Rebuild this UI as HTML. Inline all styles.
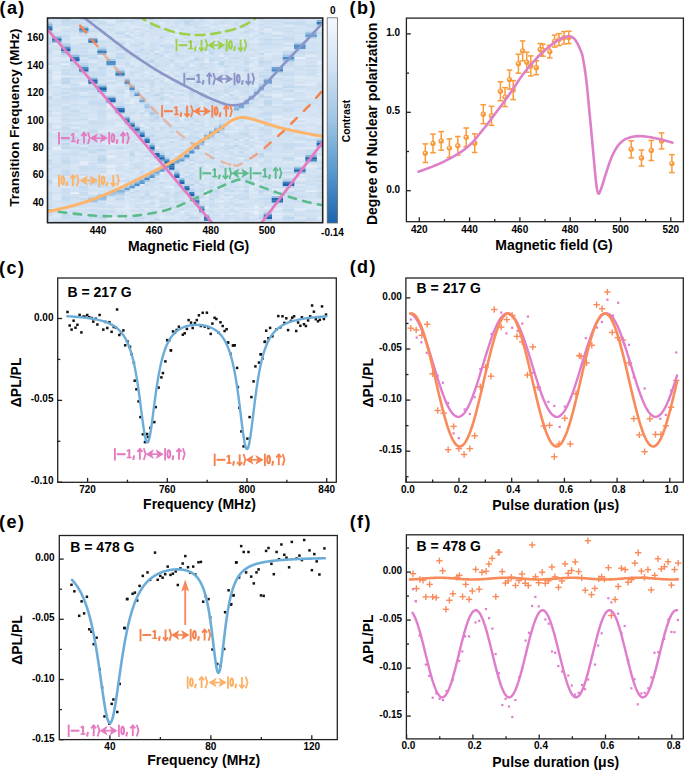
<!DOCTYPE html>
<html><head><meta charset="utf-8"><title>Figure</title>
<style>html,body{margin:0;padding:0;background:#fff;width:685px;height:770px;overflow:hidden}svg{display:block}</style>
</head><body><svg width="685" height="770" viewBox="0 0 685 770" style="font-family:'Liberation Sans',sans-serif;font-weight:bold"><defs><clipPath id="clipA"><rect x="47.5" y="18.0" width="275.2" height="204.7"/></clipPath><linearGradient id="cbar" x1="0" y1="0" x2="0" y2="1"><stop offset="0" stop-color="#f4f8fd"/><stop offset="0.25" stop-color="#d0e1f2"/><stop offset="0.5" stop-color="#9ec5e4"/><stop offset="0.75" stop-color="#5898cf"/><stop offset="1" stop-color="#1b64ad"/></linearGradient><linearGradient id="odl" gradientUnits="userSpaceOnUse" x1="80" y1="25" x2="236" y2="166"><stop offset="0" stop-color="#f4844e" stop-opacity="1"/><stop offset="0.1" stop-color="#f4844e" stop-opacity="0.95"/><stop offset="0.16" stop-color="#f4844e" stop-opacity="0.5"/><stop offset="1" stop-color="#f4844e" stop-opacity="0.42"/></linearGradient><linearGradient id="odr" gradientUnits="userSpaceOnUse" x1="236" y1="166" x2="323" y2="90"><stop offset="0" stop-color="#f4844e" stop-opacity="0.45"/><stop offset="0.45" stop-color="#f4844e" stop-opacity="1"/><stop offset="1" stop-color="#f4844e" stop-opacity="1"/></linearGradient><filter id="soft" x="0" y="0" width="1" height="1"><feGaussianBlur stdDeviation="0.45"/></filter></defs><g clip-path="url(#clipA)"><g filter="url(#soft)"><path fill="#eff5fb" d="M204.0 194.0h5.3v2.3h-5.3z"/><path fill="#ebf2fa" d="M52.1 147.0h9.4v2.3h-9.4zM70.2 192.0h9.3v2.3h-9.3z"/><path fill="#e9f1fa" d="M106.4 155.1h9.3v2.3h-9.3zM253.8 206.3h5.3v2.3h-5.3zM253.8 212.5h5.3v2.3h-5.3z"/><path fill="#e7f0f9" d="M52.1 42.6h9.4v2.3h-9.4zM52.1 179.7h9.4v2.3h-9.4zM106.4 104.0h9.3v2.3h-9.3zM106.4 142.9h9.3v2.3h-9.3zM169.2 185.9h5.3v2.3h-5.3zM194.1 46.7h5.3v2.3h-5.3zM204.0 189.9h5.3v2.3h-5.3z"/><path fill="#e6eff9" d="M47.5 65.1h4.9v2.3h-4.9zM47.5 220.7h4.9v2.3h-4.9zM106.4 165.4h9.3v2.3h-9.3zM106.4 216.6h9.3v2.3h-9.3zM115.4 216.6h9.3v2.3h-9.3zM144.4 89.6h5.3v2.3h-5.3zM154.3 147.0h5.3v2.3h-5.3zM159.3 194.0h5.3v2.3h-5.3zM164.3 101.9h5.3v2.3h-5.3zM184.2 132.6h5.3v2.3h-5.3zM199.1 106.0h5.3v2.3h-5.3zM204.0 206.3h5.3v2.3h-5.3zM219.0 44.6h5.3v2.3h-5.3zM228.9 42.6h5.3v2.3h-5.3zM294.0 56.9h11.6v2.3h-11.6z"/><path fill="#e4eef8" d="M61.2 63.0h9.3v2.3h-9.3zM70.2 212.5h9.3v2.3h-9.3zM79.2 161.3h9.3v2.3h-9.3zM97.3 136.7h9.3v2.3h-9.3zM115.4 183.8h9.3v2.3h-9.3zM129.5 101.9h5.3v2.3h-5.3zM139.4 124.4h5.3v2.3h-5.3zM144.4 71.2h5.3v2.3h-5.3zM144.4 126.5h5.3v2.3h-5.3zM144.4 157.2h5.3v2.3h-5.3zM159.3 216.6h5.3v2.3h-5.3zM164.3 93.7h5.3v2.3h-5.3zM174.2 34.4h5.3v2.3h-5.3zM174.2 44.6h5.3v2.3h-5.3zM174.2 153.1h5.3v2.3h-5.3zM179.2 116.3h5.3v2.3h-5.3zM179.2 210.4h5.3v2.3h-5.3zM204.0 142.9h5.3v2.3h-5.3zM219.0 54.8h5.3v2.3h-5.3zM219.0 101.9h5.3v2.3h-5.3zM219.0 200.2h5.3v2.3h-5.3zM223.9 163.3h5.3v2.3h-5.3zM228.9 212.5h5.3v2.3h-5.3zM238.8 157.2h5.3v2.3h-5.3zM253.8 179.7h5.3v2.3h-5.3zM253.8 210.4h5.3v2.3h-5.3zM282.7 97.8h11.6v2.3h-11.6zM294.0 177.7h11.6v2.3h-11.6zM305.3 189.9h11.6v2.3h-11.6zM316.6 61.0h6.4v2.3h-6.4zM316.6 155.1h6.4v2.3h-6.4zM316.6 206.3h6.4v2.3h-6.4z"/><path fill="#e2ecf8" d="M52.1 75.3h9.4v2.3h-9.4zM52.1 77.4h9.4v2.3h-9.4zM70.2 126.5h9.3v2.3h-9.3zM79.2 163.3h9.3v2.3h-9.3zM88.3 192.0h9.3v2.3h-9.3zM97.3 173.6h9.3v2.3h-9.3zM106.4 20.0h9.3v2.3h-9.3zM106.4 169.5h9.3v2.3h-9.3zM106.4 171.5h9.3v2.3h-9.3zM115.4 124.4h9.3v2.3h-9.3zM124.5 38.5h5.3v2.3h-5.3zM124.5 89.6h5.3v2.3h-5.3zM124.5 130.6h5.3v2.3h-5.3zM134.4 140.8h5.3v2.3h-5.3zM154.3 50.8h5.3v2.3h-5.3zM164.3 54.8h5.3v2.3h-5.3zM164.3 79.4h5.3v2.3h-5.3zM174.2 114.2h5.3v2.3h-5.3zM179.2 220.7h5.3v2.3h-5.3zM189.1 65.1h5.3v2.3h-5.3zM204.0 212.5h5.3v2.3h-5.3zM223.9 24.1h5.3v2.3h-5.3zM228.9 116.3h5.3v2.3h-5.3zM238.8 40.5h5.3v2.3h-5.3zM248.8 26.2h5.3v2.3h-5.3zM248.8 34.4h5.3v2.3h-5.3zM253.8 40.5h5.3v2.3h-5.3zM271.7 93.7h11.3v2.3h-11.3zM271.7 116.3h11.3v2.3h-11.3zM271.7 124.4h11.3v2.3h-11.3zM294.0 118.3h11.6v2.3h-11.6zM294.0 157.2h11.6v2.3h-11.6zM294.0 173.6h11.6v2.3h-11.6zM294.0 208.4h11.6v2.3h-11.6zM305.3 220.7h11.6v2.3h-11.6z"/><path fill="#e0ebf7" d="M52.1 71.2h9.4v2.3h-9.4zM52.1 83.5h9.4v2.3h-9.4zM52.1 112.2h9.4v2.3h-9.4zM52.1 130.6h9.4v2.3h-9.4zM61.2 58.9h9.3v2.3h-9.3zM61.2 185.9h9.3v2.3h-9.3zM106.4 106.0h9.3v2.3h-9.3zM115.4 177.7h9.3v2.3h-9.3zM129.5 99.9h5.3v2.3h-5.3zM129.5 198.1h5.3v2.3h-5.3zM134.4 159.2h5.3v2.3h-5.3zM144.4 114.2h5.3v2.3h-5.3zM144.4 200.2h5.3v2.3h-5.3zM144.4 208.4h5.3v2.3h-5.3zM154.3 204.3h5.3v2.3h-5.3zM164.3 40.5h5.3v2.3h-5.3zM164.3 71.2h5.3v2.3h-5.3zM164.3 185.9h5.3v2.3h-5.3zM169.2 173.6h5.3v2.3h-5.3zM174.2 42.6h5.3v2.3h-5.3zM174.2 132.6h5.3v2.3h-5.3zM179.2 204.3h5.3v2.3h-5.3zM184.2 87.6h5.3v2.3h-5.3zM184.2 101.9h5.3v2.3h-5.3zM184.2 116.3h5.3v2.3h-5.3zM189.1 161.3h5.3v2.3h-5.3zM204.0 58.9h5.3v2.3h-5.3zM204.0 61.0h5.3v2.3h-5.3zM204.0 165.4h5.3v2.3h-5.3zM214.0 61.0h5.3v2.3h-5.3zM223.9 93.7h5.3v2.3h-5.3zM223.9 130.6h5.3v2.3h-5.3zM223.9 177.7h5.3v2.3h-5.3zM228.9 91.7h5.3v2.3h-5.3zM228.9 130.6h5.3v2.3h-5.3zM238.8 138.8h5.3v2.3h-5.3zM238.8 173.6h5.3v2.3h-5.3zM248.8 65.1h5.3v2.3h-5.3zM253.8 85.6h5.3v2.3h-5.3zM253.8 163.3h5.3v2.3h-5.3zM263.7 52.8h8.3v2.3h-8.3zM271.7 85.6h11.3v2.3h-11.3zM271.7 177.7h11.3v2.3h-11.3zM271.7 187.9h11.3v2.3h-11.3zM271.7 212.5h11.3v2.3h-11.3zM282.7 24.1h11.6v2.3h-11.6zM282.7 118.3h11.6v2.3h-11.6zM305.3 54.8h11.6v2.3h-11.6zM305.3 147.0h11.6v2.3h-11.6zM305.3 165.4h11.6v2.3h-11.6zM316.6 63.0h6.4v2.3h-6.4zM316.6 73.3h6.4v2.3h-6.4zM316.6 157.2h6.4v2.3h-6.4z"/><path fill="#deeaf6" d="M47.5 118.3h4.9v2.3h-4.9zM52.1 28.2h9.4v2.3h-9.4zM52.1 126.5h9.4v2.3h-9.4zM61.2 85.6h9.3v2.3h-9.3zM79.2 40.5h9.3v2.3h-9.3zM79.2 83.5h9.3v2.3h-9.3zM88.3 26.2h9.3v2.3h-9.3zM88.3 61.0h9.3v2.3h-9.3zM97.3 54.8h9.3v2.3h-9.3zM97.3 130.6h9.3v2.3h-9.3zM106.4 183.8h9.3v2.3h-9.3zM106.4 218.6h9.3v2.3h-9.3zM115.4 185.9h9.3v2.3h-9.3zM124.5 42.6h5.3v2.3h-5.3zM124.5 206.3h5.3v2.3h-5.3zM124.5 210.4h5.3v2.3h-5.3zM129.5 26.2h5.3v2.3h-5.3zM129.5 97.8h5.3v2.3h-5.3zM129.5 212.5h5.3v2.3h-5.3zM134.4 26.2h5.3v2.3h-5.3zM134.4 30.3h5.3v2.3h-5.3zM134.4 65.1h5.3v2.3h-5.3zM134.4 153.1h5.3v2.3h-5.3zM159.3 22.1h5.3v2.3h-5.3zM159.3 106.0h5.3v2.3h-5.3zM164.3 147.0h5.3v2.3h-5.3zM169.2 138.8h5.3v2.3h-5.3zM174.2 30.3h5.3v2.3h-5.3zM179.2 61.0h5.3v2.3h-5.3zM194.1 112.2h5.3v2.3h-5.3zM194.1 128.5h5.3v2.3h-5.3zM199.1 44.6h5.3v2.3h-5.3zM199.1 175.6h5.3v2.3h-5.3zM199.1 216.6h5.3v2.3h-5.3zM204.0 24.1h5.3v2.3h-5.3zM204.0 42.6h5.3v2.3h-5.3zM204.0 50.8h5.3v2.3h-5.3zM204.0 91.7h5.3v2.3h-5.3zM204.0 181.8h5.3v2.3h-5.3zM204.0 198.1h5.3v2.3h-5.3zM209.0 26.2h5.3v2.3h-5.3zM214.0 38.5h5.3v2.3h-5.3zM214.0 81.5h5.3v2.3h-5.3zM214.0 151.1h5.3v2.3h-5.3zM219.0 28.2h5.3v2.3h-5.3zM219.0 142.9h5.3v2.3h-5.3zM223.9 40.5h5.3v2.3h-5.3zM223.9 196.1h5.3v2.3h-5.3zM228.9 122.4h5.3v2.3h-5.3zM228.9 196.1h5.3v2.3h-5.3zM233.9 126.5h5.3v2.3h-5.3zM243.8 136.7h5.3v2.3h-5.3zM248.8 56.9h5.3v2.3h-5.3zM248.8 69.2h5.3v2.3h-5.3zM248.8 108.1h5.3v2.3h-5.3zM248.8 138.8h5.3v2.3h-5.3zM248.8 149.0h5.3v2.3h-5.3zM248.8 173.6h5.3v2.3h-5.3zM248.8 185.9h5.3v2.3h-5.3zM248.8 216.6h5.3v2.3h-5.3zM253.8 28.2h5.3v2.3h-5.3zM253.8 61.0h5.3v2.3h-5.3zM253.8 120.3h5.3v2.3h-5.3zM253.8 183.8h5.3v2.3h-5.3zM258.7 104.0h5.3v2.3h-5.3zM258.7 124.4h5.3v2.3h-5.3zM263.7 28.2h8.3v2.3h-8.3zM271.7 32.3h11.3v2.3h-11.3zM282.7 42.6h11.6v2.3h-11.6zM282.7 46.7h11.6v2.3h-11.6zM282.7 161.3h11.6v2.3h-11.6zM282.7 187.9h11.6v2.3h-11.6zM294.0 83.5h11.6v2.3h-11.6zM305.3 83.5h11.6v2.3h-11.6zM316.6 216.6h6.4v2.3h-6.4zM316.6 220.7h6.4v2.3h-6.4z"/><path fill="#dde9f6" d="M47.5 153.1h4.9v2.3h-4.9zM52.1 56.9h9.4v2.3h-9.4zM52.1 124.4h9.4v2.3h-9.4zM52.1 149.0h9.4v2.3h-9.4zM52.1 198.1h9.4v2.3h-9.4zM61.2 26.2h9.3v2.3h-9.3zM61.2 75.3h9.3v2.3h-9.3zM70.2 36.4h9.3v2.3h-9.3zM79.2 81.5h9.3v2.3h-9.3zM79.2 91.7h9.3v2.3h-9.3zM79.2 144.9h9.3v2.3h-9.3zM79.2 175.6h9.3v2.3h-9.3zM97.3 36.4h9.3v2.3h-9.3zM97.3 140.8h9.3v2.3h-9.3zM106.4 52.8h9.3v2.3h-9.3zM106.4 79.4h9.3v2.3h-9.3zM106.4 91.7h9.3v2.3h-9.3zM106.4 114.2h9.3v2.3h-9.3zM106.4 116.3h9.3v2.3h-9.3zM106.4 202.2h9.3v2.3h-9.3zM115.4 83.5h9.3v2.3h-9.3zM115.4 171.5h9.3v2.3h-9.3zM115.4 181.8h9.3v2.3h-9.3zM124.5 48.7h5.3v2.3h-5.3zM124.5 93.7h5.3v2.3h-5.3zM124.5 95.8h5.3v2.3h-5.3zM124.5 101.9h5.3v2.3h-5.3zM124.5 153.1h5.3v2.3h-5.3zM124.5 163.3h5.3v2.3h-5.3zM124.5 173.6h5.3v2.3h-5.3zM124.5 192.0h5.3v2.3h-5.3zM124.5 196.1h5.3v2.3h-5.3zM124.5 216.6h5.3v2.3h-5.3zM124.5 220.7h5.3v2.3h-5.3zM129.5 58.9h5.3v2.3h-5.3zM129.5 106.0h5.3v2.3h-5.3zM134.4 36.4h5.3v2.3h-5.3zM139.4 87.6h5.3v2.3h-5.3zM139.4 110.1h5.3v2.3h-5.3zM139.4 183.8h5.3v2.3h-5.3zM144.4 22.1h5.3v2.3h-5.3zM144.4 85.6h5.3v2.3h-5.3zM144.4 144.9h5.3v2.3h-5.3zM144.4 147.0h5.3v2.3h-5.3zM154.3 165.4h5.3v2.3h-5.3zM159.3 140.8h5.3v2.3h-5.3zM159.3 179.7h5.3v2.3h-5.3zM159.3 208.4h5.3v2.3h-5.3zM164.3 36.4h5.3v2.3h-5.3zM164.3 77.4h5.3v2.3h-5.3zM164.3 179.7h5.3v2.3h-5.3zM169.2 65.1h5.3v2.3h-5.3zM169.2 95.8h5.3v2.3h-5.3zM174.2 91.7h5.3v2.3h-5.3zM174.2 108.1h5.3v2.3h-5.3zM179.2 81.5h5.3v2.3h-5.3zM179.2 128.5h5.3v2.3h-5.3zM184.2 34.4h5.3v2.3h-5.3zM184.2 97.8h5.3v2.3h-5.3zM184.2 173.6h5.3v2.3h-5.3zM189.1 56.9h5.3v2.3h-5.3zM189.1 87.6h5.3v2.3h-5.3zM194.1 212.5h5.3v2.3h-5.3zM199.1 108.1h5.3v2.3h-5.3zM199.1 177.7h5.3v2.3h-5.3zM204.0 52.8h5.3v2.3h-5.3zM209.0 20.0h5.3v2.3h-5.3zM209.0 89.6h5.3v2.3h-5.3zM209.0 167.4h5.3v2.3h-5.3zM209.0 169.5h5.3v2.3h-5.3zM214.0 118.3h5.3v2.3h-5.3zM219.0 67.1h5.3v2.3h-5.3zM219.0 69.2h5.3v2.3h-5.3zM219.0 81.5h5.3v2.3h-5.3zM223.9 56.9h5.3v2.3h-5.3zM223.9 192.0h5.3v2.3h-5.3zM228.9 114.2h5.3v2.3h-5.3zM228.9 175.6h5.3v2.3h-5.3zM233.9 40.5h5.3v2.3h-5.3zM233.9 130.6h5.3v2.3h-5.3zM233.9 192.0h5.3v2.3h-5.3zM238.8 79.4h5.3v2.3h-5.3zM238.8 95.8h5.3v2.3h-5.3zM238.8 99.9h5.3v2.3h-5.3zM238.8 181.8h5.3v2.3h-5.3zM238.8 187.9h5.3v2.3h-5.3zM238.8 200.2h5.3v2.3h-5.3zM243.8 144.9h5.3v2.3h-5.3zM248.8 40.5h5.3v2.3h-5.3zM248.8 50.8h5.3v2.3h-5.3zM248.8 63.0h5.3v2.3h-5.3zM248.8 126.5h5.3v2.3h-5.3zM248.8 177.7h5.3v2.3h-5.3zM248.8 187.9h5.3v2.3h-5.3zM248.8 192.0h5.3v2.3h-5.3zM248.8 210.4h5.3v2.3h-5.3zM253.8 56.9h5.3v2.3h-5.3zM253.8 67.1h5.3v2.3h-5.3zM253.8 136.7h5.3v2.3h-5.3zM253.8 144.9h5.3v2.3h-5.3zM253.8 153.1h5.3v2.3h-5.3zM253.8 165.4h5.3v2.3h-5.3zM253.8 175.6h5.3v2.3h-5.3zM258.7 159.2h5.3v2.3h-5.3zM258.7 167.4h5.3v2.3h-5.3zM258.7 181.8h5.3v2.3h-5.3zM263.7 206.3h8.3v2.3h-8.3zM271.7 95.8h11.3v2.3h-11.3zM271.7 120.3h11.3v2.3h-11.3zM271.7 208.4h11.3v2.3h-11.3zM271.7 216.6h11.3v2.3h-11.3zM294.0 140.8h11.6v2.3h-11.6zM294.0 147.0h11.6v2.3h-11.6zM305.3 95.8h11.6v2.3h-11.6zM316.6 28.2h6.4v2.3h-6.4zM316.6 122.4h6.4v2.3h-6.4z"/><path fill="#dbe8f5" d="M47.5 93.7h4.9v2.3h-4.9zM47.5 157.2h4.9v2.3h-4.9zM52.1 50.8h9.4v2.3h-9.4zM52.1 52.8h9.4v2.3h-9.4zM52.1 58.9h9.4v2.3h-9.4zM52.1 120.3h9.4v2.3h-9.4zM52.1 177.7h9.4v2.3h-9.4zM52.1 183.8h9.4v2.3h-9.4zM52.1 196.1h9.4v2.3h-9.4zM52.1 208.4h9.4v2.3h-9.4zM52.1 214.5h9.4v2.3h-9.4zM61.2 175.6h9.3v2.3h-9.3zM70.2 18.0h9.3v2.3h-9.3zM79.2 36.4h9.3v2.3h-9.3zM88.3 118.3h9.3v2.3h-9.3zM97.3 18.0h9.3v2.3h-9.3zM97.3 179.7h9.3v2.3h-9.3zM97.3 187.9h9.3v2.3h-9.3zM106.4 73.3h9.3v2.3h-9.3zM106.4 85.6h9.3v2.3h-9.3zM106.4 130.6h9.3v2.3h-9.3zM106.4 151.1h9.3v2.3h-9.3zM106.4 157.2h9.3v2.3h-9.3zM106.4 173.6h9.3v2.3h-9.3zM115.4 28.2h9.3v2.3h-9.3zM115.4 65.1h9.3v2.3h-9.3zM115.4 142.9h9.3v2.3h-9.3zM115.4 208.4h9.3v2.3h-9.3zM115.4 218.6h9.3v2.3h-9.3zM124.5 22.1h5.3v2.3h-5.3zM124.5 32.3h5.3v2.3h-5.3zM124.5 91.7h5.3v2.3h-5.3zM124.5 149.0h5.3v2.3h-5.3zM124.5 181.8h5.3v2.3h-5.3zM124.5 204.3h5.3v2.3h-5.3zM129.5 63.0h5.3v2.3h-5.3zM129.5 175.6h5.3v2.3h-5.3zM129.5 194.0h5.3v2.3h-5.3zM134.4 171.5h5.3v2.3h-5.3zM134.4 187.9h5.3v2.3h-5.3zM139.4 18.0h5.3v2.3h-5.3zM139.4 61.0h5.3v2.3h-5.3zM144.4 42.6h5.3v2.3h-5.3zM144.4 218.6h5.3v2.3h-5.3zM149.4 63.0h5.3v2.3h-5.3zM149.4 159.2h5.3v2.3h-5.3zM154.3 36.4h5.3v2.3h-5.3zM154.3 161.3h5.3v2.3h-5.3zM154.3 192.0h5.3v2.3h-5.3zM154.3 200.2h5.3v2.3h-5.3zM154.3 220.7h5.3v2.3h-5.3zM159.3 48.7h5.3v2.3h-5.3zM159.3 122.4h5.3v2.3h-5.3zM159.3 171.5h5.3v2.3h-5.3zM169.2 32.3h5.3v2.3h-5.3zM169.2 36.4h5.3v2.3h-5.3zM169.2 40.5h5.3v2.3h-5.3zM169.2 63.0h5.3v2.3h-5.3zM169.2 114.2h5.3v2.3h-5.3zM169.2 208.4h5.3v2.3h-5.3zM169.2 216.6h5.3v2.3h-5.3zM174.2 28.2h5.3v2.3h-5.3zM174.2 71.2h5.3v2.3h-5.3zM174.2 104.0h5.3v2.3h-5.3zM174.2 218.6h5.3v2.3h-5.3zM179.2 24.1h5.3v2.3h-5.3zM179.2 87.6h5.3v2.3h-5.3zM179.2 91.7h5.3v2.3h-5.3zM179.2 101.9h5.3v2.3h-5.3zM179.2 114.2h5.3v2.3h-5.3zM179.2 118.3h5.3v2.3h-5.3zM179.2 147.0h5.3v2.3h-5.3zM184.2 58.9h5.3v2.3h-5.3zM184.2 216.6h5.3v2.3h-5.3zM189.1 63.0h5.3v2.3h-5.3zM189.1 79.4h5.3v2.3h-5.3zM194.1 91.7h5.3v2.3h-5.3zM199.1 89.6h5.3v2.3h-5.3zM199.1 132.6h5.3v2.3h-5.3zM199.1 198.1h5.3v2.3h-5.3zM199.1 218.6h5.3v2.3h-5.3zM204.0 151.1h5.3v2.3h-5.3zM209.0 220.7h5.3v2.3h-5.3zM219.0 71.2h5.3v2.3h-5.3zM219.0 79.4h5.3v2.3h-5.3zM219.0 95.8h5.3v2.3h-5.3zM219.0 179.7h5.3v2.3h-5.3zM219.0 187.9h5.3v2.3h-5.3zM219.0 196.1h5.3v2.3h-5.3zM219.0 206.3h5.3v2.3h-5.3zM223.9 36.4h5.3v2.3h-5.3zM223.9 81.5h5.3v2.3h-5.3zM223.9 138.8h5.3v2.3h-5.3zM223.9 155.1h5.3v2.3h-5.3zM223.9 171.5h5.3v2.3h-5.3zM223.9 198.1h5.3v2.3h-5.3zM228.9 36.4h5.3v2.3h-5.3zM228.9 71.2h5.3v2.3h-5.3zM228.9 110.1h5.3v2.3h-5.3zM228.9 149.0h5.3v2.3h-5.3zM228.9 165.4h5.3v2.3h-5.3zM233.9 89.6h5.3v2.3h-5.3zM233.9 151.1h5.3v2.3h-5.3zM233.9 206.3h5.3v2.3h-5.3zM238.8 28.2h5.3v2.3h-5.3zM238.8 36.4h5.3v2.3h-5.3zM238.8 61.0h5.3v2.3h-5.3zM238.8 142.9h5.3v2.3h-5.3zM243.8 120.3h5.3v2.3h-5.3zM243.8 200.2h5.3v2.3h-5.3zM248.8 155.1h5.3v2.3h-5.3zM248.8 189.9h5.3v2.3h-5.3zM253.8 18.0h5.3v2.3h-5.3zM253.8 20.0h5.3v2.3h-5.3zM253.8 26.2h5.3v2.3h-5.3zM253.8 79.4h5.3v2.3h-5.3zM253.8 95.8h5.3v2.3h-5.3zM253.8 173.6h5.3v2.3h-5.3zM253.8 192.0h5.3v2.3h-5.3zM253.8 204.3h5.3v2.3h-5.3zM258.7 50.8h5.3v2.3h-5.3zM258.7 67.1h5.3v2.3h-5.3zM258.7 144.9h5.3v2.3h-5.3zM258.7 147.0h5.3v2.3h-5.3zM263.7 30.3h8.3v2.3h-8.3zM263.7 93.7h8.3v2.3h-8.3zM263.7 153.1h8.3v2.3h-8.3zM263.7 192.0h8.3v2.3h-8.3zM271.7 52.8h11.3v2.3h-11.3zM271.7 104.0h11.3v2.3h-11.3zM271.7 132.6h11.3v2.3h-11.3zM271.7 169.5h11.3v2.3h-11.3zM271.7 189.9h11.3v2.3h-11.3zM271.7 194.0h11.3v2.3h-11.3zM282.7 153.1h11.6v2.3h-11.6zM282.7 169.5h11.6v2.3h-11.6zM282.7 175.6h11.6v2.3h-11.6zM294.0 89.6h11.6v2.3h-11.6zM294.0 132.6h11.6v2.3h-11.6zM294.0 216.6h11.6v2.3h-11.6zM316.6 118.3h6.4v2.3h-6.4z"/><path fill="#d9e7f5" d="M47.5 20.0h4.9v2.3h-4.9zM47.5 44.6h4.9v2.3h-4.9zM47.5 120.3h4.9v2.3h-4.9zM52.1 79.4h9.4v2.3h-9.4zM52.1 118.3h9.4v2.3h-9.4zM52.1 155.1h9.4v2.3h-9.4zM52.1 185.9h9.4v2.3h-9.4zM52.1 194.0h9.4v2.3h-9.4zM61.2 56.9h9.3v2.3h-9.3zM61.2 104.0h9.3v2.3h-9.3zM70.2 42.6h9.3v2.3h-9.3zM70.2 75.3h9.3v2.3h-9.3zM79.2 93.7h9.3v2.3h-9.3zM79.2 101.9h9.3v2.3h-9.3zM79.2 110.1h9.3v2.3h-9.3zM79.2 151.1h9.3v2.3h-9.3zM88.3 153.1h9.3v2.3h-9.3zM106.4 42.6h9.3v2.3h-9.3zM106.4 67.1h9.3v2.3h-9.3zM106.4 108.1h9.3v2.3h-9.3zM106.4 126.5h9.3v2.3h-9.3zM106.4 128.5h9.3v2.3h-9.3zM115.4 38.5h9.3v2.3h-9.3zM115.4 50.8h9.3v2.3h-9.3zM115.4 128.5h9.3v2.3h-9.3zM115.4 136.7h9.3v2.3h-9.3zM124.5 24.1h5.3v2.3h-5.3zM124.5 44.6h5.3v2.3h-5.3zM124.5 67.1h5.3v2.3h-5.3zM124.5 69.2h5.3v2.3h-5.3zM124.5 142.9h5.3v2.3h-5.3zM129.5 40.5h5.3v2.3h-5.3zM129.5 138.8h5.3v2.3h-5.3zM129.5 147.0h5.3v2.3h-5.3zM129.5 189.9h5.3v2.3h-5.3zM134.4 63.0h5.3v2.3h-5.3zM134.4 73.3h5.3v2.3h-5.3zM134.4 99.9h5.3v2.3h-5.3zM134.4 116.3h5.3v2.3h-5.3zM134.4 134.7h5.3v2.3h-5.3zM134.4 169.5h5.3v2.3h-5.3zM134.4 212.5h5.3v2.3h-5.3zM139.4 91.7h5.3v2.3h-5.3zM144.4 63.0h5.3v2.3h-5.3zM144.4 149.0h5.3v2.3h-5.3zM144.4 153.1h5.3v2.3h-5.3zM144.4 171.5h5.3v2.3h-5.3zM149.4 73.3h5.3v2.3h-5.3zM149.4 192.0h5.3v2.3h-5.3zM154.3 58.9h5.3v2.3h-5.3zM154.3 67.1h5.3v2.3h-5.3zM154.3 73.3h5.3v2.3h-5.3zM154.3 85.6h5.3v2.3h-5.3zM154.3 89.6h5.3v2.3h-5.3zM154.3 185.9h5.3v2.3h-5.3zM159.3 24.1h5.3v2.3h-5.3zM159.3 42.6h5.3v2.3h-5.3zM159.3 85.6h5.3v2.3h-5.3zM159.3 173.6h5.3v2.3h-5.3zM159.3 177.7h5.3v2.3h-5.3zM164.3 67.1h5.3v2.3h-5.3zM164.3 116.3h5.3v2.3h-5.3zM169.2 42.6h5.3v2.3h-5.3zM169.2 81.5h5.3v2.3h-5.3zM169.2 89.6h5.3v2.3h-5.3zM169.2 175.6h5.3v2.3h-5.3zM169.2 189.9h5.3v2.3h-5.3zM169.2 198.1h5.3v2.3h-5.3zM174.2 61.0h5.3v2.3h-5.3zM179.2 42.6h5.3v2.3h-5.3zM179.2 95.8h5.3v2.3h-5.3zM179.2 175.6h5.3v2.3h-5.3zM184.2 38.5h5.3v2.3h-5.3zM184.2 46.7h5.3v2.3h-5.3zM184.2 140.8h5.3v2.3h-5.3zM184.2 149.0h5.3v2.3h-5.3zM189.1 26.2h5.3v2.3h-5.3zM189.1 169.5h5.3v2.3h-5.3zM194.1 61.0h5.3v2.3h-5.3zM194.1 87.6h5.3v2.3h-5.3zM194.1 153.1h5.3v2.3h-5.3zM194.1 163.3h5.3v2.3h-5.3zM194.1 167.4h5.3v2.3h-5.3zM194.1 183.8h5.3v2.3h-5.3zM199.1 104.0h5.3v2.3h-5.3zM199.1 136.7h5.3v2.3h-5.3zM204.0 65.1h5.3v2.3h-5.3zM204.0 75.3h5.3v2.3h-5.3zM204.0 99.9h5.3v2.3h-5.3zM204.0 116.3h5.3v2.3h-5.3zM204.0 124.4h5.3v2.3h-5.3zM204.0 169.5h5.3v2.3h-5.3zM204.0 173.6h5.3v2.3h-5.3zM209.0 106.0h5.3v2.3h-5.3zM214.0 71.2h5.3v2.3h-5.3zM214.0 155.1h5.3v2.3h-5.3zM214.0 173.6h5.3v2.3h-5.3zM214.0 179.7h5.3v2.3h-5.3zM214.0 185.9h5.3v2.3h-5.3zM214.0 198.1h5.3v2.3h-5.3zM214.0 200.2h5.3v2.3h-5.3zM219.0 24.1h5.3v2.3h-5.3zM219.0 106.0h5.3v2.3h-5.3zM219.0 194.0h5.3v2.3h-5.3zM223.9 63.0h5.3v2.3h-5.3zM223.9 79.4h5.3v2.3h-5.3zM228.9 18.0h5.3v2.3h-5.3zM228.9 26.2h5.3v2.3h-5.3zM228.9 67.1h5.3v2.3h-5.3zM228.9 124.4h5.3v2.3h-5.3zM228.9 142.9h5.3v2.3h-5.3zM228.9 192.0h5.3v2.3h-5.3zM228.9 220.7h5.3v2.3h-5.3zM233.9 63.0h5.3v2.3h-5.3zM233.9 140.8h5.3v2.3h-5.3zM233.9 198.1h5.3v2.3h-5.3zM238.8 42.6h5.3v2.3h-5.3zM238.8 83.5h5.3v2.3h-5.3zM238.8 126.5h5.3v2.3h-5.3zM238.8 183.8h5.3v2.3h-5.3zM243.8 151.1h5.3v2.3h-5.3zM248.8 132.6h5.3v2.3h-5.3zM253.8 22.1h5.3v2.3h-5.3zM253.8 32.3h5.3v2.3h-5.3zM253.8 46.7h5.3v2.3h-5.3zM253.8 54.8h5.3v2.3h-5.3zM253.8 83.5h5.3v2.3h-5.3zM253.8 110.1h5.3v2.3h-5.3zM253.8 132.6h5.3v2.3h-5.3zM253.8 171.5h5.3v2.3h-5.3zM253.8 181.8h5.3v2.3h-5.3zM253.8 185.9h5.3v2.3h-5.3zM253.8 196.1h5.3v2.3h-5.3zM258.7 54.8h5.3v2.3h-5.3zM258.7 91.7h5.3v2.3h-5.3zM258.7 118.3h5.3v2.3h-5.3zM258.7 140.8h5.3v2.3h-5.3zM258.7 196.1h5.3v2.3h-5.3zM263.7 18.0h8.3v2.3h-8.3zM263.7 54.8h8.3v2.3h-8.3zM271.7 36.4h11.3v2.3h-11.3zM271.7 63.0h11.3v2.3h-11.3zM271.7 130.6h11.3v2.3h-11.3zM271.7 159.2h11.3v2.3h-11.3zM271.7 206.3h11.3v2.3h-11.3zM271.7 214.5h11.3v2.3h-11.3zM282.7 48.7h11.6v2.3h-11.6zM282.7 126.5h11.6v2.3h-11.6zM294.0 63.0h11.6v2.3h-11.6zM294.0 75.3h11.6v2.3h-11.6zM294.0 122.4h11.6v2.3h-11.6zM294.0 163.3h11.6v2.3h-11.6zM294.0 179.7h11.6v2.3h-11.6zM294.0 183.8h11.6v2.3h-11.6zM294.0 198.1h11.6v2.3h-11.6zM305.3 38.5h11.6v2.3h-11.6zM305.3 81.5h11.6v2.3h-11.6zM305.3 91.7h11.6v2.3h-11.6zM305.3 108.1h11.6v2.3h-11.6zM305.3 118.3h11.6v2.3h-11.6zM305.3 126.5h11.6v2.3h-11.6zM305.3 134.7h11.6v2.3h-11.6zM305.3 204.3h11.6v2.3h-11.6zM316.6 77.4h6.4v2.3h-6.4zM316.6 134.7h6.4v2.3h-6.4zM316.6 169.5h6.4v2.3h-6.4zM316.6 198.1h6.4v2.3h-6.4zM316.6 218.6h6.4v2.3h-6.4z"/><path fill="#d7e6f4" d="M47.5 58.9h4.9v2.3h-4.9zM47.5 91.7h4.9v2.3h-4.9zM47.5 108.1h4.9v2.3h-4.9zM47.5 116.3h4.9v2.3h-4.9zM47.5 210.4h4.9v2.3h-4.9zM47.5 216.6h4.9v2.3h-4.9zM52.1 22.1h9.4v2.3h-9.4zM52.1 65.1h9.4v2.3h-9.4zM52.1 67.1h9.4v2.3h-9.4zM52.1 73.3h9.4v2.3h-9.4zM52.1 89.6h9.4v2.3h-9.4zM52.1 95.8h9.4v2.3h-9.4zM52.1 106.0h9.4v2.3h-9.4zM52.1 116.3h9.4v2.3h-9.4zM52.1 132.6h9.4v2.3h-9.4zM52.1 138.8h9.4v2.3h-9.4zM52.1 140.8h9.4v2.3h-9.4zM52.1 142.9h9.4v2.3h-9.4zM52.1 144.9h9.4v2.3h-9.4zM52.1 181.8h9.4v2.3h-9.4zM52.1 187.9h9.4v2.3h-9.4zM52.1 189.9h9.4v2.3h-9.4zM52.1 216.6h9.4v2.3h-9.4zM61.2 149.0h9.3v2.3h-9.3zM61.2 204.3h9.3v2.3h-9.3zM70.2 38.5h9.3v2.3h-9.3zM70.2 40.5h9.3v2.3h-9.3zM70.2 122.4h9.3v2.3h-9.3zM70.2 142.9h9.3v2.3h-9.3zM70.2 175.6h9.3v2.3h-9.3zM79.2 128.5h9.3v2.3h-9.3zM79.2 157.2h9.3v2.3h-9.3zM79.2 196.1h9.3v2.3h-9.3zM88.3 22.1h9.3v2.3h-9.3zM88.3 48.7h9.3v2.3h-9.3zM88.3 185.9h9.3v2.3h-9.3zM97.3 38.5h9.3v2.3h-9.3zM106.4 22.1h9.3v2.3h-9.3zM106.4 26.2h9.3v2.3h-9.3zM106.4 46.7h9.3v2.3h-9.3zM106.4 87.6h9.3v2.3h-9.3zM106.4 118.3h9.3v2.3h-9.3zM106.4 140.8h9.3v2.3h-9.3zM106.4 181.8h9.3v2.3h-9.3zM106.4 198.1h9.3v2.3h-9.3zM115.4 24.1h9.3v2.3h-9.3zM115.4 93.7h9.3v2.3h-9.3zM115.4 116.3h9.3v2.3h-9.3zM115.4 122.4h9.3v2.3h-9.3zM115.4 138.8h9.3v2.3h-9.3zM115.4 149.0h9.3v2.3h-9.3zM115.4 159.2h9.3v2.3h-9.3zM124.5 18.0h5.3v2.3h-5.3zM124.5 155.1h5.3v2.3h-5.3zM124.5 161.3h5.3v2.3h-5.3zM124.5 167.4h5.3v2.3h-5.3zM124.5 202.2h5.3v2.3h-5.3zM124.5 208.4h5.3v2.3h-5.3zM124.5 212.5h5.3v2.3h-5.3zM124.5 214.5h5.3v2.3h-5.3zM129.5 24.1h5.3v2.3h-5.3zM129.5 34.4h5.3v2.3h-5.3zM129.5 50.8h5.3v2.3h-5.3zM129.5 61.0h5.3v2.3h-5.3zM129.5 116.3h5.3v2.3h-5.3zM129.5 161.3h5.3v2.3h-5.3zM129.5 173.6h5.3v2.3h-5.3zM129.5 206.3h5.3v2.3h-5.3zM134.4 52.8h5.3v2.3h-5.3zM134.4 61.0h5.3v2.3h-5.3zM134.4 97.8h5.3v2.3h-5.3zM134.4 114.2h5.3v2.3h-5.3zM134.4 118.3h5.3v2.3h-5.3zM134.4 151.1h5.3v2.3h-5.3zM134.4 202.2h5.3v2.3h-5.3zM139.4 36.4h5.3v2.3h-5.3zM139.4 38.5h5.3v2.3h-5.3zM139.4 56.9h5.3v2.3h-5.3zM139.4 144.9h5.3v2.3h-5.3zM139.4 153.1h5.3v2.3h-5.3zM139.4 194.0h5.3v2.3h-5.3zM144.4 28.2h5.3v2.3h-5.3zM144.4 40.5h5.3v2.3h-5.3zM144.4 44.6h5.3v2.3h-5.3zM144.4 75.3h5.3v2.3h-5.3zM144.4 112.2h5.3v2.3h-5.3zM144.4 161.3h5.3v2.3h-5.3zM149.4 56.9h5.3v2.3h-5.3zM154.3 75.3h5.3v2.3h-5.3zM154.3 79.4h5.3v2.3h-5.3zM154.3 101.9h5.3v2.3h-5.3zM154.3 128.5h5.3v2.3h-5.3zM154.3 132.6h5.3v2.3h-5.3zM154.3 189.9h5.3v2.3h-5.3zM159.3 46.7h5.3v2.3h-5.3zM159.3 75.3h5.3v2.3h-5.3zM159.3 210.4h5.3v2.3h-5.3zM159.3 214.5h5.3v2.3h-5.3zM164.3 24.1h5.3v2.3h-5.3zM164.3 216.6h5.3v2.3h-5.3zM169.2 24.1h5.3v2.3h-5.3zM169.2 28.2h5.3v2.3h-5.3zM169.2 52.8h5.3v2.3h-5.3zM169.2 73.3h5.3v2.3h-5.3zM169.2 112.2h5.3v2.3h-5.3zM169.2 144.9h5.3v2.3h-5.3zM169.2 177.7h5.3v2.3h-5.3zM169.2 192.0h5.3v2.3h-5.3zM169.2 202.2h5.3v2.3h-5.3zM174.2 58.9h5.3v2.3h-5.3zM174.2 77.4h5.3v2.3h-5.3zM174.2 124.4h5.3v2.3h-5.3zM174.2 138.8h5.3v2.3h-5.3zM174.2 204.3h5.3v2.3h-5.3zM174.2 216.6h5.3v2.3h-5.3zM179.2 52.8h5.3v2.3h-5.3zM179.2 140.8h5.3v2.3h-5.3zM179.2 198.1h5.3v2.3h-5.3zM179.2 212.5h5.3v2.3h-5.3zM184.2 122.4h5.3v2.3h-5.3zM189.1 42.6h5.3v2.3h-5.3zM189.1 46.7h5.3v2.3h-5.3zM189.1 108.1h5.3v2.3h-5.3zM194.1 52.8h5.3v2.3h-5.3zM194.1 122.4h5.3v2.3h-5.3zM199.1 71.2h5.3v2.3h-5.3zM199.1 93.7h5.3v2.3h-5.3zM199.1 101.9h5.3v2.3h-5.3zM199.1 149.0h5.3v2.3h-5.3zM204.0 20.0h5.3v2.3h-5.3zM204.0 85.6h5.3v2.3h-5.3zM204.0 114.2h5.3v2.3h-5.3zM204.0 120.3h5.3v2.3h-5.3zM204.0 128.5h5.3v2.3h-5.3zM204.0 175.6h5.3v2.3h-5.3zM204.0 196.1h5.3v2.3h-5.3zM209.0 18.0h5.3v2.3h-5.3zM209.0 95.8h5.3v2.3h-5.3zM209.0 128.5h5.3v2.3h-5.3zM214.0 26.2h5.3v2.3h-5.3zM214.0 67.1h5.3v2.3h-5.3zM214.0 142.9h5.3v2.3h-5.3zM214.0 171.5h5.3v2.3h-5.3zM214.0 181.8h5.3v2.3h-5.3zM214.0 218.6h5.3v2.3h-5.3zM219.0 52.8h5.3v2.3h-5.3zM219.0 87.6h5.3v2.3h-5.3zM219.0 108.1h5.3v2.3h-5.3zM219.0 144.9h5.3v2.3h-5.3zM219.0 171.5h5.3v2.3h-5.3zM219.0 189.9h5.3v2.3h-5.3zM219.0 214.5h5.3v2.3h-5.3zM223.9 77.4h5.3v2.3h-5.3zM223.9 179.7h5.3v2.3h-5.3zM223.9 183.8h5.3v2.3h-5.3zM223.9 208.4h5.3v2.3h-5.3zM228.9 77.4h5.3v2.3h-5.3zM228.9 99.9h5.3v2.3h-5.3zM228.9 106.0h5.3v2.3h-5.3zM228.9 120.3h5.3v2.3h-5.3zM228.9 132.6h5.3v2.3h-5.3zM228.9 179.7h5.3v2.3h-5.3zM228.9 204.3h5.3v2.3h-5.3zM228.9 218.6h5.3v2.3h-5.3zM233.9 30.3h5.3v2.3h-5.3zM233.9 93.7h5.3v2.3h-5.3zM233.9 116.3h5.3v2.3h-5.3zM233.9 157.2h5.3v2.3h-5.3zM233.9 208.4h5.3v2.3h-5.3zM238.8 30.3h5.3v2.3h-5.3zM238.8 71.2h5.3v2.3h-5.3zM238.8 75.3h5.3v2.3h-5.3zM238.8 77.4h5.3v2.3h-5.3zM238.8 169.5h5.3v2.3h-5.3zM238.8 210.4h5.3v2.3h-5.3zM243.8 108.1h5.3v2.3h-5.3zM243.8 208.4h5.3v2.3h-5.3zM248.8 83.5h5.3v2.3h-5.3zM248.8 91.7h5.3v2.3h-5.3zM248.8 122.4h5.3v2.3h-5.3zM248.8 169.5h5.3v2.3h-5.3zM248.8 196.1h5.3v2.3h-5.3zM248.8 206.3h5.3v2.3h-5.3zM253.8 24.1h5.3v2.3h-5.3zM253.8 36.4h5.3v2.3h-5.3zM253.8 38.5h5.3v2.3h-5.3zM253.8 63.0h5.3v2.3h-5.3zM253.8 75.3h5.3v2.3h-5.3zM253.8 108.1h5.3v2.3h-5.3zM253.8 138.8h5.3v2.3h-5.3zM253.8 147.0h5.3v2.3h-5.3zM253.8 208.4h5.3v2.3h-5.3zM253.8 220.7h5.3v2.3h-5.3zM258.7 22.1h5.3v2.3h-5.3zM258.7 97.8h5.3v2.3h-5.3zM258.7 110.1h5.3v2.3h-5.3zM263.7 48.7h8.3v2.3h-8.3zM263.7 56.9h8.3v2.3h-8.3zM263.7 136.7h8.3v2.3h-8.3zM263.7 179.7h8.3v2.3h-8.3zM271.7 48.7h11.3v2.3h-11.3zM271.7 50.8h11.3v2.3h-11.3zM271.7 75.3h11.3v2.3h-11.3zM271.7 114.2h11.3v2.3h-11.3zM271.7 153.1h11.3v2.3h-11.3zM271.7 179.7h11.3v2.3h-11.3zM271.7 183.8h11.3v2.3h-11.3zM271.7 220.7h11.3v2.3h-11.3zM282.7 212.5h11.6v2.3h-11.6zM294.0 61.0h11.6v2.3h-11.6zM294.0 77.4h11.6v2.3h-11.6zM294.0 79.4h11.6v2.3h-11.6zM294.0 101.9h11.6v2.3h-11.6zM305.3 77.4h11.6v2.3h-11.6zM305.3 120.3h11.6v2.3h-11.6zM305.3 136.7h11.6v2.3h-11.6zM305.3 142.9h11.6v2.3h-11.6zM305.3 163.3h11.6v2.3h-11.6zM305.3 167.4h11.6v2.3h-11.6zM305.3 185.9h11.6v2.3h-11.6zM305.3 198.1h11.6v2.3h-11.6zM305.3 206.3h11.6v2.3h-11.6zM316.6 26.2h6.4v2.3h-6.4zM316.6 46.7h6.4v2.3h-6.4zM316.6 67.1h6.4v2.3h-6.4zM316.6 69.2h6.4v2.3h-6.4zM316.6 79.4h6.4v2.3h-6.4zM316.6 136.7h6.4v2.3h-6.4zM316.6 151.1h6.4v2.3h-6.4zM316.6 159.2h6.4v2.3h-6.4z"/><path fill="#d5e4f4" d="M47.5 32.3h4.9v2.3h-4.9zM47.5 54.8h4.9v2.3h-4.9zM47.5 67.1h4.9v2.3h-4.9zM47.5 99.9h4.9v2.3h-4.9zM47.5 151.1h4.9v2.3h-4.9zM47.5 165.4h4.9v2.3h-4.9zM52.1 30.3h9.4v2.3h-9.4zM52.1 61.0h9.4v2.3h-9.4zM52.1 87.6h9.4v2.3h-9.4zM52.1 108.1h9.4v2.3h-9.4zM52.1 110.1h9.4v2.3h-9.4zM52.1 151.1h9.4v2.3h-9.4zM52.1 161.3h9.4v2.3h-9.4zM52.1 171.5h9.4v2.3h-9.4zM52.1 175.6h9.4v2.3h-9.4zM52.1 202.2h9.4v2.3h-9.4zM52.1 210.4h9.4v2.3h-9.4zM52.1 212.5h9.4v2.3h-9.4zM61.2 40.5h9.3v2.3h-9.3zM61.2 151.1h9.3v2.3h-9.3zM70.2 32.3h9.3v2.3h-9.3zM70.2 34.4h9.3v2.3h-9.3zM70.2 101.9h9.3v2.3h-9.3zM70.2 106.0h9.3v2.3h-9.3zM70.2 132.6h9.3v2.3h-9.3zM70.2 165.4h9.3v2.3h-9.3zM70.2 167.4h9.3v2.3h-9.3zM70.2 171.5h9.3v2.3h-9.3zM70.2 183.8h9.3v2.3h-9.3zM79.2 56.9h9.3v2.3h-9.3zM79.2 99.9h9.3v2.3h-9.3zM79.2 136.7h9.3v2.3h-9.3zM79.2 159.2h9.3v2.3h-9.3zM88.3 50.8h9.3v2.3h-9.3zM88.3 106.0h9.3v2.3h-9.3zM88.3 114.2h9.3v2.3h-9.3zM97.3 34.4h9.3v2.3h-9.3zM97.3 63.0h9.3v2.3h-9.3zM97.3 93.7h9.3v2.3h-9.3zM97.3 151.1h9.3v2.3h-9.3zM97.3 163.3h9.3v2.3h-9.3zM97.3 192.0h9.3v2.3h-9.3zM106.4 36.4h9.3v2.3h-9.3zM106.4 54.8h9.3v2.3h-9.3zM106.4 69.2h9.3v2.3h-9.3zM106.4 71.2h9.3v2.3h-9.3zM106.4 83.5h9.3v2.3h-9.3zM106.4 89.6h9.3v2.3h-9.3zM106.4 112.2h9.3v2.3h-9.3zM106.4 124.4h9.3v2.3h-9.3zM106.4 138.8h9.3v2.3h-9.3zM106.4 149.0h9.3v2.3h-9.3zM106.4 163.3h9.3v2.3h-9.3zM106.4 167.4h9.3v2.3h-9.3zM106.4 175.6h9.3v2.3h-9.3zM106.4 177.7h9.3v2.3h-9.3zM106.4 179.7h9.3v2.3h-9.3zM106.4 196.1h9.3v2.3h-9.3zM115.4 26.2h9.3v2.3h-9.3zM115.4 58.9h9.3v2.3h-9.3zM115.4 114.2h9.3v2.3h-9.3zM115.4 155.1h9.3v2.3h-9.3zM115.4 157.2h9.3v2.3h-9.3zM124.5 46.7h5.3v2.3h-5.3zM124.5 54.8h5.3v2.3h-5.3zM124.5 71.2h5.3v2.3h-5.3zM124.5 73.3h5.3v2.3h-5.3zM124.5 75.3h5.3v2.3h-5.3zM124.5 165.4h5.3v2.3h-5.3zM129.5 18.0h5.3v2.3h-5.3zM129.5 38.5h5.3v2.3h-5.3zM129.5 46.7h5.3v2.3h-5.3zM129.5 48.7h5.3v2.3h-5.3zM129.5 114.2h5.3v2.3h-5.3zM129.5 132.6h5.3v2.3h-5.3zM129.5 136.7h5.3v2.3h-5.3zM129.5 177.7h5.3v2.3h-5.3zM129.5 204.3h5.3v2.3h-5.3zM129.5 218.6h5.3v2.3h-5.3zM134.4 20.0h5.3v2.3h-5.3zM134.4 22.1h5.3v2.3h-5.3zM134.4 48.7h5.3v2.3h-5.3zM134.4 58.9h5.3v2.3h-5.3zM134.4 75.3h5.3v2.3h-5.3zM134.4 106.0h5.3v2.3h-5.3zM134.4 112.2h5.3v2.3h-5.3zM134.4 136.7h5.3v2.3h-5.3zM134.4 157.2h5.3v2.3h-5.3zM139.4 26.2h5.3v2.3h-5.3zM139.4 44.6h5.3v2.3h-5.3zM139.4 63.0h5.3v2.3h-5.3zM139.4 104.0h5.3v2.3h-5.3zM139.4 108.1h5.3v2.3h-5.3zM139.4 114.2h5.3v2.3h-5.3zM139.4 185.9h5.3v2.3h-5.3zM139.4 202.2h5.3v2.3h-5.3zM139.4 206.3h5.3v2.3h-5.3zM144.4 20.0h5.3v2.3h-5.3zM144.4 38.5h5.3v2.3h-5.3zM144.4 46.7h5.3v2.3h-5.3zM144.4 54.8h5.3v2.3h-5.3zM144.4 58.9h5.3v2.3h-5.3zM144.4 173.6h5.3v2.3h-5.3zM144.4 187.9h5.3v2.3h-5.3zM144.4 202.2h5.3v2.3h-5.3zM149.4 20.0h5.3v2.3h-5.3zM149.4 36.4h5.3v2.3h-5.3zM149.4 52.8h5.3v2.3h-5.3zM149.4 122.4h5.3v2.3h-5.3zM149.4 194.0h5.3v2.3h-5.3zM154.3 18.0h5.3v2.3h-5.3zM154.3 22.1h5.3v2.3h-5.3zM154.3 87.6h5.3v2.3h-5.3zM154.3 106.0h5.3v2.3h-5.3zM154.3 126.5h5.3v2.3h-5.3zM154.3 144.9h5.3v2.3h-5.3zM154.3 198.1h5.3v2.3h-5.3zM154.3 202.2h5.3v2.3h-5.3zM159.3 30.3h5.3v2.3h-5.3zM159.3 50.8h5.3v2.3h-5.3zM159.3 108.1h5.3v2.3h-5.3zM159.3 116.3h5.3v2.3h-5.3zM159.3 147.0h5.3v2.3h-5.3zM159.3 175.6h5.3v2.3h-5.3zM159.3 183.8h5.3v2.3h-5.3zM159.3 196.1h5.3v2.3h-5.3zM159.3 202.2h5.3v2.3h-5.3zM159.3 220.7h5.3v2.3h-5.3zM164.3 18.0h5.3v2.3h-5.3zM164.3 89.6h5.3v2.3h-5.3zM164.3 132.6h5.3v2.3h-5.3zM164.3 138.8h5.3v2.3h-5.3zM164.3 140.8h5.3v2.3h-5.3zM164.3 151.1h5.3v2.3h-5.3zM164.3 153.1h5.3v2.3h-5.3zM164.3 169.5h5.3v2.3h-5.3zM164.3 183.8h5.3v2.3h-5.3zM164.3 208.4h5.3v2.3h-5.3zM169.2 38.5h5.3v2.3h-5.3zM169.2 48.7h5.3v2.3h-5.3zM169.2 56.9h5.3v2.3h-5.3zM169.2 120.3h5.3v2.3h-5.3zM169.2 179.7h5.3v2.3h-5.3zM169.2 187.9h5.3v2.3h-5.3zM169.2 196.1h5.3v2.3h-5.3zM169.2 210.4h5.3v2.3h-5.3zM169.2 214.5h5.3v2.3h-5.3zM174.2 18.0h5.3v2.3h-5.3zM174.2 50.8h5.3v2.3h-5.3zM174.2 85.6h5.3v2.3h-5.3zM174.2 97.8h5.3v2.3h-5.3zM174.2 99.9h5.3v2.3h-5.3zM174.2 106.0h5.3v2.3h-5.3zM174.2 130.6h5.3v2.3h-5.3zM174.2 214.5h5.3v2.3h-5.3zM179.2 63.0h5.3v2.3h-5.3zM179.2 97.8h5.3v2.3h-5.3zM179.2 108.1h5.3v2.3h-5.3zM179.2 132.6h5.3v2.3h-5.3zM179.2 171.5h5.3v2.3h-5.3zM184.2 30.3h5.3v2.3h-5.3zM184.2 69.2h5.3v2.3h-5.3zM184.2 73.3h5.3v2.3h-5.3zM184.2 95.8h5.3v2.3h-5.3zM184.2 163.3h5.3v2.3h-5.3zM184.2 196.1h5.3v2.3h-5.3zM184.2 210.4h5.3v2.3h-5.3zM189.1 54.8h5.3v2.3h-5.3zM189.1 69.2h5.3v2.3h-5.3zM189.1 120.3h5.3v2.3h-5.3zM189.1 155.1h5.3v2.3h-5.3zM189.1 185.9h5.3v2.3h-5.3zM189.1 200.2h5.3v2.3h-5.3zM189.1 210.4h5.3v2.3h-5.3zM189.1 212.5h5.3v2.3h-5.3zM194.1 28.2h5.3v2.3h-5.3zM194.1 34.4h5.3v2.3h-5.3zM194.1 38.5h5.3v2.3h-5.3zM194.1 65.1h5.3v2.3h-5.3zM194.1 110.1h5.3v2.3h-5.3zM194.1 114.2h5.3v2.3h-5.3zM194.1 116.3h5.3v2.3h-5.3zM199.1 24.1h5.3v2.3h-5.3zM199.1 40.5h5.3v2.3h-5.3zM199.1 54.8h5.3v2.3h-5.3zM199.1 75.3h5.3v2.3h-5.3zM199.1 118.3h5.3v2.3h-5.3zM199.1 126.5h5.3v2.3h-5.3zM199.1 155.1h5.3v2.3h-5.3zM199.1 200.2h5.3v2.3h-5.3zM204.0 34.4h5.3v2.3h-5.3zM204.0 46.7h5.3v2.3h-5.3zM204.0 56.9h5.3v2.3h-5.3zM204.0 118.3h5.3v2.3h-5.3zM204.0 163.3h5.3v2.3h-5.3zM204.0 179.7h5.3v2.3h-5.3zM209.0 22.1h5.3v2.3h-5.3zM209.0 140.8h5.3v2.3h-5.3zM209.0 142.9h5.3v2.3h-5.3zM209.0 144.9h5.3v2.3h-5.3zM214.0 32.3h5.3v2.3h-5.3zM214.0 63.0h5.3v2.3h-5.3zM214.0 65.1h5.3v2.3h-5.3zM214.0 69.2h5.3v2.3h-5.3zM214.0 87.6h5.3v2.3h-5.3zM214.0 106.0h5.3v2.3h-5.3zM214.0 116.3h5.3v2.3h-5.3zM214.0 147.0h5.3v2.3h-5.3zM214.0 159.2h5.3v2.3h-5.3zM214.0 208.4h5.3v2.3h-5.3zM214.0 220.7h5.3v2.3h-5.3zM219.0 42.6h5.3v2.3h-5.3zM219.0 58.9h5.3v2.3h-5.3zM219.0 85.6h5.3v2.3h-5.3zM219.0 97.8h5.3v2.3h-5.3zM219.0 110.1h5.3v2.3h-5.3zM219.0 114.2h5.3v2.3h-5.3zM219.0 153.1h5.3v2.3h-5.3zM219.0 161.3h5.3v2.3h-5.3zM219.0 177.7h5.3v2.3h-5.3zM219.0 183.8h5.3v2.3h-5.3zM219.0 185.9h5.3v2.3h-5.3zM219.0 212.5h5.3v2.3h-5.3zM219.0 220.7h5.3v2.3h-5.3zM223.9 101.9h5.3v2.3h-5.3zM223.9 114.2h5.3v2.3h-5.3zM223.9 161.3h5.3v2.3h-5.3zM223.9 200.2h5.3v2.3h-5.3zM228.9 22.1h5.3v2.3h-5.3zM228.9 54.8h5.3v2.3h-5.3zM228.9 58.9h5.3v2.3h-5.3zM228.9 65.1h5.3v2.3h-5.3zM228.9 75.3h5.3v2.3h-5.3zM228.9 101.9h5.3v2.3h-5.3zM228.9 173.6h5.3v2.3h-5.3zM233.9 20.0h5.3v2.3h-5.3zM233.9 77.4h5.3v2.3h-5.3zM233.9 91.7h5.3v2.3h-5.3zM233.9 128.5h5.3v2.3h-5.3zM233.9 147.0h5.3v2.3h-5.3zM233.9 181.8h5.3v2.3h-5.3zM233.9 218.6h5.3v2.3h-5.3zM238.8 38.5h5.3v2.3h-5.3zM238.8 63.0h5.3v2.3h-5.3zM238.8 97.8h5.3v2.3h-5.3zM238.8 114.2h5.3v2.3h-5.3zM238.8 124.4h5.3v2.3h-5.3zM238.8 192.0h5.3v2.3h-5.3zM238.8 202.2h5.3v2.3h-5.3zM238.8 212.5h5.3v2.3h-5.3zM238.8 216.6h5.3v2.3h-5.3zM243.8 28.2h5.3v2.3h-5.3zM243.8 48.7h5.3v2.3h-5.3zM243.8 65.1h5.3v2.3h-5.3zM243.8 77.4h5.3v2.3h-5.3zM243.8 122.4h5.3v2.3h-5.3zM243.8 173.6h5.3v2.3h-5.3zM243.8 204.3h5.3v2.3h-5.3zM243.8 210.4h5.3v2.3h-5.3zM248.8 24.1h5.3v2.3h-5.3zM248.8 44.6h5.3v2.3h-5.3zM248.8 46.7h5.3v2.3h-5.3zM248.8 73.3h5.3v2.3h-5.3zM248.8 89.6h5.3v2.3h-5.3zM248.8 106.0h5.3v2.3h-5.3zM248.8 110.1h5.3v2.3h-5.3zM248.8 120.3h5.3v2.3h-5.3zM248.8 159.2h5.3v2.3h-5.3zM248.8 161.3h5.3v2.3h-5.3zM248.8 167.4h5.3v2.3h-5.3zM248.8 194.0h5.3v2.3h-5.3zM253.8 65.1h5.3v2.3h-5.3zM253.8 69.2h5.3v2.3h-5.3zM253.8 71.2h5.3v2.3h-5.3zM253.8 104.0h5.3v2.3h-5.3zM253.8 112.2h5.3v2.3h-5.3zM253.8 114.2h5.3v2.3h-5.3zM253.8 122.4h5.3v2.3h-5.3zM253.8 126.5h5.3v2.3h-5.3zM253.8 134.7h5.3v2.3h-5.3zM253.8 142.9h5.3v2.3h-5.3zM253.8 167.4h5.3v2.3h-5.3zM253.8 177.7h5.3v2.3h-5.3zM253.8 189.9h5.3v2.3h-5.3zM253.8 194.0h5.3v2.3h-5.3zM253.8 214.5h5.3v2.3h-5.3zM253.8 218.6h5.3v2.3h-5.3zM258.7 30.3h5.3v2.3h-5.3zM258.7 122.4h5.3v2.3h-5.3zM258.7 204.3h5.3v2.3h-5.3zM258.7 218.6h5.3v2.3h-5.3zM263.7 177.7h8.3v2.3h-8.3zM271.7 30.3h11.3v2.3h-11.3zM271.7 40.5h11.3v2.3h-11.3zM271.7 46.7h11.3v2.3h-11.3zM271.7 61.0h11.3v2.3h-11.3zM271.7 91.7h11.3v2.3h-11.3zM271.7 108.1h11.3v2.3h-11.3zM271.7 218.6h11.3v2.3h-11.3zM282.7 67.1h11.6v2.3h-11.6zM282.7 87.6h11.6v2.3h-11.6zM282.7 91.7h11.6v2.3h-11.6zM282.7 104.0h11.6v2.3h-11.6zM282.7 116.3h11.6v2.3h-11.6zM294.0 30.3h11.6v2.3h-11.6zM294.0 34.4h11.6v2.3h-11.6zM294.0 36.4h11.6v2.3h-11.6zM294.0 58.9h11.6v2.3h-11.6zM294.0 95.8h11.6v2.3h-11.6zM294.0 114.2h11.6v2.3h-11.6zM294.0 126.5h11.6v2.3h-11.6zM294.0 159.2h11.6v2.3h-11.6zM294.0 161.3h11.6v2.3h-11.6zM305.3 20.0h11.6v2.3h-11.6zM305.3 48.7h11.6v2.3h-11.6zM305.3 67.1h11.6v2.3h-11.6zM305.3 75.3h11.6v2.3h-11.6zM305.3 89.6h11.6v2.3h-11.6zM305.3 93.7h11.6v2.3h-11.6zM305.3 116.3h11.6v2.3h-11.6zM316.6 38.5h6.4v2.3h-6.4zM316.6 40.5h6.4v2.3h-6.4zM316.6 114.2h6.4v2.3h-6.4zM316.6 120.3h6.4v2.3h-6.4zM316.6 149.0h6.4v2.3h-6.4zM316.6 202.2h6.4v2.3h-6.4zM316.6 212.5h6.4v2.3h-6.4zM316.6 214.5h6.4v2.3h-6.4z"/><path fill="#d4e3f3" d="M47.5 85.6h4.9v2.3h-4.9zM47.5 87.6h4.9v2.3h-4.9zM47.5 89.6h4.9v2.3h-4.9zM47.5 128.5h4.9v2.3h-4.9zM47.5 130.6h4.9v2.3h-4.9zM47.5 144.9h4.9v2.3h-4.9zM47.5 187.9h4.9v2.3h-4.9zM47.5 218.6h4.9v2.3h-4.9zM52.1 26.2h9.4v2.3h-9.4zM52.1 48.7h9.4v2.3h-9.4zM52.1 69.2h9.4v2.3h-9.4zM52.1 81.5h9.4v2.3h-9.4zM52.1 97.8h9.4v2.3h-9.4zM52.1 101.9h9.4v2.3h-9.4zM52.1 159.2h9.4v2.3h-9.4zM52.1 167.4h9.4v2.3h-9.4zM52.1 204.3h9.4v2.3h-9.4zM61.2 93.7h9.3v2.3h-9.3zM61.2 208.4h9.3v2.3h-9.3zM70.2 134.7h9.3v2.3h-9.3zM70.2 173.6h9.3v2.3h-9.3zM70.2 185.9h9.3v2.3h-9.3zM70.2 187.9h9.3v2.3h-9.3zM70.2 204.3h9.3v2.3h-9.3zM79.2 20.0h9.3v2.3h-9.3zM79.2 108.1h9.3v2.3h-9.3zM79.2 114.2h9.3v2.3h-9.3zM79.2 122.4h9.3v2.3h-9.3zM79.2 214.5h9.3v2.3h-9.3zM79.2 216.6h9.3v2.3h-9.3zM88.3 32.3h9.3v2.3h-9.3zM88.3 58.9h9.3v2.3h-9.3zM88.3 69.2h9.3v2.3h-9.3zM88.3 110.1h9.3v2.3h-9.3zM88.3 116.3h9.3v2.3h-9.3zM88.3 147.0h9.3v2.3h-9.3zM88.3 155.1h9.3v2.3h-9.3zM88.3 157.2h9.3v2.3h-9.3zM88.3 187.9h9.3v2.3h-9.3zM88.3 202.2h9.3v2.3h-9.3zM88.3 206.3h9.3v2.3h-9.3zM97.3 32.3h9.3v2.3h-9.3zM97.3 58.9h9.3v2.3h-9.3zM97.3 95.8h9.3v2.3h-9.3zM97.3 108.1h9.3v2.3h-9.3zM97.3 128.5h9.3v2.3h-9.3zM97.3 181.8h9.3v2.3h-9.3zM97.3 200.2h9.3v2.3h-9.3zM97.3 218.6h9.3v2.3h-9.3zM106.4 30.3h9.3v2.3h-9.3zM106.4 75.3h9.3v2.3h-9.3zM106.4 136.7h9.3v2.3h-9.3zM106.4 153.1h9.3v2.3h-9.3zM106.4 212.5h9.3v2.3h-9.3zM106.4 214.5h9.3v2.3h-9.3zM115.4 63.0h9.3v2.3h-9.3zM115.4 85.6h9.3v2.3h-9.3zM115.4 87.6h9.3v2.3h-9.3zM115.4 97.8h9.3v2.3h-9.3zM115.4 126.5h9.3v2.3h-9.3zM115.4 151.1h9.3v2.3h-9.3zM115.4 153.1h9.3v2.3h-9.3zM115.4 202.2h9.3v2.3h-9.3zM115.4 210.4h9.3v2.3h-9.3zM124.5 124.4h5.3v2.3h-5.3zM124.5 144.9h5.3v2.3h-5.3zM124.5 159.2h5.3v2.3h-5.3zM124.5 175.6h5.3v2.3h-5.3zM124.5 198.1h5.3v2.3h-5.3zM129.5 22.1h5.3v2.3h-5.3zM129.5 28.2h5.3v2.3h-5.3zM129.5 69.2h5.3v2.3h-5.3zM129.5 169.5h5.3v2.3h-5.3zM129.5 179.7h5.3v2.3h-5.3zM129.5 202.2h5.3v2.3h-5.3zM129.5 214.5h5.3v2.3h-5.3zM134.4 24.1h5.3v2.3h-5.3zM134.4 38.5h5.3v2.3h-5.3zM134.4 40.5h5.3v2.3h-5.3zM134.4 46.7h5.3v2.3h-5.3zM134.4 87.6h5.3v2.3h-5.3zM134.4 104.0h5.3v2.3h-5.3zM134.4 198.1h5.3v2.3h-5.3zM139.4 22.1h5.3v2.3h-5.3zM139.4 30.3h5.3v2.3h-5.3zM139.4 71.2h5.3v2.3h-5.3zM139.4 83.5h5.3v2.3h-5.3zM139.4 93.7h5.3v2.3h-5.3zM139.4 106.0h5.3v2.3h-5.3zM139.4 122.4h5.3v2.3h-5.3zM139.4 140.8h5.3v2.3h-5.3zM139.4 147.0h5.3v2.3h-5.3zM139.4 192.0h5.3v2.3h-5.3zM144.4 26.2h5.3v2.3h-5.3zM144.4 32.3h5.3v2.3h-5.3zM144.4 36.4h5.3v2.3h-5.3zM144.4 48.7h5.3v2.3h-5.3zM144.4 65.1h5.3v2.3h-5.3zM144.4 69.2h5.3v2.3h-5.3zM144.4 73.3h5.3v2.3h-5.3zM144.4 81.5h5.3v2.3h-5.3zM144.4 99.9h5.3v2.3h-5.3zM144.4 116.3h5.3v2.3h-5.3zM144.4 132.6h5.3v2.3h-5.3zM144.4 163.3h5.3v2.3h-5.3zM144.4 167.4h5.3v2.3h-5.3zM144.4 169.5h5.3v2.3h-5.3zM144.4 185.9h5.3v2.3h-5.3zM149.4 42.6h5.3v2.3h-5.3zM149.4 65.1h5.3v2.3h-5.3zM149.4 67.1h5.3v2.3h-5.3zM149.4 91.7h5.3v2.3h-5.3zM149.4 97.8h5.3v2.3h-5.3zM149.4 99.9h5.3v2.3h-5.3zM149.4 101.9h5.3v2.3h-5.3zM149.4 177.7h5.3v2.3h-5.3zM149.4 200.2h5.3v2.3h-5.3zM149.4 216.6h5.3v2.3h-5.3zM154.3 38.5h5.3v2.3h-5.3zM154.3 40.5h5.3v2.3h-5.3zM154.3 44.6h5.3v2.3h-5.3zM154.3 61.0h5.3v2.3h-5.3zM154.3 110.1h5.3v2.3h-5.3zM154.3 122.4h5.3v2.3h-5.3zM154.3 124.4h5.3v2.3h-5.3zM154.3 159.2h5.3v2.3h-5.3zM154.3 208.4h5.3v2.3h-5.3zM154.3 212.5h5.3v2.3h-5.3zM159.3 20.0h5.3v2.3h-5.3zM159.3 26.2h5.3v2.3h-5.3zM159.3 56.9h5.3v2.3h-5.3zM159.3 124.4h5.3v2.3h-5.3zM159.3 189.9h5.3v2.3h-5.3zM159.3 212.5h5.3v2.3h-5.3zM164.3 30.3h5.3v2.3h-5.3zM164.3 38.5h5.3v2.3h-5.3zM164.3 52.8h5.3v2.3h-5.3zM164.3 56.9h5.3v2.3h-5.3zM164.3 81.5h5.3v2.3h-5.3zM164.3 99.9h5.3v2.3h-5.3zM164.3 114.2h5.3v2.3h-5.3zM164.3 118.3h5.3v2.3h-5.3zM164.3 130.6h5.3v2.3h-5.3zM164.3 175.6h5.3v2.3h-5.3zM164.3 202.2h5.3v2.3h-5.3zM164.3 220.7h5.3v2.3h-5.3zM169.2 20.0h5.3v2.3h-5.3zM169.2 22.1h5.3v2.3h-5.3zM169.2 67.1h5.3v2.3h-5.3zM169.2 75.3h5.3v2.3h-5.3zM169.2 83.5h5.3v2.3h-5.3zM169.2 85.6h5.3v2.3h-5.3zM169.2 104.0h5.3v2.3h-5.3zM169.2 106.0h5.3v2.3h-5.3zM169.2 108.1h5.3v2.3h-5.3zM169.2 132.6h5.3v2.3h-5.3zM169.2 204.3h5.3v2.3h-5.3zM174.2 46.7h5.3v2.3h-5.3zM174.2 48.7h5.3v2.3h-5.3zM174.2 101.9h5.3v2.3h-5.3zM174.2 144.9h5.3v2.3h-5.3zM174.2 187.9h5.3v2.3h-5.3zM174.2 212.5h5.3v2.3h-5.3zM179.2 26.2h5.3v2.3h-5.3zM179.2 30.3h5.3v2.3h-5.3zM179.2 36.4h5.3v2.3h-5.3zM179.2 46.7h5.3v2.3h-5.3zM179.2 58.9h5.3v2.3h-5.3zM179.2 77.4h5.3v2.3h-5.3zM179.2 120.3h5.3v2.3h-5.3zM179.2 134.7h5.3v2.3h-5.3zM179.2 161.3h5.3v2.3h-5.3zM179.2 202.2h5.3v2.3h-5.3zM179.2 218.6h5.3v2.3h-5.3zM184.2 52.8h5.3v2.3h-5.3zM184.2 81.5h5.3v2.3h-5.3zM184.2 93.7h5.3v2.3h-5.3zM184.2 99.9h5.3v2.3h-5.3zM184.2 104.0h5.3v2.3h-5.3zM184.2 130.6h5.3v2.3h-5.3zM184.2 142.9h5.3v2.3h-5.3zM184.2 144.9h5.3v2.3h-5.3zM184.2 147.0h5.3v2.3h-5.3zM184.2 159.2h5.3v2.3h-5.3zM184.2 177.7h5.3v2.3h-5.3zM184.2 198.1h5.3v2.3h-5.3zM189.1 28.2h5.3v2.3h-5.3zM189.1 48.7h5.3v2.3h-5.3zM189.1 73.3h5.3v2.3h-5.3zM189.1 165.4h5.3v2.3h-5.3zM189.1 181.8h5.3v2.3h-5.3zM189.1 220.7h5.3v2.3h-5.3zM194.1 20.0h5.3v2.3h-5.3zM194.1 36.4h5.3v2.3h-5.3zM194.1 67.1h5.3v2.3h-5.3zM194.1 77.4h5.3v2.3h-5.3zM194.1 134.7h5.3v2.3h-5.3zM194.1 173.6h5.3v2.3h-5.3zM194.1 177.7h5.3v2.3h-5.3zM194.1 185.9h5.3v2.3h-5.3zM194.1 192.0h5.3v2.3h-5.3zM194.1 210.4h5.3v2.3h-5.3zM194.1 214.5h5.3v2.3h-5.3zM199.1 32.3h5.3v2.3h-5.3zM199.1 36.4h5.3v2.3h-5.3zM199.1 61.0h5.3v2.3h-5.3zM199.1 85.6h5.3v2.3h-5.3zM199.1 157.2h5.3v2.3h-5.3zM199.1 167.4h5.3v2.3h-5.3zM199.1 179.7h5.3v2.3h-5.3zM204.0 18.0h5.3v2.3h-5.3zM204.0 28.2h5.3v2.3h-5.3zM204.0 32.3h5.3v2.3h-5.3zM204.0 77.4h5.3v2.3h-5.3zM204.0 83.5h5.3v2.3h-5.3zM204.0 93.7h5.3v2.3h-5.3zM204.0 110.1h5.3v2.3h-5.3zM204.0 122.4h5.3v2.3h-5.3zM204.0 144.9h5.3v2.3h-5.3zM204.0 149.0h5.3v2.3h-5.3zM204.0 155.1h5.3v2.3h-5.3zM204.0 167.4h5.3v2.3h-5.3zM204.0 210.4h5.3v2.3h-5.3zM209.0 54.8h5.3v2.3h-5.3zM209.0 73.3h5.3v2.3h-5.3zM209.0 126.5h5.3v2.3h-5.3zM209.0 138.8h5.3v2.3h-5.3zM209.0 163.3h5.3v2.3h-5.3zM209.0 175.6h5.3v2.3h-5.3zM209.0 218.6h5.3v2.3h-5.3zM214.0 20.0h5.3v2.3h-5.3zM214.0 79.4h5.3v2.3h-5.3zM214.0 97.8h5.3v2.3h-5.3zM214.0 101.9h5.3v2.3h-5.3zM214.0 163.3h5.3v2.3h-5.3zM214.0 165.4h5.3v2.3h-5.3zM214.0 183.8h5.3v2.3h-5.3zM214.0 210.4h5.3v2.3h-5.3zM219.0 26.2h5.3v2.3h-5.3zM219.0 83.5h5.3v2.3h-5.3zM219.0 116.3h5.3v2.3h-5.3zM219.0 118.3h5.3v2.3h-5.3zM219.0 138.8h5.3v2.3h-5.3zM219.0 149.0h5.3v2.3h-5.3zM219.0 204.3h5.3v2.3h-5.3zM219.0 210.4h5.3v2.3h-5.3zM219.0 216.6h5.3v2.3h-5.3zM223.9 44.6h5.3v2.3h-5.3zM223.9 58.9h5.3v2.3h-5.3zM223.9 67.1h5.3v2.3h-5.3zM223.9 83.5h5.3v2.3h-5.3zM223.9 95.8h5.3v2.3h-5.3zM223.9 99.9h5.3v2.3h-5.3zM223.9 126.5h5.3v2.3h-5.3zM228.9 28.2h5.3v2.3h-5.3zM228.9 48.7h5.3v2.3h-5.3zM228.9 50.8h5.3v2.3h-5.3zM228.9 63.0h5.3v2.3h-5.3zM228.9 83.5h5.3v2.3h-5.3zM228.9 108.1h5.3v2.3h-5.3zM228.9 118.3h5.3v2.3h-5.3zM228.9 155.1h5.3v2.3h-5.3zM228.9 187.9h5.3v2.3h-5.3zM228.9 200.2h5.3v2.3h-5.3zM228.9 206.3h5.3v2.3h-5.3zM233.9 32.3h5.3v2.3h-5.3zM233.9 36.4h5.3v2.3h-5.3zM233.9 50.8h5.3v2.3h-5.3zM233.9 58.9h5.3v2.3h-5.3zM233.9 71.2h5.3v2.3h-5.3zM233.9 99.9h5.3v2.3h-5.3zM233.9 120.3h5.3v2.3h-5.3zM233.9 161.3h5.3v2.3h-5.3zM233.9 167.4h5.3v2.3h-5.3zM233.9 173.6h5.3v2.3h-5.3zM233.9 183.8h5.3v2.3h-5.3zM233.9 187.9h5.3v2.3h-5.3zM233.9 212.5h5.3v2.3h-5.3zM238.8 22.1h5.3v2.3h-5.3zM238.8 44.6h5.3v2.3h-5.3zM238.8 46.7h5.3v2.3h-5.3zM238.8 52.8h5.3v2.3h-5.3zM238.8 65.1h5.3v2.3h-5.3zM238.8 85.6h5.3v2.3h-5.3zM238.8 118.3h5.3v2.3h-5.3zM238.8 128.5h5.3v2.3h-5.3zM238.8 140.8h5.3v2.3h-5.3zM238.8 153.1h5.3v2.3h-5.3zM238.8 175.6h5.3v2.3h-5.3zM238.8 177.7h5.3v2.3h-5.3zM238.8 206.3h5.3v2.3h-5.3zM238.8 214.5h5.3v2.3h-5.3zM238.8 218.6h5.3v2.3h-5.3zM243.8 34.4h5.3v2.3h-5.3zM243.8 36.4h5.3v2.3h-5.3zM243.8 52.8h5.3v2.3h-5.3zM243.8 95.8h5.3v2.3h-5.3zM243.8 163.3h5.3v2.3h-5.3zM243.8 169.5h5.3v2.3h-5.3zM243.8 179.7h5.3v2.3h-5.3zM243.8 187.9h5.3v2.3h-5.3zM248.8 32.3h5.3v2.3h-5.3zM248.8 52.8h5.3v2.3h-5.3zM248.8 58.9h5.3v2.3h-5.3zM248.8 67.1h5.3v2.3h-5.3zM248.8 79.4h5.3v2.3h-5.3zM248.8 114.2h5.3v2.3h-5.3zM248.8 116.3h5.3v2.3h-5.3zM248.8 118.3h5.3v2.3h-5.3zM248.8 130.6h5.3v2.3h-5.3zM248.8 151.1h5.3v2.3h-5.3zM248.8 165.4h5.3v2.3h-5.3zM248.8 175.6h5.3v2.3h-5.3zM248.8 198.1h5.3v2.3h-5.3zM248.8 202.2h5.3v2.3h-5.3zM248.8 204.3h5.3v2.3h-5.3zM248.8 212.5h5.3v2.3h-5.3zM248.8 220.7h5.3v2.3h-5.3zM253.8 44.6h5.3v2.3h-5.3zM253.8 58.9h5.3v2.3h-5.3zM253.8 73.3h5.3v2.3h-5.3zM253.8 101.9h5.3v2.3h-5.3zM253.8 106.0h5.3v2.3h-5.3zM253.8 118.3h5.3v2.3h-5.3zM253.8 124.4h5.3v2.3h-5.3zM253.8 130.6h5.3v2.3h-5.3zM253.8 140.8h5.3v2.3h-5.3zM253.8 151.1h5.3v2.3h-5.3zM253.8 161.3h5.3v2.3h-5.3zM253.8 169.5h5.3v2.3h-5.3zM253.8 202.2h5.3v2.3h-5.3zM253.8 216.6h5.3v2.3h-5.3zM258.7 99.9h5.3v2.3h-5.3zM258.7 101.9h5.3v2.3h-5.3zM258.7 136.7h5.3v2.3h-5.3zM258.7 142.9h5.3v2.3h-5.3zM258.7 187.9h5.3v2.3h-5.3zM263.7 24.1h8.3v2.3h-8.3zM263.7 106.0h8.3v2.3h-8.3zM263.7 108.1h8.3v2.3h-8.3zM263.7 116.3h8.3v2.3h-8.3zM263.7 122.4h8.3v2.3h-8.3zM271.7 18.0h11.3v2.3h-11.3zM271.7 22.1h11.3v2.3h-11.3zM271.7 26.2h11.3v2.3h-11.3zM271.7 54.8h11.3v2.3h-11.3zM271.7 83.5h11.3v2.3h-11.3zM271.7 118.3h11.3v2.3h-11.3zM271.7 122.4h11.3v2.3h-11.3zM271.7 128.5h11.3v2.3h-11.3zM271.7 134.7h11.3v2.3h-11.3zM271.7 147.0h11.3v2.3h-11.3zM271.7 163.3h11.3v2.3h-11.3zM271.7 165.4h11.3v2.3h-11.3zM271.7 171.5h11.3v2.3h-11.3zM282.7 20.0h11.6v2.3h-11.6zM282.7 93.7h11.6v2.3h-11.6zM282.7 112.2h11.6v2.3h-11.6zM282.7 136.7h11.6v2.3h-11.6zM282.7 140.8h11.6v2.3h-11.6zM282.7 173.6h11.6v2.3h-11.6zM282.7 189.9h11.6v2.3h-11.6zM294.0 38.5h11.6v2.3h-11.6zM294.0 97.8h11.6v2.3h-11.6zM294.0 104.0h11.6v2.3h-11.6zM294.0 108.1h11.6v2.3h-11.6zM294.0 110.1h11.6v2.3h-11.6zM294.0 116.3h11.6v2.3h-11.6zM294.0 134.7h11.6v2.3h-11.6zM294.0 187.9h11.6v2.3h-11.6zM294.0 192.0h11.6v2.3h-11.6zM294.0 204.3h11.6v2.3h-11.6zM305.3 18.0h11.6v2.3h-11.6zM305.3 28.2h11.6v2.3h-11.6zM305.3 58.9h11.6v2.3h-11.6zM305.3 63.0h11.6v2.3h-11.6zM305.3 79.4h11.6v2.3h-11.6zM305.3 97.8h11.6v2.3h-11.6zM305.3 104.0h11.6v2.3h-11.6zM305.3 106.0h11.6v2.3h-11.6zM305.3 110.1h11.6v2.3h-11.6zM305.3 124.4h11.6v2.3h-11.6zM305.3 130.6h11.6v2.3h-11.6zM305.3 132.6h11.6v2.3h-11.6zM305.3 140.8h11.6v2.3h-11.6zM305.3 173.6h11.6v2.3h-11.6zM305.3 187.9h11.6v2.3h-11.6zM305.3 194.0h11.6v2.3h-11.6zM305.3 212.5h11.6v2.3h-11.6zM316.6 18.0h6.4v2.3h-6.4zM316.6 52.8h6.4v2.3h-6.4zM316.6 54.8h6.4v2.3h-6.4zM316.6 56.9h6.4v2.3h-6.4zM316.6 58.9h6.4v2.3h-6.4zM316.6 71.2h6.4v2.3h-6.4zM316.6 91.7h6.4v2.3h-6.4zM316.6 116.3h6.4v2.3h-6.4zM316.6 189.9h6.4v2.3h-6.4zM316.6 200.2h6.4v2.3h-6.4z"/><path fill="#d2e2f3" d="M47.5 138.8h4.9v2.3h-4.9zM47.5 149.0h4.9v2.3h-4.9zM47.5 171.5h4.9v2.3h-4.9zM47.5 173.6h4.9v2.3h-4.9zM47.5 196.1h4.9v2.3h-4.9zM52.1 20.0h9.4v2.3h-9.4zM52.1 24.1h9.4v2.3h-9.4zM52.1 44.6h9.4v2.3h-9.4zM52.1 54.8h9.4v2.3h-9.4zM52.1 63.0h9.4v2.3h-9.4zM52.1 91.7h9.4v2.3h-9.4zM52.1 134.7h9.4v2.3h-9.4zM52.1 136.7h9.4v2.3h-9.4zM52.1 153.1h9.4v2.3h-9.4zM52.1 157.2h9.4v2.3h-9.4zM52.1 169.5h9.4v2.3h-9.4zM52.1 192.0h9.4v2.3h-9.4zM52.1 206.3h9.4v2.3h-9.4zM52.1 218.6h9.4v2.3h-9.4zM61.2 32.3h9.3v2.3h-9.3zM61.2 67.1h9.3v2.3h-9.3zM61.2 116.3h9.3v2.3h-9.3zM61.2 130.6h9.3v2.3h-9.3zM61.2 177.7h9.3v2.3h-9.3zM61.2 181.8h9.3v2.3h-9.3zM61.2 210.4h9.3v2.3h-9.3zM70.2 24.1h9.3v2.3h-9.3zM70.2 81.5h9.3v2.3h-9.3zM70.2 91.7h9.3v2.3h-9.3zM70.2 116.3h9.3v2.3h-9.3zM70.2 140.8h9.3v2.3h-9.3zM70.2 149.0h9.3v2.3h-9.3zM70.2 157.2h9.3v2.3h-9.3zM70.2 163.3h9.3v2.3h-9.3zM70.2 189.9h9.3v2.3h-9.3zM70.2 198.1h9.3v2.3h-9.3zM70.2 200.2h9.3v2.3h-9.3zM70.2 208.4h9.3v2.3h-9.3zM79.2 24.1h9.3v2.3h-9.3zM79.2 38.5h9.3v2.3h-9.3zM79.2 44.6h9.3v2.3h-9.3zM79.2 75.3h9.3v2.3h-9.3zM79.2 97.8h9.3v2.3h-9.3zM79.2 106.0h9.3v2.3h-9.3zM79.2 120.3h9.3v2.3h-9.3zM79.2 153.1h9.3v2.3h-9.3zM79.2 179.7h9.3v2.3h-9.3zM88.3 89.6h9.3v2.3h-9.3zM88.3 93.7h9.3v2.3h-9.3zM88.3 97.8h9.3v2.3h-9.3zM88.3 108.1h9.3v2.3h-9.3zM88.3 126.5h9.3v2.3h-9.3zM88.3 134.7h9.3v2.3h-9.3zM88.3 136.7h9.3v2.3h-9.3zM88.3 142.9h9.3v2.3h-9.3zM88.3 161.3h9.3v2.3h-9.3zM88.3 171.5h9.3v2.3h-9.3zM88.3 173.6h9.3v2.3h-9.3zM88.3 189.9h9.3v2.3h-9.3zM88.3 212.5h9.3v2.3h-9.3zM88.3 218.6h9.3v2.3h-9.3zM97.3 26.2h9.3v2.3h-9.3zM97.3 65.1h9.3v2.3h-9.3zM97.3 142.9h9.3v2.3h-9.3zM97.3 147.0h9.3v2.3h-9.3zM97.3 153.1h9.3v2.3h-9.3zM97.3 177.7h9.3v2.3h-9.3zM97.3 189.9h9.3v2.3h-9.3zM97.3 208.4h9.3v2.3h-9.3zM106.4 18.0h9.3v2.3h-9.3zM106.4 32.3h9.3v2.3h-9.3zM106.4 44.6h9.3v2.3h-9.3zM106.4 50.8h9.3v2.3h-9.3zM106.4 93.7h9.3v2.3h-9.3zM106.4 110.1h9.3v2.3h-9.3zM106.4 132.6h9.3v2.3h-9.3zM106.4 134.7h9.3v2.3h-9.3zM106.4 161.3h9.3v2.3h-9.3zM106.4 187.9h9.3v2.3h-9.3zM106.4 189.9h9.3v2.3h-9.3zM115.4 34.4h9.3v2.3h-9.3zM115.4 61.0h9.3v2.3h-9.3zM115.4 81.5h9.3v2.3h-9.3zM115.4 130.6h9.3v2.3h-9.3zM115.4 144.9h9.3v2.3h-9.3zM115.4 161.3h9.3v2.3h-9.3zM115.4 163.3h9.3v2.3h-9.3zM115.4 173.6h9.3v2.3h-9.3zM115.4 200.2h9.3v2.3h-9.3zM115.4 204.3h9.3v2.3h-9.3zM124.5 56.9h5.3v2.3h-5.3zM124.5 97.8h5.3v2.3h-5.3zM124.5 99.9h5.3v2.3h-5.3zM124.5 106.0h5.3v2.3h-5.3zM124.5 108.1h5.3v2.3h-5.3zM124.5 134.7h5.3v2.3h-5.3zM124.5 140.8h5.3v2.3h-5.3zM124.5 157.2h5.3v2.3h-5.3zM124.5 177.7h5.3v2.3h-5.3zM124.5 200.2h5.3v2.3h-5.3zM129.5 56.9h5.3v2.3h-5.3zM129.5 67.1h5.3v2.3h-5.3zM129.5 77.4h5.3v2.3h-5.3zM129.5 81.5h5.3v2.3h-5.3zM129.5 104.0h5.3v2.3h-5.3zM129.5 108.1h5.3v2.3h-5.3zM129.5 130.6h5.3v2.3h-5.3zM129.5 149.0h5.3v2.3h-5.3zM129.5 157.2h5.3v2.3h-5.3zM129.5 165.4h5.3v2.3h-5.3zM134.4 32.3h5.3v2.3h-5.3zM134.4 83.5h5.3v2.3h-5.3zM134.4 85.6h5.3v2.3h-5.3zM134.4 101.9h5.3v2.3h-5.3zM134.4 108.1h5.3v2.3h-5.3zM134.4 144.9h5.3v2.3h-5.3zM134.4 147.0h5.3v2.3h-5.3zM134.4 161.3h5.3v2.3h-5.3zM134.4 173.6h5.3v2.3h-5.3zM134.4 175.6h5.3v2.3h-5.3zM134.4 194.0h5.3v2.3h-5.3zM134.4 208.4h5.3v2.3h-5.3zM139.4 20.0h5.3v2.3h-5.3zM139.4 89.6h5.3v2.3h-5.3zM139.4 118.3h5.3v2.3h-5.3zM139.4 142.9h5.3v2.3h-5.3zM139.4 149.0h5.3v2.3h-5.3zM139.4 155.1h5.3v2.3h-5.3zM139.4 173.6h5.3v2.3h-5.3zM139.4 187.9h5.3v2.3h-5.3zM139.4 189.9h5.3v2.3h-5.3zM144.4 34.4h5.3v2.3h-5.3zM144.4 67.1h5.3v2.3h-5.3zM144.4 83.5h5.3v2.3h-5.3zM144.4 87.6h5.3v2.3h-5.3zM144.4 95.8h5.3v2.3h-5.3zM144.4 122.4h5.3v2.3h-5.3zM144.4 124.4h5.3v2.3h-5.3zM144.4 165.4h5.3v2.3h-5.3zM144.4 181.8h5.3v2.3h-5.3zM144.4 214.5h5.3v2.3h-5.3zM149.4 38.5h5.3v2.3h-5.3zM149.4 87.6h5.3v2.3h-5.3zM149.4 136.7h5.3v2.3h-5.3zM149.4 140.8h5.3v2.3h-5.3zM149.4 151.1h5.3v2.3h-5.3zM149.4 161.3h5.3v2.3h-5.3zM149.4 167.4h5.3v2.3h-5.3zM149.4 183.8h5.3v2.3h-5.3zM149.4 187.9h5.3v2.3h-5.3zM149.4 206.3h5.3v2.3h-5.3zM154.3 28.2h5.3v2.3h-5.3zM154.3 30.3h5.3v2.3h-5.3zM154.3 32.3h5.3v2.3h-5.3zM154.3 34.4h5.3v2.3h-5.3zM154.3 54.8h5.3v2.3h-5.3zM154.3 81.5h5.3v2.3h-5.3zM154.3 91.7h5.3v2.3h-5.3zM154.3 97.8h5.3v2.3h-5.3zM154.3 104.0h5.3v2.3h-5.3zM154.3 140.8h5.3v2.3h-5.3zM154.3 142.9h5.3v2.3h-5.3zM154.3 167.4h5.3v2.3h-5.3zM154.3 179.7h5.3v2.3h-5.3zM154.3 210.4h5.3v2.3h-5.3zM154.3 216.6h5.3v2.3h-5.3zM159.3 65.1h5.3v2.3h-5.3zM159.3 67.1h5.3v2.3h-5.3zM159.3 71.2h5.3v2.3h-5.3zM159.3 83.5h5.3v2.3h-5.3zM159.3 101.9h5.3v2.3h-5.3zM159.3 132.6h5.3v2.3h-5.3zM159.3 134.7h5.3v2.3h-5.3zM159.3 138.8h5.3v2.3h-5.3zM159.3 218.6h5.3v2.3h-5.3zM164.3 26.2h5.3v2.3h-5.3zM164.3 48.7h5.3v2.3h-5.3zM164.3 65.1h5.3v2.3h-5.3zM164.3 69.2h5.3v2.3h-5.3zM164.3 85.6h5.3v2.3h-5.3zM164.3 87.6h5.3v2.3h-5.3zM164.3 104.0h5.3v2.3h-5.3zM164.3 110.1h5.3v2.3h-5.3zM164.3 128.5h5.3v2.3h-5.3zM164.3 173.6h5.3v2.3h-5.3zM164.3 187.9h5.3v2.3h-5.3zM164.3 206.3h5.3v2.3h-5.3zM164.3 214.5h5.3v2.3h-5.3zM164.3 218.6h5.3v2.3h-5.3zM169.2 50.8h5.3v2.3h-5.3zM169.2 69.2h5.3v2.3h-5.3zM169.2 77.4h5.3v2.3h-5.3zM169.2 93.7h5.3v2.3h-5.3zM169.2 97.8h5.3v2.3h-5.3zM169.2 101.9h5.3v2.3h-5.3zM169.2 110.1h5.3v2.3h-5.3zM169.2 122.4h5.3v2.3h-5.3zM169.2 128.5h5.3v2.3h-5.3zM169.2 149.0h5.3v2.3h-5.3zM169.2 155.1h5.3v2.3h-5.3zM169.2 220.7h5.3v2.3h-5.3zM174.2 38.5h5.3v2.3h-5.3zM174.2 56.9h5.3v2.3h-5.3zM174.2 73.3h5.3v2.3h-5.3zM174.2 87.6h5.3v2.3h-5.3zM174.2 89.6h5.3v2.3h-5.3zM174.2 95.8h5.3v2.3h-5.3zM174.2 122.4h5.3v2.3h-5.3zM174.2 140.8h5.3v2.3h-5.3zM174.2 151.1h5.3v2.3h-5.3zM174.2 165.4h5.3v2.3h-5.3zM174.2 208.4h5.3v2.3h-5.3zM179.2 38.5h5.3v2.3h-5.3zM179.2 50.8h5.3v2.3h-5.3zM179.2 56.9h5.3v2.3h-5.3zM179.2 79.4h5.3v2.3h-5.3zM179.2 85.6h5.3v2.3h-5.3zM179.2 106.0h5.3v2.3h-5.3zM179.2 122.4h5.3v2.3h-5.3zM179.2 151.1h5.3v2.3h-5.3zM179.2 185.9h5.3v2.3h-5.3zM179.2 187.9h5.3v2.3h-5.3zM184.2 26.2h5.3v2.3h-5.3zM184.2 42.6h5.3v2.3h-5.3zM184.2 56.9h5.3v2.3h-5.3zM184.2 89.6h5.3v2.3h-5.3zM184.2 91.7h5.3v2.3h-5.3zM184.2 124.4h5.3v2.3h-5.3zM184.2 134.7h5.3v2.3h-5.3zM184.2 194.0h5.3v2.3h-5.3zM184.2 200.2h5.3v2.3h-5.3zM184.2 202.2h5.3v2.3h-5.3zM184.2 208.4h5.3v2.3h-5.3zM189.1 30.3h5.3v2.3h-5.3zM189.1 34.4h5.3v2.3h-5.3zM189.1 38.5h5.3v2.3h-5.3zM189.1 44.6h5.3v2.3h-5.3zM189.1 71.2h5.3v2.3h-5.3zM189.1 85.6h5.3v2.3h-5.3zM189.1 114.2h5.3v2.3h-5.3zM189.1 126.5h5.3v2.3h-5.3zM189.1 144.9h5.3v2.3h-5.3zM194.1 32.3h5.3v2.3h-5.3zM194.1 71.2h5.3v2.3h-5.3zM194.1 93.7h5.3v2.3h-5.3zM194.1 95.8h5.3v2.3h-5.3zM194.1 97.8h5.3v2.3h-5.3zM194.1 140.8h5.3v2.3h-5.3zM194.1 159.2h5.3v2.3h-5.3zM194.1 171.5h5.3v2.3h-5.3zM194.1 175.6h5.3v2.3h-5.3zM194.1 187.9h5.3v2.3h-5.3zM194.1 218.6h5.3v2.3h-5.3zM199.1 22.1h5.3v2.3h-5.3zM199.1 38.5h5.3v2.3h-5.3zM199.1 79.4h5.3v2.3h-5.3zM199.1 83.5h5.3v2.3h-5.3zM199.1 87.6h5.3v2.3h-5.3zM199.1 99.9h5.3v2.3h-5.3zM199.1 134.7h5.3v2.3h-5.3zM199.1 159.2h5.3v2.3h-5.3zM199.1 163.3h5.3v2.3h-5.3zM199.1 181.8h5.3v2.3h-5.3zM199.1 185.9h5.3v2.3h-5.3zM199.1 192.0h5.3v2.3h-5.3zM204.0 22.1h5.3v2.3h-5.3zM204.0 36.4h5.3v2.3h-5.3zM204.0 38.5h5.3v2.3h-5.3zM204.0 54.8h5.3v2.3h-5.3zM204.0 69.2h5.3v2.3h-5.3zM204.0 71.2h5.3v2.3h-5.3zM204.0 89.6h5.3v2.3h-5.3zM204.0 108.1h5.3v2.3h-5.3zM204.0 140.8h5.3v2.3h-5.3zM204.0 153.1h5.3v2.3h-5.3zM204.0 157.2h5.3v2.3h-5.3zM204.0 177.7h5.3v2.3h-5.3zM204.0 183.8h5.3v2.3h-5.3zM204.0 187.9h5.3v2.3h-5.3zM204.0 202.2h5.3v2.3h-5.3zM204.0 204.3h5.3v2.3h-5.3zM209.0 24.1h5.3v2.3h-5.3zM209.0 32.3h5.3v2.3h-5.3zM209.0 42.6h5.3v2.3h-5.3zM209.0 65.1h5.3v2.3h-5.3zM209.0 67.1h5.3v2.3h-5.3zM209.0 69.2h5.3v2.3h-5.3zM209.0 71.2h5.3v2.3h-5.3zM209.0 75.3h5.3v2.3h-5.3zM209.0 77.4h5.3v2.3h-5.3zM209.0 87.6h5.3v2.3h-5.3zM209.0 112.2h5.3v2.3h-5.3zM209.0 153.1h5.3v2.3h-5.3zM209.0 165.4h5.3v2.3h-5.3zM209.0 173.6h5.3v2.3h-5.3zM209.0 179.7h5.3v2.3h-5.3zM209.0 189.9h5.3v2.3h-5.3zM209.0 212.5h5.3v2.3h-5.3zM209.0 214.5h5.3v2.3h-5.3zM214.0 18.0h5.3v2.3h-5.3zM214.0 36.4h5.3v2.3h-5.3zM214.0 42.6h5.3v2.3h-5.3zM214.0 50.8h5.3v2.3h-5.3zM214.0 52.8h5.3v2.3h-5.3zM214.0 77.4h5.3v2.3h-5.3zM214.0 83.5h5.3v2.3h-5.3zM214.0 85.6h5.3v2.3h-5.3zM214.0 89.6h5.3v2.3h-5.3zM214.0 95.8h5.3v2.3h-5.3zM214.0 122.4h5.3v2.3h-5.3zM214.0 140.8h5.3v2.3h-5.3zM214.0 144.9h5.3v2.3h-5.3zM214.0 167.4h5.3v2.3h-5.3zM214.0 169.5h5.3v2.3h-5.3zM214.0 175.6h5.3v2.3h-5.3zM214.0 187.9h5.3v2.3h-5.3zM214.0 202.2h5.3v2.3h-5.3zM214.0 212.5h5.3v2.3h-5.3zM219.0 18.0h5.3v2.3h-5.3zM219.0 40.5h5.3v2.3h-5.3zM219.0 48.7h5.3v2.3h-5.3zM219.0 73.3h5.3v2.3h-5.3zM219.0 77.4h5.3v2.3h-5.3zM219.0 91.7h5.3v2.3h-5.3zM219.0 112.2h5.3v2.3h-5.3zM219.0 134.7h5.3v2.3h-5.3zM219.0 136.7h5.3v2.3h-5.3zM219.0 151.1h5.3v2.3h-5.3zM219.0 155.1h5.3v2.3h-5.3zM219.0 169.5h5.3v2.3h-5.3zM219.0 192.0h5.3v2.3h-5.3zM219.0 198.1h5.3v2.3h-5.3zM223.9 32.3h5.3v2.3h-5.3zM223.9 50.8h5.3v2.3h-5.3zM223.9 69.2h5.3v2.3h-5.3zM223.9 73.3h5.3v2.3h-5.3zM223.9 106.0h5.3v2.3h-5.3zM223.9 110.1h5.3v2.3h-5.3zM223.9 112.2h5.3v2.3h-5.3zM223.9 120.3h5.3v2.3h-5.3zM223.9 165.4h5.3v2.3h-5.3zM223.9 185.9h5.3v2.3h-5.3zM223.9 210.4h5.3v2.3h-5.3zM223.9 212.5h5.3v2.3h-5.3zM228.9 24.1h5.3v2.3h-5.3zM228.9 30.3h5.3v2.3h-5.3zM228.9 32.3h5.3v2.3h-5.3zM228.9 73.3h5.3v2.3h-5.3zM228.9 81.5h5.3v2.3h-5.3zM228.9 87.6h5.3v2.3h-5.3zM228.9 95.8h5.3v2.3h-5.3zM228.9 112.2h5.3v2.3h-5.3zM228.9 138.8h5.3v2.3h-5.3zM228.9 140.8h5.3v2.3h-5.3zM228.9 161.3h5.3v2.3h-5.3zM228.9 169.5h5.3v2.3h-5.3zM228.9 194.0h5.3v2.3h-5.3zM233.9 18.0h5.3v2.3h-5.3zM233.9 122.4h5.3v2.3h-5.3zM233.9 124.4h5.3v2.3h-5.3zM233.9 149.0h5.3v2.3h-5.3zM233.9 165.4h5.3v2.3h-5.3zM233.9 179.7h5.3v2.3h-5.3zM233.9 202.2h5.3v2.3h-5.3zM238.8 24.1h5.3v2.3h-5.3zM238.8 34.4h5.3v2.3h-5.3zM238.8 48.7h5.3v2.3h-5.3zM238.8 58.9h5.3v2.3h-5.3zM238.8 67.1h5.3v2.3h-5.3zM238.8 69.2h5.3v2.3h-5.3zM238.8 81.5h5.3v2.3h-5.3zM238.8 93.7h5.3v2.3h-5.3zM238.8 122.4h5.3v2.3h-5.3zM238.8 130.6h5.3v2.3h-5.3zM238.8 134.7h5.3v2.3h-5.3zM238.8 144.9h5.3v2.3h-5.3zM238.8 149.0h5.3v2.3h-5.3zM238.8 159.2h5.3v2.3h-5.3zM238.8 161.3h5.3v2.3h-5.3zM238.8 165.4h5.3v2.3h-5.3zM238.8 185.9h5.3v2.3h-5.3zM238.8 220.7h5.3v2.3h-5.3zM243.8 50.8h5.3v2.3h-5.3zM243.8 75.3h5.3v2.3h-5.3zM243.8 112.2h5.3v2.3h-5.3zM243.8 161.3h5.3v2.3h-5.3zM248.8 87.6h5.3v2.3h-5.3zM248.8 134.7h5.3v2.3h-5.3zM248.8 142.9h5.3v2.3h-5.3zM248.8 147.0h5.3v2.3h-5.3zM248.8 183.8h5.3v2.3h-5.3zM248.8 208.4h5.3v2.3h-5.3zM253.8 30.3h5.3v2.3h-5.3zM253.8 42.6h5.3v2.3h-5.3zM253.8 50.8h5.3v2.3h-5.3zM253.8 52.8h5.3v2.3h-5.3zM253.8 77.4h5.3v2.3h-5.3zM253.8 81.5h5.3v2.3h-5.3zM253.8 93.7h5.3v2.3h-5.3zM253.8 128.5h5.3v2.3h-5.3zM253.8 149.0h5.3v2.3h-5.3zM253.8 155.1h5.3v2.3h-5.3zM253.8 157.2h5.3v2.3h-5.3zM253.8 159.2h5.3v2.3h-5.3zM253.8 187.9h5.3v2.3h-5.3zM258.7 20.0h5.3v2.3h-5.3zM258.7 26.2h5.3v2.3h-5.3zM258.7 34.4h5.3v2.3h-5.3zM258.7 40.5h5.3v2.3h-5.3zM258.7 48.7h5.3v2.3h-5.3zM258.7 69.2h5.3v2.3h-5.3zM258.7 116.3h5.3v2.3h-5.3zM258.7 130.6h5.3v2.3h-5.3zM258.7 132.6h5.3v2.3h-5.3zM258.7 149.0h5.3v2.3h-5.3zM258.7 177.7h5.3v2.3h-5.3zM258.7 183.8h5.3v2.3h-5.3zM258.7 200.2h5.3v2.3h-5.3zM258.7 208.4h5.3v2.3h-5.3zM258.7 210.4h5.3v2.3h-5.3zM258.7 220.7h5.3v2.3h-5.3zM263.7 50.8h8.3v2.3h-8.3zM263.7 91.7h8.3v2.3h-8.3zM263.7 134.7h8.3v2.3h-8.3zM263.7 171.5h8.3v2.3h-8.3zM263.7 181.8h8.3v2.3h-8.3zM271.7 24.1h11.3v2.3h-11.3zM271.7 44.6h11.3v2.3h-11.3zM271.7 79.4h11.3v2.3h-11.3zM271.7 81.5h11.3v2.3h-11.3zM271.7 89.6h11.3v2.3h-11.3zM271.7 101.9h11.3v2.3h-11.3zM271.7 138.8h11.3v2.3h-11.3zM271.7 140.8h11.3v2.3h-11.3zM271.7 151.1h11.3v2.3h-11.3zM271.7 155.1h11.3v2.3h-11.3zM271.7 157.2h11.3v2.3h-11.3zM271.7 161.3h11.3v2.3h-11.3zM271.7 173.6h11.3v2.3h-11.3zM271.7 181.8h11.3v2.3h-11.3zM282.7 18.0h11.6v2.3h-11.6zM282.7 69.2h11.6v2.3h-11.6zM282.7 99.9h11.6v2.3h-11.6zM282.7 120.3h11.6v2.3h-11.6zM282.7 124.4h11.6v2.3h-11.6zM282.7 128.5h11.6v2.3h-11.6zM282.7 130.6h11.6v2.3h-11.6zM282.7 138.8h11.6v2.3h-11.6zM282.7 196.1h11.6v2.3h-11.6zM282.7 202.2h11.6v2.3h-11.6zM282.7 220.7h11.6v2.3h-11.6zM294.0 18.0h11.6v2.3h-11.6zM294.0 26.2h11.6v2.3h-11.6zM294.0 71.2h11.6v2.3h-11.6zM294.0 87.6h11.6v2.3h-11.6zM294.0 128.5h11.6v2.3h-11.6zM294.0 149.0h11.6v2.3h-11.6zM294.0 155.1h11.6v2.3h-11.6zM294.0 175.6h11.6v2.3h-11.6zM294.0 206.3h11.6v2.3h-11.6zM294.0 218.6h11.6v2.3h-11.6zM305.3 22.1h11.6v2.3h-11.6zM305.3 52.8h11.6v2.3h-11.6zM305.3 85.6h11.6v2.3h-11.6zM305.3 112.2h11.6v2.3h-11.6zM305.3 128.5h11.6v2.3h-11.6zM305.3 171.5h11.6v2.3h-11.6zM305.3 177.7h11.6v2.3h-11.6zM305.3 196.1h11.6v2.3h-11.6zM305.3 200.2h11.6v2.3h-11.6zM316.6 65.1h6.4v2.3h-6.4zM316.6 89.6h6.4v2.3h-6.4zM316.6 97.8h6.4v2.3h-6.4zM316.6 101.9h6.4v2.3h-6.4zM316.6 108.1h6.4v2.3h-6.4zM316.6 110.1h6.4v2.3h-6.4zM316.6 112.2h6.4v2.3h-6.4zM316.6 128.5h6.4v2.3h-6.4zM316.6 132.6h6.4v2.3h-6.4zM316.6 165.4h6.4v2.3h-6.4zM316.6 171.5h6.4v2.3h-6.4zM316.6 173.6h6.4v2.3h-6.4zM316.6 177.7h6.4v2.3h-6.4zM316.6 181.8h6.4v2.3h-6.4zM316.6 187.9h6.4v2.3h-6.4z"/><path fill="#d0e1f2" d="M47.5 18.0h4.9v2.3h-4.9zM47.5 56.9h4.9v2.3h-4.9zM47.5 61.0h4.9v2.3h-4.9zM47.5 106.0h4.9v2.3h-4.9zM47.5 112.2h4.9v2.3h-4.9zM47.5 136.7h4.9v2.3h-4.9zM47.5 140.8h4.9v2.3h-4.9zM47.5 155.1h4.9v2.3h-4.9zM47.5 177.7h4.9v2.3h-4.9zM47.5 185.9h4.9v2.3h-4.9zM47.5 189.9h4.9v2.3h-4.9zM52.1 18.0h9.4v2.3h-9.4zM52.1 46.7h9.4v2.3h-9.4zM52.1 85.6h9.4v2.3h-9.4zM52.1 114.2h9.4v2.3h-9.4zM52.1 122.4h9.4v2.3h-9.4zM52.1 173.6h9.4v2.3h-9.4zM52.1 220.7h9.4v2.3h-9.4zM61.2 65.1h9.3v2.3h-9.3zM61.2 83.5h9.3v2.3h-9.3zM61.2 89.6h9.3v2.3h-9.3zM61.2 101.9h9.3v2.3h-9.3zM61.2 110.1h9.3v2.3h-9.3zM61.2 122.4h9.3v2.3h-9.3zM61.2 140.8h9.3v2.3h-9.3zM61.2 167.4h9.3v2.3h-9.3zM61.2 218.6h9.3v2.3h-9.3zM70.2 48.7h9.3v2.3h-9.3zM70.2 79.4h9.3v2.3h-9.3zM70.2 99.9h9.3v2.3h-9.3zM70.2 108.1h9.3v2.3h-9.3zM70.2 112.2h9.3v2.3h-9.3zM70.2 118.3h9.3v2.3h-9.3zM70.2 120.3h9.3v2.3h-9.3zM70.2 138.8h9.3v2.3h-9.3zM70.2 155.1h9.3v2.3h-9.3zM70.2 169.5h9.3v2.3h-9.3zM70.2 194.0h9.3v2.3h-9.3zM70.2 202.2h9.3v2.3h-9.3zM79.2 52.8h9.3v2.3h-9.3zM79.2 79.4h9.3v2.3h-9.3zM79.2 104.0h9.3v2.3h-9.3zM79.2 116.3h9.3v2.3h-9.3zM79.2 140.8h9.3v2.3h-9.3zM79.2 171.5h9.3v2.3h-9.3zM79.2 183.8h9.3v2.3h-9.3zM79.2 189.9h9.3v2.3h-9.3zM79.2 206.3h9.3v2.3h-9.3zM79.2 210.4h9.3v2.3h-9.3zM79.2 212.5h9.3v2.3h-9.3zM79.2 218.6h9.3v2.3h-9.3zM88.3 34.4h9.3v2.3h-9.3zM88.3 46.7h9.3v2.3h-9.3zM88.3 52.8h9.3v2.3h-9.3zM88.3 67.1h9.3v2.3h-9.3zM88.3 85.6h9.3v2.3h-9.3zM88.3 112.2h9.3v2.3h-9.3zM88.3 124.4h9.3v2.3h-9.3zM88.3 132.6h9.3v2.3h-9.3zM88.3 159.2h9.3v2.3h-9.3zM88.3 194.0h9.3v2.3h-9.3zM88.3 214.5h9.3v2.3h-9.3zM97.3 20.0h9.3v2.3h-9.3zM97.3 28.2h9.3v2.3h-9.3zM97.3 56.9h9.3v2.3h-9.3zM97.3 81.5h9.3v2.3h-9.3zM97.3 97.8h9.3v2.3h-9.3zM97.3 124.4h9.3v2.3h-9.3zM97.3 126.5h9.3v2.3h-9.3zM97.3 132.6h9.3v2.3h-9.3zM97.3 165.4h9.3v2.3h-9.3zM106.4 34.4h9.3v2.3h-9.3zM106.4 38.5h9.3v2.3h-9.3zM106.4 48.7h9.3v2.3h-9.3zM106.4 56.9h9.3v2.3h-9.3zM106.4 144.9h9.3v2.3h-9.3zM106.4 185.9h9.3v2.3h-9.3zM106.4 200.2h9.3v2.3h-9.3zM106.4 208.4h9.3v2.3h-9.3zM115.4 22.1h9.3v2.3h-9.3zM115.4 36.4h9.3v2.3h-9.3zM115.4 44.6h9.3v2.3h-9.3zM115.4 77.4h9.3v2.3h-9.3zM115.4 95.8h9.3v2.3h-9.3zM115.4 118.3h9.3v2.3h-9.3zM115.4 120.3h9.3v2.3h-9.3zM115.4 132.6h9.3v2.3h-9.3zM115.4 167.4h9.3v2.3h-9.3zM115.4 169.5h9.3v2.3h-9.3zM115.4 175.6h9.3v2.3h-9.3zM115.4 212.5h9.3v2.3h-9.3zM115.4 214.5h9.3v2.3h-9.3zM124.5 26.2h5.3v2.3h-5.3zM124.5 28.2h5.3v2.3h-5.3zM124.5 30.3h5.3v2.3h-5.3zM124.5 40.5h5.3v2.3h-5.3zM124.5 58.9h5.3v2.3h-5.3zM124.5 61.0h5.3v2.3h-5.3zM124.5 65.1h5.3v2.3h-5.3zM124.5 87.6h5.3v2.3h-5.3zM124.5 110.1h5.3v2.3h-5.3zM124.5 112.2h5.3v2.3h-5.3zM124.5 114.2h5.3v2.3h-5.3zM124.5 126.5h5.3v2.3h-5.3zM124.5 147.0h5.3v2.3h-5.3zM124.5 151.1h5.3v2.3h-5.3zM124.5 171.5h5.3v2.3h-5.3zM129.5 110.1h5.3v2.3h-5.3zM129.5 118.3h5.3v2.3h-5.3zM129.5 142.9h5.3v2.3h-5.3zM129.5 187.9h5.3v2.3h-5.3zM129.5 200.2h5.3v2.3h-5.3zM129.5 220.7h5.3v2.3h-5.3zM134.4 42.6h5.3v2.3h-5.3zM134.4 56.9h5.3v2.3h-5.3zM134.4 67.1h5.3v2.3h-5.3zM134.4 77.4h5.3v2.3h-5.3zM134.4 81.5h5.3v2.3h-5.3zM134.4 95.8h5.3v2.3h-5.3zM134.4 110.1h5.3v2.3h-5.3zM134.4 120.3h5.3v2.3h-5.3zM134.4 122.4h5.3v2.3h-5.3zM134.4 155.1h5.3v2.3h-5.3zM134.4 192.0h5.3v2.3h-5.3zM134.4 196.1h5.3v2.3h-5.3zM134.4 210.4h5.3v2.3h-5.3zM139.4 24.1h5.3v2.3h-5.3zM139.4 28.2h5.3v2.3h-5.3zM139.4 40.5h5.3v2.3h-5.3zM139.4 46.7h5.3v2.3h-5.3zM139.4 58.9h5.3v2.3h-5.3zM139.4 73.3h5.3v2.3h-5.3zM139.4 77.4h5.3v2.3h-5.3zM139.4 151.1h5.3v2.3h-5.3zM139.4 157.2h5.3v2.3h-5.3zM139.4 159.2h5.3v2.3h-5.3zM139.4 175.6h5.3v2.3h-5.3zM139.4 200.2h5.3v2.3h-5.3zM139.4 210.4h5.3v2.3h-5.3zM139.4 214.5h5.3v2.3h-5.3zM139.4 218.6h5.3v2.3h-5.3zM144.4 50.8h5.3v2.3h-5.3zM144.4 93.7h5.3v2.3h-5.3zM144.4 120.3h5.3v2.3h-5.3zM144.4 196.1h5.3v2.3h-5.3zM144.4 210.4h5.3v2.3h-5.3zM144.4 212.5h5.3v2.3h-5.3zM144.4 216.6h5.3v2.3h-5.3zM149.4 22.1h5.3v2.3h-5.3zM149.4 30.3h5.3v2.3h-5.3zM149.4 40.5h5.3v2.3h-5.3zM149.4 46.7h5.3v2.3h-5.3zM149.4 71.2h5.3v2.3h-5.3zM149.4 77.4h5.3v2.3h-5.3zM149.4 104.0h5.3v2.3h-5.3zM149.4 165.4h5.3v2.3h-5.3zM149.4 189.9h5.3v2.3h-5.3zM149.4 198.1h5.3v2.3h-5.3zM149.4 204.3h5.3v2.3h-5.3zM154.3 20.0h5.3v2.3h-5.3zM154.3 26.2h5.3v2.3h-5.3zM154.3 46.7h5.3v2.3h-5.3zM154.3 48.7h5.3v2.3h-5.3zM154.3 69.2h5.3v2.3h-5.3zM154.3 71.2h5.3v2.3h-5.3zM154.3 83.5h5.3v2.3h-5.3zM154.3 95.8h5.3v2.3h-5.3zM154.3 134.7h5.3v2.3h-5.3zM154.3 175.6h5.3v2.3h-5.3zM154.3 181.8h5.3v2.3h-5.3zM154.3 183.8h5.3v2.3h-5.3zM154.3 187.9h5.3v2.3h-5.3zM154.3 194.0h5.3v2.3h-5.3zM154.3 196.1h5.3v2.3h-5.3zM154.3 214.5h5.3v2.3h-5.3zM159.3 18.0h5.3v2.3h-5.3zM159.3 38.5h5.3v2.3h-5.3zM159.3 52.8h5.3v2.3h-5.3zM159.3 58.9h5.3v2.3h-5.3zM159.3 61.0h5.3v2.3h-5.3zM159.3 93.7h5.3v2.3h-5.3zM159.3 99.9h5.3v2.3h-5.3zM159.3 104.0h5.3v2.3h-5.3zM159.3 110.1h5.3v2.3h-5.3zM159.3 130.6h5.3v2.3h-5.3zM159.3 192.0h5.3v2.3h-5.3zM164.3 20.0h5.3v2.3h-5.3zM164.3 22.1h5.3v2.3h-5.3zM164.3 28.2h5.3v2.3h-5.3zM164.3 42.6h5.3v2.3h-5.3zM164.3 58.9h5.3v2.3h-5.3zM164.3 61.0h5.3v2.3h-5.3zM164.3 75.3h5.3v2.3h-5.3zM164.3 95.8h5.3v2.3h-5.3zM164.3 106.0h5.3v2.3h-5.3zM164.3 112.2h5.3v2.3h-5.3zM164.3 171.5h5.3v2.3h-5.3zM164.3 177.7h5.3v2.3h-5.3zM164.3 189.9h5.3v2.3h-5.3zM164.3 210.4h5.3v2.3h-5.3zM164.3 212.5h5.3v2.3h-5.3zM169.2 18.0h5.3v2.3h-5.3zM169.2 30.3h5.3v2.3h-5.3zM169.2 34.4h5.3v2.3h-5.3zM169.2 54.8h5.3v2.3h-5.3zM169.2 79.4h5.3v2.3h-5.3zM169.2 116.3h5.3v2.3h-5.3zM169.2 134.7h5.3v2.3h-5.3zM169.2 142.9h5.3v2.3h-5.3zM169.2 147.0h5.3v2.3h-5.3zM169.2 157.2h5.3v2.3h-5.3zM169.2 171.5h5.3v2.3h-5.3zM169.2 181.8h5.3v2.3h-5.3zM169.2 183.8h5.3v2.3h-5.3zM169.2 200.2h5.3v2.3h-5.3zM174.2 26.2h5.3v2.3h-5.3zM174.2 36.4h5.3v2.3h-5.3zM174.2 134.7h5.3v2.3h-5.3zM174.2 142.9h5.3v2.3h-5.3zM174.2 157.2h5.3v2.3h-5.3zM174.2 179.7h5.3v2.3h-5.3zM174.2 181.8h5.3v2.3h-5.3zM179.2 22.1h5.3v2.3h-5.3zM179.2 48.7h5.3v2.3h-5.3zM179.2 69.2h5.3v2.3h-5.3zM179.2 71.2h5.3v2.3h-5.3zM179.2 73.3h5.3v2.3h-5.3zM179.2 83.5h5.3v2.3h-5.3zM179.2 112.2h5.3v2.3h-5.3zM179.2 124.4h5.3v2.3h-5.3zM179.2 136.7h5.3v2.3h-5.3zM179.2 142.9h5.3v2.3h-5.3zM179.2 153.1h5.3v2.3h-5.3zM179.2 165.4h5.3v2.3h-5.3zM179.2 169.5h5.3v2.3h-5.3zM179.2 173.6h5.3v2.3h-5.3zM179.2 194.0h5.3v2.3h-5.3zM179.2 206.3h5.3v2.3h-5.3zM179.2 214.5h5.3v2.3h-5.3zM184.2 28.2h5.3v2.3h-5.3zM184.2 44.6h5.3v2.3h-5.3zM184.2 54.8h5.3v2.3h-5.3zM184.2 61.0h5.3v2.3h-5.3zM184.2 83.5h5.3v2.3h-5.3zM184.2 106.0h5.3v2.3h-5.3zM184.2 151.1h5.3v2.3h-5.3zM184.2 179.7h5.3v2.3h-5.3zM184.2 181.8h5.3v2.3h-5.3zM189.1 36.4h5.3v2.3h-5.3zM189.1 52.8h5.3v2.3h-5.3zM189.1 77.4h5.3v2.3h-5.3zM189.1 81.5h5.3v2.3h-5.3zM189.1 99.9h5.3v2.3h-5.3zM189.1 175.6h5.3v2.3h-5.3zM189.1 202.2h5.3v2.3h-5.3zM189.1 208.4h5.3v2.3h-5.3zM189.1 218.6h5.3v2.3h-5.3zM194.1 63.0h5.3v2.3h-5.3zM194.1 101.9h5.3v2.3h-5.3zM194.1 108.1h5.3v2.3h-5.3zM194.1 132.6h5.3v2.3h-5.3zM194.1 155.1h5.3v2.3h-5.3zM194.1 157.2h5.3v2.3h-5.3zM194.1 165.4h5.3v2.3h-5.3zM194.1 196.1h5.3v2.3h-5.3zM194.1 206.3h5.3v2.3h-5.3zM194.1 220.7h5.3v2.3h-5.3zM199.1 46.7h5.3v2.3h-5.3zM199.1 52.8h5.3v2.3h-5.3zM199.1 69.2h5.3v2.3h-5.3zM199.1 114.2h5.3v2.3h-5.3zM199.1 169.5h5.3v2.3h-5.3zM199.1 202.2h5.3v2.3h-5.3zM199.1 214.5h5.3v2.3h-5.3zM204.0 73.3h5.3v2.3h-5.3zM204.0 81.5h5.3v2.3h-5.3zM204.0 87.6h5.3v2.3h-5.3zM204.0 95.8h5.3v2.3h-5.3zM204.0 97.8h5.3v2.3h-5.3zM204.0 147.0h5.3v2.3h-5.3zM204.0 185.9h5.3v2.3h-5.3zM204.0 192.0h5.3v2.3h-5.3zM204.0 200.2h5.3v2.3h-5.3zM204.0 220.7h5.3v2.3h-5.3zM209.0 28.2h5.3v2.3h-5.3zM209.0 38.5h5.3v2.3h-5.3zM209.0 40.5h5.3v2.3h-5.3zM209.0 44.6h5.3v2.3h-5.3zM209.0 61.0h5.3v2.3h-5.3zM209.0 93.7h5.3v2.3h-5.3zM209.0 104.0h5.3v2.3h-5.3zM209.0 108.1h5.3v2.3h-5.3zM209.0 110.1h5.3v2.3h-5.3zM209.0 114.2h5.3v2.3h-5.3zM209.0 118.3h5.3v2.3h-5.3zM209.0 124.4h5.3v2.3h-5.3zM209.0 155.1h5.3v2.3h-5.3zM209.0 171.5h5.3v2.3h-5.3zM209.0 196.1h5.3v2.3h-5.3zM209.0 208.4h5.3v2.3h-5.3zM214.0 24.1h5.3v2.3h-5.3zM214.0 28.2h5.3v2.3h-5.3zM214.0 30.3h5.3v2.3h-5.3zM214.0 46.7h5.3v2.3h-5.3zM214.0 48.7h5.3v2.3h-5.3zM214.0 54.8h5.3v2.3h-5.3zM214.0 56.9h5.3v2.3h-5.3zM214.0 75.3h5.3v2.3h-5.3zM214.0 108.1h5.3v2.3h-5.3zM214.0 114.2h5.3v2.3h-5.3zM214.0 124.4h5.3v2.3h-5.3zM214.0 132.6h5.3v2.3h-5.3zM214.0 134.7h5.3v2.3h-5.3zM214.0 136.7h5.3v2.3h-5.3zM214.0 153.1h5.3v2.3h-5.3zM214.0 161.3h5.3v2.3h-5.3zM214.0 216.6h5.3v2.3h-5.3zM219.0 20.0h5.3v2.3h-5.3zM219.0 30.3h5.3v2.3h-5.3zM219.0 34.4h5.3v2.3h-5.3zM219.0 36.4h5.3v2.3h-5.3zM219.0 38.5h5.3v2.3h-5.3zM219.0 50.8h5.3v2.3h-5.3zM219.0 65.1h5.3v2.3h-5.3zM219.0 93.7h5.3v2.3h-5.3zM219.0 99.9h5.3v2.3h-5.3zM219.0 163.3h5.3v2.3h-5.3zM219.0 173.6h5.3v2.3h-5.3zM219.0 208.4h5.3v2.3h-5.3zM223.9 18.0h5.3v2.3h-5.3zM223.9 20.0h5.3v2.3h-5.3zM223.9 22.1h5.3v2.3h-5.3zM223.9 26.2h5.3v2.3h-5.3zM223.9 34.4h5.3v2.3h-5.3zM223.9 54.8h5.3v2.3h-5.3zM223.9 97.8h5.3v2.3h-5.3zM223.9 116.3h5.3v2.3h-5.3zM223.9 122.4h5.3v2.3h-5.3zM223.9 142.9h5.3v2.3h-5.3zM223.9 151.1h5.3v2.3h-5.3zM223.9 153.1h5.3v2.3h-5.3zM223.9 157.2h5.3v2.3h-5.3zM223.9 159.2h5.3v2.3h-5.3zM223.9 202.2h5.3v2.3h-5.3zM223.9 218.6h5.3v2.3h-5.3zM228.9 20.0h5.3v2.3h-5.3zM228.9 69.2h5.3v2.3h-5.3zM228.9 126.5h5.3v2.3h-5.3zM228.9 136.7h5.3v2.3h-5.3zM228.9 183.8h5.3v2.3h-5.3zM228.9 216.6h5.3v2.3h-5.3zM233.9 26.2h5.3v2.3h-5.3zM233.9 34.4h5.3v2.3h-5.3zM233.9 54.8h5.3v2.3h-5.3zM233.9 67.1h5.3v2.3h-5.3zM233.9 69.2h5.3v2.3h-5.3zM233.9 75.3h5.3v2.3h-5.3zM233.9 95.8h5.3v2.3h-5.3zM233.9 110.1h5.3v2.3h-5.3zM233.9 112.2h5.3v2.3h-5.3zM233.9 132.6h5.3v2.3h-5.3zM233.9 153.1h5.3v2.3h-5.3zM233.9 171.5h5.3v2.3h-5.3zM233.9 177.7h5.3v2.3h-5.3zM233.9 200.2h5.3v2.3h-5.3zM238.8 18.0h5.3v2.3h-5.3zM238.8 54.8h5.3v2.3h-5.3zM238.8 56.9h5.3v2.3h-5.3zM238.8 73.3h5.3v2.3h-5.3zM238.8 91.7h5.3v2.3h-5.3zM238.8 108.1h5.3v2.3h-5.3zM238.8 112.2h5.3v2.3h-5.3zM238.8 163.3h5.3v2.3h-5.3zM238.8 171.5h5.3v2.3h-5.3zM238.8 179.7h5.3v2.3h-5.3zM238.8 189.9h5.3v2.3h-5.3zM238.8 196.1h5.3v2.3h-5.3zM243.8 20.0h5.3v2.3h-5.3zM243.8 38.5h5.3v2.3h-5.3zM243.8 54.8h5.3v2.3h-5.3zM243.8 71.2h5.3v2.3h-5.3zM243.8 87.6h5.3v2.3h-5.3zM243.8 93.7h5.3v2.3h-5.3zM243.8 110.1h5.3v2.3h-5.3zM243.8 114.2h5.3v2.3h-5.3zM243.8 116.3h5.3v2.3h-5.3zM243.8 153.1h5.3v2.3h-5.3zM243.8 157.2h5.3v2.3h-5.3zM243.8 167.4h5.3v2.3h-5.3zM243.8 183.8h5.3v2.3h-5.3zM243.8 194.0h5.3v2.3h-5.3zM243.8 202.2h5.3v2.3h-5.3zM248.8 22.1h5.3v2.3h-5.3zM248.8 36.4h5.3v2.3h-5.3zM248.8 42.6h5.3v2.3h-5.3zM248.8 54.8h5.3v2.3h-5.3zM248.8 61.0h5.3v2.3h-5.3zM248.8 75.3h5.3v2.3h-5.3zM248.8 77.4h5.3v2.3h-5.3zM248.8 85.6h5.3v2.3h-5.3zM248.8 99.9h5.3v2.3h-5.3zM248.8 112.2h5.3v2.3h-5.3zM248.8 140.8h5.3v2.3h-5.3zM248.8 153.1h5.3v2.3h-5.3zM248.8 157.2h5.3v2.3h-5.3zM248.8 163.3h5.3v2.3h-5.3zM248.8 200.2h5.3v2.3h-5.3zM248.8 218.6h5.3v2.3h-5.3zM253.8 48.7h5.3v2.3h-5.3zM253.8 99.9h5.3v2.3h-5.3zM253.8 198.1h5.3v2.3h-5.3zM253.8 200.2h5.3v2.3h-5.3zM258.7 36.4h5.3v2.3h-5.3zM258.7 44.6h5.3v2.3h-5.3zM258.7 46.7h5.3v2.3h-5.3zM258.7 81.5h5.3v2.3h-5.3zM258.7 157.2h5.3v2.3h-5.3zM258.7 165.4h5.3v2.3h-5.3zM258.7 169.5h5.3v2.3h-5.3zM258.7 212.5h5.3v2.3h-5.3zM263.7 22.1h8.3v2.3h-8.3zM263.7 44.6h8.3v2.3h-8.3zM263.7 46.7h8.3v2.3h-8.3zM263.7 58.9h8.3v2.3h-8.3zM263.7 87.6h8.3v2.3h-8.3zM263.7 110.1h8.3v2.3h-8.3zM263.7 126.5h8.3v2.3h-8.3zM263.7 151.1h8.3v2.3h-8.3zM263.7 155.1h8.3v2.3h-8.3zM263.7 157.2h8.3v2.3h-8.3zM263.7 163.3h8.3v2.3h-8.3zM263.7 185.9h8.3v2.3h-8.3zM263.7 208.4h8.3v2.3h-8.3zM271.7 97.8h11.3v2.3h-11.3zM271.7 99.9h11.3v2.3h-11.3zM271.7 110.1h11.3v2.3h-11.3zM271.7 126.5h11.3v2.3h-11.3zM271.7 136.7h11.3v2.3h-11.3zM271.7 144.9h11.3v2.3h-11.3zM271.7 149.0h11.3v2.3h-11.3zM271.7 210.4h11.3v2.3h-11.3zM282.7 26.2h11.6v2.3h-11.6zM282.7 28.2h11.6v2.3h-11.6zM282.7 40.5h11.6v2.3h-11.6zM282.7 75.3h11.6v2.3h-11.6zM282.7 81.5h11.6v2.3h-11.6zM282.7 95.8h11.6v2.3h-11.6zM282.7 114.2h11.6v2.3h-11.6zM282.7 122.4h11.6v2.3h-11.6zM282.7 134.7h11.6v2.3h-11.6zM282.7 149.0h11.6v2.3h-11.6zM282.7 151.1h11.6v2.3h-11.6zM282.7 155.1h11.6v2.3h-11.6zM282.7 163.3h11.6v2.3h-11.6zM282.7 214.5h11.6v2.3h-11.6zM294.0 24.1h11.6v2.3h-11.6zM294.0 28.2h11.6v2.3h-11.6zM294.0 40.5h11.6v2.3h-11.6zM294.0 54.8h11.6v2.3h-11.6zM294.0 65.1h11.6v2.3h-11.6zM294.0 91.7h11.6v2.3h-11.6zM294.0 112.2h11.6v2.3h-11.6zM294.0 138.8h11.6v2.3h-11.6zM294.0 153.1h11.6v2.3h-11.6zM294.0 202.2h11.6v2.3h-11.6zM294.0 210.4h11.6v2.3h-11.6zM294.0 212.5h11.6v2.3h-11.6zM305.3 42.6h11.6v2.3h-11.6zM305.3 46.7h11.6v2.3h-11.6zM305.3 87.6h11.6v2.3h-11.6zM305.3 99.9h11.6v2.3h-11.6zM305.3 114.2h11.6v2.3h-11.6zM305.3 169.5h11.6v2.3h-11.6zM305.3 181.8h11.6v2.3h-11.6zM305.3 192.0h11.6v2.3h-11.6zM305.3 208.4h11.6v2.3h-11.6zM316.6 30.3h6.4v2.3h-6.4zM316.6 34.4h6.4v2.3h-6.4zM316.6 36.4h6.4v2.3h-6.4zM316.6 42.6h6.4v2.3h-6.4zM316.6 44.6h6.4v2.3h-6.4zM316.6 48.7h6.4v2.3h-6.4zM316.6 75.3h6.4v2.3h-6.4zM316.6 81.5h6.4v2.3h-6.4zM316.6 87.6h6.4v2.3h-6.4zM316.6 99.9h6.4v2.3h-6.4zM316.6 104.0h6.4v2.3h-6.4zM316.6 106.0h6.4v2.3h-6.4zM316.6 124.4h6.4v2.3h-6.4zM316.6 126.5h6.4v2.3h-6.4zM316.6 130.6h6.4v2.3h-6.4zM316.6 163.3h6.4v2.3h-6.4zM316.6 204.3h6.4v2.3h-6.4zM316.6 210.4h6.4v2.3h-6.4z"/><path fill="#cee0f1" d="M47.5 34.4h4.9v2.3h-4.9zM47.5 46.7h4.9v2.3h-4.9zM47.5 52.8h4.9v2.3h-4.9zM47.5 73.3h4.9v2.3h-4.9zM47.5 79.4h4.9v2.3h-4.9zM47.5 83.5h4.9v2.3h-4.9zM47.5 101.9h4.9v2.3h-4.9zM47.5 142.9h4.9v2.3h-4.9zM47.5 169.5h4.9v2.3h-4.9zM47.5 175.6h4.9v2.3h-4.9zM47.5 183.8h4.9v2.3h-4.9zM47.5 208.4h4.9v2.3h-4.9zM52.1 93.7h9.4v2.3h-9.4zM52.1 99.9h9.4v2.3h-9.4zM52.1 104.0h9.4v2.3h-9.4zM52.1 163.3h9.4v2.3h-9.4zM52.1 200.2h9.4v2.3h-9.4zM61.2 28.2h9.3v2.3h-9.3zM61.2 99.9h9.3v2.3h-9.3zM61.2 155.1h9.3v2.3h-9.3zM61.2 165.4h9.3v2.3h-9.3zM61.2 179.7h9.3v2.3h-9.3zM61.2 194.0h9.3v2.3h-9.3zM61.2 202.2h9.3v2.3h-9.3zM61.2 212.5h9.3v2.3h-9.3zM61.2 220.7h9.3v2.3h-9.3zM70.2 28.2h9.3v2.3h-9.3zM70.2 30.3h9.3v2.3h-9.3zM70.2 44.6h9.3v2.3h-9.3zM70.2 50.8h9.3v2.3h-9.3zM70.2 71.2h9.3v2.3h-9.3zM70.2 85.6h9.3v2.3h-9.3zM70.2 97.8h9.3v2.3h-9.3zM70.2 144.9h9.3v2.3h-9.3zM70.2 159.2h9.3v2.3h-9.3zM70.2 177.7h9.3v2.3h-9.3zM70.2 179.7h9.3v2.3h-9.3zM70.2 181.8h9.3v2.3h-9.3zM70.2 206.3h9.3v2.3h-9.3zM70.2 218.6h9.3v2.3h-9.3zM79.2 48.7h9.3v2.3h-9.3zM79.2 58.9h9.3v2.3h-9.3zM79.2 61.0h9.3v2.3h-9.3zM79.2 85.6h9.3v2.3h-9.3zM79.2 124.4h9.3v2.3h-9.3zM79.2 126.5h9.3v2.3h-9.3zM79.2 130.6h9.3v2.3h-9.3zM79.2 132.6h9.3v2.3h-9.3zM79.2 155.1h9.3v2.3h-9.3zM79.2 177.7h9.3v2.3h-9.3zM79.2 200.2h9.3v2.3h-9.3zM79.2 208.4h9.3v2.3h-9.3zM88.3 44.6h9.3v2.3h-9.3zM88.3 65.1h9.3v2.3h-9.3zM88.3 91.7h9.3v2.3h-9.3zM88.3 138.8h9.3v2.3h-9.3zM88.3 175.6h9.3v2.3h-9.3zM88.3 210.4h9.3v2.3h-9.3zM97.3 24.1h9.3v2.3h-9.3zM97.3 30.3h9.3v2.3h-9.3zM97.3 42.6h9.3v2.3h-9.3zM97.3 44.6h9.3v2.3h-9.3zM97.3 61.0h9.3v2.3h-9.3zM97.3 77.4h9.3v2.3h-9.3zM97.3 79.4h9.3v2.3h-9.3zM97.3 106.0h9.3v2.3h-9.3zM97.3 118.3h9.3v2.3h-9.3zM97.3 175.6h9.3v2.3h-9.3zM106.4 65.1h9.3v2.3h-9.3zM106.4 120.3h9.3v2.3h-9.3zM106.4 147.0h9.3v2.3h-9.3zM106.4 159.2h9.3v2.3h-9.3zM106.4 204.3h9.3v2.3h-9.3zM115.4 18.0h9.3v2.3h-9.3zM115.4 30.3h9.3v2.3h-9.3zM115.4 40.5h9.3v2.3h-9.3zM115.4 67.1h9.3v2.3h-9.3zM115.4 99.9h9.3v2.3h-9.3zM115.4 140.8h9.3v2.3h-9.3zM115.4 165.4h9.3v2.3h-9.3zM115.4 179.7h9.3v2.3h-9.3zM115.4 206.3h9.3v2.3h-9.3zM115.4 220.7h9.3v2.3h-9.3zM124.5 85.6h5.3v2.3h-5.3zM124.5 132.6h5.3v2.3h-5.3zM124.5 169.5h5.3v2.3h-5.3zM124.5 194.0h5.3v2.3h-5.3zM129.5 30.3h5.3v2.3h-5.3zM129.5 32.3h5.3v2.3h-5.3zM129.5 42.6h5.3v2.3h-5.3zM129.5 44.6h5.3v2.3h-5.3zM129.5 73.3h5.3v2.3h-5.3zM129.5 75.3h5.3v2.3h-5.3zM129.5 79.4h5.3v2.3h-5.3zM129.5 128.5h5.3v2.3h-5.3zM129.5 134.7h5.3v2.3h-5.3zM129.5 144.9h5.3v2.3h-5.3zM129.5 171.5h5.3v2.3h-5.3zM129.5 208.4h5.3v2.3h-5.3zM129.5 210.4h5.3v2.3h-5.3zM134.4 34.4h5.3v2.3h-5.3zM134.4 69.2h5.3v2.3h-5.3zM134.4 142.9h5.3v2.3h-5.3zM134.4 167.4h5.3v2.3h-5.3zM134.4 185.9h5.3v2.3h-5.3zM134.4 200.2h5.3v2.3h-5.3zM134.4 214.5h5.3v2.3h-5.3zM134.4 220.7h5.3v2.3h-5.3zM139.4 52.8h5.3v2.3h-5.3zM139.4 54.8h5.3v2.3h-5.3zM139.4 65.1h5.3v2.3h-5.3zM139.4 67.1h5.3v2.3h-5.3zM139.4 95.8h5.3v2.3h-5.3zM139.4 116.3h5.3v2.3h-5.3zM139.4 128.5h5.3v2.3h-5.3zM139.4 161.3h5.3v2.3h-5.3zM139.4 167.4h5.3v2.3h-5.3zM139.4 212.5h5.3v2.3h-5.3zM144.4 24.1h5.3v2.3h-5.3zM144.4 97.8h5.3v2.3h-5.3zM144.4 118.3h5.3v2.3h-5.3zM144.4 130.6h5.3v2.3h-5.3zM144.4 159.2h5.3v2.3h-5.3zM144.4 198.1h5.3v2.3h-5.3zM144.4 204.3h5.3v2.3h-5.3zM144.4 220.7h5.3v2.3h-5.3zM149.4 32.3h5.3v2.3h-5.3zM149.4 34.4h5.3v2.3h-5.3zM149.4 50.8h5.3v2.3h-5.3zM149.4 54.8h5.3v2.3h-5.3zM149.4 69.2h5.3v2.3h-5.3zM149.4 95.8h5.3v2.3h-5.3zM149.4 124.4h5.3v2.3h-5.3zM149.4 130.6h5.3v2.3h-5.3zM149.4 132.6h5.3v2.3h-5.3zM149.4 157.2h5.3v2.3h-5.3zM149.4 185.9h5.3v2.3h-5.3zM149.4 208.4h5.3v2.3h-5.3zM149.4 210.4h5.3v2.3h-5.3zM149.4 212.5h5.3v2.3h-5.3zM149.4 218.6h5.3v2.3h-5.3zM154.3 24.1h5.3v2.3h-5.3zM154.3 42.6h5.3v2.3h-5.3zM154.3 99.9h5.3v2.3h-5.3zM154.3 108.1h5.3v2.3h-5.3zM154.3 112.2h5.3v2.3h-5.3zM154.3 136.7h5.3v2.3h-5.3zM154.3 206.3h5.3v2.3h-5.3zM159.3 32.3h5.3v2.3h-5.3zM159.3 40.5h5.3v2.3h-5.3zM159.3 63.0h5.3v2.3h-5.3zM159.3 77.4h5.3v2.3h-5.3zM159.3 89.6h5.3v2.3h-5.3zM159.3 118.3h5.3v2.3h-5.3zM159.3 142.9h5.3v2.3h-5.3zM159.3 149.0h5.3v2.3h-5.3zM159.3 161.3h5.3v2.3h-5.3zM159.3 163.3h5.3v2.3h-5.3zM159.3 187.9h5.3v2.3h-5.3zM164.3 34.4h5.3v2.3h-5.3zM164.3 73.3h5.3v2.3h-5.3zM164.3 91.7h5.3v2.3h-5.3zM164.3 97.8h5.3v2.3h-5.3zM164.3 120.3h5.3v2.3h-5.3zM164.3 124.4h5.3v2.3h-5.3zM164.3 142.9h5.3v2.3h-5.3zM164.3 144.9h5.3v2.3h-5.3zM164.3 149.0h5.3v2.3h-5.3zM164.3 181.8h5.3v2.3h-5.3zM164.3 194.0h5.3v2.3h-5.3zM164.3 196.1h5.3v2.3h-5.3zM169.2 71.2h5.3v2.3h-5.3zM169.2 151.1h5.3v2.3h-5.3zM169.2 159.2h5.3v2.3h-5.3zM169.2 194.0h5.3v2.3h-5.3zM169.2 218.6h5.3v2.3h-5.3zM174.2 20.0h5.3v2.3h-5.3zM174.2 24.1h5.3v2.3h-5.3zM174.2 40.5h5.3v2.3h-5.3zM174.2 67.1h5.3v2.3h-5.3zM174.2 81.5h5.3v2.3h-5.3zM174.2 93.7h5.3v2.3h-5.3zM174.2 112.2h5.3v2.3h-5.3zM174.2 147.0h5.3v2.3h-5.3zM174.2 149.0h5.3v2.3h-5.3zM174.2 167.4h5.3v2.3h-5.3zM174.2 177.7h5.3v2.3h-5.3zM174.2 189.9h5.3v2.3h-5.3zM174.2 198.1h5.3v2.3h-5.3zM174.2 202.2h5.3v2.3h-5.3zM179.2 20.0h5.3v2.3h-5.3zM179.2 34.4h5.3v2.3h-5.3zM179.2 44.6h5.3v2.3h-5.3zM179.2 65.1h5.3v2.3h-5.3zM179.2 99.9h5.3v2.3h-5.3zM179.2 104.0h5.3v2.3h-5.3zM179.2 110.1h5.3v2.3h-5.3zM179.2 167.4h5.3v2.3h-5.3zM179.2 196.1h5.3v2.3h-5.3zM179.2 216.6h5.3v2.3h-5.3zM184.2 18.0h5.3v2.3h-5.3zM184.2 24.1h5.3v2.3h-5.3zM184.2 48.7h5.3v2.3h-5.3zM184.2 50.8h5.3v2.3h-5.3zM184.2 67.1h5.3v2.3h-5.3zM184.2 75.3h5.3v2.3h-5.3zM184.2 114.2h5.3v2.3h-5.3zM184.2 120.3h5.3v2.3h-5.3zM184.2 161.3h5.3v2.3h-5.3zM184.2 167.4h5.3v2.3h-5.3zM184.2 169.5h5.3v2.3h-5.3zM189.1 22.1h5.3v2.3h-5.3zM189.1 58.9h5.3v2.3h-5.3zM189.1 97.8h5.3v2.3h-5.3zM189.1 104.0h5.3v2.3h-5.3zM189.1 106.0h5.3v2.3h-5.3zM189.1 130.6h5.3v2.3h-5.3zM189.1 132.6h5.3v2.3h-5.3zM189.1 138.8h5.3v2.3h-5.3zM189.1 153.1h5.3v2.3h-5.3zM189.1 171.5h5.3v2.3h-5.3zM189.1 179.7h5.3v2.3h-5.3zM194.1 18.0h5.3v2.3h-5.3zM194.1 44.6h5.3v2.3h-5.3zM194.1 48.7h5.3v2.3h-5.3zM194.1 54.8h5.3v2.3h-5.3zM194.1 81.5h5.3v2.3h-5.3zM194.1 89.6h5.3v2.3h-5.3zM194.1 99.9h5.3v2.3h-5.3zM194.1 126.5h5.3v2.3h-5.3zM194.1 138.8h5.3v2.3h-5.3zM194.1 149.0h5.3v2.3h-5.3zM194.1 151.1h5.3v2.3h-5.3zM194.1 169.5h5.3v2.3h-5.3zM194.1 208.4h5.3v2.3h-5.3zM199.1 26.2h5.3v2.3h-5.3zM199.1 28.2h5.3v2.3h-5.3zM199.1 30.3h5.3v2.3h-5.3zM199.1 48.7h5.3v2.3h-5.3zM199.1 56.9h5.3v2.3h-5.3zM199.1 73.3h5.3v2.3h-5.3zM199.1 77.4h5.3v2.3h-5.3zM199.1 81.5h5.3v2.3h-5.3zM199.1 112.2h5.3v2.3h-5.3zM199.1 116.3h5.3v2.3h-5.3zM199.1 120.3h5.3v2.3h-5.3zM199.1 122.4h5.3v2.3h-5.3zM199.1 128.5h5.3v2.3h-5.3zM199.1 130.6h5.3v2.3h-5.3zM199.1 147.0h5.3v2.3h-5.3zM199.1 151.1h5.3v2.3h-5.3zM199.1 173.6h5.3v2.3h-5.3zM204.0 63.0h5.3v2.3h-5.3zM204.0 104.0h5.3v2.3h-5.3zM204.0 106.0h5.3v2.3h-5.3zM204.0 112.2h5.3v2.3h-5.3zM204.0 126.5h5.3v2.3h-5.3zM204.0 130.6h5.3v2.3h-5.3zM204.0 159.2h5.3v2.3h-5.3zM204.0 161.3h5.3v2.3h-5.3zM204.0 208.4h5.3v2.3h-5.3zM209.0 34.4h5.3v2.3h-5.3zM209.0 63.0h5.3v2.3h-5.3zM209.0 79.4h5.3v2.3h-5.3zM209.0 81.5h5.3v2.3h-5.3zM209.0 85.6h5.3v2.3h-5.3zM209.0 99.9h5.3v2.3h-5.3zM209.0 122.4h5.3v2.3h-5.3zM209.0 159.2h5.3v2.3h-5.3zM209.0 177.7h5.3v2.3h-5.3zM209.0 183.8h5.3v2.3h-5.3zM209.0 200.2h5.3v2.3h-5.3zM214.0 22.1h5.3v2.3h-5.3zM214.0 34.4h5.3v2.3h-5.3zM214.0 104.0h5.3v2.3h-5.3zM214.0 110.1h5.3v2.3h-5.3zM214.0 120.3h5.3v2.3h-5.3zM214.0 157.2h5.3v2.3h-5.3zM214.0 177.7h5.3v2.3h-5.3zM214.0 196.1h5.3v2.3h-5.3zM214.0 204.3h5.3v2.3h-5.3zM214.0 206.3h5.3v2.3h-5.3zM219.0 32.3h5.3v2.3h-5.3zM219.0 89.6h5.3v2.3h-5.3zM219.0 140.8h5.3v2.3h-5.3zM219.0 157.2h5.3v2.3h-5.3zM219.0 167.4h5.3v2.3h-5.3zM219.0 175.6h5.3v2.3h-5.3zM219.0 202.2h5.3v2.3h-5.3zM219.0 218.6h5.3v2.3h-5.3zM223.9 28.2h5.3v2.3h-5.3zM223.9 42.6h5.3v2.3h-5.3zM223.9 61.0h5.3v2.3h-5.3zM223.9 85.6h5.3v2.3h-5.3zM223.9 128.5h5.3v2.3h-5.3zM223.9 132.6h5.3v2.3h-5.3zM223.9 169.5h5.3v2.3h-5.3zM223.9 173.6h5.3v2.3h-5.3zM223.9 175.6h5.3v2.3h-5.3zM223.9 181.8h5.3v2.3h-5.3zM223.9 204.3h5.3v2.3h-5.3zM223.9 220.7h5.3v2.3h-5.3zM228.9 52.8h5.3v2.3h-5.3zM228.9 61.0h5.3v2.3h-5.3zM228.9 79.4h5.3v2.3h-5.3zM228.9 128.5h5.3v2.3h-5.3zM228.9 134.7h5.3v2.3h-5.3zM228.9 153.1h5.3v2.3h-5.3zM228.9 159.2h5.3v2.3h-5.3zM228.9 163.3h5.3v2.3h-5.3zM228.9 171.5h5.3v2.3h-5.3zM228.9 177.7h5.3v2.3h-5.3zM228.9 181.8h5.3v2.3h-5.3zM228.9 185.9h5.3v2.3h-5.3zM228.9 198.1h5.3v2.3h-5.3zM233.9 24.1h5.3v2.3h-5.3zM233.9 28.2h5.3v2.3h-5.3zM233.9 46.7h5.3v2.3h-5.3zM233.9 52.8h5.3v2.3h-5.3zM233.9 61.0h5.3v2.3h-5.3zM233.9 65.1h5.3v2.3h-5.3zM233.9 73.3h5.3v2.3h-5.3zM233.9 87.6h5.3v2.3h-5.3zM233.9 114.2h5.3v2.3h-5.3zM233.9 134.7h5.3v2.3h-5.3zM233.9 136.7h5.3v2.3h-5.3zM233.9 159.2h5.3v2.3h-5.3zM233.9 163.3h5.3v2.3h-5.3zM233.9 189.9h5.3v2.3h-5.3zM233.9 194.0h5.3v2.3h-5.3zM233.9 214.5h5.3v2.3h-5.3zM238.8 20.0h5.3v2.3h-5.3zM238.8 87.6h5.3v2.3h-5.3zM238.8 89.6h5.3v2.3h-5.3zM238.8 110.1h5.3v2.3h-5.3zM238.8 167.4h5.3v2.3h-5.3zM238.8 208.4h5.3v2.3h-5.3zM243.8 22.1h5.3v2.3h-5.3zM243.8 58.9h5.3v2.3h-5.3zM243.8 73.3h5.3v2.3h-5.3zM243.8 124.4h5.3v2.3h-5.3zM243.8 130.6h5.3v2.3h-5.3zM243.8 140.8h5.3v2.3h-5.3zM243.8 147.0h5.3v2.3h-5.3zM243.8 149.0h5.3v2.3h-5.3zM243.8 165.4h5.3v2.3h-5.3zM243.8 175.6h5.3v2.3h-5.3zM243.8 206.3h5.3v2.3h-5.3zM243.8 220.7h5.3v2.3h-5.3zM248.8 20.0h5.3v2.3h-5.3zM248.8 30.3h5.3v2.3h-5.3zM248.8 38.5h5.3v2.3h-5.3zM248.8 81.5h5.3v2.3h-5.3zM248.8 93.7h5.3v2.3h-5.3zM248.8 104.0h5.3v2.3h-5.3zM248.8 128.5h5.3v2.3h-5.3zM248.8 171.5h5.3v2.3h-5.3zM248.8 179.7h5.3v2.3h-5.3zM248.8 181.8h5.3v2.3h-5.3zM248.8 214.5h5.3v2.3h-5.3zM253.8 116.3h5.3v2.3h-5.3zM258.7 58.9h5.3v2.3h-5.3zM258.7 73.3h5.3v2.3h-5.3zM258.7 77.4h5.3v2.3h-5.3zM258.7 108.1h5.3v2.3h-5.3zM258.7 151.1h5.3v2.3h-5.3zM258.7 161.3h5.3v2.3h-5.3zM258.7 171.5h5.3v2.3h-5.3zM258.7 194.0h5.3v2.3h-5.3zM258.7 202.2h5.3v2.3h-5.3zM263.7 20.0h8.3v2.3h-8.3zM263.7 32.3h8.3v2.3h-8.3zM263.7 34.4h8.3v2.3h-8.3zM263.7 36.4h8.3v2.3h-8.3zM263.7 63.0h8.3v2.3h-8.3zM263.7 65.1h8.3v2.3h-8.3zM263.7 67.1h8.3v2.3h-8.3zM263.7 97.8h8.3v2.3h-8.3zM263.7 142.9h8.3v2.3h-8.3zM263.7 173.6h8.3v2.3h-8.3zM263.7 194.0h8.3v2.3h-8.3zM263.7 196.1h8.3v2.3h-8.3zM271.7 20.0h11.3v2.3h-11.3zM271.7 56.9h11.3v2.3h-11.3zM271.7 58.9h11.3v2.3h-11.3zM271.7 65.1h11.3v2.3h-11.3zM271.7 142.9h11.3v2.3h-11.3zM271.7 167.4h11.3v2.3h-11.3zM271.7 204.3h11.3v2.3h-11.3zM282.7 32.3h11.6v2.3h-11.6zM282.7 44.6h11.6v2.3h-11.6zM282.7 77.4h11.6v2.3h-11.6zM282.7 106.0h11.6v2.3h-11.6zM282.7 165.4h11.6v2.3h-11.6zM282.7 198.1h11.6v2.3h-11.6zM282.7 200.2h11.6v2.3h-11.6zM282.7 204.3h11.6v2.3h-11.6zM282.7 206.3h11.6v2.3h-11.6zM294.0 20.0h11.6v2.3h-11.6zM294.0 67.1h11.6v2.3h-11.6zM294.0 69.2h11.6v2.3h-11.6zM294.0 73.3h11.6v2.3h-11.6zM294.0 81.5h11.6v2.3h-11.6zM294.0 93.7h11.6v2.3h-11.6zM294.0 106.0h11.6v2.3h-11.6zM294.0 151.1h11.6v2.3h-11.6zM294.0 185.9h11.6v2.3h-11.6zM294.0 194.0h11.6v2.3h-11.6zM305.3 40.5h11.6v2.3h-11.6zM305.3 44.6h11.6v2.3h-11.6zM305.3 56.9h11.6v2.3h-11.6zM305.3 61.0h11.6v2.3h-11.6zM305.3 71.2h11.6v2.3h-11.6zM305.3 122.4h11.6v2.3h-11.6zM305.3 144.9h11.6v2.3h-11.6zM305.3 175.6h11.6v2.3h-11.6zM305.3 179.7h11.6v2.3h-11.6zM305.3 183.8h11.6v2.3h-11.6zM305.3 202.2h11.6v2.3h-11.6zM305.3 214.5h11.6v2.3h-11.6zM305.3 216.6h11.6v2.3h-11.6zM316.6 50.8h6.4v2.3h-6.4zM316.6 93.7h6.4v2.3h-6.4zM316.6 95.8h6.4v2.3h-6.4zM316.6 208.4h6.4v2.3h-6.4z"/><path fill="#cbdef1" d="M47.5 38.5h4.9v2.3h-4.9zM47.5 69.2h4.9v2.3h-4.9zM47.5 75.3h4.9v2.3h-4.9zM47.5 132.6h4.9v2.3h-4.9zM47.5 134.7h4.9v2.3h-4.9zM47.5 161.3h4.9v2.3h-4.9zM47.5 194.0h4.9v2.3h-4.9zM47.5 200.2h4.9v2.3h-4.9zM52.1 32.3h9.4v2.3h-9.4zM52.1 128.5h9.4v2.3h-9.4zM61.2 30.3h9.3v2.3h-9.3zM61.2 36.4h9.3v2.3h-9.3zM61.2 61.0h9.3v2.3h-9.3zM61.2 97.8h9.3v2.3h-9.3zM61.2 108.1h9.3v2.3h-9.3zM61.2 112.2h9.3v2.3h-9.3zM61.2 120.3h9.3v2.3h-9.3zM61.2 124.4h9.3v2.3h-9.3zM61.2 134.7h9.3v2.3h-9.3zM61.2 144.9h9.3v2.3h-9.3zM61.2 183.8h9.3v2.3h-9.3zM61.2 192.0h9.3v2.3h-9.3zM70.2 26.2h9.3v2.3h-9.3zM70.2 46.7h9.3v2.3h-9.3zM70.2 52.8h9.3v2.3h-9.3zM70.2 65.1h9.3v2.3h-9.3zM70.2 69.2h9.3v2.3h-9.3zM70.2 89.6h9.3v2.3h-9.3zM70.2 95.8h9.3v2.3h-9.3zM70.2 104.0h9.3v2.3h-9.3zM70.2 128.5h9.3v2.3h-9.3zM70.2 130.6h9.3v2.3h-9.3zM70.2 151.1h9.3v2.3h-9.3zM70.2 153.1h9.3v2.3h-9.3zM70.2 161.3h9.3v2.3h-9.3zM70.2 196.1h9.3v2.3h-9.3zM70.2 216.6h9.3v2.3h-9.3zM79.2 50.8h9.3v2.3h-9.3zM79.2 173.6h9.3v2.3h-9.3zM79.2 194.0h9.3v2.3h-9.3zM79.2 204.3h9.3v2.3h-9.3zM88.3 24.1h9.3v2.3h-9.3zM88.3 28.2h9.3v2.3h-9.3zM88.3 36.4h9.3v2.3h-9.3zM88.3 42.6h9.3v2.3h-9.3zM88.3 63.0h9.3v2.3h-9.3zM88.3 104.0h9.3v2.3h-9.3zM88.3 140.8h9.3v2.3h-9.3zM88.3 163.3h9.3v2.3h-9.3zM88.3 169.5h9.3v2.3h-9.3zM88.3 183.8h9.3v2.3h-9.3zM88.3 204.3h9.3v2.3h-9.3zM88.3 216.6h9.3v2.3h-9.3zM88.3 220.7h9.3v2.3h-9.3zM97.3 69.2h9.3v2.3h-9.3zM97.3 71.2h9.3v2.3h-9.3zM97.3 75.3h9.3v2.3h-9.3zM97.3 99.9h9.3v2.3h-9.3zM97.3 116.3h9.3v2.3h-9.3zM97.3 120.3h9.3v2.3h-9.3zM97.3 122.4h9.3v2.3h-9.3zM97.3 144.9h9.3v2.3h-9.3zM97.3 169.5h9.3v2.3h-9.3zM97.3 171.5h9.3v2.3h-9.3zM97.3 185.9h9.3v2.3h-9.3zM97.3 204.3h9.3v2.3h-9.3zM97.3 206.3h9.3v2.3h-9.3zM97.3 220.7h9.3v2.3h-9.3zM106.4 24.1h9.3v2.3h-9.3zM106.4 77.4h9.3v2.3h-9.3zM106.4 122.4h9.3v2.3h-9.3zM106.4 220.7h9.3v2.3h-9.3zM115.4 48.7h9.3v2.3h-9.3zM115.4 79.4h9.3v2.3h-9.3zM115.4 89.6h9.3v2.3h-9.3zM115.4 101.9h9.3v2.3h-9.3zM115.4 196.1h9.3v2.3h-9.3zM124.5 20.0h5.3v2.3h-5.3zM124.5 36.4h5.3v2.3h-5.3zM124.5 52.8h5.3v2.3h-5.3zM124.5 104.0h5.3v2.3h-5.3zM124.5 138.8h5.3v2.3h-5.3zM129.5 36.4h5.3v2.3h-5.3zM129.5 65.1h5.3v2.3h-5.3zM129.5 140.8h5.3v2.3h-5.3zM129.5 159.2h5.3v2.3h-5.3zM129.5 167.4h5.3v2.3h-5.3zM129.5 192.0h5.3v2.3h-5.3zM129.5 216.6h5.3v2.3h-5.3zM134.4 71.2h5.3v2.3h-5.3zM134.4 138.8h5.3v2.3h-5.3zM134.4 149.0h5.3v2.3h-5.3zM134.4 163.3h5.3v2.3h-5.3zM134.4 177.7h5.3v2.3h-5.3zM134.4 204.3h5.3v2.3h-5.3zM134.4 216.6h5.3v2.3h-5.3zM139.4 32.3h5.3v2.3h-5.3zM139.4 34.4h5.3v2.3h-5.3zM139.4 50.8h5.3v2.3h-5.3zM139.4 69.2h5.3v2.3h-5.3zM139.4 79.4h5.3v2.3h-5.3zM139.4 85.6h5.3v2.3h-5.3zM139.4 165.4h5.3v2.3h-5.3zM139.4 169.5h5.3v2.3h-5.3zM139.4 198.1h5.3v2.3h-5.3zM139.4 204.3h5.3v2.3h-5.3zM139.4 220.7h5.3v2.3h-5.3zM144.4 18.0h5.3v2.3h-5.3zM144.4 30.3h5.3v2.3h-5.3zM144.4 52.8h5.3v2.3h-5.3zM144.4 56.9h5.3v2.3h-5.3zM144.4 77.4h5.3v2.3h-5.3zM144.4 128.5h5.3v2.3h-5.3zM144.4 151.1h5.3v2.3h-5.3zM144.4 189.9h5.3v2.3h-5.3zM144.4 192.0h5.3v2.3h-5.3zM144.4 206.3h5.3v2.3h-5.3zM149.4 75.3h5.3v2.3h-5.3zM149.4 85.6h5.3v2.3h-5.3zM149.4 89.6h5.3v2.3h-5.3zM149.4 93.7h5.3v2.3h-5.3zM149.4 116.3h5.3v2.3h-5.3zM149.4 155.1h5.3v2.3h-5.3zM149.4 163.3h5.3v2.3h-5.3zM149.4 181.8h5.3v2.3h-5.3zM149.4 214.5h5.3v2.3h-5.3zM154.3 56.9h5.3v2.3h-5.3zM154.3 65.1h5.3v2.3h-5.3zM154.3 120.3h5.3v2.3h-5.3zM154.3 130.6h5.3v2.3h-5.3zM154.3 138.8h5.3v2.3h-5.3zM154.3 157.2h5.3v2.3h-5.3zM154.3 163.3h5.3v2.3h-5.3zM159.3 34.4h5.3v2.3h-5.3zM159.3 69.2h5.3v2.3h-5.3zM159.3 79.4h5.3v2.3h-5.3zM159.3 81.5h5.3v2.3h-5.3zM159.3 95.8h5.3v2.3h-5.3zM159.3 112.2h5.3v2.3h-5.3zM159.3 114.2h5.3v2.3h-5.3zM159.3 120.3h5.3v2.3h-5.3zM159.3 136.7h5.3v2.3h-5.3zM159.3 144.9h5.3v2.3h-5.3zM159.3 185.9h5.3v2.3h-5.3zM159.3 204.3h5.3v2.3h-5.3zM164.3 32.3h5.3v2.3h-5.3zM164.3 44.6h5.3v2.3h-5.3zM164.3 46.7h5.3v2.3h-5.3zM164.3 63.0h5.3v2.3h-5.3zM164.3 83.5h5.3v2.3h-5.3zM164.3 108.1h5.3v2.3h-5.3zM164.3 126.5h5.3v2.3h-5.3zM164.3 134.7h5.3v2.3h-5.3zM164.3 155.1h5.3v2.3h-5.3zM164.3 198.1h5.3v2.3h-5.3zM164.3 200.2h5.3v2.3h-5.3zM169.2 46.7h5.3v2.3h-5.3zM169.2 99.9h5.3v2.3h-5.3zM169.2 118.3h5.3v2.3h-5.3zM169.2 124.4h5.3v2.3h-5.3zM169.2 153.1h5.3v2.3h-5.3zM174.2 32.3h5.3v2.3h-5.3zM174.2 63.0h5.3v2.3h-5.3zM174.2 65.1h5.3v2.3h-5.3zM174.2 116.3h5.3v2.3h-5.3zM174.2 128.5h5.3v2.3h-5.3zM174.2 155.1h5.3v2.3h-5.3zM174.2 210.4h5.3v2.3h-5.3zM179.2 28.2h5.3v2.3h-5.3zM179.2 32.3h5.3v2.3h-5.3zM179.2 75.3h5.3v2.3h-5.3zM179.2 89.6h5.3v2.3h-5.3zM179.2 130.6h5.3v2.3h-5.3zM179.2 144.9h5.3v2.3h-5.3zM179.2 192.0h5.3v2.3h-5.3zM184.2 63.0h5.3v2.3h-5.3zM184.2 65.1h5.3v2.3h-5.3zM184.2 85.6h5.3v2.3h-5.3zM184.2 108.1h5.3v2.3h-5.3zM184.2 110.1h5.3v2.3h-5.3zM184.2 126.5h5.3v2.3h-5.3zM184.2 128.5h5.3v2.3h-5.3zM184.2 138.8h5.3v2.3h-5.3zM184.2 206.3h5.3v2.3h-5.3zM184.2 214.5h5.3v2.3h-5.3zM184.2 218.6h5.3v2.3h-5.3zM184.2 220.7h5.3v2.3h-5.3zM189.1 50.8h5.3v2.3h-5.3zM189.1 61.0h5.3v2.3h-5.3zM189.1 83.5h5.3v2.3h-5.3zM189.1 101.9h5.3v2.3h-5.3zM189.1 116.3h5.3v2.3h-5.3zM189.1 124.4h5.3v2.3h-5.3zM189.1 128.5h5.3v2.3h-5.3zM189.1 147.0h5.3v2.3h-5.3zM189.1 157.2h5.3v2.3h-5.3zM189.1 204.3h5.3v2.3h-5.3zM189.1 206.3h5.3v2.3h-5.3zM189.1 214.5h5.3v2.3h-5.3zM194.1 24.1h5.3v2.3h-5.3zM194.1 42.6h5.3v2.3h-5.3zM194.1 50.8h5.3v2.3h-5.3zM194.1 73.3h5.3v2.3h-5.3zM194.1 118.3h5.3v2.3h-5.3zM194.1 124.4h5.3v2.3h-5.3zM194.1 189.9h5.3v2.3h-5.3zM194.1 194.0h5.3v2.3h-5.3zM199.1 20.0h5.3v2.3h-5.3zM199.1 34.4h5.3v2.3h-5.3zM199.1 42.6h5.3v2.3h-5.3zM199.1 67.1h5.3v2.3h-5.3zM199.1 97.8h5.3v2.3h-5.3zM199.1 110.1h5.3v2.3h-5.3zM199.1 144.9h5.3v2.3h-5.3zM199.1 153.1h5.3v2.3h-5.3zM199.1 171.5h5.3v2.3h-5.3zM199.1 194.0h5.3v2.3h-5.3zM199.1 220.7h5.3v2.3h-5.3zM204.0 30.3h5.3v2.3h-5.3zM204.0 40.5h5.3v2.3h-5.3zM204.0 79.4h5.3v2.3h-5.3zM204.0 101.9h5.3v2.3h-5.3zM204.0 132.6h5.3v2.3h-5.3zM204.0 171.5h5.3v2.3h-5.3zM209.0 36.4h5.3v2.3h-5.3zM209.0 46.7h5.3v2.3h-5.3zM209.0 56.9h5.3v2.3h-5.3zM209.0 116.3h5.3v2.3h-5.3zM209.0 120.3h5.3v2.3h-5.3zM209.0 149.0h5.3v2.3h-5.3zM209.0 187.9h5.3v2.3h-5.3zM209.0 192.0h5.3v2.3h-5.3zM209.0 202.2h5.3v2.3h-5.3zM209.0 206.3h5.3v2.3h-5.3zM214.0 73.3h5.3v2.3h-5.3zM214.0 91.7h5.3v2.3h-5.3zM214.0 99.9h5.3v2.3h-5.3zM214.0 112.2h5.3v2.3h-5.3zM214.0 138.8h5.3v2.3h-5.3zM214.0 149.0h5.3v2.3h-5.3zM214.0 192.0h5.3v2.3h-5.3zM214.0 194.0h5.3v2.3h-5.3zM219.0 22.1h5.3v2.3h-5.3zM219.0 56.9h5.3v2.3h-5.3zM219.0 130.6h5.3v2.3h-5.3zM219.0 147.0h5.3v2.3h-5.3zM219.0 159.2h5.3v2.3h-5.3zM219.0 181.8h5.3v2.3h-5.3zM223.9 38.5h5.3v2.3h-5.3zM223.9 87.6h5.3v2.3h-5.3zM223.9 140.8h5.3v2.3h-5.3zM223.9 144.9h5.3v2.3h-5.3zM223.9 149.0h5.3v2.3h-5.3zM223.9 189.9h5.3v2.3h-5.3zM223.9 206.3h5.3v2.3h-5.3zM223.9 216.6h5.3v2.3h-5.3zM228.9 34.4h5.3v2.3h-5.3zM228.9 46.7h5.3v2.3h-5.3zM228.9 89.6h5.3v2.3h-5.3zM228.9 97.8h5.3v2.3h-5.3zM228.9 144.9h5.3v2.3h-5.3zM228.9 151.1h5.3v2.3h-5.3zM228.9 210.4h5.3v2.3h-5.3zM233.9 85.6h5.3v2.3h-5.3zM233.9 142.9h5.3v2.3h-5.3zM233.9 155.1h5.3v2.3h-5.3zM233.9 175.6h5.3v2.3h-5.3zM233.9 196.1h5.3v2.3h-5.3zM233.9 216.6h5.3v2.3h-5.3zM233.9 220.7h5.3v2.3h-5.3zM238.8 116.3h5.3v2.3h-5.3zM238.8 136.7h5.3v2.3h-5.3zM238.8 194.0h5.3v2.3h-5.3zM243.8 24.1h5.3v2.3h-5.3zM243.8 40.5h5.3v2.3h-5.3zM243.8 44.6h5.3v2.3h-5.3zM243.8 46.7h5.3v2.3h-5.3zM243.8 56.9h5.3v2.3h-5.3zM243.8 63.0h5.3v2.3h-5.3zM243.8 85.6h5.3v2.3h-5.3zM243.8 97.8h5.3v2.3h-5.3zM243.8 118.3h5.3v2.3h-5.3zM243.8 128.5h5.3v2.3h-5.3zM243.8 138.8h5.3v2.3h-5.3zM243.8 192.0h5.3v2.3h-5.3zM243.8 198.1h5.3v2.3h-5.3zM243.8 214.5h5.3v2.3h-5.3zM243.8 218.6h5.3v2.3h-5.3zM248.8 18.0h5.3v2.3h-5.3zM248.8 28.2h5.3v2.3h-5.3zM248.8 48.7h5.3v2.3h-5.3zM248.8 71.2h5.3v2.3h-5.3zM248.8 144.9h5.3v2.3h-5.3zM253.8 97.8h5.3v2.3h-5.3zM258.7 24.1h5.3v2.3h-5.3zM258.7 28.2h5.3v2.3h-5.3zM258.7 65.1h5.3v2.3h-5.3zM258.7 79.4h5.3v2.3h-5.3zM258.7 112.2h5.3v2.3h-5.3zM258.7 126.5h5.3v2.3h-5.3zM258.7 134.7h5.3v2.3h-5.3zM258.7 138.8h5.3v2.3h-5.3zM258.7 173.6h5.3v2.3h-5.3zM258.7 185.9h5.3v2.3h-5.3zM258.7 206.3h5.3v2.3h-5.3zM258.7 214.5h5.3v2.3h-5.3zM263.7 73.3h8.3v2.3h-8.3zM263.7 114.2h8.3v2.3h-8.3zM263.7 130.6h8.3v2.3h-8.3zM263.7 132.6h8.3v2.3h-8.3zM263.7 138.8h8.3v2.3h-8.3zM263.7 161.3h8.3v2.3h-8.3zM263.7 165.4h8.3v2.3h-8.3zM263.7 169.5h8.3v2.3h-8.3zM263.7 183.8h8.3v2.3h-8.3zM263.7 187.9h8.3v2.3h-8.3zM263.7 204.3h8.3v2.3h-8.3zM263.7 220.7h8.3v2.3h-8.3zM271.7 28.2h11.3v2.3h-11.3zM271.7 42.6h11.3v2.3h-11.3zM271.7 106.0h11.3v2.3h-11.3zM271.7 175.6h11.3v2.3h-11.3zM271.7 185.9h11.3v2.3h-11.3zM282.7 30.3h11.6v2.3h-11.6zM282.7 34.4h11.6v2.3h-11.6zM282.7 63.0h11.6v2.3h-11.6zM282.7 65.1h11.6v2.3h-11.6zM282.7 71.2h11.6v2.3h-11.6zM282.7 83.5h11.6v2.3h-11.6zM282.7 132.6h11.6v2.3h-11.6zM282.7 159.2h11.6v2.3h-11.6zM282.7 194.0h11.6v2.3h-11.6zM282.7 218.6h11.6v2.3h-11.6zM294.0 32.3h11.6v2.3h-11.6zM294.0 52.8h11.6v2.3h-11.6zM294.0 120.3h11.6v2.3h-11.6zM294.0 124.4h11.6v2.3h-11.6zM294.0 142.9h11.6v2.3h-11.6zM294.0 144.9h11.6v2.3h-11.6zM294.0 181.8h11.6v2.3h-11.6zM294.0 189.9h11.6v2.3h-11.6zM294.0 214.5h11.6v2.3h-11.6zM305.3 24.1h11.6v2.3h-11.6zM305.3 26.2h11.6v2.3h-11.6zM305.3 50.8h11.6v2.3h-11.6zM305.3 149.0h11.6v2.3h-11.6zM316.6 85.6h6.4v2.3h-6.4zM316.6 147.0h6.4v2.3h-6.4zM316.6 153.1h6.4v2.3h-6.4zM316.6 185.9h6.4v2.3h-6.4zM316.6 194.0h6.4v2.3h-6.4z"/><path fill="#c8ddf0" d="M47.5 48.7h4.9v2.3h-4.9zM47.5 50.8h4.9v2.3h-4.9zM47.5 104.0h4.9v2.3h-4.9zM47.5 124.4h4.9v2.3h-4.9zM47.5 147.0h4.9v2.3h-4.9zM47.5 198.1h4.9v2.3h-4.9zM47.5 202.2h4.9v2.3h-4.9zM52.1 165.4h9.4v2.3h-9.4zM61.2 22.1h9.3v2.3h-9.3zM61.2 24.1h9.3v2.3h-9.3zM61.2 38.5h9.3v2.3h-9.3zM61.2 54.8h9.3v2.3h-9.3zM61.2 71.2h9.3v2.3h-9.3zM61.2 73.3h9.3v2.3h-9.3zM61.2 87.6h9.3v2.3h-9.3zM61.2 106.0h9.3v2.3h-9.3zM61.2 114.2h9.3v2.3h-9.3zM61.2 153.1h9.3v2.3h-9.3zM61.2 157.2h9.3v2.3h-9.3zM61.2 163.3h9.3v2.3h-9.3zM61.2 187.9h9.3v2.3h-9.3zM61.2 189.9h9.3v2.3h-9.3zM61.2 200.2h9.3v2.3h-9.3zM61.2 206.3h9.3v2.3h-9.3zM70.2 61.0h9.3v2.3h-9.3zM70.2 67.1h9.3v2.3h-9.3zM70.2 93.7h9.3v2.3h-9.3zM70.2 114.2h9.3v2.3h-9.3zM70.2 124.4h9.3v2.3h-9.3zM70.2 147.0h9.3v2.3h-9.3zM70.2 214.5h9.3v2.3h-9.3zM79.2 22.1h9.3v2.3h-9.3zM79.2 34.4h9.3v2.3h-9.3zM79.2 42.6h9.3v2.3h-9.3zM79.2 46.7h9.3v2.3h-9.3zM79.2 77.4h9.3v2.3h-9.3zM79.2 89.6h9.3v2.3h-9.3zM79.2 112.2h9.3v2.3h-9.3zM79.2 118.3h9.3v2.3h-9.3zM79.2 134.7h9.3v2.3h-9.3zM79.2 138.8h9.3v2.3h-9.3zM79.2 142.9h9.3v2.3h-9.3zM79.2 149.0h9.3v2.3h-9.3zM79.2 169.5h9.3v2.3h-9.3zM79.2 181.8h9.3v2.3h-9.3zM79.2 187.9h9.3v2.3h-9.3zM79.2 202.2h9.3v2.3h-9.3zM88.3 18.0h9.3v2.3h-9.3zM88.3 54.8h9.3v2.3h-9.3zM88.3 75.3h9.3v2.3h-9.3zM88.3 95.8h9.3v2.3h-9.3zM88.3 99.9h9.3v2.3h-9.3zM88.3 120.3h9.3v2.3h-9.3zM88.3 122.4h9.3v2.3h-9.3zM88.3 144.9h9.3v2.3h-9.3zM88.3 149.0h9.3v2.3h-9.3zM88.3 167.4h9.3v2.3h-9.3zM88.3 208.4h9.3v2.3h-9.3zM97.3 110.1h9.3v2.3h-9.3zM97.3 114.2h9.3v2.3h-9.3zM97.3 138.8h9.3v2.3h-9.3zM97.3 167.4h9.3v2.3h-9.3zM97.3 202.2h9.3v2.3h-9.3zM97.3 212.5h9.3v2.3h-9.3zM97.3 214.5h9.3v2.3h-9.3zM106.4 28.2h9.3v2.3h-9.3zM106.4 40.5h9.3v2.3h-9.3zM106.4 81.5h9.3v2.3h-9.3zM106.4 206.3h9.3v2.3h-9.3zM115.4 46.7h9.3v2.3h-9.3zM115.4 54.8h9.3v2.3h-9.3zM115.4 91.7h9.3v2.3h-9.3zM115.4 134.7h9.3v2.3h-9.3zM124.5 128.5h5.3v2.3h-5.3zM124.5 136.7h5.3v2.3h-5.3zM124.5 179.7h5.3v2.3h-5.3zM124.5 218.6h5.3v2.3h-5.3zM129.5 20.0h5.3v2.3h-5.3zM129.5 52.8h5.3v2.3h-5.3zM129.5 54.8h5.3v2.3h-5.3zM129.5 95.8h5.3v2.3h-5.3zM129.5 151.1h5.3v2.3h-5.3zM129.5 155.1h5.3v2.3h-5.3zM129.5 163.3h5.3v2.3h-5.3zM129.5 196.1h5.3v2.3h-5.3zM134.4 28.2h5.3v2.3h-5.3zM134.4 44.6h5.3v2.3h-5.3zM134.4 132.6h5.3v2.3h-5.3zM134.4 206.3h5.3v2.3h-5.3zM134.4 218.6h5.3v2.3h-5.3zM139.4 42.6h5.3v2.3h-5.3zM139.4 75.3h5.3v2.3h-5.3zM139.4 81.5h5.3v2.3h-5.3zM139.4 101.9h5.3v2.3h-5.3zM139.4 120.3h5.3v2.3h-5.3zM139.4 126.5h5.3v2.3h-5.3zM139.4 163.3h5.3v2.3h-5.3zM139.4 208.4h5.3v2.3h-5.3zM144.4 108.1h5.3v2.3h-5.3zM144.4 134.7h5.3v2.3h-5.3zM149.4 28.2h5.3v2.3h-5.3zM149.4 44.6h5.3v2.3h-5.3zM149.4 48.7h5.3v2.3h-5.3zM149.4 106.0h5.3v2.3h-5.3zM149.4 126.5h5.3v2.3h-5.3zM149.4 153.1h5.3v2.3h-5.3zM149.4 169.5h5.3v2.3h-5.3zM154.3 63.0h5.3v2.3h-5.3zM154.3 114.2h5.3v2.3h-5.3zM154.3 177.7h5.3v2.3h-5.3zM159.3 28.2h5.3v2.3h-5.3zM159.3 87.6h5.3v2.3h-5.3zM159.3 126.5h5.3v2.3h-5.3zM159.3 128.5h5.3v2.3h-5.3zM159.3 198.1h5.3v2.3h-5.3zM164.3 122.4h5.3v2.3h-5.3zM164.3 136.7h5.3v2.3h-5.3zM169.2 26.2h5.3v2.3h-5.3zM169.2 61.0h5.3v2.3h-5.3zM169.2 91.7h5.3v2.3h-5.3zM174.2 22.1h5.3v2.3h-5.3zM174.2 54.8h5.3v2.3h-5.3zM174.2 69.2h5.3v2.3h-5.3zM174.2 83.5h5.3v2.3h-5.3zM174.2 110.1h5.3v2.3h-5.3zM174.2 118.3h5.3v2.3h-5.3zM174.2 136.7h5.3v2.3h-5.3zM174.2 163.3h5.3v2.3h-5.3zM174.2 185.9h5.3v2.3h-5.3zM174.2 196.1h5.3v2.3h-5.3zM174.2 206.3h5.3v2.3h-5.3zM174.2 220.7h5.3v2.3h-5.3zM179.2 54.8h5.3v2.3h-5.3zM179.2 93.7h5.3v2.3h-5.3zM179.2 163.3h5.3v2.3h-5.3zM184.2 32.3h5.3v2.3h-5.3zM184.2 40.5h5.3v2.3h-5.3zM184.2 77.4h5.3v2.3h-5.3zM184.2 79.4h5.3v2.3h-5.3zM184.2 136.7h5.3v2.3h-5.3zM184.2 165.4h5.3v2.3h-5.3zM184.2 204.3h5.3v2.3h-5.3zM184.2 212.5h5.3v2.3h-5.3zM189.1 24.1h5.3v2.3h-5.3zM189.1 32.3h5.3v2.3h-5.3zM189.1 40.5h5.3v2.3h-5.3zM189.1 67.1h5.3v2.3h-5.3zM189.1 95.8h5.3v2.3h-5.3zM189.1 112.2h5.3v2.3h-5.3zM189.1 122.4h5.3v2.3h-5.3zM189.1 134.7h5.3v2.3h-5.3zM189.1 136.7h5.3v2.3h-5.3zM189.1 140.8h5.3v2.3h-5.3zM189.1 167.4h5.3v2.3h-5.3zM194.1 22.1h5.3v2.3h-5.3zM194.1 30.3h5.3v2.3h-5.3zM194.1 40.5h5.3v2.3h-5.3zM194.1 69.2h5.3v2.3h-5.3zM194.1 75.3h5.3v2.3h-5.3zM194.1 85.6h5.3v2.3h-5.3zM194.1 106.0h5.3v2.3h-5.3zM194.1 161.3h5.3v2.3h-5.3zM194.1 181.8h5.3v2.3h-5.3zM199.1 18.0h5.3v2.3h-5.3zM199.1 58.9h5.3v2.3h-5.3zM199.1 65.1h5.3v2.3h-5.3zM199.1 91.7h5.3v2.3h-5.3zM199.1 95.8h5.3v2.3h-5.3zM199.1 165.4h5.3v2.3h-5.3zM204.0 26.2h5.3v2.3h-5.3zM204.0 44.6h5.3v2.3h-5.3zM204.0 67.1h5.3v2.3h-5.3zM209.0 30.3h5.3v2.3h-5.3zM209.0 48.7h5.3v2.3h-5.3zM209.0 83.5h5.3v2.3h-5.3zM209.0 97.8h5.3v2.3h-5.3zM209.0 147.0h5.3v2.3h-5.3zM209.0 161.3h5.3v2.3h-5.3zM209.0 181.8h5.3v2.3h-5.3zM209.0 216.6h5.3v2.3h-5.3zM214.0 40.5h5.3v2.3h-5.3zM214.0 44.6h5.3v2.3h-5.3zM214.0 58.9h5.3v2.3h-5.3zM214.0 93.7h5.3v2.3h-5.3zM219.0 104.0h5.3v2.3h-5.3zM223.9 65.1h5.3v2.3h-5.3zM223.9 71.2h5.3v2.3h-5.3zM223.9 75.3h5.3v2.3h-5.3zM223.9 91.7h5.3v2.3h-5.3zM223.9 124.4h5.3v2.3h-5.3zM223.9 136.7h5.3v2.3h-5.3zM223.9 147.0h5.3v2.3h-5.3zM223.9 167.4h5.3v2.3h-5.3zM223.9 214.5h5.3v2.3h-5.3zM228.9 40.5h5.3v2.3h-5.3zM228.9 44.6h5.3v2.3h-5.3zM228.9 56.9h5.3v2.3h-5.3zM228.9 104.0h5.3v2.3h-5.3zM228.9 157.2h5.3v2.3h-5.3zM228.9 214.5h5.3v2.3h-5.3zM233.9 22.1h5.3v2.3h-5.3zM233.9 38.5h5.3v2.3h-5.3zM233.9 48.7h5.3v2.3h-5.3zM233.9 81.5h5.3v2.3h-5.3zM233.9 101.9h5.3v2.3h-5.3zM233.9 185.9h5.3v2.3h-5.3zM233.9 210.4h5.3v2.3h-5.3zM238.8 32.3h5.3v2.3h-5.3zM238.8 50.8h5.3v2.3h-5.3zM238.8 120.3h5.3v2.3h-5.3zM238.8 155.1h5.3v2.3h-5.3zM238.8 198.1h5.3v2.3h-5.3zM243.8 42.6h5.3v2.3h-5.3zM243.8 67.1h5.3v2.3h-5.3zM243.8 79.4h5.3v2.3h-5.3zM243.8 83.5h5.3v2.3h-5.3zM243.8 89.6h5.3v2.3h-5.3zM243.8 91.7h5.3v2.3h-5.3zM243.8 126.5h5.3v2.3h-5.3zM243.8 142.9h5.3v2.3h-5.3zM243.8 155.1h5.3v2.3h-5.3zM243.8 181.8h5.3v2.3h-5.3zM243.8 212.5h5.3v2.3h-5.3zM243.8 216.6h5.3v2.3h-5.3zM248.8 101.9h5.3v2.3h-5.3zM248.8 136.7h5.3v2.3h-5.3zM253.8 34.4h5.3v2.3h-5.3zM253.8 87.6h5.3v2.3h-5.3zM258.7 42.6h5.3v2.3h-5.3zM258.7 56.9h5.3v2.3h-5.3zM258.7 63.0h5.3v2.3h-5.3zM258.7 106.0h5.3v2.3h-5.3zM258.7 114.2h5.3v2.3h-5.3zM258.7 163.3h5.3v2.3h-5.3zM258.7 175.6h5.3v2.3h-5.3zM258.7 179.7h5.3v2.3h-5.3zM263.7 26.2h8.3v2.3h-8.3zM263.7 40.5h8.3v2.3h-8.3zM263.7 71.2h8.3v2.3h-8.3zM263.7 85.6h8.3v2.3h-8.3zM263.7 89.6h8.3v2.3h-8.3zM263.7 120.3h8.3v2.3h-8.3zM263.7 140.8h8.3v2.3h-8.3zM263.7 147.0h8.3v2.3h-8.3zM263.7 159.2h8.3v2.3h-8.3zM263.7 175.6h8.3v2.3h-8.3zM263.7 189.9h8.3v2.3h-8.3zM263.7 200.2h8.3v2.3h-8.3zM263.7 202.2h8.3v2.3h-8.3zM271.7 38.5h11.3v2.3h-11.3zM271.7 73.3h11.3v2.3h-11.3zM271.7 112.2h11.3v2.3h-11.3zM271.7 192.0h11.3v2.3h-11.3zM271.7 202.2h11.3v2.3h-11.3zM282.7 79.4h11.6v2.3h-11.6zM282.7 101.9h11.6v2.3h-11.6zM282.7 108.1h11.6v2.3h-11.6zM282.7 110.1h11.6v2.3h-11.6zM282.7 147.0h11.6v2.3h-11.6zM282.7 167.4h11.6v2.3h-11.6zM282.7 210.4h11.6v2.3h-11.6zM294.0 48.7h11.6v2.3h-11.6zM294.0 85.6h11.6v2.3h-11.6zM294.0 130.6h11.6v2.3h-11.6zM294.0 136.7h11.6v2.3h-11.6zM294.0 196.1h11.6v2.3h-11.6zM294.0 200.2h11.6v2.3h-11.6zM305.3 65.1h11.6v2.3h-11.6zM305.3 69.2h11.6v2.3h-11.6zM305.3 73.3h11.6v2.3h-11.6zM305.3 101.9h11.6v2.3h-11.6zM305.3 151.1h11.6v2.3h-11.6zM305.3 210.4h11.6v2.3h-11.6zM316.6 83.5h6.4v2.3h-6.4zM316.6 161.3h6.4v2.3h-6.4zM316.6 179.7h6.4v2.3h-6.4zM316.6 183.8h6.4v2.3h-6.4z"/><path fill="#c6dbef" d="M47.5 36.4h4.9v2.3h-4.9zM47.5 40.5h4.9v2.3h-4.9zM47.5 114.2h4.9v2.3h-4.9zM47.5 126.5h4.9v2.3h-4.9zM47.5 163.3h4.9v2.3h-4.9zM47.5 192.0h4.9v2.3h-4.9zM47.5 204.3h4.9v2.3h-4.9zM47.5 214.5h4.9v2.3h-4.9zM61.2 20.0h9.3v2.3h-9.3zM61.2 95.8h9.3v2.3h-9.3zM61.2 118.3h9.3v2.3h-9.3zM61.2 126.5h9.3v2.3h-9.3zM61.2 128.5h9.3v2.3h-9.3zM61.2 169.5h9.3v2.3h-9.3zM61.2 171.5h9.3v2.3h-9.3zM61.2 173.6h9.3v2.3h-9.3zM61.2 196.1h9.3v2.3h-9.3zM61.2 216.6h9.3v2.3h-9.3zM70.2 20.0h9.3v2.3h-9.3zM70.2 22.1h9.3v2.3h-9.3zM70.2 73.3h9.3v2.3h-9.3zM70.2 77.4h9.3v2.3h-9.3zM70.2 83.5h9.3v2.3h-9.3zM70.2 136.7h9.3v2.3h-9.3zM70.2 210.4h9.3v2.3h-9.3zM70.2 220.7h9.3v2.3h-9.3zM79.2 73.3h9.3v2.3h-9.3zM79.2 167.4h9.3v2.3h-9.3zM79.2 192.0h9.3v2.3h-9.3zM79.2 198.1h9.3v2.3h-9.3zM88.3 30.3h9.3v2.3h-9.3zM88.3 73.3h9.3v2.3h-9.3zM88.3 101.9h9.3v2.3h-9.3zM88.3 128.5h9.3v2.3h-9.3zM88.3 165.4h9.3v2.3h-9.3zM97.3 22.1h9.3v2.3h-9.3zM97.3 40.5h9.3v2.3h-9.3zM97.3 101.9h9.3v2.3h-9.3zM97.3 104.0h9.3v2.3h-9.3zM97.3 155.1h9.3v2.3h-9.3zM97.3 183.8h9.3v2.3h-9.3zM97.3 210.4h9.3v2.3h-9.3zM115.4 20.0h9.3v2.3h-9.3zM115.4 104.0h9.3v2.3h-9.3zM124.5 183.8h5.3v2.3h-5.3zM129.5 71.2h5.3v2.3h-5.3zM129.5 91.7h5.3v2.3h-5.3zM129.5 93.7h5.3v2.3h-5.3zM134.4 50.8h5.3v2.3h-5.3zM134.4 124.4h5.3v2.3h-5.3zM144.4 79.4h5.3v2.3h-5.3zM144.4 91.7h5.3v2.3h-5.3zM144.4 101.9h5.3v2.3h-5.3zM144.4 110.1h5.3v2.3h-5.3zM144.4 155.1h5.3v2.3h-5.3zM144.4 183.8h5.3v2.3h-5.3zM149.4 79.4h5.3v2.3h-5.3zM149.4 83.5h5.3v2.3h-5.3zM149.4 128.5h5.3v2.3h-5.3zM149.4 138.8h5.3v2.3h-5.3zM149.4 196.1h5.3v2.3h-5.3zM154.3 77.4h5.3v2.3h-5.3zM159.3 91.7h5.3v2.3h-5.3zM159.3 151.1h5.3v2.3h-5.3zM159.3 181.8h5.3v2.3h-5.3zM164.3 50.8h5.3v2.3h-5.3zM164.3 192.0h5.3v2.3h-5.3zM164.3 204.3h5.3v2.3h-5.3zM169.2 58.9h5.3v2.3h-5.3zM169.2 87.6h5.3v2.3h-5.3zM169.2 126.5h5.3v2.3h-5.3zM169.2 130.6h5.3v2.3h-5.3zM169.2 136.7h5.3v2.3h-5.3zM169.2 140.8h5.3v2.3h-5.3zM169.2 212.5h5.3v2.3h-5.3zM174.2 52.8h5.3v2.3h-5.3zM174.2 75.3h5.3v2.3h-5.3zM174.2 79.4h5.3v2.3h-5.3zM174.2 126.5h5.3v2.3h-5.3zM174.2 183.8h5.3v2.3h-5.3zM174.2 192.0h5.3v2.3h-5.3zM174.2 194.0h5.3v2.3h-5.3zM174.2 200.2h5.3v2.3h-5.3zM179.2 40.5h5.3v2.3h-5.3zM179.2 200.2h5.3v2.3h-5.3zM184.2 36.4h5.3v2.3h-5.3zM184.2 112.2h5.3v2.3h-5.3zM184.2 171.5h5.3v2.3h-5.3zM189.1 18.0h5.3v2.3h-5.3zM189.1 93.7h5.3v2.3h-5.3zM189.1 118.3h5.3v2.3h-5.3zM189.1 142.9h5.3v2.3h-5.3zM189.1 173.6h5.3v2.3h-5.3zM189.1 177.7h5.3v2.3h-5.3zM189.1 198.1h5.3v2.3h-5.3zM194.1 26.2h5.3v2.3h-5.3zM194.1 104.0h5.3v2.3h-5.3zM194.1 179.7h5.3v2.3h-5.3zM194.1 204.3h5.3v2.3h-5.3zM199.1 50.8h5.3v2.3h-5.3zM199.1 124.4h5.3v2.3h-5.3zM199.1 187.9h5.3v2.3h-5.3zM199.1 189.9h5.3v2.3h-5.3zM199.1 212.5h5.3v2.3h-5.3zM209.0 58.9h5.3v2.3h-5.3zM209.0 101.9h5.3v2.3h-5.3zM209.0 151.1h5.3v2.3h-5.3zM209.0 185.9h5.3v2.3h-5.3zM209.0 194.0h5.3v2.3h-5.3zM209.0 204.3h5.3v2.3h-5.3zM209.0 210.4h5.3v2.3h-5.3zM214.0 214.5h5.3v2.3h-5.3zM219.0 46.7h5.3v2.3h-5.3zM219.0 75.3h5.3v2.3h-5.3zM219.0 120.3h5.3v2.3h-5.3zM223.9 89.6h5.3v2.3h-5.3zM223.9 108.1h5.3v2.3h-5.3zM223.9 194.0h5.3v2.3h-5.3zM228.9 38.5h5.3v2.3h-5.3zM228.9 85.6h5.3v2.3h-5.3zM228.9 147.0h5.3v2.3h-5.3zM228.9 202.2h5.3v2.3h-5.3zM228.9 208.4h5.3v2.3h-5.3zM233.9 42.6h5.3v2.3h-5.3zM233.9 44.6h5.3v2.3h-5.3zM233.9 56.9h5.3v2.3h-5.3zM233.9 79.4h5.3v2.3h-5.3zM233.9 83.5h5.3v2.3h-5.3zM233.9 97.8h5.3v2.3h-5.3zM233.9 118.3h5.3v2.3h-5.3zM238.8 147.0h5.3v2.3h-5.3zM238.8 204.3h5.3v2.3h-5.3zM243.8 26.2h5.3v2.3h-5.3zM243.8 32.3h5.3v2.3h-5.3zM243.8 106.0h5.3v2.3h-5.3zM243.8 134.7h5.3v2.3h-5.3zM243.8 185.9h5.3v2.3h-5.3zM243.8 196.1h5.3v2.3h-5.3zM258.7 18.0h5.3v2.3h-5.3zM258.7 38.5h5.3v2.3h-5.3zM258.7 71.2h5.3v2.3h-5.3zM258.7 120.3h5.3v2.3h-5.3zM258.7 192.0h5.3v2.3h-5.3zM258.7 198.1h5.3v2.3h-5.3zM263.7 42.6h8.3v2.3h-8.3zM263.7 61.0h8.3v2.3h-8.3zM263.7 83.5h8.3v2.3h-8.3zM263.7 95.8h8.3v2.3h-8.3zM263.7 104.0h8.3v2.3h-8.3zM263.7 128.5h8.3v2.3h-8.3zM263.7 144.9h8.3v2.3h-8.3zM263.7 149.0h8.3v2.3h-8.3zM263.7 198.1h8.3v2.3h-8.3zM271.7 34.4h11.3v2.3h-11.3zM271.7 77.4h11.3v2.3h-11.3zM271.7 87.6h11.3v2.3h-11.3zM282.7 36.4h11.6v2.3h-11.6zM282.7 61.0h11.6v2.3h-11.6zM282.7 89.6h11.6v2.3h-11.6zM282.7 142.9h11.6v2.3h-11.6zM282.7 144.9h11.6v2.3h-11.6zM282.7 177.7h11.6v2.3h-11.6zM294.0 50.8h11.6v2.3h-11.6zM294.0 99.9h11.6v2.3h-11.6zM294.0 220.7h11.6v2.3h-11.6zM305.3 161.3h11.6v2.3h-11.6zM305.3 218.6h11.6v2.3h-11.6zM316.6 196.1h6.4v2.3h-6.4z"/><path fill="#c4daee" d="M47.5 42.6h4.9v2.3h-4.9zM47.5 77.4h4.9v2.3h-4.9zM47.5 97.8h4.9v2.3h-4.9zM47.5 110.1h4.9v2.3h-4.9zM47.5 122.4h4.9v2.3h-4.9zM47.5 206.3h4.9v2.3h-4.9zM47.5 212.5h4.9v2.3h-4.9zM52.1 34.4h9.4v2.3h-9.4zM61.2 69.2h9.3v2.3h-9.3zM61.2 79.4h9.3v2.3h-9.3zM61.2 91.7h9.3v2.3h-9.3zM61.2 132.6h9.3v2.3h-9.3zM61.2 159.2h9.3v2.3h-9.3zM61.2 198.1h9.3v2.3h-9.3zM70.2 87.6h9.3v2.3h-9.3zM70.2 110.1h9.3v2.3h-9.3zM79.2 32.3h9.3v2.3h-9.3zM79.2 95.8h9.3v2.3h-9.3zM79.2 147.0h9.3v2.3h-9.3zM79.2 165.4h9.3v2.3h-9.3zM79.2 185.9h9.3v2.3h-9.3zM79.2 220.7h9.3v2.3h-9.3zM88.3 20.0h9.3v2.3h-9.3zM88.3 71.2h9.3v2.3h-9.3zM88.3 83.5h9.3v2.3h-9.3zM88.3 130.6h9.3v2.3h-9.3zM88.3 151.1h9.3v2.3h-9.3zM88.3 177.7h9.3v2.3h-9.3zM88.3 179.7h9.3v2.3h-9.3zM97.3 73.3h9.3v2.3h-9.3zM97.3 112.2h9.3v2.3h-9.3zM106.4 101.9h9.3v2.3h-9.3zM106.4 210.4h9.3v2.3h-9.3zM115.4 52.8h9.3v2.3h-9.3zM115.4 147.0h9.3v2.3h-9.3zM115.4 194.0h9.3v2.3h-9.3zM124.5 63.0h5.3v2.3h-5.3zM129.5 83.5h5.3v2.3h-5.3zM129.5 112.2h5.3v2.3h-5.3zM134.4 79.4h5.3v2.3h-5.3zM134.4 89.6h5.3v2.3h-5.3zM139.4 48.7h5.3v2.3h-5.3zM139.4 112.2h5.3v2.3h-5.3zM139.4 171.5h5.3v2.3h-5.3zM139.4 196.1h5.3v2.3h-5.3zM144.4 61.0h5.3v2.3h-5.3zM149.4 26.2h5.3v2.3h-5.3zM149.4 81.5h5.3v2.3h-5.3zM149.4 108.1h5.3v2.3h-5.3zM149.4 118.3h5.3v2.3h-5.3zM149.4 179.7h5.3v2.3h-5.3zM149.4 202.2h5.3v2.3h-5.3zM149.4 220.7h5.3v2.3h-5.3zM154.3 149.0h5.3v2.3h-5.3zM159.3 44.6h5.3v2.3h-5.3zM159.3 54.8h5.3v2.3h-5.3zM159.3 200.2h5.3v2.3h-5.3zM169.2 44.6h5.3v2.3h-5.3zM174.2 120.3h5.3v2.3h-5.3zM179.2 18.0h5.3v2.3h-5.3zM179.2 138.8h5.3v2.3h-5.3zM179.2 149.0h5.3v2.3h-5.3zM179.2 189.9h5.3v2.3h-5.3zM179.2 208.4h5.3v2.3h-5.3zM184.2 71.2h5.3v2.3h-5.3zM184.2 118.3h5.3v2.3h-5.3zM184.2 175.6h5.3v2.3h-5.3zM184.2 192.0h5.3v2.3h-5.3zM189.1 20.0h5.3v2.3h-5.3zM189.1 75.3h5.3v2.3h-5.3zM189.1 89.6h5.3v2.3h-5.3zM189.1 110.1h5.3v2.3h-5.3zM194.1 56.9h5.3v2.3h-5.3zM194.1 79.4h5.3v2.3h-5.3zM194.1 83.5h5.3v2.3h-5.3zM194.1 130.6h5.3v2.3h-5.3zM194.1 136.7h5.3v2.3h-5.3zM199.1 63.0h5.3v2.3h-5.3zM199.1 161.3h5.3v2.3h-5.3zM199.1 183.8h5.3v2.3h-5.3zM199.1 196.1h5.3v2.3h-5.3zM204.0 138.8h5.3v2.3h-5.3zM209.0 52.8h5.3v2.3h-5.3zM209.0 157.2h5.3v2.3h-5.3zM219.0 122.4h5.3v2.3h-5.3zM219.0 132.6h5.3v2.3h-5.3zM223.9 30.3h5.3v2.3h-5.3zM223.9 52.8h5.3v2.3h-5.3zM223.9 118.3h5.3v2.3h-5.3zM223.9 134.7h5.3v2.3h-5.3zM223.9 187.9h5.3v2.3h-5.3zM228.9 93.7h5.3v2.3h-5.3zM228.9 189.9h5.3v2.3h-5.3zM233.9 138.8h5.3v2.3h-5.3zM238.8 101.9h5.3v2.3h-5.3zM238.8 132.6h5.3v2.3h-5.3zM238.8 151.1h5.3v2.3h-5.3zM243.8 30.3h5.3v2.3h-5.3zM243.8 61.0h5.3v2.3h-5.3zM243.8 104.0h5.3v2.3h-5.3zM243.8 132.6h5.3v2.3h-5.3zM243.8 171.5h5.3v2.3h-5.3zM243.8 177.7h5.3v2.3h-5.3zM248.8 124.4h5.3v2.3h-5.3zM258.7 52.8h5.3v2.3h-5.3zM258.7 93.7h5.3v2.3h-5.3zM263.7 69.2h8.3v2.3h-8.3zM263.7 118.3h8.3v2.3h-8.3zM263.7 210.4h8.3v2.3h-8.3zM282.7 22.1h11.6v2.3h-11.6zM282.7 38.5h11.6v2.3h-11.6zM282.7 50.8h11.6v2.3h-11.6zM282.7 192.0h11.6v2.3h-11.6zM294.0 22.1h11.6v2.3h-11.6zM305.3 30.3h11.6v2.3h-11.6zM305.3 138.8h11.6v2.3h-11.6zM305.3 153.1h11.6v2.3h-11.6zM316.6 175.6h6.4v2.3h-6.4zM316.6 192.0h6.4v2.3h-6.4z"/><path fill="#c1d9ee" d="M47.5 63.0h4.9v2.3h-4.9zM47.5 81.5h4.9v2.3h-4.9zM47.5 95.8h4.9v2.3h-4.9zM47.5 167.4h4.9v2.3h-4.9zM47.5 181.8h4.9v2.3h-4.9zM61.2 34.4h9.3v2.3h-9.3zM61.2 136.7h9.3v2.3h-9.3zM61.2 138.8h9.3v2.3h-9.3zM61.2 147.0h9.3v2.3h-9.3zM61.2 214.5h9.3v2.3h-9.3zM79.2 54.8h9.3v2.3h-9.3zM79.2 87.6h9.3v2.3h-9.3zM88.3 56.9h9.3v2.3h-9.3zM88.3 87.6h9.3v2.3h-9.3zM88.3 196.1h9.3v2.3h-9.3zM97.3 46.7h9.3v2.3h-9.3zM97.3 67.1h9.3v2.3h-9.3zM97.3 91.7h9.3v2.3h-9.3zM97.3 134.7h9.3v2.3h-9.3zM97.3 161.3h9.3v2.3h-9.3zM97.3 216.6h9.3v2.3h-9.3zM115.4 42.6h9.3v2.3h-9.3zM115.4 56.9h9.3v2.3h-9.3zM115.4 198.1h9.3v2.3h-9.3zM124.5 50.8h5.3v2.3h-5.3zM129.5 120.3h5.3v2.3h-5.3zM129.5 181.8h5.3v2.3h-5.3zM134.4 18.0h5.3v2.3h-5.3zM134.4 54.8h5.3v2.3h-5.3zM134.4 165.4h5.3v2.3h-5.3zM134.4 189.9h5.3v2.3h-5.3zM139.4 216.6h5.3v2.3h-5.3zM144.4 142.9h5.3v2.3h-5.3zM144.4 194.0h5.3v2.3h-5.3zM149.4 24.1h5.3v2.3h-5.3zM149.4 110.1h5.3v2.3h-5.3zM149.4 114.2h5.3v2.3h-5.3zM149.4 120.3h5.3v2.3h-5.3zM154.3 52.8h5.3v2.3h-5.3zM154.3 118.3h5.3v2.3h-5.3zM154.3 218.6h5.3v2.3h-5.3zM159.3 36.4h5.3v2.3h-5.3zM159.3 206.3h5.3v2.3h-5.3zM169.2 206.3h5.3v2.3h-5.3zM179.2 67.1h5.3v2.3h-5.3zM179.2 126.5h5.3v2.3h-5.3zM184.2 20.0h5.3v2.3h-5.3zM189.1 91.7h5.3v2.3h-5.3zM189.1 163.3h5.3v2.3h-5.3zM189.1 187.9h5.3v2.3h-5.3zM189.1 216.6h5.3v2.3h-5.3zM194.1 120.3h5.3v2.3h-5.3zM194.1 216.6h5.3v2.3h-5.3zM209.0 50.8h5.3v2.3h-5.3zM209.0 91.7h5.3v2.3h-5.3zM209.0 198.1h5.3v2.3h-5.3zM219.0 61.0h5.3v2.3h-5.3zM223.9 46.7h5.3v2.3h-5.3zM223.9 48.7h5.3v2.3h-5.3zM228.9 167.4h5.3v2.3h-5.3zM233.9 144.9h5.3v2.3h-5.3zM233.9 204.3h5.3v2.3h-5.3zM238.8 26.2h5.3v2.3h-5.3zM243.8 18.0h5.3v2.3h-5.3zM243.8 159.2h5.3v2.3h-5.3zM243.8 189.9h5.3v2.3h-5.3zM258.7 89.6h5.3v2.3h-5.3zM258.7 128.5h5.3v2.3h-5.3zM263.7 38.5h8.3v2.3h-8.3zM263.7 75.3h8.3v2.3h-8.3zM263.7 99.9h8.3v2.3h-8.3zM263.7 167.4h8.3v2.3h-8.3zM282.7 52.8h11.6v2.3h-11.6zM282.7 73.3h11.6v2.3h-11.6zM282.7 85.6h11.6v2.3h-11.6zM282.7 208.4h11.6v2.3h-11.6zM294.0 165.4h11.6v2.3h-11.6zM316.6 24.1h6.4v2.3h-6.4zM316.6 32.3h6.4v2.3h-6.4zM316.6 167.4h6.4v2.3h-6.4z"/><path fill="#bed7ed" d="M47.5 71.2h4.9v2.3h-4.9zM47.5 159.2h4.9v2.3h-4.9zM61.2 42.6h9.3v2.3h-9.3zM61.2 142.9h9.3v2.3h-9.3zM61.2 161.3h9.3v2.3h-9.3zM70.2 63.0h9.3v2.3h-9.3zM79.2 18.0h9.3v2.3h-9.3zM79.2 63.0h9.3v2.3h-9.3zM88.3 181.8h9.3v2.3h-9.3zM115.4 32.3h9.3v2.3h-9.3zM115.4 112.2h9.3v2.3h-9.3zM124.5 34.4h5.3v2.3h-5.3zM124.5 77.4h5.3v2.3h-5.3zM124.5 189.9h5.3v2.3h-5.3zM129.5 153.1h5.3v2.3h-5.3zM139.4 136.7h5.3v2.3h-5.3zM139.4 138.8h5.3v2.3h-5.3zM139.4 177.7h5.3v2.3h-5.3zM149.4 18.0h5.3v2.3h-5.3zM149.4 58.9h5.3v2.3h-5.3zM149.4 61.0h5.3v2.3h-5.3zM149.4 134.7h5.3v2.3h-5.3zM159.3 73.3h5.3v2.3h-5.3zM189.1 159.2h5.3v2.3h-5.3zM189.1 196.1h5.3v2.3h-5.3zM194.1 58.9h5.3v2.3h-5.3zM199.1 204.3h5.3v2.3h-5.3zM204.0 48.7h5.3v2.3h-5.3zM209.0 136.7h5.3v2.3h-5.3zM214.0 189.9h5.3v2.3h-5.3zM233.9 169.5h5.3v2.3h-5.3zM243.8 81.5h5.3v2.3h-5.3zM258.7 32.3h5.3v2.3h-5.3zM258.7 61.0h5.3v2.3h-5.3zM258.7 95.8h5.3v2.3h-5.3zM258.7 155.1h5.3v2.3h-5.3zM258.7 189.9h5.3v2.3h-5.3zM258.7 216.6h5.3v2.3h-5.3zM263.7 101.9h8.3v2.3h-8.3zM263.7 112.2h8.3v2.3h-8.3zM282.7 157.2h11.6v2.3h-11.6zM282.7 171.5h11.6v2.3h-11.6zM282.7 216.6h11.6v2.3h-11.6z"/><path fill="#bcd6ec" d="M61.2 18.0h9.3v2.3h-9.3zM97.3 83.5h9.3v2.3h-9.3zM97.3 149.0h9.3v2.3h-9.3zM97.3 157.2h9.3v2.3h-9.3zM97.3 159.2h9.3v2.3h-9.3zM154.3 93.7h5.3v2.3h-5.3zM159.3 97.8h5.3v2.3h-5.3zM169.2 169.5h5.3v2.3h-5.3zM174.2 169.5h5.3v2.3h-5.3zM179.2 183.8h5.3v2.3h-5.3zM184.2 22.1h5.3v2.3h-5.3zM184.2 183.8h5.3v2.3h-5.3zM214.0 126.5h5.3v2.3h-5.3zM219.0 63.0h5.3v2.3h-5.3zM219.0 165.4h5.3v2.3h-5.3zM243.8 69.2h5.3v2.3h-5.3zM258.7 153.1h5.3v2.3h-5.3zM263.7 124.4h8.3v2.3h-8.3z"/><path fill="#bad4ec" d="M47.5 30.3h4.9v2.3h-4.9zM47.5 179.7h4.9v2.3h-4.9zM61.2 77.4h9.3v2.3h-9.3zM115.4 69.2h9.3v2.3h-9.3zM115.4 187.9h9.3v2.3h-9.3zM124.5 122.4h5.3v2.3h-5.3zM134.4 179.7h5.3v2.3h-5.3zM149.4 171.5h5.3v2.3h-5.3zM159.3 165.4h5.3v2.3h-5.3zM179.2 155.1h5.3v2.3h-5.3zM223.9 104.0h5.3v2.3h-5.3zM233.9 104.0h5.3v2.3h-5.3zM253.8 89.6h5.3v2.3h-5.3zM258.7 75.3h5.3v2.3h-5.3zM271.7 71.2h11.3v2.3h-11.3z"/><path fill="#b7d3eb" d="M61.2 52.8h9.3v2.3h-9.3zM61.2 81.5h9.3v2.3h-9.3zM154.3 116.3h5.3v2.3h-5.3zM189.1 183.8h5.3v2.3h-5.3zM263.7 77.4h8.3v2.3h-8.3zM282.7 185.9h11.6v2.3h-11.6z"/><path fill="#b4d2ea" d="M159.3 153.1h5.3v2.3h-5.3zM164.3 167.4h5.3v2.3h-5.3zM189.1 189.9h5.3v2.3h-5.3zM263.7 218.6h8.3v2.3h-8.3z"/><path fill="#b2d0ea" d="M79.2 71.2h9.3v2.3h-9.3zM97.3 194.0h9.3v2.3h-9.3zM115.4 75.3h9.3v2.3h-9.3zM184.2 157.2h5.3v2.3h-5.3zM305.3 36.4h11.6v2.3h-11.6z"/><path fill="#b0cfe9" d="M47.5 22.1h4.9v2.3h-4.9zM124.5 83.5h5.3v2.3h-5.3zM124.5 185.9h5.3v2.3h-5.3zM129.5 89.6h5.3v2.3h-5.3zM154.3 151.1h5.3v2.3h-5.3zM194.1 142.9h5.3v2.3h-5.3zM258.7 83.5h5.3v2.3h-5.3zM294.0 42.6h11.6v2.3h-11.6zM316.6 138.8h6.4v2.3h-6.4z"/><path fill="#adcde8" d="M106.4 95.8h9.3v2.3h-9.3zM106.4 194.0h9.3v2.3h-9.3zM154.3 173.6h5.3v2.3h-5.3zM282.7 179.7h11.6v2.3h-11.6z"/><path fill="#aacce8" d="M115.4 106.0h9.3v2.3h-9.3zM184.2 189.9h5.3v2.3h-5.3zM199.1 138.8h5.3v2.3h-5.3zM219.0 128.5h5.3v2.3h-5.3z"/><path fill="#a8cbe7" d="M61.2 44.6h9.3v2.3h-9.3zM79.2 65.1h9.3v2.3h-9.3zM106.4 58.9h9.3v2.3h-9.3zM139.4 97.8h5.3v2.3h-5.3zM144.4 104.0h5.3v2.3h-5.3zM144.4 179.7h5.3v2.3h-5.3zM149.4 142.9h5.3v2.3h-5.3zM164.3 157.2h5.3v2.3h-5.3zM219.0 124.4h5.3v2.3h-5.3z"/><path fill="#a6c9e6" d="M179.2 177.7h5.3v2.3h-5.3zM263.7 212.5h8.3v2.3h-8.3z"/><path fill="#a3c8e5" d="M115.4 192.0h9.3v2.3h-9.3zM144.4 175.6h5.3v2.3h-5.3z"/><path fill="#a0c6e5" d="M79.2 26.2h9.3v2.3h-9.3zM129.5 85.6h5.3v2.3h-5.3zM139.4 130.6h5.3v2.3h-5.3zM149.4 112.2h5.3v2.3h-5.3zM209.0 130.6h5.3v2.3h-5.3zM209.0 134.7h5.3v2.3h-5.3zM282.7 54.8h11.6v2.3h-11.6z"/><path fill="#9ec5e4" d="M134.4 91.7h5.3v2.3h-5.3zM144.4 106.0h5.3v2.3h-5.3zM154.3 169.5h5.3v2.3h-5.3zM174.2 171.5h5.3v2.3h-5.3zM233.9 106.0h5.3v2.3h-5.3zM248.8 97.8h5.3v2.3h-5.3z"/><path fill="#9ac3e3" d="M88.3 198.1h9.3v2.3h-9.3zM88.3 200.2h9.3v2.3h-9.3zM97.3 198.1h9.3v2.3h-9.3zM124.5 116.3h5.3v2.3h-5.3zM129.5 183.8h5.3v2.3h-5.3zM144.4 136.7h5.3v2.3h-5.3zM169.2 161.3h5.3v2.3h-5.3zM294.0 171.5h11.6v2.3h-11.6z"/><path fill="#97c0e2" d="M97.3 52.8h9.3v2.3h-9.3zM106.4 192.0h9.3v2.3h-9.3zM184.2 153.1h5.3v2.3h-5.3zM282.7 58.9h11.6v2.3h-11.6z"/><path fill="#94bee1" d="M70.2 54.8h9.3v2.3h-9.3zM97.3 48.7h9.3v2.3h-9.3zM179.2 157.2h5.3v2.3h-5.3zM199.1 142.9h5.3v2.3h-5.3zM204.0 214.5h5.3v2.3h-5.3zM243.8 99.9h5.3v2.3h-5.3zM258.7 85.6h5.3v2.3h-5.3zM271.7 196.1h11.3v2.3h-11.3z"/><path fill="#90bce0" d="M305.3 32.3h11.6v2.3h-11.6z"/><path fill="#8cbade" d="M47.5 24.1h4.9v2.3h-4.9zM88.3 77.4h9.3v2.3h-9.3zM97.3 196.1h9.3v2.3h-9.3zM189.1 149.0h5.3v2.3h-5.3z"/><path fill="#89b8dd" d="M134.4 181.8h5.3v2.3h-5.3zM194.1 198.1h5.3v2.3h-5.3zM248.8 95.8h5.3v2.3h-5.3zM316.6 144.9h6.4v2.3h-6.4z"/><path fill="#86b5dc" d="M52.1 36.4h9.4v2.3h-9.4zM61.2 50.8h9.3v2.3h-9.3zM115.4 189.9h9.3v2.3h-9.3zM129.5 126.5h5.3v2.3h-5.3zM233.9 108.1h5.3v2.3h-5.3zM305.3 155.1h11.6v2.3h-11.6zM316.6 20.0h6.4v2.3h-6.4z"/><path fill="#82b3db" d="M134.4 126.5h5.3v2.3h-5.3zM199.1 210.4h5.3v2.3h-5.3zM204.0 134.7h5.3v2.3h-5.3z"/><path fill="#7eb1da" d="M124.5 79.4h5.3v2.3h-5.3zM134.4 130.6h5.3v2.3h-5.3zM149.4 173.6h5.3v2.3h-5.3zM238.8 104.0h5.3v2.3h-5.3z"/><path fill="#7baed9" d="M79.2 30.3h9.3v2.3h-9.3zM243.8 101.9h5.3v2.3h-5.3z"/><path fill="#78acd8" d="M97.3 85.6h9.3v2.3h-9.3zM214.0 128.5h5.3v2.3h-5.3z"/><path fill="#74aad7" d="M159.3 159.2h5.3v2.3h-5.3zM174.2 159.2h5.3v2.3h-5.3zM174.2 161.3h5.3v2.3h-5.3zM204.0 136.7h5.3v2.3h-5.3zM253.8 91.7h5.3v2.3h-5.3zM258.7 87.6h5.3v2.3h-5.3z"/><path fill="#70a8d6" d="M52.1 40.5h9.4v2.3h-9.4zM115.4 71.2h9.3v2.3h-9.3zM139.4 99.9h5.3v2.3h-5.3zM154.3 171.5h5.3v2.3h-5.3zM164.3 163.3h5.3v2.3h-5.3zM238.8 106.0h5.3v2.3h-5.3zM294.0 167.4h11.6v2.3h-11.6z"/><path fill="#6da6d5" d="M139.4 179.7h5.3v2.3h-5.3zM149.4 149.0h5.3v2.3h-5.3zM159.3 167.4h5.3v2.3h-5.3zM199.1 140.8h5.3v2.3h-5.3z"/><path fill="#6aa3d4" d="M194.1 144.9h5.3v2.3h-5.3zM194.1 147.0h5.3v2.3h-5.3zM214.0 130.6h5.3v2.3h-5.3zM263.7 79.4h8.3v2.3h-8.3zM263.7 81.5h8.3v2.3h-8.3zM271.7 67.1h11.3v2.3h-11.3zM316.6 140.8h6.4v2.3h-6.4z"/><path fill="#66a1d2" d="M124.5 187.9h5.3v2.3h-5.3z"/><path fill="#629fd1" d="M149.4 144.9h5.3v2.3h-5.3zM159.3 155.1h5.3v2.3h-5.3z"/><path fill="#5f9cd0" d="M129.5 122.4h5.3v2.3h-5.3zM179.2 159.2h5.3v2.3h-5.3zM199.1 206.3h5.3v2.3h-5.3z"/><path fill="#5b9acf" d="M139.4 181.8h5.3v2.3h-5.3zM159.3 169.5h5.3v2.3h-5.3z"/><path fill="#5898ce" d="M97.3 89.6h9.3v2.3h-9.3zM129.5 185.9h5.3v2.3h-5.3zM164.3 165.4h5.3v2.3h-5.3z"/><path fill="#5596cc" d="M61.2 46.7h9.3v2.3h-9.3zM88.3 38.5h9.3v2.3h-9.3zM134.4 93.7h5.3v2.3h-5.3zM149.4 175.6h5.3v2.3h-5.3zM164.3 159.2h5.3v2.3h-5.3zM194.1 202.2h5.3v2.3h-5.3zM294.0 46.7h11.6v2.3h-11.6zM305.3 34.4h11.6v2.3h-11.6z"/><path fill="#5293cb" d="M106.4 63.0h9.3v2.3h-9.3zM189.1 151.1h5.3v2.3h-5.3zM294.0 44.6h11.6v2.3h-11.6z"/><path fill="#4f90c9" d="M139.4 132.6h5.3v2.3h-5.3zM209.0 132.6h5.3v2.3h-5.3zM219.0 126.5h5.3v2.3h-5.3z"/><path fill="#4c8ec8" d="M106.4 61.0h9.3v2.3h-9.3zM129.5 87.6h5.3v2.3h-5.3zM184.2 155.1h5.3v2.3h-5.3zM282.7 56.9h11.6v2.3h-11.6z"/><path fill="#498cc6" d="M79.2 67.1h9.3v2.3h-9.3zM134.4 183.8h5.3v2.3h-5.3zM144.4 177.7h5.3v2.3h-5.3zM174.2 173.6h5.3v2.3h-5.3zM179.2 179.7h5.3v2.3h-5.3z"/><path fill="#4386c3" d="M124.5 118.3h5.3v2.3h-5.3zM271.7 69.2h11.3v2.3h-11.3zM305.3 159.2h11.6v2.3h-11.6z"/><path fill="#3d82c0" d="M184.2 185.9h5.3v2.3h-5.3zM189.1 192.0h5.3v2.3h-5.3zM204.0 218.6h5.3v2.3h-5.3z"/><path fill="#3a7fbe" d="M97.3 50.8h9.3v2.3h-9.3zM124.5 81.5h5.3v2.3h-5.3zM144.4 138.8h5.3v2.3h-5.3z"/><path fill="#377cbd" d="M70.2 56.9h9.3v2.3h-9.3zM79.2 28.2h9.3v2.3h-9.3zM106.4 97.8h9.3v2.3h-9.3zM115.4 108.1h9.3v2.3h-9.3zM282.7 181.8h11.6v2.3h-11.6z"/><path fill="#347abb" d="M263.7 214.5h8.3v2.3h-8.3z"/><path fill="#3178ba" d="M47.5 26.2h4.9v2.3h-4.9zM316.6 22.1h6.4v2.3h-6.4z"/><path fill="#2e75b8" d="M169.2 165.4h5.3v2.3h-5.3z"/><path fill="#2b72b7" d="M88.3 81.5h9.3v2.3h-9.3z"/><path fill="#2870b5" d="M52.1 38.5h9.4v2.3h-9.4zM115.4 73.3h9.3v2.3h-9.3zM194.1 200.2h5.3v2.3h-5.3z"/><path fill="#256eb4" d="M88.3 40.5h9.3v2.3h-9.3zM204.0 216.6h5.3v2.3h-5.3zM271.7 200.2h11.3v2.3h-11.3z"/><path fill="#226bb2" d="M154.3 153.1h5.3v2.3h-5.3zM271.7 198.1h11.3v2.3h-11.3z"/><path fill="#1c66af" d="M47.5 28.2h4.9v2.3h-4.9zM61.2 48.7h9.3v2.3h-9.3zM70.2 58.9h9.3v2.3h-9.3zM79.2 69.2h9.3v2.3h-9.3zM88.3 79.4h9.3v2.3h-9.3zM97.3 87.6h9.3v2.3h-9.3zM106.4 99.9h9.3v2.3h-9.3zM115.4 110.1h9.3v2.3h-9.3zM124.5 120.3h5.3v2.3h-5.3zM129.5 124.4h5.3v2.3h-5.3zM134.4 128.5h5.3v2.3h-5.3zM139.4 134.7h5.3v2.3h-5.3zM144.4 140.8h5.3v2.3h-5.3zM149.4 147.0h5.3v2.3h-5.3zM154.3 155.1h5.3v2.3h-5.3zM159.3 157.2h5.3v2.3h-5.3zM164.3 161.3h5.3v2.3h-5.3zM169.2 163.3h5.3v2.3h-5.3zM169.2 167.4h5.3v2.3h-5.3zM174.2 175.6h5.3v2.3h-5.3zM179.2 181.8h5.3v2.3h-5.3zM184.2 187.9h5.3v2.3h-5.3zM189.1 194.0h5.3v2.3h-5.3zM199.1 208.4h5.3v2.3h-5.3zM263.7 216.6h8.3v2.3h-8.3zM282.7 183.8h11.6v2.3h-11.6zM294.0 169.5h11.6v2.3h-11.6zM305.3 157.2h11.6v2.3h-11.6zM316.6 142.9h6.4v2.3h-6.4z"/></g><polyline points="138,15 138.24,15.19 138.52,15.42 138.86,15.69 139.23,16 139.63,16.33 140.07,16.68 140.53,17.05 141.02,17.43 141.52,17.81 142.04,18.18 142.57,18.55 143.1,18.9 143.65,19.25 144.23,19.6 144.84,19.96 145.46,20.33 146.11,20.7 146.77,21.07 147.44,21.44 148.11,21.8 148.79,22.16 149.47,22.52 150.14,22.86 150.8,23.2 151.43,23.52 152.03,23.82 152.6,24.11 153.16,24.39 153.72,24.66 154.29,24.94 154.9,25.21 155.54,25.5 156.24,25.8 157.01,26.11 157.86,26.44 158.8,26.8 159.84,27.19 160.98,27.62 162.2,28.07 163.49,28.54 164.83,29.02 166.21,29.51 167.62,30 169.04,30.47 170.47,30.93 171.88,31.35 173.26,31.75 174.6,32.1 175.92,32.42 177.23,32.72 178.55,33 179.87,33.26 181.19,33.51 182.51,33.73 183.82,33.94 185.14,34.13 186.46,34.3 187.77,34.45 189.09,34.58 190.4,34.7 191.71,34.8 193.02,34.88 194.33,34.94 195.64,34.99 196.94,35.02 198.25,35.03 199.56,35.02 200.86,34.99 202.17,34.94 203.48,34.88 204.79,34.8 206.1,34.7 207.41,34.58 208.73,34.43 210.05,34.27 211.36,34.08 212.68,33.87 214,33.65 215.32,33.41 216.64,33.17 217.95,32.91 219.27,32.64 220.59,32.37 221.9,32.1 223.22,31.82 224.55,31.54 225.89,31.26 227.23,30.96 228.58,30.66 229.91,30.34 231.24,30.01 232.56,29.67 233.85,29.31 235.13,28.93 236.38,28.53 237.6,28.1 238.81,27.64 240.01,27.15 241.22,26.63 242.41,26.09 243.58,25.52 244.73,24.95 245.85,24.37 246.94,23.79 247.98,23.22 248.98,22.66 249.92,22.12 250.8,21.6 251.63,21.08 252.43,20.55 253.19,20.01 253.91,19.46 254.59,18.92 255.23,18.39 255.81,17.89 256.36,17.42 256.85,16.99 257.29,16.6 257.67,16.27 258,16" fill="none" stroke="#9dcf4b" stroke-width="2.6" stroke-linejoin="round" stroke-linecap="round" stroke-dasharray="9,6.5" stroke-linecap="butt"/><polyline points="44,209.5 44.13,209.53 44.21,209.56 44.26,209.59 44.31,209.62 44.39,209.66 44.52,209.71 44.74,209.76 45.07,209.83 45.53,209.92 46.15,210.02 46.97,210.15 48,210.3 49.26,210.48 50.74,210.69 52.4,210.93 54.23,211.18 56.19,211.45 58.26,211.74 60.42,212.03 62.64,212.32 64.89,212.61 67.15,212.89 69.4,213.15 71.6,213.4 73.8,213.64 76.03,213.89 78.3,214.15 80.61,214.41 82.95,214.66 85.33,214.91 87.74,215.14 90.18,215.36 92.64,215.56 95.14,215.73 97.66,215.88 100.2,216 102.8,216.09 105.48,216.17 108.23,216.24 111.03,216.29 113.85,216.31 116.68,216.32 119.51,216.3 122.31,216.26 125.06,216.19 127.76,216.09 130.38,215.96 132.9,215.8 135.35,215.6 137.77,215.36 140.15,215.08 142.49,214.77 144.79,214.44 147.04,214.08 149.25,213.71 151.4,213.31 153.49,212.91 155.52,212.51 157.49,212.1 159.4,211.7 161.2,211.31 162.88,210.92 164.45,210.55 165.95,210.16 167.39,209.77 168.79,209.36 170.19,208.93 171.6,208.47 173.04,207.97 174.54,207.43 176.12,206.84 177.8,206.2 179.58,205.49 181.44,204.7 183.35,203.86 185.31,202.97 187.31,202.05 189.33,201.1 191.36,200.14 193.39,199.17 195.39,198.21 197.38,197.27 199.31,196.37 201.2,195.5 203.07,194.65 204.97,193.79 206.88,192.92 208.79,192.06 210.68,191.2 212.54,190.36 214.36,189.54 216.12,188.75 217.81,188 219.41,187.28 220.91,186.61 222.3,186 223.57,185.44 224.74,184.93 225.81,184.46 226.8,184.03 227.72,183.64 228.57,183.28 229.38,182.94 230.14,182.62 230.88,182.33 231.59,182.04 232.3,181.77 233,181.5 233.68,181.24 234.3,180.99 234.88,180.76 235.41,180.54 235.92,180.35 236.4,180.17 236.87,180.01 237.33,179.88 237.8,179.77 238.28,179.68 238.77,179.63 239.3,179.6 239.81,179.59 240.25,179.6 240.67,179.63 241.06,179.68 241.46,179.75 241.88,179.85 242.34,179.98 242.86,180.14 243.47,180.35 244.18,180.59 245.02,180.87 246,181.2 247.1,181.58 248.27,182 249.53,182.46 250.86,182.96 252.28,183.49 253.79,184.06 255.38,184.67 257.06,185.3 258.83,185.96 260.69,186.65 262.65,187.36 264.7,188.1 266.9,188.89 269.27,189.75 271.78,190.66 274.42,191.62 277.14,192.61 279.93,193.61 282.75,194.61 285.58,195.6 288.39,196.56 291.15,197.47 293.83,198.32 296.4,199.1 298.98,199.83 301.68,200.54 304.44,201.23 307.22,201.9 309.98,202.54 312.68,203.14 315.27,203.7 317.7,204.22 319.93,204.7 321.92,205.12 323.63,205.49 325,205.8" fill="none" stroke="#5cbb8a" stroke-width="2.6" stroke-linejoin="round" stroke-linecap="round" stroke-dasharray="7.5,7.5" stroke-linecap="butt"/><polyline points="77,22 77.27,22.32 77.59,22.68 77.94,23.09 78.34,23.56 78.78,24.07 79.26,24.62 79.79,25.23 80.35,25.89 80.95,26.59 81.59,27.35 82.28,28.15 83,29 83.78,29.92 84.64,30.93 85.56,32.01 86.53,33.15 87.54,34.34 88.57,35.56 89.63,36.81 90.7,38.07 91.76,39.34 92.8,40.59 93.82,41.81 94.8,43 95.75,44.17 96.69,45.34 97.63,46.5 98.56,47.67 99.48,48.84 100.4,50.01 101.32,51.18 102.24,52.35 103.17,53.51 104.11,54.68 105.05,55.84 106,57 106.96,58.16 107.93,59.32 108.91,60.48 109.89,61.64 110.88,62.79 111.87,63.95 112.86,65.1 113.85,66.25 114.84,67.4 115.83,68.54 116.82,69.67 117.8,70.8 118.78,71.92 119.75,73.04 120.71,74.15 121.68,75.25 122.64,76.35 123.61,77.45 124.57,78.54 125.54,79.64 126.52,80.73 127.5,81.82 128.5,82.91 129.5,84 130.51,85.09 131.54,86.17 132.57,87.26 133.61,88.34 134.66,89.42 135.71,90.49 136.77,91.57 137.82,92.65 138.87,93.73 139.92,94.82 140.96,95.91 142,97 143.03,98.1 144.07,99.22 145.1,100.35 146.14,101.49 147.17,102.63 148.2,103.76 149.23,104.89 150.25,106.01 151.27,107.12 152.29,108.2 153.3,109.26 154.3,110.3 155.3,111.31 156.28,112.29 157.27,113.25 158.24,114.19 159.22,115.12 160.19,116.04 161.16,116.95 162.12,117.85 163.09,118.76 164.06,119.66 165.03,120.58 166,121.5 166.96,122.42 167.89,123.34 168.81,124.25 169.72,125.16 170.63,126.07 171.54,126.98 172.48,127.89 173.44,128.81 174.43,129.74 175.47,130.68 176.55,131.63 177.7,132.6 178.91,133.59 180.19,134.59 181.53,135.61 182.9,136.64 184.31,137.69 185.75,138.73 187.2,139.78 188.65,140.82 190.1,141.86 191.53,142.89 192.93,143.9 194.3,144.9 195.64,145.9 196.97,146.9 198.29,147.92 199.6,148.93 200.9,149.94 202.2,150.93 203.5,151.91 204.79,152.86 206.09,153.78 207.39,154.67 208.69,155.51 210,156.3 211.34,157.05 212.72,157.78 214.12,158.47 215.54,159.14 216.96,159.77 218.37,160.38 219.75,160.95 221.09,161.49 222.38,161.99 223.61,162.46 224.75,162.9 225.8,163.3 226.78,163.66 227.7,163.97 228.58,164.24 229.4,164.47 230.17,164.67 230.89,164.84 231.55,164.98 232.16,165.11 232.7,165.22 233.2,165.32 233.63,165.41 234,165.5" fill="none" stroke="url(#odl)" stroke-width="2.5" stroke-linejoin="round" stroke-linecap="round" stroke-dasharray="9,9" stroke-dashoffset="-4.8" stroke-linecap="butt"/><polyline points="234,165.5 234.24,165.49 234.48,165.52 234.74,165.58 235.02,165.64 235.35,165.71 235.72,165.74 236.16,165.74 236.68,165.69 237.28,165.56 237.97,165.35 238.78,165.03 239.7,164.6 240.78,164.03 242.04,163.35 243.43,162.56 244.94,161.68 246.54,160.73 248.19,159.73 249.87,158.69 251.55,157.63 253.2,156.56 254.79,155.51 256.3,154.48 257.7,153.5 259,152.54 260.25,151.58 261.46,150.62 262.64,149.64 263.78,148.67 264.91,147.69 266.02,146.7 267.12,145.71 268.22,144.72 269.33,143.72 270.45,142.71 271.6,141.7 272.76,140.68 273.93,139.66 275.11,138.62 276.29,137.58 277.46,136.54 278.64,135.49 279.81,134.44 280.97,133.39 282.12,132.33 283.26,131.29 284.39,130.24 285.5,129.2 286.59,128.16 287.67,127.13 288.73,126.1 289.77,125.06 290.81,124.03 291.84,123 292.87,121.97 293.89,120.94 294.91,119.9 295.94,118.87 296.97,117.84 298,116.8 299.04,115.76 300.1,114.71 301.15,113.67 302.21,112.61 303.28,111.56 304.33,110.51 305.38,109.46 306.42,108.42 307.44,107.38 308.45,106.34 309.44,105.32 310.4,104.3 311.35,103.27 312.31,102.22 313.26,101.15 314.21,100.08 315.14,99.01 316.05,97.96 316.94,96.93 317.79,95.94 318.61,94.99 319.39,94.09 320.12,93.26 320.8,92.5 321.43,91.8 322.03,91.16 322.59,90.55 323.11,90 323.6,89.48 324.05,89.01 324.47,88.58 324.84,88.19 325.19,87.84 325.49,87.53 325.77,87.25 326,87" fill="none" stroke="url(#odr)" stroke-width="2.5" stroke-linejoin="round" stroke-linecap="round" stroke-dasharray="8,10" stroke-linecap="butt"/><polyline points="44,213 44.08,212.97 44.06,212.95 43.98,212.95 43.89,212.94 43.82,212.93 43.82,212.9 43.91,212.85 44.15,212.76 44.57,212.63 45.21,212.45 46.1,212.21 47.3,211.9 48.84,211.52 50.72,211.07 52.88,210.57 55.28,210.01 57.85,209.42 60.56,208.79 63.34,208.13 66.14,207.45 68.93,206.76 71.63,206.07 74.21,205.38 76.6,204.7 78.86,204.03 81.08,203.35 83.26,202.66 85.41,201.96 87.53,201.24 89.64,200.52 91.73,199.78 93.81,199.02 95.89,198.25 97.98,197.45 100.08,196.64 102.2,195.8 104.33,194.94 106.45,194.05 108.58,193.14 110.7,192.21 112.83,191.26 114.95,190.29 117.07,189.32 119.2,188.33 121.32,187.33 123.45,186.32 125.57,185.31 127.7,184.3 129.84,183.27 132.01,182.23 134.18,181.16 136.37,180.08 138.56,178.99 140.74,177.9 142.9,176.81 145.05,175.72 147.17,174.64 149.26,173.57 151.3,172.53 153.3,171.5 155.25,170.51 157.16,169.55 159.03,168.62 160.87,167.71 162.68,166.81 164.47,165.91 166.24,165 168,164.07 169.75,163.11 171.5,162.12 173.25,161.09 175,160 176.73,158.86 178.43,157.68 180.09,156.47 181.73,155.23 183.37,153.96 185.01,152.67 186.66,151.36 188.33,150.04 190.04,148.71 191.8,147.37 193.62,146.03 195.5,144.7 197.51,143.33 199.66,141.89 201.93,140.41 204.27,138.89 206.65,137.37 209.02,135.86 211.36,134.37 213.61,132.94 215.75,131.58 217.74,130.3 219.54,129.14 221.1,128.1 222.43,127.19 223.57,126.38 224.54,125.66 225.37,125.03 226.09,124.46 226.71,123.96 227.27,123.5 227.79,123.07 228.3,122.67 228.82,122.28 229.38,121.9 230,121.5 230.65,121.11 231.29,120.76 231.91,120.43 232.51,120.13 233.1,119.85 233.68,119.59 234.25,119.36 234.81,119.14 235.36,118.94 235.91,118.75 236.46,118.57 237,118.4 237.53,118.24 238.03,118.1 238.52,117.97 239,117.86 239.47,117.76 239.94,117.68 240.41,117.61 240.89,117.56 241.38,117.52 241.9,117.5 242.43,117.49 243,117.5 243.58,117.52 244.15,117.56 244.73,117.6 245.31,117.66 245.9,117.74 246.52,117.83 247.16,117.94 247.84,118.07 248.55,118.22 249.31,118.39 250.13,118.58 251,118.8 251.94,119.05 252.95,119.33 254.02,119.65 255.14,119.99 256.3,120.34 257.49,120.72 258.7,121.1 259.91,121.49 261.13,121.88 262.34,122.27 263.54,122.64 264.7,123 265.85,123.35 266.99,123.71 268.14,124.07 269.29,124.43 270.44,124.79 271.59,125.15 272.74,125.51 273.89,125.86 275.04,126.21 276.19,126.55 277.35,126.88 278.5,127.2 279.65,127.51 280.81,127.82 281.97,128.12 283.13,128.41 284.28,128.7 285.44,128.99 286.6,129.27 287.76,129.54 288.92,129.81 290.08,130.08 291.24,130.34 292.4,130.6 293.55,130.85 294.7,131.1 295.84,131.34 296.99,131.58 298.13,131.81 299.27,132.04 300.42,132.26 301.57,132.49 302.73,132.71 303.91,132.94 305.1,133.17 306.3,133.4 307.56,133.64 308.88,133.89 310.26,134.15 311.67,134.41 313.08,134.67 314.49,134.93 315.86,135.18 317.18,135.41 318.42,135.64 319.57,135.85 320.6,136.04 321.5,136.2 322.26,136.34 322.92,136.46 323.48,136.56 323.96,136.64 324.36,136.72 324.7,136.77 324.99,136.82 325.23,136.87 325.44,136.9 325.63,136.94 325.82,136.97 326,137" fill="none" stroke="#fdb46c" stroke-width="3.0" stroke-linejoin="round" stroke-linecap="round"/><polyline points="80,15 80.13,15.08 80.21,15.12 80.27,15.13 80.33,15.14 80.41,15.16 80.55,15.23 80.77,15.36 81.09,15.56 81.53,15.87 82.13,16.3 82.91,16.87 83.9,17.6 85.11,18.51 86.52,19.58 88.11,20.79 89.86,22.13 91.73,23.57 93.71,25.08 95.76,26.66 97.87,28.27 100,29.9 102.13,31.53 104.24,33.14 106.3,34.7 108.35,36.26 110.45,37.86 112.58,39.5 114.75,41.17 116.94,42.86 119.16,44.55 121.38,46.24 123.62,47.93 125.85,49.6 128.08,51.24 130.3,52.84 132.5,54.4 134.69,55.92 136.88,57.43 139.07,58.92 141.26,60.39 143.45,61.85 145.64,63.28 147.84,64.7 150.03,66.1 152.22,67.48 154.42,68.84 156.61,70.18 158.8,71.5 161.01,72.81 163.24,74.1 165.5,75.38 167.76,76.64 170.03,77.88 172.28,79.11 174.52,80.31 176.73,81.48 178.9,82.63 181.02,83.75 183.09,84.84 185.1,85.9 187.05,86.93 188.97,87.93 190.84,88.91 192.69,89.87 194.49,90.79 196.26,91.69 197.99,92.57 199.68,93.41 201.34,94.23 202.96,95.01 204.55,95.77 206.1,96.5 207.62,97.2 209.1,97.87 210.54,98.51 211.95,99.13 213.32,99.71 214.66,100.27 215.96,100.8 217.22,101.3 218.44,101.77 219.63,102.21 220.79,102.62 221.9,103 222.96,103.35 223.96,103.67 224.9,103.96 225.79,104.22 226.65,104.45 227.48,104.65 228.29,104.82 229.1,104.97 229.9,105.09 230.71,105.19 231.54,105.25 232.4,105.3 233.29,105.32 234.19,105.31 235.1,105.28 236.03,105.22 236.95,105.13 237.86,105.02 238.77,104.88 239.65,104.71 240.51,104.52 241.35,104.31 242.14,104.07 242.9,103.8 243.62,103.49 244.3,103.13 244.96,102.72 245.6,102.28 246.21,101.81 246.79,101.33 247.36,100.84 247.91,100.35 248.45,99.87 248.98,99.42 249.49,98.99 250,98.6 250.46,98.28 250.85,98.03 251.19,97.84 251.5,97.69 251.79,97.54 252.08,97.38 252.4,97.19 252.76,96.95 253.18,96.63 253.68,96.21 254.28,95.68 255,95 255.83,94.18 256.76,93.25 257.78,92.22 258.86,91.09 260,89.89 261.2,88.63 262.43,87.32 263.7,85.97 264.98,84.61 266.26,83.23 267.54,81.86 268.8,80.5 270.08,79.12 271.4,77.68 272.76,76.2 274.15,74.67 275.56,73.13 276.97,71.57 278.38,70.03 279.77,68.49 281.14,66.99 282.47,65.53 283.76,64.13 285,62.8 286.18,61.54 287.32,60.33 288.42,59.17 289.49,58.04 290.53,56.95 291.56,55.88 292.58,54.82 293.59,53.77 294.6,52.72 295.62,51.67 296.65,50.59 297.7,49.5 298.77,48.39 299.84,47.28 300.91,46.17 301.99,45.06 303.07,43.95 304.14,42.84 305.22,41.73 306.29,40.63 307.35,39.52 308.41,38.41 309.46,37.3 310.5,36.2 311.55,35.07 312.63,33.9 313.73,32.7 314.84,31.49 315.94,30.28 317.02,29.08 318.07,27.91 319.09,26.79 320.05,25.72 320.94,24.72 321.77,23.81 322.5,23 323.15,22.28 323.74,21.63 324.26,21.06 324.72,20.54 325.13,20.08 325.5,19.68 325.82,19.31 326.11,18.99 326.37,18.71 326.6,18.45 326.81,18.22 327,18" fill="none" stroke="#8c95c8" stroke-width="2.6" stroke-linejoin="round" stroke-linecap="round"/><line x1="44" y1="25.3" x2="214" y2="225" stroke="#e47bc0" stroke-width="2.7"/><line x1="259.5" y1="225.5" x2="325" y2="139" stroke="#e47bc0" stroke-width="2.7"/></g><rect x="47.5" y="18" width="275.2" height="204.7" fill="none" stroke="#222" stroke-width="1.6"/><rect x="327.2" y="17.8" width="10.3" height="205.2" fill="url(#cbar)" stroke="#666" stroke-width="0.8"/><text x="332.7" y="14" font-size="10" text-anchor="middle" fill="#000">0</text><text x="332.5" y="235.8" font-size="10" text-anchor="middle" fill="#000">-0.14</text><text x="349.6" y="121.1" font-size="10.3" text-anchor="middle" fill="#000" transform="rotate(-90 349.6 121.1)">Contrast</text><text x="43.8" y="41.4" font-size="10" text-anchor="end" fill="#000">160</text><text x="43.8" y="68.8" font-size="10" text-anchor="end" fill="#000">140</text><text x="43.8" y="96.2" font-size="10" text-anchor="end" fill="#000">120</text><text x="43.8" y="123.6" font-size="10" text-anchor="end" fill="#000">100</text><text x="43.8" y="151" font-size="10" text-anchor="end" fill="#000">80</text><text x="43.8" y="178.4" font-size="10" text-anchor="end" fill="#000">60</text><text x="43.8" y="205.8" font-size="10" text-anchor="end" fill="#000">40</text><text x="98.1" y="234.4" font-size="10" text-anchor="middle" fill="#000">440</text><text x="154.2" y="234.4" font-size="10" text-anchor="middle" fill="#000">460</text><text x="210.8" y="234.4" font-size="10" text-anchor="middle" fill="#000">480</text><text x="267" y="234.4" font-size="10" text-anchor="middle" fill="#000">500</text><text x="188.6" y="250.6" font-size="14" text-anchor="middle" fill="#000">Magnetic Field (G)</text><text x="19.5" y="117.6" font-size="13.6" text-anchor="middle" fill="#000" transform="rotate(-90 19.5 117.6)">Transition Frequency (MHz)</text><text x="-0.5" y="13.5" font-size="18" text-anchor="start" fill="#000" letter-spacing="1.4">(a)</text><g transform="translate(175.5,45.2)"><line x1="1" y1="-6.1" x2="1" y2="6.3" stroke="#9dcf4b" stroke-width="1.9" stroke-linecap="butt"/><line x1="2.9" y1="0" x2="11.7" y2="0" stroke="#9dcf4b" stroke-width="2.1" stroke-linecap="butt"/><line x1="15.4" y1="-4.8" x2="15.4" y2="4" stroke="#9dcf4b" stroke-width="2.0" stroke-linecap="butt"/><line x1="15.6" y1="-4.6" x2="13" y2="-2.9" stroke="#9dcf4b" stroke-width="1.7" stroke-linecap="butt"/><line x1="12.8" y1="3.3" x2="17.8" y2="3.3" stroke="#9dcf4b" stroke-width="1.5" stroke-linecap="butt"/><line x1="20.25" y1="1.2" x2="19.35" y2="5.8" stroke="#9dcf4b" stroke-width="2.0" stroke-linecap="butt"/><line x1="26" y1="-5.5" x2="26" y2="5.5" stroke="#9dcf4b" stroke-width="1.9" stroke-linecap="butt"/><polyline points="23.4,2.3 26,5.4 28.6,2.3" fill="none" stroke="#9dcf4b" stroke-width="1.8" stroke-linejoin="miter" stroke-miterlimit="6"/><polyline points="29.9,-5.9 31.7,-0.1 29.9,5.8" fill="none" stroke="#9dcf4b" stroke-width="1.8" stroke-linejoin="miter" stroke-miterlimit="6"/><polygon points="31.7,0 39.9,-4.9 37.9,0 39.9,4.9" fill="#9dcf4b"/><line x1="37.7" y1="0" x2="43.9" y2="0" stroke="#9dcf4b" stroke-width="1.6" stroke-linecap="butt"/><polygon points="49.9,0 41.7,-4.9 43.7,0 41.7,4.9" fill="#9dcf4b"/><line x1="51.2" y1="-6.1" x2="51.2" y2="6.3" stroke="#9dcf4b" stroke-width="1.9" stroke-linecap="butt"/><ellipse cx="54.95" cy="-0.2" rx="1.4" ry="3.75" fill="none" stroke="#9dcf4b" stroke-width="1.95"/><line x1="59.45" y1="1.2" x2="58.55" y2="5.8" stroke="#9dcf4b" stroke-width="2.0" stroke-linecap="butt"/><line x1="65.1" y1="-5.5" x2="65.1" y2="5.5" stroke="#9dcf4b" stroke-width="1.9" stroke-linecap="butt"/><polyline points="62.5,2.3 65.1,5.4 67.7,2.3" fill="none" stroke="#9dcf4b" stroke-width="1.8" stroke-linejoin="miter" stroke-miterlimit="6"/><polyline points="69,-5.9 70.8,-0.1 69,5.8" fill="none" stroke="#9dcf4b" stroke-width="1.8" stroke-linejoin="miter" stroke-miterlimit="6"/></g><g transform="translate(183.3,78.9)"><line x1="1" y1="-6.1" x2="1" y2="6.3" stroke="#8b93c6" stroke-width="1.9" stroke-linecap="butt"/><line x1="2.9" y1="0" x2="11.7" y2="0" stroke="#8b93c6" stroke-width="2.1" stroke-linecap="butt"/><line x1="15.4" y1="-4.8" x2="15.4" y2="4" stroke="#8b93c6" stroke-width="2.0" stroke-linecap="butt"/><line x1="15.6" y1="-4.6" x2="13" y2="-2.9" stroke="#8b93c6" stroke-width="1.7" stroke-linecap="butt"/><line x1="12.8" y1="3.3" x2="17.8" y2="3.3" stroke="#8b93c6" stroke-width="1.5" stroke-linecap="butt"/><line x1="20.25" y1="1.2" x2="19.35" y2="5.8" stroke="#8b93c6" stroke-width="2.0" stroke-linecap="butt"/><line x1="26" y1="-5.5" x2="26" y2="5.5" stroke="#8b93c6" stroke-width="1.9" stroke-linecap="butt"/><polyline points="23.4,-2.3 26,-5.4 28.6,-2.3" fill="none" stroke="#8b93c6" stroke-width="1.8" stroke-linejoin="miter" stroke-miterlimit="6"/><polyline points="29.9,-5.9 31.7,-0.1 29.9,5.8" fill="none" stroke="#8b93c6" stroke-width="1.8" stroke-linejoin="miter" stroke-miterlimit="6"/><polygon points="31.7,0 39.9,-4.9 37.9,0 39.9,4.9" fill="#8b93c6"/><line x1="37.7" y1="0" x2="43.9" y2="0" stroke="#8b93c6" stroke-width="1.6" stroke-linecap="butt"/><polygon points="49.9,0 41.7,-4.9 43.7,0 41.7,4.9" fill="#8b93c6"/><line x1="51.2" y1="-6.1" x2="51.2" y2="6.3" stroke="#8b93c6" stroke-width="1.9" stroke-linecap="butt"/><ellipse cx="54.95" cy="-0.2" rx="1.4" ry="3.75" fill="none" stroke="#8b93c6" stroke-width="1.95"/><line x1="59.45" y1="1.2" x2="58.55" y2="5.8" stroke="#8b93c6" stroke-width="2.0" stroke-linecap="butt"/><line x1="65.1" y1="-5.5" x2="65.1" y2="5.5" stroke="#8b93c6" stroke-width="1.9" stroke-linecap="butt"/><polyline points="62.5,2.3 65.1,5.4 67.7,2.3" fill="none" stroke="#8b93c6" stroke-width="1.8" stroke-linejoin="miter" stroke-miterlimit="6"/><polyline points="69,-5.9 70.8,-0.1 69,5.8" fill="none" stroke="#8b93c6" stroke-width="1.8" stroke-linejoin="miter" stroke-miterlimit="6"/></g><g transform="translate(161.1,111.2)"><line x1="1" y1="-6.1" x2="1" y2="6.3" stroke="#f4834f" stroke-width="1.9" stroke-linecap="butt"/><line x1="2.9" y1="0" x2="11.7" y2="0" stroke="#f4834f" stroke-width="2.1" stroke-linecap="butt"/><line x1="15.4" y1="-4.8" x2="15.4" y2="4" stroke="#f4834f" stroke-width="2.0" stroke-linecap="butt"/><line x1="15.6" y1="-4.6" x2="13" y2="-2.9" stroke="#f4834f" stroke-width="1.7" stroke-linecap="butt"/><line x1="12.8" y1="3.3" x2="17.8" y2="3.3" stroke="#f4834f" stroke-width="1.5" stroke-linecap="butt"/><line x1="20.25" y1="1.2" x2="19.35" y2="5.8" stroke="#f4834f" stroke-width="2.0" stroke-linecap="butt"/><line x1="26" y1="-5.5" x2="26" y2="5.5" stroke="#f4834f" stroke-width="1.9" stroke-linecap="butt"/><polyline points="23.4,2.3 26,5.4 28.6,2.3" fill="none" stroke="#f4834f" stroke-width="1.8" stroke-linejoin="miter" stroke-miterlimit="6"/><polyline points="29.9,-5.9 31.7,-0.1 29.9,5.8" fill="none" stroke="#f4834f" stroke-width="1.8" stroke-linejoin="miter" stroke-miterlimit="6"/><polygon points="31.7,0 39.9,-4.9 37.9,0 39.9,4.9" fill="#f4834f"/><line x1="37.7" y1="0" x2="43.9" y2="0" stroke="#f4834f" stroke-width="1.6" stroke-linecap="butt"/><polygon points="49.9,0 41.7,-4.9 43.7,0 41.7,4.9" fill="#f4834f"/><line x1="51.2" y1="-6.1" x2="51.2" y2="6.3" stroke="#f4834f" stroke-width="1.9" stroke-linecap="butt"/><ellipse cx="54.95" cy="-0.2" rx="1.4" ry="3.75" fill="none" stroke="#f4834f" stroke-width="1.95"/><line x1="59.45" y1="1.2" x2="58.55" y2="5.8" stroke="#f4834f" stroke-width="2.0" stroke-linecap="butt"/><line x1="65.1" y1="-5.5" x2="65.1" y2="5.5" stroke="#f4834f" stroke-width="1.9" stroke-linecap="butt"/><polyline points="62.5,-2.3 65.1,-5.4 67.7,-2.3" fill="none" stroke="#f4834f" stroke-width="1.8" stroke-linejoin="miter" stroke-miterlimit="6"/><polyline points="69,-5.9 70.8,-0.1 69,5.8" fill="none" stroke="#f4834f" stroke-width="1.8" stroke-linejoin="miter" stroke-miterlimit="6"/></g><g transform="translate(58,138.1)"><line x1="1" y1="-6.1" x2="1" y2="6.3" stroke="#e47bc0" stroke-width="1.9" stroke-linecap="butt"/><line x1="2.9" y1="0" x2="11.7" y2="0" stroke="#e47bc0" stroke-width="2.1" stroke-linecap="butt"/><line x1="15.4" y1="-4.8" x2="15.4" y2="4" stroke="#e47bc0" stroke-width="2.0" stroke-linecap="butt"/><line x1="15.6" y1="-4.6" x2="13" y2="-2.9" stroke="#e47bc0" stroke-width="1.7" stroke-linecap="butt"/><line x1="12.8" y1="3.3" x2="17.8" y2="3.3" stroke="#e47bc0" stroke-width="1.5" stroke-linecap="butt"/><line x1="20.25" y1="1.2" x2="19.35" y2="5.8" stroke="#e47bc0" stroke-width="2.0" stroke-linecap="butt"/><line x1="26" y1="-5.5" x2="26" y2="5.5" stroke="#e47bc0" stroke-width="1.9" stroke-linecap="butt"/><polyline points="23.4,-2.3 26,-5.4 28.6,-2.3" fill="none" stroke="#e47bc0" stroke-width="1.8" stroke-linejoin="miter" stroke-miterlimit="6"/><polyline points="29.9,-5.9 31.7,-0.1 29.9,5.8" fill="none" stroke="#e47bc0" stroke-width="1.8" stroke-linejoin="miter" stroke-miterlimit="6"/><polygon points="31.7,0 39.9,-4.9 37.9,0 39.9,4.9" fill="#e47bc0"/><line x1="37.7" y1="0" x2="43.9" y2="0" stroke="#e47bc0" stroke-width="1.6" stroke-linecap="butt"/><polygon points="49.9,0 41.7,-4.9 43.7,0 41.7,4.9" fill="#e47bc0"/><line x1="51.2" y1="-6.1" x2="51.2" y2="6.3" stroke="#e47bc0" stroke-width="1.9" stroke-linecap="butt"/><ellipse cx="54.95" cy="-0.2" rx="1.4" ry="3.75" fill="none" stroke="#e47bc0" stroke-width="1.95"/><line x1="59.45" y1="1.2" x2="58.55" y2="5.8" stroke="#e47bc0" stroke-width="2.0" stroke-linecap="butt"/><line x1="65.1" y1="-5.5" x2="65.1" y2="5.5" stroke="#e47bc0" stroke-width="1.9" stroke-linecap="butt"/><polyline points="62.5,-2.3 65.1,-5.4 67.7,-2.3" fill="none" stroke="#e47bc0" stroke-width="1.8" stroke-linejoin="miter" stroke-miterlimit="6"/><polyline points="69,-5.9 70.8,-0.1 69,5.8" fill="none" stroke="#e47bc0" stroke-width="1.8" stroke-linejoin="miter" stroke-miterlimit="6"/></g><g transform="translate(58,180.5)"><line x1="1" y1="-6.1" x2="1" y2="6.3" stroke="#fbb36a" stroke-width="1.9" stroke-linecap="butt"/><ellipse cx="4.75" cy="-0.2" rx="1.4" ry="3.75" fill="none" stroke="#fbb36a" stroke-width="1.95"/><line x1="9.25" y1="1.2" x2="8.35" y2="5.8" stroke="#fbb36a" stroke-width="2.0" stroke-linecap="butt"/><line x1="14.9" y1="-5.5" x2="14.9" y2="5.5" stroke="#fbb36a" stroke-width="1.9" stroke-linecap="butt"/><polyline points="12.3,-2.3 14.9,-5.4 17.5,-2.3" fill="none" stroke="#fbb36a" stroke-width="1.8" stroke-linejoin="miter" stroke-miterlimit="6"/><polyline points="18.8,-5.9 20.6,-0.1 18.8,5.8" fill="none" stroke="#fbb36a" stroke-width="1.8" stroke-linejoin="miter" stroke-miterlimit="6"/><polygon points="21.8,0 30,-4.9 28,0 30,4.9" fill="#fbb36a"/><line x1="27.8" y1="0" x2="34" y2="0" stroke="#fbb36a" stroke-width="1.6" stroke-linecap="butt"/><polygon points="40,0 31.8,-4.9 33.8,0 31.8,4.9" fill="#fbb36a"/><line x1="41.3" y1="-6.1" x2="41.3" y2="6.3" stroke="#fbb36a" stroke-width="1.9" stroke-linecap="butt"/><ellipse cx="45.05" cy="-0.2" rx="1.4" ry="3.75" fill="none" stroke="#fbb36a" stroke-width="1.95"/><line x1="49.55" y1="1.2" x2="48.65" y2="5.8" stroke="#fbb36a" stroke-width="2.0" stroke-linecap="butt"/><line x1="55.2" y1="-5.5" x2="55.2" y2="5.5" stroke="#fbb36a" stroke-width="1.9" stroke-linecap="butt"/><polyline points="52.6,2.3 55.2,5.4 57.8,2.3" fill="none" stroke="#fbb36a" stroke-width="1.8" stroke-linejoin="miter" stroke-miterlimit="6"/><polyline points="59.1,-5.9 60.9,-0.1 59.1,5.8" fill="none" stroke="#fbb36a" stroke-width="1.8" stroke-linejoin="miter" stroke-miterlimit="6"/></g><g transform="translate(199.5,173.3)"><line x1="1" y1="-6.1" x2="1" y2="6.3" stroke="#5dbb8b" stroke-width="1.9" stroke-linecap="butt"/><line x1="2.9" y1="0" x2="11.7" y2="0" stroke="#5dbb8b" stroke-width="2.1" stroke-linecap="butt"/><line x1="15.4" y1="-4.8" x2="15.4" y2="4" stroke="#5dbb8b" stroke-width="2.0" stroke-linecap="butt"/><line x1="15.6" y1="-4.6" x2="13" y2="-2.9" stroke="#5dbb8b" stroke-width="1.7" stroke-linecap="butt"/><line x1="12.8" y1="3.3" x2="17.8" y2="3.3" stroke="#5dbb8b" stroke-width="1.5" stroke-linecap="butt"/><line x1="20.25" y1="1.2" x2="19.35" y2="5.8" stroke="#5dbb8b" stroke-width="2.0" stroke-linecap="butt"/><line x1="26" y1="-5.5" x2="26" y2="5.5" stroke="#5dbb8b" stroke-width="1.9" stroke-linecap="butt"/><polyline points="23.4,2.3 26,5.4 28.6,2.3" fill="none" stroke="#5dbb8b" stroke-width="1.8" stroke-linejoin="miter" stroke-miterlimit="6"/><polyline points="29.9,-5.9 31.7,-0.1 29.9,5.8" fill="none" stroke="#5dbb8b" stroke-width="1.8" stroke-linejoin="miter" stroke-miterlimit="6"/><polygon points="31.7,0 39.9,-4.9 37.9,0 39.9,4.9" fill="#5dbb8b"/><line x1="37.7" y1="0" x2="43.9" y2="0" stroke="#5dbb8b" stroke-width="1.6" stroke-linecap="butt"/><polygon points="49.9,0 41.7,-4.9 43.7,0 41.7,4.9" fill="#5dbb8b"/><line x1="51.2" y1="-6.1" x2="51.2" y2="6.3" stroke="#5dbb8b" stroke-width="1.9" stroke-linecap="butt"/><line x1="53.1" y1="0" x2="61.9" y2="0" stroke="#5dbb8b" stroke-width="2.1" stroke-linecap="butt"/><line x1="65.6" y1="-4.8" x2="65.6" y2="4" stroke="#5dbb8b" stroke-width="2.0" stroke-linecap="butt"/><line x1="65.8" y1="-4.6" x2="63.2" y2="-2.9" stroke="#5dbb8b" stroke-width="1.7" stroke-linecap="butt"/><line x1="63" y1="3.3" x2="68" y2="3.3" stroke="#5dbb8b" stroke-width="1.5" stroke-linecap="butt"/><line x1="70.45" y1="1.2" x2="69.55" y2="5.8" stroke="#5dbb8b" stroke-width="2.0" stroke-linecap="butt"/><line x1="76.2" y1="-5.5" x2="76.2" y2="5.5" stroke="#5dbb8b" stroke-width="1.9" stroke-linecap="butt"/><polyline points="73.6,-2.3 76.2,-5.4 78.8,-2.3" fill="none" stroke="#5dbb8b" stroke-width="1.8" stroke-linejoin="miter" stroke-miterlimit="6"/><polyline points="80.1,-5.9 81.9,-0.1 80.1,5.8" fill="none" stroke="#5dbb8b" stroke-width="1.8" stroke-linejoin="miter" stroke-miterlimit="6"/></g><rect x="406.4" y="18.1" width="277" height="203.6" fill="none" stroke="#222" stroke-width="1.3"/><line x1="406.4" y1="190.7" x2="410.8" y2="190.7" stroke="#222" stroke-width="1.3"/><text x="400.1" y="192.8" font-size="10" text-anchor="end" fill="#000">0.0</text><line x1="406.4" y1="112.3" x2="410.8" y2="112.3" stroke="#222" stroke-width="1.3"/><text x="400.1" y="114.4" font-size="10" text-anchor="end" fill="#000">0.5</text><line x1="406.4" y1="33.9" x2="410.8" y2="33.9" stroke="#222" stroke-width="1.3"/><text x="400.1" y="36" font-size="10" text-anchor="end" fill="#000">1.0</text><line x1="406.4" y1="151.5" x2="409" y2="151.5" stroke="#222" stroke-width="1.3"/><line x1="406.4" y1="73.1" x2="409" y2="73.1" stroke="#222" stroke-width="1.3"/><line x1="419.3" y1="221.7" x2="419.3" y2="217.3" stroke="#222" stroke-width="1.3"/><text x="419.3" y="232.9" font-size="10" text-anchor="middle" fill="#000">420</text><line x1="469.6" y1="221.7" x2="469.6" y2="217.3" stroke="#222" stroke-width="1.3"/><text x="469.6" y="232.9" font-size="10" text-anchor="middle" fill="#000">440</text><line x1="519.9" y1="221.7" x2="519.9" y2="217.3" stroke="#222" stroke-width="1.3"/><text x="519.9" y="232.9" font-size="10" text-anchor="middle" fill="#000">460</text><line x1="570.2" y1="221.7" x2="570.2" y2="217.3" stroke="#222" stroke-width="1.3"/><text x="570.2" y="232.9" font-size="10" text-anchor="middle" fill="#000">480</text><line x1="620.5" y1="221.7" x2="620.5" y2="217.3" stroke="#222" stroke-width="1.3"/><text x="620.5" y="232.9" font-size="10" text-anchor="middle" fill="#000">500</text><line x1="670.8" y1="221.7" x2="670.8" y2="217.3" stroke="#222" stroke-width="1.3"/><text x="670.8" y="232.9" font-size="10" text-anchor="middle" fill="#000">520</text><line x1="444.45" y1="221.7" x2="444.45" y2="219.1" stroke="#222" stroke-width="1.3"/><line x1="494.75" y1="221.7" x2="494.75" y2="219.1" stroke="#222" stroke-width="1.3"/><line x1="545.05" y1="221.7" x2="545.05" y2="219.1" stroke="#222" stroke-width="1.3"/><line x1="595.35" y1="221.7" x2="595.35" y2="219.1" stroke="#222" stroke-width="1.3"/><line x1="645.65" y1="221.7" x2="645.65" y2="219.1" stroke="#222" stroke-width="1.3"/><line x1="425.3" y1="143.9" x2="425.3" y2="162.5" stroke="#f99a3b" stroke-width="1.5"/><line x1="422.5" y1="143.9" x2="428.1" y2="143.9" stroke="#f99a3b" stroke-width="1.5"/><line x1="422.5" y1="162.5" x2="428.1" y2="162.5" stroke="#f99a3b" stroke-width="1.5"/><circle cx="425.3" cy="153.2" r="2.7" fill="#f99a3b"/><circle cx="424.8" cy="152.6" r="0.9" fill="#fff" fill-opacity="0.8"/><line x1="433" y1="134.1" x2="433" y2="152.7" stroke="#f99a3b" stroke-width="1.5"/><line x1="430.2" y1="134.1" x2="435.8" y2="134.1" stroke="#f99a3b" stroke-width="1.5"/><line x1="430.2" y1="152.7" x2="435.8" y2="152.7" stroke="#f99a3b" stroke-width="1.5"/><circle cx="433" cy="143.4" r="2.7" fill="#f99a3b"/><circle cx="432.5" cy="142.8" r="0.9" fill="#fff" fill-opacity="0.8"/><line x1="441.2" y1="131.6" x2="441.2" y2="150.2" stroke="#f99a3b" stroke-width="1.5"/><line x1="438.4" y1="131.6" x2="444" y2="131.6" stroke="#f99a3b" stroke-width="1.5"/><line x1="438.4" y1="150.2" x2="444" y2="150.2" stroke="#f99a3b" stroke-width="1.5"/><circle cx="441.2" cy="140.9" r="2.7" fill="#f99a3b"/><circle cx="440.7" cy="140.3" r="0.9" fill="#fff" fill-opacity="0.8"/><line x1="449.4" y1="138.8" x2="449.4" y2="157.4" stroke="#f99a3b" stroke-width="1.5"/><line x1="446.6" y1="138.8" x2="452.2" y2="138.8" stroke="#f99a3b" stroke-width="1.5"/><line x1="446.6" y1="157.4" x2="452.2" y2="157.4" stroke="#f99a3b" stroke-width="1.5"/><circle cx="449.4" cy="148.1" r="2.7" fill="#f99a3b"/><circle cx="448.9" cy="147.5" r="0.9" fill="#fff" fill-opacity="0.8"/><line x1="457.8" y1="136.5" x2="457.8" y2="155.1" stroke="#f99a3b" stroke-width="1.5"/><line x1="455" y1="136.5" x2="460.6" y2="136.5" stroke="#f99a3b" stroke-width="1.5"/><line x1="455" y1="155.1" x2="460.6" y2="155.1" stroke="#f99a3b" stroke-width="1.5"/><circle cx="457.8" cy="145.8" r="2.7" fill="#f99a3b"/><circle cx="457.3" cy="145.2" r="0.9" fill="#fff" fill-opacity="0.8"/><line x1="466.2" y1="128" x2="466.2" y2="146.6" stroke="#f99a3b" stroke-width="1.5"/><line x1="463.4" y1="128" x2="469" y2="128" stroke="#f99a3b" stroke-width="1.5"/><line x1="463.4" y1="146.6" x2="469" y2="146.6" stroke="#f99a3b" stroke-width="1.5"/><circle cx="466.2" cy="137.3" r="2.7" fill="#f99a3b"/><circle cx="465.7" cy="136.7" r="0.9" fill="#fff" fill-opacity="0.8"/><line x1="474.7" y1="133.9" x2="474.7" y2="152.5" stroke="#f99a3b" stroke-width="1.5"/><line x1="471.9" y1="133.9" x2="477.5" y2="133.9" stroke="#f99a3b" stroke-width="1.5"/><line x1="471.9" y1="152.5" x2="477.5" y2="152.5" stroke="#f99a3b" stroke-width="1.5"/><circle cx="474.7" cy="143.2" r="2.7" fill="#f99a3b"/><circle cx="474.2" cy="142.6" r="0.9" fill="#fff" fill-opacity="0.8"/><line x1="483.3" y1="104.7" x2="483.3" y2="123.7" stroke="#f99a3b" stroke-width="1.5"/><line x1="480.5" y1="104.7" x2="486.1" y2="104.7" stroke="#f99a3b" stroke-width="1.5"/><line x1="480.5" y1="123.7" x2="486.1" y2="123.7" stroke="#f99a3b" stroke-width="1.5"/><circle cx="483.3" cy="114.2" r="2.7" fill="#f99a3b"/><circle cx="482.8" cy="113.6" r="0.9" fill="#fff" fill-opacity="0.8"/><line x1="491.5" y1="106.3" x2="491.5" y2="125.3" stroke="#f99a3b" stroke-width="1.5"/><line x1="488.7" y1="106.3" x2="494.3" y2="106.3" stroke="#f99a3b" stroke-width="1.5"/><line x1="488.7" y1="125.3" x2="494.3" y2="125.3" stroke="#f99a3b" stroke-width="1.5"/><circle cx="491.5" cy="115.8" r="2.7" fill="#f99a3b"/><circle cx="491" cy="115.2" r="0.9" fill="#fff" fill-opacity="0.8"/><line x1="500.4" y1="81.8" x2="500.4" y2="100.8" stroke="#f99a3b" stroke-width="1.5"/><line x1="497.6" y1="81.8" x2="503.2" y2="81.8" stroke="#f99a3b" stroke-width="1.5"/><line x1="497.6" y1="100.8" x2="503.2" y2="100.8" stroke="#f99a3b" stroke-width="1.5"/><circle cx="500.4" cy="91.3" r="2.7" fill="#f99a3b"/><circle cx="499.9" cy="90.7" r="0.9" fill="#fff" fill-opacity="0.8"/><line x1="505" y1="87.6" x2="505" y2="106.6" stroke="#f99a3b" stroke-width="1.5"/><line x1="502.2" y1="87.6" x2="507.8" y2="87.6" stroke="#f99a3b" stroke-width="1.5"/><line x1="502.2" y1="106.6" x2="507.8" y2="106.6" stroke="#f99a3b" stroke-width="1.5"/><circle cx="505" cy="97.1" r="2.7" fill="#f99a3b"/><circle cx="504.5" cy="96.5" r="0.9" fill="#fff" fill-opacity="0.8"/><line x1="509.5" y1="70.1" x2="509.5" y2="89.1" stroke="#f99a3b" stroke-width="1.5"/><line x1="506.7" y1="70.1" x2="512.3" y2="70.1" stroke="#f99a3b" stroke-width="1.5"/><line x1="506.7" y1="89.1" x2="512.3" y2="89.1" stroke="#f99a3b" stroke-width="1.5"/><circle cx="509.5" cy="79.6" r="2.7" fill="#f99a3b"/><circle cx="509" cy="79" r="0.9" fill="#fff" fill-opacity="0.8"/><line x1="513.2" y1="80.6" x2="513.2" y2="99.6" stroke="#f99a3b" stroke-width="1.5"/><line x1="510.4" y1="80.6" x2="516" y2="80.6" stroke="#f99a3b" stroke-width="1.5"/><line x1="510.4" y1="99.6" x2="516" y2="99.6" stroke="#f99a3b" stroke-width="1.5"/><circle cx="513.2" cy="90.1" r="2.7" fill="#f99a3b"/><circle cx="512.7" cy="89.5" r="0.9" fill="#fff" fill-opacity="0.8"/><line x1="518.4" y1="54.2" x2="518.4" y2="73.2" stroke="#f99a3b" stroke-width="1.5"/><line x1="515.6" y1="54.2" x2="521.2" y2="54.2" stroke="#f99a3b" stroke-width="1.5"/><line x1="515.6" y1="73.2" x2="521.2" y2="73.2" stroke="#f99a3b" stroke-width="1.5"/><circle cx="518.4" cy="63.7" r="2.7" fill="#f99a3b"/><circle cx="517.9" cy="63.1" r="0.9" fill="#fff" fill-opacity="0.8"/><line x1="522.6" y1="40.9" x2="522.6" y2="60.9" stroke="#f99a3b" stroke-width="1.5"/><line x1="519.8" y1="40.9" x2="525.4" y2="40.9" stroke="#f99a3b" stroke-width="1.5"/><line x1="519.8" y1="60.9" x2="525.4" y2="60.9" stroke="#f99a3b" stroke-width="1.5"/><circle cx="522.6" cy="50.9" r="2.7" fill="#f99a3b"/><circle cx="522.1" cy="50.3" r="0.9" fill="#fff" fill-opacity="0.8"/><line x1="526.8" y1="52.2" x2="526.8" y2="72.2" stroke="#f99a3b" stroke-width="1.5"/><line x1="524" y1="52.2" x2="529.6" y2="52.2" stroke="#f99a3b" stroke-width="1.5"/><line x1="524" y1="72.2" x2="529.6" y2="72.2" stroke="#f99a3b" stroke-width="1.5"/><circle cx="526.8" cy="62.2" r="2.7" fill="#f99a3b"/><circle cx="526.3" cy="61.6" r="0.9" fill="#fff" fill-opacity="0.8"/><line x1="530.8" y1="55.9" x2="530.8" y2="75.9" stroke="#f99a3b" stroke-width="1.5"/><line x1="528" y1="55.9" x2="533.6" y2="55.9" stroke="#f99a3b" stroke-width="1.5"/><line x1="528" y1="75.9" x2="533.6" y2="75.9" stroke="#f99a3b" stroke-width="1.5"/><circle cx="530.8" cy="65.9" r="2.7" fill="#f99a3b"/><circle cx="530.3" cy="65.3" r="0.9" fill="#fff" fill-opacity="0.8"/><line x1="536.3" y1="60.7" x2="536.3" y2="74.7" stroke="#f99a3b" stroke-width="1.5"/><line x1="533.5" y1="60.7" x2="539.1" y2="60.7" stroke="#f99a3b" stroke-width="1.5"/><line x1="533.5" y1="74.7" x2="539.1" y2="74.7" stroke="#f99a3b" stroke-width="1.5"/><circle cx="536.3" cy="67.7" r="2.7" fill="#f99a3b"/><circle cx="535.8" cy="67.1" r="0.9" fill="#fff" fill-opacity="0.8"/><line x1="540.3" y1="43.5" x2="540.3" y2="55.5" stroke="#f99a3b" stroke-width="1.5"/><line x1="537.5" y1="43.5" x2="543.1" y2="43.5" stroke="#f99a3b" stroke-width="1.5"/><line x1="537.5" y1="55.5" x2="543.1" y2="55.5" stroke="#f99a3b" stroke-width="1.5"/><circle cx="540.3" cy="49.5" r="2.7" fill="#f99a3b"/><circle cx="539.8" cy="48.9" r="0.9" fill="#fff" fill-opacity="0.8"/><line x1="542.9" y1="44.2" x2="542.9" y2="56.2" stroke="#f99a3b" stroke-width="1.5"/><line x1="540.1" y1="44.2" x2="545.7" y2="44.2" stroke="#f99a3b" stroke-width="1.5"/><line x1="540.1" y1="56.2" x2="545.7" y2="56.2" stroke="#f99a3b" stroke-width="1.5"/><circle cx="542.9" cy="50.2" r="2.7" fill="#f99a3b"/><circle cx="542.4" cy="49.6" r="0.9" fill="#fff" fill-opacity="0.8"/><line x1="549.8" y1="45.3" x2="549.8" y2="57.9" stroke="#f99a3b" stroke-width="1.5"/><line x1="547" y1="45.3" x2="552.6" y2="45.3" stroke="#f99a3b" stroke-width="1.5"/><line x1="547" y1="57.9" x2="552.6" y2="57.9" stroke="#f99a3b" stroke-width="1.5"/><circle cx="549.8" cy="51.6" r="2.7" fill="#f99a3b"/><circle cx="549.3" cy="51" r="0.9" fill="#fff" fill-opacity="0.8"/><line x1="554.6" y1="35.1" x2="554.6" y2="47.1" stroke="#f99a3b" stroke-width="1.5"/><line x1="551.8" y1="35.1" x2="557.4" y2="35.1" stroke="#f99a3b" stroke-width="1.5"/><line x1="551.8" y1="47.1" x2="557.4" y2="47.1" stroke="#f99a3b" stroke-width="1.5"/><circle cx="554.6" cy="41.1" r="2.7" fill="#f99a3b"/><circle cx="554.1" cy="40.5" r="0.9" fill="#fff" fill-opacity="0.8"/><line x1="559" y1="33.6" x2="559" y2="45.6" stroke="#f99a3b" stroke-width="1.5"/><line x1="556.2" y1="33.6" x2="561.8" y2="33.6" stroke="#f99a3b" stroke-width="1.5"/><line x1="556.2" y1="45.6" x2="561.8" y2="45.6" stroke="#f99a3b" stroke-width="1.5"/><circle cx="559" cy="39.6" r="2.7" fill="#f99a3b"/><circle cx="558.5" cy="39" r="0.9" fill="#fff" fill-opacity="0.8"/><line x1="564" y1="31.6" x2="564" y2="44" stroke="#f99a3b" stroke-width="1.5"/><line x1="561.2" y1="31.6" x2="566.8" y2="31.6" stroke="#f99a3b" stroke-width="1.5"/><line x1="561.2" y1="44" x2="566.8" y2="44" stroke="#f99a3b" stroke-width="1.5"/><circle cx="564" cy="37.8" r="2.7" fill="#f99a3b"/><circle cx="563.5" cy="37.2" r="0.9" fill="#fff" fill-opacity="0.8"/><line x1="568.8" y1="31.2" x2="568.8" y2="43.6" stroke="#f99a3b" stroke-width="1.5"/><line x1="566" y1="31.2" x2="571.6" y2="31.2" stroke="#f99a3b" stroke-width="1.5"/><line x1="566" y1="43.6" x2="571.6" y2="43.6" stroke="#f99a3b" stroke-width="1.5"/><circle cx="568.8" cy="37.4" r="2.7" fill="#f99a3b"/><circle cx="568.3" cy="36.8" r="0.9" fill="#fff" fill-opacity="0.8"/><line x1="631.2" y1="140.8" x2="631.2" y2="157.8" stroke="#f99a3b" stroke-width="1.5"/><line x1="628.4" y1="140.8" x2="634" y2="140.8" stroke="#f99a3b" stroke-width="1.5"/><line x1="628.4" y1="157.8" x2="634" y2="157.8" stroke="#f99a3b" stroke-width="1.5"/><circle cx="631.2" cy="149.3" r="2.7" fill="#f99a3b"/><circle cx="630.7" cy="148.7" r="0.9" fill="#fff" fill-opacity="0.8"/><line x1="641.5" y1="150" x2="641.5" y2="166" stroke="#f99a3b" stroke-width="1.5"/><line x1="638.7" y1="150" x2="644.3" y2="150" stroke="#f99a3b" stroke-width="1.5"/><line x1="638.7" y1="166" x2="644.3" y2="166" stroke="#f99a3b" stroke-width="1.5"/><circle cx="641.5" cy="158" r="2.7" fill="#f99a3b"/><circle cx="641" cy="157.4" r="0.9" fill="#fff" fill-opacity="0.8"/><line x1="651.3" y1="140.5" x2="651.3" y2="160.5" stroke="#f99a3b" stroke-width="1.5"/><line x1="648.5" y1="140.5" x2="654.1" y2="140.5" stroke="#f99a3b" stroke-width="1.5"/><line x1="648.5" y1="160.5" x2="654.1" y2="160.5" stroke="#f99a3b" stroke-width="1.5"/><circle cx="651.3" cy="150.5" r="2.7" fill="#f99a3b"/><circle cx="650.8" cy="149.9" r="0.9" fill="#fff" fill-opacity="0.8"/><line x1="661.6" y1="132.9" x2="661.6" y2="148.9" stroke="#f99a3b" stroke-width="1.5"/><line x1="658.8" y1="132.9" x2="664.4" y2="132.9" stroke="#f99a3b" stroke-width="1.5"/><line x1="658.8" y1="148.9" x2="664.4" y2="148.9" stroke="#f99a3b" stroke-width="1.5"/><circle cx="661.6" cy="140.9" r="2.7" fill="#f99a3b"/><circle cx="661.1" cy="140.3" r="0.9" fill="#fff" fill-opacity="0.8"/><line x1="671.9" y1="154.6" x2="671.9" y2="172.6" stroke="#f99a3b" stroke-width="1.5"/><line x1="669.1" y1="154.6" x2="674.7" y2="154.6" stroke="#f99a3b" stroke-width="1.5"/><line x1="669.1" y1="172.6" x2="674.7" y2="172.6" stroke="#f99a3b" stroke-width="1.5"/><circle cx="671.9" cy="163.6" r="2.7" fill="#f99a3b"/><circle cx="671.4" cy="163" r="0.9" fill="#fff" fill-opacity="0.8"/><polyline points="418.6,171.7 418.92,171.58 419.31,171.44 419.77,171.28 420.29,171.09 420.85,170.89 421.45,170.67 422.07,170.44 422.71,170.21 423.35,169.98 423.99,169.75 424.61,169.52 425.2,169.3 425.78,169.09 426.35,168.88 426.94,168.66 427.52,168.45 428.11,168.23 428.71,168.01 429.31,167.79 429.91,167.56 430.52,167.33 431.14,167.09 431.77,166.85 432.4,166.6 433.04,166.34 433.7,166.08 434.36,165.82 435.03,165.54 435.71,165.27 436.39,164.99 437.07,164.7 437.76,164.41 438.45,164.12 439.13,163.82 439.82,163.51 440.5,163.2 441.18,162.88 441.86,162.56 442.54,162.24 443.23,161.9 443.91,161.57 444.59,161.22 445.28,160.88 445.96,160.53 446.65,160.18 447.33,159.82 448.02,159.46 448.7,159.1 449.38,158.74 450.07,158.37 450.75,158.01 451.43,157.64 452.12,157.27 452.8,156.89 453.48,156.51 454.17,156.13 454.85,155.73 455.53,155.33 456.22,154.92 456.9,154.5 457.58,154.07 458.27,153.64 458.95,153.21 459.64,152.77 460.32,152.32 461.01,151.87 461.69,151.4 462.37,150.93 463.06,150.44 463.74,149.94 464.42,149.43 465.1,148.9 465.78,148.35 466.47,147.79 467.17,147.21 467.86,146.62 468.56,146.02 469.25,145.41 469.94,144.78 470.61,144.16 471.28,143.52 471.94,142.88 472.58,142.24 473.2,141.6 473.8,140.95 474.38,140.3 474.95,139.64 475.5,138.98 476.04,138.31 476.57,137.63 477.1,136.95 477.63,136.27 478.16,135.58 478.69,134.89 479.24,134.2 479.8,133.5 480.36,132.81 480.92,132.13 481.48,131.46 482.04,130.79 482.6,130.11 483.17,129.42 483.74,128.73 484.33,128.01 484.92,127.28 485.53,126.52 486.16,125.73 486.8,124.9 487.47,124.03 488.15,123.13 488.85,122.19 489.57,121.23 490.3,120.24 491.04,119.24 491.78,118.23 492.53,117.21 493.28,116.2 494.02,115.19 494.77,114.18 495.5,113.2 496.23,112.23 496.96,111.26 497.7,110.29 498.43,109.33 499.16,108.36 499.9,107.39 500.64,106.42 501.37,105.45 502.1,104.47 502.84,103.49 503.57,102.5 504.3,101.5 505.03,100.49 505.75,99.48 506.48,98.47 507.2,97.44 507.93,96.42 508.65,95.39 509.37,94.35 510.1,93.31 510.82,92.27 511.55,91.22 512.27,90.16 513,89.1 513.73,88.03 514.46,86.93 515.19,85.82 515.93,84.71 516.66,83.58 517.39,82.46 518.13,81.34 518.86,80.24 519.6,79.14 520.33,78.07 521.07,77.02 521.8,76 522.53,75.01 523.27,74.03 524,73.07 524.74,72.12 525.47,71.19 526.21,70.28 526.94,69.37 527.67,68.48 528.41,67.6 529.14,66.72 529.87,65.86 530.6,65 531.33,64.15 532.05,63.31 532.78,62.48 533.5,61.67 534.23,60.86 534.95,60.06 535.67,59.28 536.4,58.5 537.12,57.73 537.85,56.98 538.57,56.23 539.3,55.5 540.03,54.78 540.76,54.06 541.5,53.36 542.23,52.67 542.96,51.98 543.7,51.31 544.44,50.65 545.17,50 545.9,49.36 546.64,48.73 547.37,48.11 548.1,47.5 548.83,46.9 549.55,46.3 550.28,45.71 551,45.13 551.73,44.56 552.45,44 553.17,43.46 553.9,42.93 554.62,42.41 555.35,41.92 556.07,41.45 556.8,41 557.54,40.57 558.31,40.15 559.08,39.74 559.87,39.35 560.66,38.97 561.44,38.62 562.2,38.28 562.95,37.97 563.67,37.69 564.36,37.43 565,37.2 565.6,37 566.15,36.83 566.65,36.69 567.12,36.58 567.56,36.5 567.96,36.44 568.35,36.4 568.72,36.39 569.08,36.39 569.43,36.42 569.78,36.46 570.14,36.52 570.5,36.6 570.87,36.69 571.22,36.8 571.57,36.93 571.92,37.07 572.26,37.24 572.59,37.42 572.91,37.63 573.24,37.86 573.56,38.11 573.87,38.38 574.19,38.68 574.5,39 574.81,39.36 575.13,39.76 575.44,40.19 575.75,40.66 576.06,41.14 576.36,41.64 576.66,42.15 576.95,42.67 577.23,43.17 577.5,43.67 577.76,44.15 578,44.6 578.23,45.03 578.44,45.43 578.64,45.83 578.82,46.21 579,46.58 579.17,46.96 579.33,47.34 579.5,47.74 579.67,48.14 579.84,48.57 580.01,49.02 580.2,49.5 580.39,49.96 580.58,50.37 580.76,50.75 580.94,51.12 581.13,51.51 581.32,51.93 581.51,52.41 581.71,52.98 581.92,53.65 582.13,54.44 582.36,55.38 582.6,56.5 582.85,57.77 583.12,59.15 583.4,60.64 583.69,62.24 583.98,63.95 584.28,65.75 584.59,67.65 584.89,69.65 585.2,71.73 585.5,73.91 585.8,76.16 586.1,78.5 586.39,80.95 586.68,83.55 586.98,86.28 587.27,89.11 587.56,92.04 587.85,95.04 588.14,98.09 588.43,101.17 588.73,104.28 589.02,107.38 589.31,110.46 589.6,113.5 589.89,116.55 590.19,119.65 590.48,122.79 590.78,125.96 591.08,129.15 591.38,132.34 591.67,135.52 591.96,138.69 592.25,141.82 592.54,144.91 592.82,147.94 593.1,150.9 593.38,153.87 593.65,156.9 593.92,159.96 594.2,163.03 594.47,166.06 594.73,169.02 594.99,171.9 595.25,174.64 595.5,177.23 595.74,179.62 595.97,181.79 596.2,183.7 596.41,185.36 596.62,186.82 596.81,188.08 597,189.16 597.18,190.09 597.36,190.87 597.53,191.52 597.7,192.07 597.87,192.52 598.04,192.9 598.22,193.22 598.4,193.5 598.58,193.69 598.76,193.73 598.95,193.64 599.13,193.45 599.31,193.16 599.49,192.8 599.67,192.38 599.85,191.92 600.04,191.43 600.22,190.94 600.41,190.46 600.6,190 600.79,189.54 600.99,189.05 601.18,188.52 601.38,187.97 601.58,187.39 601.78,186.79 601.98,186.17 602.19,185.54 602.39,184.91 602.59,184.27 602.8,183.63 603,183 603.2,182.39 603.38,181.8 603.55,181.23 603.72,180.66 603.89,180.09 604.07,179.49 604.25,178.87 604.46,178.2 604.68,177.49 604.92,176.7 605.19,175.84 605.5,174.9 605.84,173.84 606.22,172.66 606.63,171.39 607.06,170.04 607.51,168.63 607.98,167.2 608.46,165.76 608.94,164.33 609.42,162.94 609.89,161.6 610.35,160.35 610.8,159.2 611.24,158.13 611.67,157.1 612.1,156.12 612.54,155.17 612.97,154.26 613.4,153.38 613.83,152.54 614.26,151.72 614.7,150.93 615.13,150.16 615.56,149.42 616,148.7 616.43,148.01 616.86,147.34 617.29,146.71 617.71,146.11 618.14,145.54 618.56,144.99 618.99,144.47 619.43,143.96 619.88,143.48 620.34,143 620.81,142.55 621.3,142.1 621.8,141.67 622.3,141.26 622.8,140.87 623.31,140.5 623.83,140.14 624.36,139.81 624.91,139.49 625.47,139.18 626.04,138.89 626.64,138.62 627.26,138.35 627.9,138.1 628.57,137.86 629.25,137.63 629.96,137.42 630.69,137.22 631.44,137.03 632.2,136.86 632.98,136.71 633.76,136.57 634.56,136.45 635.37,136.35 636.18,136.26 637,136.2 637.83,136.16 638.68,136.14 639.55,136.14 640.43,136.16 641.32,136.2 642.21,136.26 643.11,136.32 644.02,136.4 644.92,136.49 645.82,136.59 646.72,136.69 647.6,136.8 648.49,136.92 649.39,137.05 650.29,137.2 651.2,137.36 652.11,137.53 653.02,137.71 653.91,137.9 654.8,138.08 655.66,138.27 656.5,138.45 657.32,138.63 658.1,138.8 658.85,138.97 659.58,139.13 660.29,139.3 660.98,139.47 661.65,139.64 662.3,139.81 662.94,139.97 663.57,140.14 664.18,140.31 664.79,140.47 665.4,140.64 666,140.8 666.61,140.97 667.24,141.14 667.88,141.33 668.51,141.51 669.14,141.69 669.74,141.88 670.32,142.05 670.87,142.21 671.36,142.36 671.81,142.49 672.19,142.61 672.5,142.7" fill="none" stroke="#de80c8" stroke-width="2.6" stroke-linejoin="round" stroke-linecap="round"/><text x="554" y="250.2" font-size="14" text-anchor="middle" fill="#000">Magnetic field (G)</text><text x="377.4" y="123.9" font-size="14" text-anchor="middle" fill="#000" transform="rotate(-90 377.4 123.9)">Degree of Nuclear polarization</text><text x="349.6" y="13.5" font-size="18" text-anchor="start" fill="#000" letter-spacing="1.4">(b)</text><rect x="57.7" y="278" width="278.6" height="204.3" fill="none" stroke="#222" stroke-width="1.3"/><line x1="57.7" y1="318.5" x2="62.1" y2="318.5" stroke="#222" stroke-width="1.3"/><text x="53.5" y="320.6" font-size="10" text-anchor="end" fill="#000">0.00</text><line x1="57.7" y1="400.35" x2="62.1" y2="400.35" stroke="#222" stroke-width="1.3"/><text x="53.5" y="402.45" font-size="10" text-anchor="end" fill="#000">-0.05</text><line x1="57.7" y1="482.2" x2="62.1" y2="482.2" stroke="#222" stroke-width="1.3"/><text x="53.5" y="484.3" font-size="10" text-anchor="end" fill="#000">-0.10</text><line x1="57.7" y1="359.43" x2="60.3" y2="359.43" stroke="#222" stroke-width="1.3"/><line x1="57.7" y1="441.27" x2="60.3" y2="441.27" stroke="#222" stroke-width="1.3"/><line x1="87.6" y1="482.3" x2="87.6" y2="477.9" stroke="#222" stroke-width="1.3"/><text x="87.6" y="493" font-size="10" text-anchor="middle" fill="#000">720</text><line x1="167.3" y1="482.3" x2="167.3" y2="477.9" stroke="#222" stroke-width="1.3"/><text x="167.3" y="493" font-size="10" text-anchor="middle" fill="#000">760</text><line x1="247" y1="482.3" x2="247" y2="477.9" stroke="#222" stroke-width="1.3"/><text x="247" y="493" font-size="10" text-anchor="middle" fill="#000">800</text><line x1="326.7" y1="482.3" x2="326.7" y2="477.9" stroke="#222" stroke-width="1.3"/><text x="326.7" y="493" font-size="10" text-anchor="middle" fill="#000">840</text><line x1="127.45" y1="482.3" x2="127.45" y2="479.7" stroke="#222" stroke-width="1.3"/><line x1="207.15" y1="482.3" x2="207.15" y2="479.7" stroke="#222" stroke-width="1.3"/><line x1="286.85" y1="482.3" x2="286.85" y2="479.7" stroke="#222" stroke-width="1.3"/><rect x="66.25" y="310.75" width="2.5" height="2.5" fill="#111"/><rect x="72.35" y="319.45" width="2.5" height="2.5" fill="#111"/><rect x="68.45" y="324.25" width="2.5" height="2.5" fill="#111"/><rect x="70.35" y="328.35" width="2.5" height="2.5" fill="#111"/><rect x="74.25" y="326.45" width="2.5" height="2.5" fill="#111"/><rect x="76.15" y="323.55" width="2.5" height="2.5" fill="#111"/><rect x="78.35" y="313.65" width="2.5" height="2.5" fill="#111"/><rect x="80.15" y="331.15" width="2.5" height="2.5" fill="#111"/><rect x="82.25" y="315.25" width="2.5" height="2.5" fill="#111"/><rect x="83.75" y="315.55" width="2.5" height="2.5" fill="#111"/><rect x="85.95" y="313.75" width="2.5" height="2.5" fill="#111"/><rect x="87.85" y="315.95" width="2.5" height="2.5" fill="#111"/><rect x="90.35" y="316.75" width="2.5" height="2.5" fill="#111"/><rect x="92.05" y="320.35" width="2.5" height="2.5" fill="#111"/><rect x="94.45" y="317.45" width="2.5" height="2.5" fill="#111"/><rect x="96.15" y="323.25" width="2.5" height="2.5" fill="#111"/><rect x="98.35" y="313.75" width="2.5" height="2.5" fill="#111"/><rect x="102.05" y="328.35" width="2.5" height="2.5" fill="#111"/><rect x="104.15" y="320.65" width="2.5" height="2.5" fill="#111"/><rect x="106.05" y="326.75" width="2.5" height="2.5" fill="#111"/><rect x="108.15" y="320.95" width="2.5" height="2.5" fill="#111"/><rect x="110.35" y="330.55" width="2.5" height="2.5" fill="#111"/><rect x="112.55" y="325.75" width="2.5" height="2.5" fill="#111"/><rect x="114.75" y="326.45" width="2.5" height="2.5" fill="#111"/><rect x="115.85" y="308.25" width="2.5" height="2.5" fill="#111"/><rect x="118.05" y="333.75" width="2.5" height="2.5" fill="#111"/><rect x="119.85" y="331.55" width="2.5" height="2.5" fill="#111"/><rect x="122.15" y="329.15" width="2.5" height="2.5" fill="#111"/><rect x="123.95" y="344.05" width="2.5" height="2.5" fill="#111"/><rect x="126.05" y="340.35" width="2.5" height="2.5" fill="#111"/><rect x="128.25" y="345.75" width="2.5" height="2.5" fill="#111"/><rect x="130.45" y="353.05" width="2.5" height="2.5" fill="#111"/><rect x="125.85" y="340.15" width="2.5" height="2.5" fill="#111"/><rect x="128.75" y="345.65" width="2.5" height="2.5" fill="#111"/><rect x="132.65" y="361.65" width="2.5" height="2.5" fill="#111"/><rect x="133.45" y="379.45" width="2.5" height="2.5" fill="#111"/><rect x="135.15" y="388.05" width="2.5" height="2.5" fill="#111"/><rect x="137.35" y="400.15" width="2.5" height="2.5" fill="#111"/><rect x="139.15" y="415.85" width="2.5" height="2.5" fill="#111"/><rect x="141.65" y="433.05" width="2.5" height="2.5" fill="#111"/><rect x="143.75" y="440.85" width="2.5" height="2.5" fill="#111"/><rect x="145.85" y="432.75" width="2.5" height="2.5" fill="#111"/><rect x="146.65" y="435.65" width="2.5" height="2.5" fill="#111"/><rect x="149.15" y="426.65" width="2.5" height="2.5" fill="#111"/><rect x="153.05" y="420.85" width="2.5" height="2.5" fill="#111"/><rect x="154.45" y="405.85" width="2.5" height="2.5" fill="#111"/><rect x="157.35" y="386.35" width="2.5" height="2.5" fill="#111"/><rect x="160.15" y="376.15" width="2.5" height="2.5" fill="#111"/><rect x="161.65" y="371.85" width="2.5" height="2.5" fill="#111"/><rect x="164.15" y="360.15" width="2.5" height="2.5" fill="#111"/><rect x="166.65" y="339.45" width="2.5" height="2.5" fill="#111"/><rect x="169.75" y="349.05" width="2.5" height="2.5" fill="#111"/><rect x="165.95" y="338.85" width="2.5" height="2.5" fill="#111"/><rect x="167.85" y="339.35" width="2.5" height="2.5" fill="#111"/><rect x="169.55" y="349.15" width="2.5" height="2.5" fill="#111"/><rect x="171.75" y="330.15" width="2.5" height="2.5" fill="#111"/><rect x="173.65" y="331.55" width="2.5" height="2.5" fill="#111"/><rect x="175.45" y="328.65" width="2.5" height="2.5" fill="#111"/><rect x="177.65" y="325.45" width="2.5" height="2.5" fill="#111"/><rect x="181.55" y="333.45" width="2.5" height="2.5" fill="#111"/><rect x="183.45" y="332.05" width="2.5" height="2.5" fill="#111"/><rect x="185.65" y="327.65" width="2.5" height="2.5" fill="#111"/><rect x="187.35" y="318.85" width="2.5" height="2.5" fill="#111"/><rect x="189.75" y="321.35" width="2.5" height="2.5" fill="#111"/><rect x="191.45" y="326.75" width="2.5" height="2.5" fill="#111"/><rect x="193.65" y="321.85" width="2.5" height="2.5" fill="#111"/><rect x="195.55" y="318.85" width="2.5" height="2.5" fill="#111"/><rect x="197.65" y="314.05" width="2.5" height="2.5" fill="#111"/><rect x="199.55" y="324.75" width="2.5" height="2.5" fill="#111"/><rect x="201.45" y="311.55" width="2.5" height="2.5" fill="#111"/><rect x="203.45" y="325.35" width="2.5" height="2.5" fill="#111"/><rect x="205.65" y="311.45" width="2.5" height="2.5" fill="#111"/><rect x="207.25" y="326.75" width="2.5" height="2.5" fill="#111"/><rect x="209.45" y="332.65" width="2.5" height="2.5" fill="#111"/><rect x="211.15" y="322.35" width="2.5" height="2.5" fill="#111"/><rect x="213.35" y="316.55" width="2.5" height="2.5" fill="#111"/><rect x="215.15" y="317.75" width="2.5" height="2.5" fill="#111"/><rect x="217.45" y="331.55" width="2.5" height="2.5" fill="#111"/><rect x="219.25" y="321.05" width="2.5" height="2.5" fill="#111"/><rect x="221.45" y="324.75" width="2.5" height="2.5" fill="#111"/><rect x="223.35" y="329.75" width="2.5" height="2.5" fill="#111"/><rect x="225.35" y="327.95" width="2.5" height="2.5" fill="#111"/><rect x="226.85" y="341.35" width="2.5" height="2.5" fill="#111"/><rect x="229.15" y="352.45" width="2.5" height="2.5" fill="#111"/><rect x="231.65" y="344.25" width="2.5" height="2.5" fill="#111"/><rect x="233.55" y="344.05" width="2.5" height="2.5" fill="#111"/><rect x="226.65" y="341.35" width="2.5" height="2.5" fill="#111"/><rect x="232.35" y="344.15" width="2.5" height="2.5" fill="#111"/><rect x="235.85" y="366.65" width="2.5" height="2.5" fill="#111"/><rect x="236.65" y="385.85" width="2.5" height="2.5" fill="#111"/><rect x="238.05" y="406.65" width="2.5" height="2.5" fill="#111"/><rect x="240.15" y="430.15" width="2.5" height="2.5" fill="#111"/><rect x="242.35" y="445.15" width="2.5" height="2.5" fill="#111"/><rect x="246.15" y="437.35" width="2.5" height="2.5" fill="#111"/><rect x="248.35" y="415.85" width="2.5" height="2.5" fill="#111"/><rect x="250.15" y="395.85" width="2.5" height="2.5" fill="#111"/><rect x="252.35" y="380.15" width="2.5" height="2.5" fill="#111"/><rect x="254.15" y="365.15" width="2.5" height="2.5" fill="#111"/><rect x="257.75" y="361.35" width="2.5" height="2.5" fill="#111"/><rect x="259.75" y="353.05" width="2.5" height="2.5" fill="#111"/><rect x="261.15" y="357.35" width="2.5" height="2.5" fill="#111"/><rect x="263.75" y="340.45" width="2.5" height="2.5" fill="#111"/><rect x="259.35" y="353.05" width="2.5" height="2.5" fill="#111"/><rect x="263.45" y="340.65" width="2.5" height="2.5" fill="#111"/><rect x="264.95" y="329.45" width="2.5" height="2.5" fill="#111"/><rect x="267.15" y="336.95" width="2.5" height="2.5" fill="#111"/><rect x="268.85" y="326.65" width="2.5" height="2.5" fill="#111"/><rect x="271.15" y="335.05" width="2.5" height="2.5" fill="#111"/><rect x="275.05" y="328.25" width="2.5" height="2.5" fill="#111"/><rect x="277.05" y="314.85" width="2.5" height="2.5" fill="#111"/><rect x="279.15" y="326.05" width="2.5" height="2.5" fill="#111"/><rect x="281.25" y="315.05" width="2.5" height="2.5" fill="#111"/><rect x="283.15" y="321.65" width="2.5" height="2.5" fill="#111"/><rect x="285.05" y="317.05" width="2.5" height="2.5" fill="#111"/><rect x="286.85" y="328.85" width="2.5" height="2.5" fill="#111"/><rect x="289.75" y="319.55" width="2.5" height="2.5" fill="#111"/><rect x="290.95" y="316.45" width="2.5" height="2.5" fill="#111"/><rect x="292.85" y="315.05" width="2.5" height="2.5" fill="#111"/><rect x="294.95" y="329.75" width="2.5" height="2.5" fill="#111"/><rect x="296.85" y="321.25" width="2.5" height="2.5" fill="#111"/><rect x="299.05" y="324.55" width="2.5" height="2.5" fill="#111"/><rect x="300.65" y="316.05" width="2.5" height="2.5" fill="#111"/><rect x="302.75" y="322.95" width="2.5" height="2.5" fill="#111"/><rect x="304.65" y="324.75" width="2.5" height="2.5" fill="#111"/><rect x="306.85" y="319.15" width="2.5" height="2.5" fill="#111"/><rect x="308.95" y="315.05" width="2.5" height="2.5" fill="#111"/><rect x="310.85" y="304.25" width="2.5" height="2.5" fill="#111"/><rect x="312.65" y="310.45" width="2.5" height="2.5" fill="#111"/><rect x="314.55" y="317.95" width="2.5" height="2.5" fill="#111"/><rect x="316.75" y="320.05" width="2.5" height="2.5" fill="#111"/><rect x="318.55" y="318.55" width="2.5" height="2.5" fill="#111"/><rect x="320.75" y="305.15" width="2.5" height="2.5" fill="#111"/><rect x="322.65" y="317.75" width="2.5" height="2.5" fill="#111"/><rect x="324.75" y="313.35" width="2.5" height="2.5" fill="#111"/><polyline points="67.28,316.23 68.27,316.29 69.27,316.35 70.27,316.41 71.26,316.48 72.26,316.55 73.25,316.62 74.25,316.69 75.25,316.77 76.24,316.85 77.24,316.93 78.24,317.02 79.23,317.11 80.23,317.2 81.22,317.3 82.22,317.4 83.22,317.51 84.21,317.62 85.21,317.74 86.21,317.86 87.2,317.98 88.2,318.12 89.19,318.25 90.19,318.4 91.19,318.55 92.18,318.71 93.18,318.88 94.18,319.06 95.17,319.25 96.17,319.45 97.16,319.65 98.16,319.87 99.16,320.11 100.15,320.35 101.15,320.61 102.15,320.89 103.14,321.18 104.14,321.5 105.13,321.83 106.13,322.18 107.13,322.56 108.12,322.97 109.12,323.4 110.12,323.87 111.11,324.36 112.11,324.9 113.1,325.48 114.1,326.1 115.1,326.77 116.09,327.5 117.09,328.29 118.09,329.15 119.08,330.09 120.08,331.11 121.07,332.23 122.07,333.46 123.07,334.8 124.06,336.28 125.06,337.92 126.06,339.73 127.05,341.73 128.05,343.96 129.04,346.43 130.04,349.19 131.04,352.27 132.03,355.71 133.03,359.55 134.03,363.84 135.02,368.61 136.02,373.92 137.01,379.79 138.01,386.22 139.01,393.19 140,400.62 141,408.36 142,416.18 142.99,423.74 143.99,430.61 144.98,436.32 145.98,440.38 146.98,442.41 147.97,442.21 148.97,439.81 149.97,435.45 150.96,429.53 151.96,422.54 152.95,414.96 153.95,407.19 154.95,399.56 155.94,392.27 156.94,385.47 157.94,379.21 158.93,373.52 159.93,368.38 160.92,363.77 161.92,359.64 162.92,355.95 163.91,352.66 164.91,349.72 165.91,347.09 166.9,344.74 167.9,342.64 168.89,340.75 169.89,339.05 170.89,337.53 171.88,336.16 172.88,334.92 173.88,333.81 174.87,332.8 175.87,331.89 176.86,331.06 177.86,330.31 178.86,329.63 179.85,329.02 180.85,328.47 181.85,327.97 182.84,327.51 183.84,327.11 184.83,326.74 185.83,326.42 186.83,326.13 187.82,325.87 188.82,325.65 189.82,325.45 190.81,325.29 191.81,325.15 192.8,325.04 193.8,324.95 194.8,324.89 195.79,324.86 196.79,324.84 197.79,324.86 198.78,324.9 199.78,324.96 200.77,325.05 201.77,325.16 202.77,325.3 203.76,325.47 204.76,325.66 205.76,325.89 206.75,326.14 207.75,326.43 208.74,326.76 209.74,327.12 210.74,327.53 211.73,327.98 212.73,328.47 213.73,329.02 214.72,329.63 215.72,330.3 216.71,331.03 217.71,331.84 218.71,332.74 219.7,333.73 220.7,334.82 221.7,336.02 222.69,337.36 223.69,338.84 224.68,340.48 225.68,342.31 226.68,344.35 227.67,346.62 228.67,349.15 229.67,351.99 230.66,355.16 231.66,358.71 232.65,362.69 233.65,367.14 234.65,372.1 235.64,377.63 236.64,383.74 237.64,390.45 238.63,397.73 239.63,405.49 240.62,413.58 241.62,421.75 242.62,429.64 243.61,436.82 244.61,442.76 245.61,446.98 246.6,449.06 247.6,448.79 248.59,446.21 249.59,441.55 250.59,435.26 251.58,427.85 252.58,419.8 253.58,411.57 254.57,403.47 255.57,395.74 256.56,388.52 257.56,381.87 258.56,375.81 259.55,370.34 260.55,365.42 261.55,361 262.54,357.05 263.54,353.51 264.53,350.35 265.53,347.51 266.53,344.96 267.52,342.67 268.52,340.6 269.52,338.74 270.51,337.05 271.51,335.53 272.5,334.14 273.5,332.87 274.5,331.72 275.49,330.66 276.49,329.69 277.49,328.81 278.48,327.99 279.48,327.23 280.47,326.54 281.47,325.89 282.47,325.3 283.46,324.74 284.46,324.22 285.46,323.74 286.45,323.29 287.45,322.88 288.44,322.48 289.44,322.12 290.44,321.77 291.43,321.45 292.43,321.14 293.43,320.86 294.42,320.59 295.42,320.33 296.41,320.09 297.41,319.86 298.41,319.64 299.4,319.44 300.4,319.25 301.4,319.06 302.39,318.89 303.39,318.72 304.38,318.56 305.38,318.41 306.38,318.26 307.37,318.13 308.37,318 309.37,317.87 310.36,317.75 311.36,317.64 312.35,317.53 313.35,317.42 314.35,317.32 315.34,317.22 316.34,317.13 317.34,317.04 318.33,316.95 319.33,316.87 320.32,316.79 321.32,316.71 322.32,316.64 323.31,316.57 324.31,316.5 325.31,316.43 326.3,316.37" fill="none" stroke="#6badd8" stroke-width="2.4" stroke-linejoin="round" stroke-linecap="round"/><text x="67.5" y="296.8" font-size="14" text-anchor="start" fill="#000">B = 217 G</text><text x="199.5" y="509.2" font-size="14" text-anchor="middle" fill="#000">Frequency (MHz)</text><text x="20.8" y="382.4" font-size="14" text-anchor="middle" fill="#000" transform="rotate(-90 20.8 382.4)">ΔPL/PL</text><text x="-0.9" y="273.5" font-size="18" text-anchor="start" fill="#000" letter-spacing="1.4">(c)</text><g transform="translate(113.9,454.2)"><line x1="1" y1="-6.1" x2="1" y2="6.3" stroke="#e47bc0" stroke-width="1.9" stroke-linecap="butt"/><line x1="2.9" y1="0" x2="11.7" y2="0" stroke="#e47bc0" stroke-width="2.1" stroke-linecap="butt"/><line x1="15.4" y1="-4.8" x2="15.4" y2="4" stroke="#e47bc0" stroke-width="2.0" stroke-linecap="butt"/><line x1="15.6" y1="-4.6" x2="13" y2="-2.9" stroke="#e47bc0" stroke-width="1.7" stroke-linecap="butt"/><line x1="12.8" y1="3.3" x2="17.8" y2="3.3" stroke="#e47bc0" stroke-width="1.5" stroke-linecap="butt"/><line x1="20.25" y1="1.2" x2="19.35" y2="5.8" stroke="#e47bc0" stroke-width="2.0" stroke-linecap="butt"/><line x1="26" y1="-5.5" x2="26" y2="5.5" stroke="#e47bc0" stroke-width="1.9" stroke-linecap="butt"/><polyline points="23.4,-2.3 26,-5.4 28.6,-2.3" fill="none" stroke="#e47bc0" stroke-width="1.8" stroke-linejoin="miter" stroke-miterlimit="6"/><polyline points="29.9,-5.9 31.7,-0.1 29.9,5.8" fill="none" stroke="#e47bc0" stroke-width="1.8" stroke-linejoin="miter" stroke-miterlimit="6"/><polygon points="31.7,0 39.9,-4.9 37.9,0 39.9,4.9" fill="#e47bc0"/><line x1="37.7" y1="0" x2="43.9" y2="0" stroke="#e47bc0" stroke-width="1.6" stroke-linecap="butt"/><polygon points="49.9,0 41.7,-4.9 43.7,0 41.7,4.9" fill="#e47bc0"/><line x1="51.2" y1="-6.1" x2="51.2" y2="6.3" stroke="#e47bc0" stroke-width="1.9" stroke-linecap="butt"/><ellipse cx="54.95" cy="-0.2" rx="1.4" ry="3.75" fill="none" stroke="#e47bc0" stroke-width="1.95"/><line x1="59.45" y1="1.2" x2="58.55" y2="5.8" stroke="#e47bc0" stroke-width="2.0" stroke-linecap="butt"/><line x1="65.1" y1="-5.5" x2="65.1" y2="5.5" stroke="#e47bc0" stroke-width="1.9" stroke-linecap="butt"/><polyline points="62.5,-2.3 65.1,-5.4 67.7,-2.3" fill="none" stroke="#e47bc0" stroke-width="1.8" stroke-linejoin="miter" stroke-miterlimit="6"/><polyline points="69,-5.9 70.8,-0.1 69,5.8" fill="none" stroke="#e47bc0" stroke-width="1.8" stroke-linejoin="miter" stroke-miterlimit="6"/></g><g transform="translate(213.7,459.8)"><line x1="1" y1="-6.1" x2="1" y2="6.3" stroke="#f4834f" stroke-width="1.9" stroke-linecap="butt"/><line x1="2.9" y1="0" x2="11.7" y2="0" stroke="#f4834f" stroke-width="2.1" stroke-linecap="butt"/><line x1="15.4" y1="-4.8" x2="15.4" y2="4" stroke="#f4834f" stroke-width="2.0" stroke-linecap="butt"/><line x1="15.6" y1="-4.6" x2="13" y2="-2.9" stroke="#f4834f" stroke-width="1.7" stroke-linecap="butt"/><line x1="12.8" y1="3.3" x2="17.8" y2="3.3" stroke="#f4834f" stroke-width="1.5" stroke-linecap="butt"/><line x1="20.25" y1="1.2" x2="19.35" y2="5.8" stroke="#f4834f" stroke-width="2.0" stroke-linecap="butt"/><line x1="26" y1="-5.5" x2="26" y2="5.5" stroke="#f4834f" stroke-width="1.9" stroke-linecap="butt"/><polyline points="23.4,2.3 26,5.4 28.6,2.3" fill="none" stroke="#f4834f" stroke-width="1.8" stroke-linejoin="miter" stroke-miterlimit="6"/><polyline points="29.9,-5.9 31.7,-0.1 29.9,5.8" fill="none" stroke="#f4834f" stroke-width="1.8" stroke-linejoin="miter" stroke-miterlimit="6"/><polygon points="31.7,0 39.9,-4.9 37.9,0 39.9,4.9" fill="#f4834f"/><line x1="37.7" y1="0" x2="43.9" y2="0" stroke="#f4834f" stroke-width="1.6" stroke-linecap="butt"/><polygon points="49.9,0 41.7,-4.9 43.7,0 41.7,4.9" fill="#f4834f"/><line x1="51.2" y1="-6.1" x2="51.2" y2="6.3" stroke="#f4834f" stroke-width="1.9" stroke-linecap="butt"/><ellipse cx="54.95" cy="-0.2" rx="1.4" ry="3.75" fill="none" stroke="#f4834f" stroke-width="1.95"/><line x1="59.45" y1="1.2" x2="58.55" y2="5.8" stroke="#f4834f" stroke-width="2.0" stroke-linecap="butt"/><line x1="65.1" y1="-5.5" x2="65.1" y2="5.5" stroke="#f4834f" stroke-width="1.9" stroke-linecap="butt"/><polyline points="62.5,-2.3 65.1,-5.4 67.7,-2.3" fill="none" stroke="#f4834f" stroke-width="1.8" stroke-linejoin="miter" stroke-miterlimit="6"/><polyline points="69,-5.9 70.8,-0.1 69,5.8" fill="none" stroke="#f4834f" stroke-width="1.8" stroke-linejoin="miter" stroke-miterlimit="6"/></g><rect x="405.9" y="278" width="277.4" height="204.2" fill="none" stroke="#222" stroke-width="1.3"/><line x1="405.9" y1="297.9" x2="410.3" y2="297.9" stroke="#222" stroke-width="1.3"/><text x="401.8" y="300" font-size="10" text-anchor="end" fill="#000">0.00</text><line x1="405.9" y1="349" x2="410.3" y2="349" stroke="#222" stroke-width="1.3"/><text x="401.8" y="351.1" font-size="10" text-anchor="end" fill="#000">-0.05</text><line x1="405.9" y1="400.1" x2="410.3" y2="400.1" stroke="#222" stroke-width="1.3"/><text x="401.8" y="402.2" font-size="10" text-anchor="end" fill="#000">-0.10</text><line x1="405.9" y1="451.2" x2="410.3" y2="451.2" stroke="#222" stroke-width="1.3"/><text x="401.8" y="453.3" font-size="10" text-anchor="end" fill="#000">-0.15</text><line x1="405.9" y1="323.45" x2="408.5" y2="323.45" stroke="#222" stroke-width="1.3"/><line x1="405.9" y1="374.55" x2="408.5" y2="374.55" stroke="#222" stroke-width="1.3"/><line x1="405.9" y1="425.65" x2="408.5" y2="425.65" stroke="#222" stroke-width="1.3"/><line x1="405.9" y1="476.75" x2="408.5" y2="476.75" stroke="#222" stroke-width="1.3"/><line x1="406.3" y1="482.2" x2="406.3" y2="477.8" stroke="#222" stroke-width="1.3"/><text x="407.9" y="492.9" font-size="10" text-anchor="middle" fill="#000">0.0</text><line x1="459" y1="482.2" x2="459" y2="477.8" stroke="#222" stroke-width="1.3"/><text x="460.6" y="492.9" font-size="10" text-anchor="middle" fill="#000">0.2</text><line x1="511.7" y1="482.2" x2="511.7" y2="477.8" stroke="#222" stroke-width="1.3"/><text x="513.3" y="492.9" font-size="10" text-anchor="middle" fill="#000">0.4</text><line x1="564.4" y1="482.2" x2="564.4" y2="477.8" stroke="#222" stroke-width="1.3"/><text x="566" y="492.9" font-size="10" text-anchor="middle" fill="#000">0.6</text><line x1="617.1" y1="482.2" x2="617.1" y2="477.8" stroke="#222" stroke-width="1.3"/><text x="618.7" y="492.9" font-size="10" text-anchor="middle" fill="#000">0.8</text><line x1="669.8" y1="482.2" x2="669.8" y2="477.8" stroke="#222" stroke-width="1.3"/><text x="671.4" y="492.9" font-size="10" text-anchor="middle" fill="#000">1.0</text><line x1="432.65" y1="482.2" x2="432.65" y2="479.6" stroke="#222" stroke-width="1.3"/><line x1="485.35" y1="482.2" x2="485.35" y2="479.6" stroke="#222" stroke-width="1.3"/><line x1="538.05" y1="482.2" x2="538.05" y2="479.6" stroke="#222" stroke-width="1.3"/><line x1="590.75" y1="482.2" x2="590.75" y2="479.6" stroke="#222" stroke-width="1.3"/><line x1="643.45" y1="482.2" x2="643.45" y2="479.6" stroke="#222" stroke-width="1.3"/><rect x="409.7" y="318.5" width="2.2" height="2.2" fill="#df7ccb"/><rect x="415.6" y="336.5" width="2.2" height="2.2" fill="#df7ccb"/><rect x="420.3" y="341.2" width="2.2" height="2.2" fill="#df7ccb"/><rect x="425.6" y="351.7" width="2.2" height="2.2" fill="#df7ccb"/><rect x="436.6" y="374.6" width="2.2" height="2.2" fill="#df7ccb"/><rect x="441.8" y="381.6" width="2.2" height="2.2" fill="#df7ccb"/><rect x="447.1" y="401.9" width="2.2" height="2.2" fill="#df7ccb"/><rect x="452.5" y="432.3" width="2.2" height="2.2" fill="#df7ccb"/><rect x="457.7" y="437" width="2.2" height="2.2" fill="#df7ccb"/><rect x="463.5" y="408.3" width="2.2" height="2.2" fill="#df7ccb"/><rect x="468.7" y="412.9" width="2.2" height="2.2" fill="#df7ccb"/><rect x="473.6" y="396.1" width="2.2" height="2.2" fill="#df7ccb"/><rect x="479.2" y="368.1" width="2.2" height="2.2" fill="#df7ccb"/><rect x="490.4" y="333" width="2.2" height="2.2" fill="#df7ccb"/><rect x="500.1" y="311.5" width="2.2" height="2.2" fill="#df7ccb"/><rect x="505.3" y="332.3" width="2.2" height="2.2" fill="#df7ccb"/><rect x="511.1" y="326.7" width="2.2" height="2.2" fill="#df7ccb"/><rect x="516.5" y="329.9" width="2.2" height="2.2" fill="#df7ccb"/><rect x="521.2" y="322.5" width="2.2" height="2.2" fill="#df7ccb"/><rect x="526.8" y="315.5" width="2.2" height="2.2" fill="#df7ccb"/><rect x="532.1" y="371.6" width="2.2" height="2.2" fill="#df7ccb"/><rect x="547.3" y="400.8" width="2.2" height="2.2" fill="#df7ccb"/><rect x="553.2" y="404.8" width="2.2" height="2.2" fill="#df7ccb"/><rect x="558.6" y="425.8" width="2.2" height="2.2" fill="#df7ccb"/><rect x="563.7" y="405.5" width="2.2" height="2.2" fill="#df7ccb"/><rect x="584.7" y="337" width="2.2" height="2.2" fill="#df7ccb"/><rect x="596" y="326.5" width="2.2" height="2.2" fill="#df7ccb"/><rect x="600.8" y="320.9" width="2.2" height="2.2" fill="#df7ccb"/><rect x="606.3" y="298.6" width="2.2" height="2.2" fill="#df7ccb"/><rect x="617.1" y="301.7" width="2.2" height="2.2" fill="#df7ccb"/><rect x="611.9" y="314.4" width="2.2" height="2.2" fill="#df7ccb"/><rect x="623.1" y="343.3" width="2.2" height="2.2" fill="#df7ccb"/><rect x="627.9" y="343.7" width="2.2" height="2.2" fill="#df7ccb"/><rect x="632.7" y="376.2" width="2.2" height="2.2" fill="#df7ccb"/><rect x="643.5" y="387.4" width="2.2" height="2.2" fill="#df7ccb"/><rect x="659.2" y="417.7" width="2.2" height="2.2" fill="#df7ccb"/><rect x="664.7" y="413.9" width="2.2" height="2.2" fill="#df7ccb"/><rect x="670" y="389.4" width="2.2" height="2.2" fill="#df7ccb"/><rect x="675.2" y="351.4" width="2.2" height="2.2" fill="#df7ccb"/><line x1="407.6" y1="328.2" x2="414" y2="328.2" stroke="#f98a59" stroke-width="1.4"/><line x1="410.8" y1="325" x2="410.8" y2="331.4" stroke="#f98a59" stroke-width="1.4"/><line x1="413" y1="329.9" x2="419.4" y2="329.9" stroke="#f98a59" stroke-width="1.4"/><line x1="416.2" y1="326.7" x2="416.2" y2="333.1" stroke="#f98a59" stroke-width="1.4"/><line x1="418.6" y1="335.3" x2="425" y2="335.3" stroke="#f98a59" stroke-width="1.4"/><line x1="421.8" y1="332.1" x2="421.8" y2="338.5" stroke="#f98a59" stroke-width="1.4"/><line x1="424" y1="324.3" x2="430.4" y2="324.3" stroke="#f98a59" stroke-width="1.4"/><line x1="427.2" y1="321.1" x2="427.2" y2="327.5" stroke="#f98a59" stroke-width="1.4"/><line x1="429.4" y1="373.8" x2="435.8" y2="373.8" stroke="#f98a59" stroke-width="1.4"/><line x1="432.6" y1="370.6" x2="432.6" y2="377" stroke="#f98a59" stroke-width="1.4"/><line x1="434.5" y1="410.5" x2="440.9" y2="410.5" stroke="#f98a59" stroke-width="1.4"/><line x1="437.7" y1="407.3" x2="437.7" y2="413.7" stroke="#f98a59" stroke-width="1.4"/><line x1="440.4" y1="413.1" x2="446.8" y2="413.1" stroke="#f98a59" stroke-width="1.4"/><line x1="443.6" y1="409.9" x2="443.6" y2="416.3" stroke="#f98a59" stroke-width="1.4"/><line x1="450.4" y1="426.4" x2="456.8" y2="426.4" stroke="#f98a59" stroke-width="1.4"/><line x1="453.6" y1="423.2" x2="453.6" y2="429.6" stroke="#f98a59" stroke-width="1.4"/><line x1="445" y1="449.8" x2="451.4" y2="449.8" stroke="#f98a59" stroke-width="1.4"/><line x1="448.2" y1="446.6" x2="448.2" y2="453" stroke="#f98a59" stroke-width="1.4"/><line x1="455.6" y1="448.6" x2="462" y2="448.6" stroke="#f98a59" stroke-width="1.4"/><line x1="458.8" y1="445.4" x2="458.8" y2="451.8" stroke="#f98a59" stroke-width="1.4"/><line x1="460.9" y1="454.5" x2="467.3" y2="454.5" stroke="#f98a59" stroke-width="1.4"/><line x1="464.1" y1="451.3" x2="464.1" y2="457.7" stroke="#f98a59" stroke-width="1.4"/><line x1="466.6" y1="448.6" x2="473" y2="448.6" stroke="#f98a59" stroke-width="1.4"/><line x1="469.8" y1="445.4" x2="469.8" y2="451.8" stroke="#f98a59" stroke-width="1.4"/><line x1="471.5" y1="435.8" x2="477.9" y2="435.8" stroke="#f98a59" stroke-width="1.4"/><line x1="474.7" y1="432.6" x2="474.7" y2="439" stroke="#f98a59" stroke-width="1.4"/><line x1="477.1" y1="386.7" x2="483.5" y2="386.7" stroke="#f98a59" stroke-width="1.4"/><line x1="480.3" y1="383.5" x2="480.3" y2="389.9" stroke="#f98a59" stroke-width="1.4"/><line x1="482.4" y1="367.3" x2="488.8" y2="367.3" stroke="#f98a59" stroke-width="1.4"/><line x1="485.6" y1="364.1" x2="485.6" y2="370.5" stroke="#f98a59" stroke-width="1.4"/><line x1="487.8" y1="376.2" x2="494.2" y2="376.2" stroke="#f98a59" stroke-width="1.4"/><line x1="491" y1="373" x2="491" y2="379.4" stroke="#f98a59" stroke-width="1.4"/><line x1="491.1" y1="309.5" x2="497.5" y2="309.5" stroke="#f98a59" stroke-width="1.4"/><line x1="494.3" y1="306.3" x2="494.3" y2="312.7" stroke="#f98a59" stroke-width="1.4"/><line x1="498" y1="327.1" x2="504.4" y2="327.1" stroke="#f98a59" stroke-width="1.4"/><line x1="501.2" y1="323.9" x2="501.2" y2="330.3" stroke="#f98a59" stroke-width="1.4"/><line x1="503.6" y1="319.6" x2="510" y2="319.6" stroke="#f98a59" stroke-width="1.4"/><line x1="506.8" y1="316.4" x2="506.8" y2="322.8" stroke="#f98a59" stroke-width="1.4"/><line x1="509" y1="315.4" x2="515.4" y2="315.4" stroke="#f98a59" stroke-width="1.4"/><line x1="512.2" y1="312.2" x2="512.2" y2="318.6" stroke="#f98a59" stroke-width="1.4"/><line x1="513.7" y1="336.4" x2="520.1" y2="336.4" stroke="#f98a59" stroke-width="1.4"/><line x1="516.9" y1="333.2" x2="516.9" y2="339.6" stroke="#f98a59" stroke-width="1.4"/><line x1="519.1" y1="341.8" x2="525.5" y2="341.8" stroke="#f98a59" stroke-width="1.4"/><line x1="522.3" y1="338.6" x2="522.3" y2="345" stroke="#f98a59" stroke-width="1.4"/><line x1="529.6" y1="346.9" x2="536" y2="346.9" stroke="#f98a59" stroke-width="1.4"/><line x1="532.8" y1="343.7" x2="532.8" y2="350.1" stroke="#f98a59" stroke-width="1.4"/><line x1="524.2" y1="375" x2="530.6" y2="375" stroke="#f98a59" stroke-width="1.4"/><line x1="527.4" y1="371.8" x2="527.4" y2="378.2" stroke="#f98a59" stroke-width="1.4"/><line x1="534.7" y1="387.4" x2="541.1" y2="387.4" stroke="#f98a59" stroke-width="1.4"/><line x1="537.9" y1="384.2" x2="537.9" y2="390.6" stroke="#f98a59" stroke-width="1.4"/><line x1="540.6" y1="426" x2="547" y2="426" stroke="#f98a59" stroke-width="1.4"/><line x1="543.8" y1="422.8" x2="543.8" y2="429.2" stroke="#f98a59" stroke-width="1.4"/><line x1="546.4" y1="425.3" x2="552.8" y2="425.3" stroke="#f98a59" stroke-width="1.4"/><line x1="549.6" y1="422.1" x2="549.6" y2="428.5" stroke="#f98a59" stroke-width="1.4"/><line x1="551.1" y1="456.8" x2="557.5" y2="456.8" stroke="#f98a59" stroke-width="1.4"/><line x1="554.3" y1="453.6" x2="554.3" y2="460" stroke="#f98a59" stroke-width="1.4"/><line x1="555.8" y1="444" x2="562.2" y2="444" stroke="#f98a59" stroke-width="1.4"/><line x1="559" y1="440.8" x2="559" y2="447.2" stroke="#f98a59" stroke-width="1.4"/><line x1="561.6" y1="418.2" x2="568" y2="418.2" stroke="#f98a59" stroke-width="1.4"/><line x1="564.8" y1="415" x2="564.8" y2="421.4" stroke="#f98a59" stroke-width="1.4"/><line x1="567" y1="444" x2="573.4" y2="444" stroke="#f98a59" stroke-width="1.4"/><line x1="570.2" y1="440.8" x2="570.2" y2="447.2" stroke="#f98a59" stroke-width="1.4"/><line x1="572.8" y1="393.7" x2="579.2" y2="393.7" stroke="#f98a59" stroke-width="1.4"/><line x1="576" y1="390.5" x2="576" y2="396.9" stroke="#f98a59" stroke-width="1.4"/><line x1="576.1" y1="355.6" x2="582.5" y2="355.6" stroke="#f98a59" stroke-width="1.4"/><line x1="579.3" y1="352.4" x2="579.3" y2="358.8" stroke="#f98a59" stroke-width="1.4"/><line x1="577.8" y1="356.4" x2="584.2" y2="356.4" stroke="#f98a59" stroke-width="1.4"/><line x1="581" y1="353.2" x2="581" y2="359.6" stroke="#f98a59" stroke-width="1.4"/><line x1="583.3" y1="362.9" x2="589.7" y2="362.9" stroke="#f98a59" stroke-width="1.4"/><line x1="586.5" y1="359.7" x2="586.5" y2="366.1" stroke="#f98a59" stroke-width="1.4"/><line x1="588.6" y1="345.3" x2="595" y2="345.3" stroke="#f98a59" stroke-width="1.4"/><line x1="591.8" y1="342.1" x2="591.8" y2="348.5" stroke="#f98a59" stroke-width="1.4"/><line x1="593.4" y1="304.7" x2="599.8" y2="304.7" stroke="#f98a59" stroke-width="1.4"/><line x1="596.6" y1="301.5" x2="596.6" y2="307.9" stroke="#f98a59" stroke-width="1.4"/><line x1="598.9" y1="308.8" x2="605.3" y2="308.8" stroke="#f98a59" stroke-width="1.4"/><line x1="602.1" y1="305.6" x2="602.1" y2="312" stroke="#f98a59" stroke-width="1.4"/><line x1="604.2" y1="292" x2="610.6" y2="292" stroke="#f98a59" stroke-width="1.4"/><line x1="607.4" y1="288.8" x2="607.4" y2="295.2" stroke="#f98a59" stroke-width="1.4"/><line x1="609" y1="332.4" x2="615.4" y2="332.4" stroke="#f98a59" stroke-width="1.4"/><line x1="612.2" y1="329.2" x2="612.2" y2="335.6" stroke="#f98a59" stroke-width="1.4"/><line x1="614.5" y1="337.6" x2="620.9" y2="337.6" stroke="#f98a59" stroke-width="1.4"/><line x1="617.7" y1="334.4" x2="617.7" y2="340.8" stroke="#f98a59" stroke-width="1.4"/><line x1="619.8" y1="340" x2="626.2" y2="340" stroke="#f98a59" stroke-width="1.4"/><line x1="623" y1="336.8" x2="623" y2="343.2" stroke="#f98a59" stroke-width="1.4"/><line x1="625.8" y1="362.9" x2="632.2" y2="362.9" stroke="#f98a59" stroke-width="1.4"/><line x1="629" y1="359.7" x2="629" y2="366.1" stroke="#f98a59" stroke-width="1.4"/><line x1="630.6" y1="418.6" x2="637" y2="418.6" stroke="#f98a59" stroke-width="1.4"/><line x1="633.8" y1="415.4" x2="633.8" y2="421.8" stroke="#f98a59" stroke-width="1.4"/><line x1="636.2" y1="434.9" x2="642.6" y2="434.9" stroke="#f98a59" stroke-width="1.4"/><line x1="639.4" y1="431.7" x2="639.4" y2="438.1" stroke="#f98a59" stroke-width="1.4"/><line x1="641.4" y1="451.7" x2="647.8" y2="451.7" stroke="#f98a59" stroke-width="1.4"/><line x1="644.6" y1="448.5" x2="644.6" y2="454.9" stroke="#f98a59" stroke-width="1.4"/><line x1="646.7" y1="418.8" x2="653.1" y2="418.8" stroke="#f98a59" stroke-width="1.4"/><line x1="649.9" y1="415.6" x2="649.9" y2="422" stroke="#f98a59" stroke-width="1.4"/><line x1="652.3" y1="434.4" x2="658.7" y2="434.4" stroke="#f98a59" stroke-width="1.4"/><line x1="655.5" y1="431.2" x2="655.5" y2="437.6" stroke="#f98a59" stroke-width="1.4"/><line x1="657.8" y1="434.4" x2="664.2" y2="434.4" stroke="#f98a59" stroke-width="1.4"/><line x1="661" y1="431.2" x2="661" y2="437.6" stroke="#f98a59" stroke-width="1.4"/><line x1="662.6" y1="425.8" x2="669" y2="425.8" stroke="#f98a59" stroke-width="1.4"/><line x1="665.8" y1="422.6" x2="665.8" y2="429" stroke="#f98a59" stroke-width="1.4"/><line x1="667.9" y1="407.3" x2="674.3" y2="407.3" stroke="#f98a59" stroke-width="1.4"/><line x1="671.1" y1="404.1" x2="671.1" y2="410.5" stroke="#f98a59" stroke-width="1.4"/><line x1="673.1" y1="380.4" x2="679.5" y2="380.4" stroke="#f98a59" stroke-width="1.4"/><line x1="676.3" y1="377.2" x2="676.3" y2="383.6" stroke="#f98a59" stroke-width="1.4"/><polyline points="410.41,313.58 411.46,314.04 412.52,314.72 413.57,315.64 414.63,316.77 415.68,318.12 416.73,319.69 417.79,321.46 418.84,323.42 419.9,325.58 420.95,327.91 422,330.41 423.06,333.06 424.11,335.86 425.17,338.79 426.22,341.84 427.27,344.99 428.33,348.24 429.38,351.56 430.44,354.94 431.49,358.36 432.54,361.82 433.6,365.29 434.65,368.76 435.71,372.22 436.76,375.64 437.81,379.01 438.87,382.33 439.92,385.56 440.98,388.7 442.03,391.74 443.08,394.66 444.14,397.44 445.19,400.08 446.25,402.56 447.3,404.87 448.35,407 449.41,408.94 450.46,410.69 451.52,412.23 452.57,413.56 453.62,414.67 454.68,415.56 455.73,416.22 456.79,416.65 457.84,416.85 458.89,416.81 459.95,416.54 461,416.04 462.06,415.32 463.11,414.36 464.16,413.18 465.22,411.79 466.27,410.19 467.33,408.38 468.38,406.38 469.43,404.19 470.49,401.83 471.54,399.3 472.6,396.62 473.65,393.79 474.7,390.84 475.76,387.77 476.81,384.6 477.87,381.34 478.92,378.01 479.97,374.62 481.03,371.18 482.08,367.72 483.14,364.25 484.19,360.78 485.24,357.33 486.3,353.92 487.35,350.55 488.41,347.25 489.46,344.04 490.51,340.91 491.57,337.9 492.62,335 493.68,332.25 494.73,329.64 495.78,327.19 496.84,324.91 497.89,322.81 498.95,320.91 500,319.2 501.05,317.7 502.11,316.41 503.16,315.34 504.22,314.49 505.27,313.88 506.32,313.49 507.38,313.34 508.43,313.41 509.49,313.73 510.54,314.27 511.59,315.04 512.65,316.04 513.7,317.25 514.76,318.69 515.81,320.33 516.86,322.17 517.92,324.21 518.97,326.43 520.03,328.83 521.08,331.38 522.13,334.09 523.19,336.94 524.24,339.92 525.3,343.01 526.35,346.2 527.4,349.47 528.46,352.82 529.51,356.22 530.57,359.66 531.62,363.12 532.67,366.59 533.73,370.06 534.78,373.51 535.84,376.91 536.89,380.26 537.94,383.55 539,386.75 540.05,389.86 541.11,392.85 542.16,395.72 543.21,398.45 544.27,401.03 545.32,403.44 546.38,405.69 547.43,407.75 548.48,409.62 549.54,411.29 550.59,412.75 551.65,414 552.7,415.03 553.75,415.83 554.81,416.41 555.86,416.75 556.92,416.86 557.97,416.74 559.02,416.38 560.08,415.8 561.13,414.98 562.19,413.95 563.24,412.69 564.29,411.21 565.35,409.53 566.4,407.65 567.46,405.58 568.51,403.33 569.56,400.9 570.62,398.31 571.67,395.58 572.73,392.7 573.78,389.7 574.83,386.59 575.89,383.39 576.94,380.1 578,376.74 579.05,373.33 580.1,369.89 581.16,366.42 582.21,362.95 583.27,359.48 584.32,356.05 585.37,352.65 586.43,349.31 587.48,346.04 588.54,342.85 589.59,339.77 590.64,336.8 591.7,333.95 592.75,331.25 593.81,328.7 594.86,326.31 595.91,324.1 596.97,322.08 598.02,320.24 599.08,318.61 600.13,317.19 601.18,315.98 602.24,315 603.29,314.24 604.35,313.7 605.4,313.4 606.45,313.34 607.51,313.5 608.56,313.9 609.62,314.53 610.67,315.39 611.72,316.47 612.78,317.77 613.83,319.28 614.89,321 615.94,322.91 616.99,325.02 618.05,327.31 619.1,329.77 620.16,332.38 621.21,335.15 622.26,338.05 623.32,341.07 624.37,344.19 625.43,347.42 626.48,350.72 627.53,354.09 628.59,357.5 629.64,360.95 630.7,364.42 631.75,367.9 632.8,371.36 633.86,374.79 634.91,378.18 635.97,381.5 637.02,384.76 638.07,387.93 639.13,390.99 640.18,393.94 641.24,396.76 642.29,399.43 643.34,401.95 644.4,404.31 645.45,406.48 646.51,408.48 647.56,410.27 648.61,411.87 649.67,413.25 650.72,414.41 651.78,415.36 652.83,416.07 653.88,416.56 654.94,416.82 655.99,416.84 657.05,416.63 658.1,416.19 659.15,415.52 660.21,414.62 661.26,413.5 662.32,412.16 663.37,410.61 664.42,408.85 665.48,406.9 666.53,404.76 667.59,402.44 668.64,399.95 669.69,397.3 670.75,394.51 671.8,391.59 672.86,388.55 673.91,385.4 674.96,382.16 676.02,378.85 677.07,375.47" fill="none" stroke="#df7ccb" stroke-width="2.4" stroke-linejoin="round" stroke-linecap="round"/><polyline points="410.41,313.58 411.46,313.43 412.52,313.6 413.57,314.07 414.63,314.86 415.68,315.95 416.73,317.34 417.79,319.02 418.84,320.99 419.9,323.23 420.95,325.74 422,328.51 423.06,331.51 424.11,334.75 425.17,338.19 426.22,341.83 427.27,345.65 428.33,349.63 429.38,353.76 430.44,358 431.49,362.35 432.54,366.78 433.6,371.28 434.65,375.81 435.71,380.37 436.76,384.92 437.81,389.45 438.87,393.93 439.92,398.35 440.98,402.68 442.03,406.91 443.08,411.01 444.14,414.96 445.19,418.75 446.25,422.36 447.3,425.77 448.35,428.96 449.41,431.93 450.46,434.65 451.52,437.11 452.57,439.31 453.62,441.23 454.68,442.86 455.73,444.2 456.79,445.24 457.84,445.97 458.89,446.39 459.95,446.5 461,446.29 462.06,445.78 463.11,444.96 464.16,443.83 465.22,442.4 466.27,440.68 467.33,438.68 468.38,436.4 469.43,433.86 470.49,431.06 471.54,428.03 472.6,424.77 473.65,421.3 474.7,417.63 475.76,413.79 476.81,409.79 477.87,405.65 478.92,401.39 479.97,397.03 481.03,392.59 482.08,388.09 483.14,383.55 484.19,379 485.24,374.45 486.3,369.92 487.35,365.45 488.41,361.04 489.46,356.72 490.51,352.51 491.57,348.42 492.62,344.49 493.68,340.72 494.73,337.14 495.78,333.75 496.84,330.59 497.89,327.65 498.95,324.96 500,322.53 501.05,320.37 502.11,318.48 503.16,316.89 504.22,315.59 505.27,314.59 506.32,313.9 507.38,313.52 508.43,313.45 509.49,313.69 510.54,314.24 511.59,315.1 512.65,316.27 513.7,317.73 514.76,319.48 515.81,321.52 516.86,323.83 517.92,326.41 518.97,329.24 520.03,332.3 521.08,335.59 522.13,339.09 523.19,342.77 524.24,346.63 525.3,350.65 526.35,354.81 527.4,359.08 528.46,363.45 529.51,367.9 530.57,372.41 531.62,376.95 532.67,381.5 533.73,386.05 534.78,390.57 535.84,395.04 536.89,399.44 537.94,403.75 539,407.94 540.05,412.01 541.11,415.92 542.16,419.67 543.21,423.23 544.27,426.59 545.32,429.73 546.38,432.63 547.43,435.29 548.48,437.69 549.54,439.82 550.59,441.67 551.65,443.22 552.7,444.49 553.75,445.45 554.81,446.1 555.86,446.44 556.92,446.47 557.97,446.19 559.02,445.6 560.08,444.7 561.13,443.5 562.19,442 563.24,440.21 564.29,438.14 565.35,435.79 566.4,433.18 567.46,430.33 568.51,427.23 569.56,423.92 570.62,420.4 571.67,416.69 572.73,412.8 573.78,408.77 574.83,404.6 575.89,400.31 576.94,395.93 578,391.47 579.05,386.96 580.1,382.42 581.16,377.86 582.21,373.31 583.27,368.8 584.32,364.34 585.37,359.95 586.43,355.65 587.48,351.47 588.54,347.43 589.59,343.53 590.64,339.81 591.7,336.27 592.75,332.94 593.81,329.83 594.86,326.96 595.91,324.33 596.97,321.96 598.02,319.87 599.08,318.06 600.13,316.53 601.18,315.31 602.24,314.39 603.29,313.77 604.35,313.47 605.4,313.48 606.45,313.8 607.51,314.43 608.56,315.36 609.62,316.6 610.67,318.14 611.72,319.97 612.78,322.07 613.83,324.45 614.89,327.09 615.94,329.98 616.99,333.1 618.05,336.44 619.1,339.99 620.16,343.72 621.21,347.63 622.26,351.68 623.32,355.87 624.37,360.17 625.43,364.56 626.48,369.02 627.53,373.54 628.59,378.09 629.64,382.64 630.7,387.19 631.75,391.69 632.8,396.15 633.86,400.53 634.91,404.81 635.97,408.97 637.02,413 638.07,416.88 639.13,420.58 640.18,424.09 641.24,427.39 642.29,430.47 643.34,433.32 644.4,435.91 645.45,438.25 646.51,440.31 647.56,442.08 648.61,443.57 649.67,444.76 650.72,445.64 651.78,446.21 652.83,446.48 653.88,446.43 654.94,446.07 655.99,445.41 657.05,444.43 658.1,443.15 659.15,441.58 660.21,439.72 661.26,437.58 662.32,435.16 663.37,432.49 664.42,429.57 665.48,426.42 666.53,423.06 667.59,419.49 668.64,415.73 669.69,411.81 670.75,407.74 671.8,403.53 672.86,399.22 673.91,394.82 674.96,390.35 676.02,385.83 677.07,381.28" fill="none" stroke="#f98a59" stroke-width="2.6" stroke-linejoin="round" stroke-linecap="round"/><text x="416.6" y="293.3" font-size="14" text-anchor="start" fill="#000">B = 217 G</text><text x="555.7" y="510" font-size="14" text-anchor="middle" fill="#000">Pulse duration (μs)</text><text x="373.3" y="382.7" font-size="14" text-anchor="middle" fill="#000" transform="rotate(-90 373.3 382.7)">ΔPL/PL</text><text x="349.7" y="273.1" font-size="18" text-anchor="start" fill="#000" letter-spacing="1.4">(d)</text><rect x="59.3" y="535.5" width="278" height="204.1" fill="none" stroke="#222" stroke-width="1.3"/><line x1="59.3" y1="559.1" x2="63.7" y2="559.1" stroke="#222" stroke-width="1.3"/><text x="54.7" y="561.2" font-size="10" text-anchor="end" fill="#000">0.00</text><line x1="59.3" y1="619.3" x2="63.7" y2="619.3" stroke="#222" stroke-width="1.3"/><text x="54.7" y="621.4" font-size="10" text-anchor="end" fill="#000">-0.05</text><line x1="59.3" y1="679.5" x2="63.7" y2="679.5" stroke="#222" stroke-width="1.3"/><text x="54.7" y="681.6" font-size="10" text-anchor="end" fill="#000">-0.10</text><line x1="59.3" y1="739.7" x2="63.7" y2="739.7" stroke="#222" stroke-width="1.3"/><text x="54.7" y="741.8" font-size="10" text-anchor="end" fill="#000">-0.15</text><line x1="59.3" y1="589.2" x2="61.9" y2="589.2" stroke="#222" stroke-width="1.3"/><line x1="59.3" y1="649.4" x2="61.9" y2="649.4" stroke="#222" stroke-width="1.3"/><line x1="59.3" y1="709.6" x2="61.9" y2="709.6" stroke="#222" stroke-width="1.3"/><line x1="109.9" y1="739.6" x2="109.9" y2="735.2" stroke="#222" stroke-width="1.3"/><text x="109.9" y="750.4" font-size="10" text-anchor="middle" fill="#000">40</text><line x1="210.85" y1="739.6" x2="210.85" y2="735.2" stroke="#222" stroke-width="1.3"/><text x="210.85" y="750.4" font-size="10" text-anchor="middle" fill="#000">80</text><line x1="311.8" y1="739.6" x2="311.8" y2="735.2" stroke="#222" stroke-width="1.3"/><text x="311.8" y="750.4" font-size="10" text-anchor="middle" fill="#000">120</text><line x1="160.38" y1="739.6" x2="160.38" y2="737" stroke="#222" stroke-width="1.3"/><line x1="261.33" y1="739.6" x2="261.33" y2="737" stroke="#222" stroke-width="1.3"/><rect x="70.25" y="583.55" width="2.5" height="2.5" fill="#111"/><rect x="73.15" y="590.05" width="2.5" height="2.5" fill="#111"/><rect x="80.35" y="600.15" width="2.5" height="2.5" fill="#111"/><rect x="85.65" y="595.55" width="2.5" height="2.5" fill="#111"/><rect x="77.95" y="614.55" width="2.5" height="2.5" fill="#111"/><rect x="82.85" y="612.15" width="2.5" height="2.5" fill="#111"/><rect x="88.05" y="628.05" width="2.5" height="2.5" fill="#111"/><rect x="90.05" y="630.45" width="2.5" height="2.5" fill="#111"/><rect x="95.35" y="636.45" width="2.5" height="2.5" fill="#111"/><rect x="92.45" y="642.95" width="2.5" height="2.5" fill="#111"/><rect x="98.45" y="668.25" width="2.5" height="2.5" fill="#111"/><rect x="100.85" y="686.25" width="2.5" height="2.5" fill="#111"/><rect x="103.25" y="715.15" width="2.5" height="2.5" fill="#111"/><rect x="108.05" y="722.35" width="2.5" height="2.5" fill="#111"/><rect x="110.45" y="702.65" width="2.5" height="2.5" fill="#111"/><rect x="112.15" y="698.25" width="2.5" height="2.5" fill="#111"/><rect x="116.05" y="710.75" width="2.5" height="2.5" fill="#111"/><rect x="118.45" y="682.65" width="2.5" height="2.5" fill="#111"/><rect x="123.25" y="626.85" width="2.5" height="2.5" fill="#111"/><rect x="126.15" y="597.75" width="2.5" height="2.5" fill="#111"/><rect x="123.15" y="626.75" width="2.5" height="2.5" fill="#111"/><rect x="125.75" y="597.85" width="2.5" height="2.5" fill="#111"/><rect x="131.35" y="592.55" width="2.5" height="2.5" fill="#111"/><rect x="133.65" y="591.35" width="2.5" height="2.5" fill="#111"/><rect x="135.95" y="599.25" width="2.5" height="2.5" fill="#111"/><rect x="138.35" y="584.65" width="2.5" height="2.5" fill="#111"/><rect x="141.55" y="574.65" width="2.5" height="2.5" fill="#111"/><rect x="146.25" y="571.15" width="2.5" height="2.5" fill="#111"/><rect x="148.85" y="578.55" width="2.5" height="2.5" fill="#111"/><rect x="153.75" y="551.35" width="2.5" height="2.5" fill="#111"/><rect x="156.45" y="578.55" width="2.5" height="2.5" fill="#111"/><rect x="159.05" y="574.65" width="2.5" height="2.5" fill="#111"/><rect x="161.35" y="576.45" width="2.5" height="2.5" fill="#111"/><rect x="163.95" y="572.95" width="2.5" height="2.5" fill="#111"/><rect x="166.45" y="565.35" width="2.5" height="2.5" fill="#111"/><rect x="169.25" y="573.65" width="2.5" height="2.5" fill="#111"/><rect x="171.65" y="572.45" width="2.5" height="2.5" fill="#111"/><rect x="174.45" y="570.15" width="2.5" height="2.5" fill="#111"/><rect x="176.55" y="583.75" width="2.5" height="2.5" fill="#111"/><rect x="179.15" y="567.15" width="2.5" height="2.5" fill="#111"/><rect x="181.45" y="562.25" width="2.5" height="2.5" fill="#111"/><rect x="184.05" y="554.85" width="2.5" height="2.5" fill="#111"/><rect x="186.75" y="565.95" width="2.5" height="2.5" fill="#111"/><rect x="189.15" y="571.55" width="2.5" height="2.5" fill="#111"/><rect x="191.95" y="565.35" width="2.5" height="2.5" fill="#111"/><rect x="194.05" y="573.25" width="2.5" height="2.5" fill="#111"/><rect x="197.25" y="561.05" width="2.5" height="2.5" fill="#111"/><rect x="199.65" y="560.65" width="2.5" height="2.5" fill="#111"/><rect x="201.95" y="600.45" width="2.5" height="2.5" fill="#111"/><rect x="204.55" y="595.15" width="2.5" height="2.5" fill="#111"/><rect x="207.25" y="597.85" width="2.5" height="2.5" fill="#111"/><rect x="208.95" y="616.15" width="2.5" height="2.5" fill="#111"/><rect x="211.25" y="648.25" width="2.5" height="2.5" fill="#111"/><rect x="215.95" y="662.65" width="2.5" height="2.5" fill="#111"/><rect x="219.45" y="664.35" width="2.5" height="2.5" fill="#111"/><rect x="222.95" y="647.75" width="2.5" height="2.5" fill="#111"/><rect x="223.85" y="610.95" width="2.5" height="2.5" fill="#111"/><rect x="227.35" y="589.05" width="2.5" height="2.5" fill="#111"/><rect x="229.45" y="603.45" width="2.5" height="2.5" fill="#111"/><rect x="232.25" y="593.95" width="2.5" height="2.5" fill="#111"/><rect x="235.25" y="561.05" width="2.5" height="2.5" fill="#111"/><rect x="237.85" y="575.95" width="2.5" height="2.5" fill="#111"/><rect x="230.05" y="602.95" width="2.5" height="2.5" fill="#111"/><rect x="232.25" y="594.15" width="2.5" height="2.5" fill="#111"/><rect x="234.85" y="561.25" width="2.5" height="2.5" fill="#111"/><rect x="237.55" y="576.05" width="2.5" height="2.5" fill="#111"/><rect x="239.95" y="544.85" width="2.5" height="2.5" fill="#111"/><rect x="242.45" y="550.75" width="2.5" height="2.5" fill="#111"/><rect x="244.85" y="571.15" width="2.5" height="2.5" fill="#111"/><rect x="247.25" y="550.75" width="2.5" height="2.5" fill="#111"/><rect x="249.95" y="575.35" width="2.5" height="2.5" fill="#111"/><rect x="252.55" y="582.15" width="2.5" height="2.5" fill="#111"/><rect x="255.25" y="571.15" width="2.5" height="2.5" fill="#111"/><rect x="257.35" y="568.15" width="2.5" height="2.5" fill="#111"/><rect x="259.75" y="594.15" width="2.5" height="2.5" fill="#111"/><rect x="262.45" y="594.65" width="2.5" height="2.5" fill="#111"/><rect x="264.85" y="549.65" width="2.5" height="2.5" fill="#111"/><rect x="267.25" y="546.75" width="2.5" height="2.5" fill="#111"/><rect x="270.15" y="562.55" width="2.5" height="2.5" fill="#111"/><rect x="272.55" y="572.95" width="2.5" height="2.5" fill="#111"/><rect x="275.35" y="550.75" width="2.5" height="2.5" fill="#111"/><rect x="277.75" y="558.05" width="2.5" height="2.5" fill="#111"/><rect x="280.15" y="543.25" width="2.5" height="2.5" fill="#111"/><rect x="283.05" y="553.55" width="2.5" height="2.5" fill="#111"/><rect x="285.25" y="556.45" width="2.5" height="2.5" fill="#111"/><rect x="287.85" y="566.05" width="2.5" height="2.5" fill="#111"/><rect x="290.55" y="540.65" width="2.5" height="2.5" fill="#111"/><rect x="295.35" y="557.25" width="2.5" height="2.5" fill="#111"/><rect x="298.15" y="554.35" width="2.5" height="2.5" fill="#111"/><rect x="300.65" y="558.85" width="2.5" height="2.5" fill="#111"/><rect x="302.95" y="538.75" width="2.5" height="2.5" fill="#111"/><rect x="308.25" y="549.15" width="2.5" height="2.5" fill="#111"/><rect x="310.65" y="568.95" width="2.5" height="2.5" fill="#111"/><rect x="313.05" y="552.85" width="2.5" height="2.5" fill="#111"/><rect x="315.45" y="560.15" width="2.5" height="2.5" fill="#111"/><rect x="318.15" y="573.25" width="2.5" height="2.5" fill="#111"/><rect x="323.15" y="547.15" width="2.5" height="2.5" fill="#111"/><polyline points="72.04,579.95 72.8,580.76 73.56,581.61 74.31,582.51 75.07,583.45 75.83,584.45 76.59,585.49 77.34,586.6 78.1,587.76 78.86,588.99 79.61,590.28 80.37,591.65 81.13,593.1 81.89,594.62 82.64,596.24 83.4,597.96 84.16,599.77 84.91,601.69 85.67,603.73 86.43,605.89 87.19,608.19 87.94,610.62 88.7,613.19 89.46,615.93 90.21,618.83 90.97,621.9 91.73,625.16 92.49,628.6 93.24,632.24 94,636.08 94.76,640.13 95.51,644.38 96.27,648.84 97.03,653.5 97.79,658.35 98.54,663.37 99.3,668.54 100.06,673.83 100.81,679.2 101.57,684.58 102.33,689.94 103.09,695.19 103.84,700.25 104.6,705.03 105.36,709.44 106.11,713.39 106.87,716.77 107.63,719.51 108.39,721.52 109.14,722.76 109.9,723.19 110.66,722.78 111.41,721.56 112.17,719.57 112.93,716.85 113.69,713.48 114.44,709.56 115.2,705.17 115.96,700.4 116.71,695.36 117.47,690.14 118.23,684.8 118.99,679.43 119.74,674.09 120.5,668.82 121.26,663.67 122.01,658.67 122.77,653.84 123.53,649.21 124.29,644.77 125.04,640.53 125.8,636.51 126.56,632.69 127.31,629.07 128.07,625.65 128.83,622.42 129.59,619.37 130.34,616.49 131.1,613.78 131.86,611.23 132.61,608.82 133.37,606.56 134.13,604.42 134.89,602.41 135.64,600.51 136.4,598.73 137.16,597.04 137.91,595.45 138.67,593.95 139.43,592.53 140.19,591.19 140.94,589.93 141.7,588.73 142.46,587.6 143.21,586.53 143.97,585.52 144.73,584.56 145.49,583.65 146.24,582.79 147,581.98 147.76,581.2 148.51,580.47 149.27,579.77 150.03,579.11 150.79,578.48 151.54,577.89 152.3,577.32 153.06,576.78 153.81,576.27 154.57,575.78 155.33,575.32 156.09,574.89 156.84,574.47 157.6,574.08 158.36,573.7 159.11,573.35 159.87,573.01 160.63,572.69 161.39,572.39 162.14,572.11 162.9,571.84 163.66,571.59 164.41,571.35 165.17,571.13 165.93,570.92 166.69,570.73 167.44,570.54 168.2,570.38 168.96,570.22 169.71,570.08 170.47,569.95 171.23,569.84 171.99,569.73 172.74,569.64 173.5,569.57 174.26,569.5 175.01,569.45 175.77,569.41 176.53,569.39 177.29,569.38 178.04,569.38 178.8,569.4 179.56,569.43 180.31,569.48 181.07,569.54 181.83,569.62 182.59,569.72 183.34,569.84 184.1,569.97 184.86,570.13 185.61,570.31 186.37,570.51 187.13,570.74 187.89,570.99 188.64,571.27 189.4,571.58 190.16,571.93 190.91,572.31 191.67,572.74 192.43,573.2 193.19,573.71 193.94,574.28 194.7,574.9 195.46,575.58 196.21,576.33 196.97,577.15 197.73,578.06 198.49,579.07 199.24,580.18 200,581.4 200.76,582.75 201.51,584.25 202.27,585.92 203.03,587.76 203.79,589.81 204.54,592.09 205.3,594.62 206.06,597.45 206.81,600.59 207.57,604.08 208.33,607.95 209.09,612.23 209.84,616.94 210.6,622.09 211.36,627.67 212.11,633.63 212.87,639.89 213.63,646.3 214.39,652.66 215.14,658.69 215.9,664.06 216.66,668.42 217.41,671.43 218.17,672.83 218.93,672.5 219.69,670.45 220.44,666.87 221.2,662.05 221.96,656.33 222.71,650.07 223.47,643.58 224.23,637.11 224.99,630.85 225.74,624.92 226.5,619.39 227.26,614.3 228.01,609.64 228.77,605.41 229.53,601.57 230.29,598.11 231.04,594.99 231.8,592.17 232.56,589.63 233.31,587.34 234.07,585.26 234.83,583.38 235.59,581.68 236.34,580.13 237.1,578.72 237.86,577.43 238.61,576.25 239.37,575.17 240.13,574.19 240.89,573.28 241.64,572.44 242.4,571.67 243.16,570.95 243.91,570.29 244.67,569.68 245.43,569.1 246.19,568.57 246.94,568.08 247.7,567.61 248.46,567.18 249.21,566.78 249.97,566.4 250.73,566.04 251.49,565.7 252.24,565.39 253,565.09 253.76,564.81 254.51,564.54 255.27,564.29 256.03,564.05 256.79,563.82 257.54,563.61 258.3,563.4 259.06,563.21 259.81,563.03 260.57,562.85 261.33,562.68 262.09,562.52 262.84,562.37 263.6,562.22 264.36,562.08 265.11,561.95 265.87,561.82 266.63,561.7 267.39,561.58 268.14,561.47 268.9,561.36 269.66,561.25 270.41,561.15 271.17,561.06 271.93,560.96 272.69,560.87 273.44,560.79 274.2,560.7 274.96,560.62 275.71,560.54 276.47,560.47 277.23,560.4 277.99,560.33 278.74,560.26 279.5,560.19 280.26,560.13 281.01,560.07 281.77,560.01 282.53,559.95 283.29,559.89 284.04,559.84 284.8,559.78 285.56,559.73 286.31,559.68 287.07,559.63 287.83,559.59 288.59,559.54 289.34,559.5 290.1,559.45 290.86,559.41 291.61,559.37 292.37,559.33 293.13,559.29 293.89,559.25 294.64,559.21 295.4,559.18 296.16,559.14 296.91,559.11 297.67,559.07 298.43,559.04 299.19,559.01 299.94,558.98 300.7,558.95 301.46,558.92 302.21,558.89 302.97,558.86 303.73,558.83 304.48,558.8 305.24,558.78 306,558.75 306.76,558.72 307.51,558.7 308.27,558.67 309.03,558.65 309.78,558.63 310.54,558.6 311.3,558.58 312.06,558.56 312.81,558.54 313.57,558.52 314.33,558.49 315.08,558.47 315.84,558.45 316.6,558.43 317.36,558.41 318.11,558.4 318.87,558.38 319.63,558.36 320.38,558.34 321.14,558.32 321.9,558.31 322.66,558.29 323.41,558.27 324.17,558.26 324.93,558.24" fill="none" stroke="#6badd8" stroke-width="2.6" stroke-linejoin="round" stroke-linecap="round"/><text x="70.3" y="552.4" font-size="14" text-anchor="start" fill="#000">B = 478 G</text><text x="203.7" y="765" font-size="14" text-anchor="middle" fill="#000">Frequency (MHz)</text><text x="22" y="640" font-size="14" text-anchor="middle" fill="#000" transform="rotate(-90 22 640)">ΔPL/PL</text><text x="-0.9" y="527.7" font-size="18" text-anchor="start" fill="#000" letter-spacing="1.4">(e)</text><line x1="185.2" y1="625" x2="185.2" y2="588" stroke="#f8875a" stroke-width="1.8"/><polygon points="185.2,579.4 189.2,591.6 185.2,589.3 181.2,591.6" fill="#f8875a"/><g transform="translate(139.5,635)"><line x1="1" y1="-6.1" x2="1" y2="6.3" stroke="#f4834f" stroke-width="1.9" stroke-linecap="butt"/><line x1="2.9" y1="0" x2="11.7" y2="0" stroke="#f4834f" stroke-width="2.1" stroke-linecap="butt"/><line x1="15.4" y1="-4.8" x2="15.4" y2="4" stroke="#f4834f" stroke-width="2.0" stroke-linecap="butt"/><line x1="15.6" y1="-4.6" x2="13" y2="-2.9" stroke="#f4834f" stroke-width="1.7" stroke-linecap="butt"/><line x1="12.8" y1="3.3" x2="17.8" y2="3.3" stroke="#f4834f" stroke-width="1.5" stroke-linecap="butt"/><line x1="20.25" y1="1.2" x2="19.35" y2="5.8" stroke="#f4834f" stroke-width="2.0" stroke-linecap="butt"/><line x1="26" y1="-5.5" x2="26" y2="5.5" stroke="#f4834f" stroke-width="1.9" stroke-linecap="butt"/><polyline points="23.4,2.3 26,5.4 28.6,2.3" fill="none" stroke="#f4834f" stroke-width="1.8" stroke-linejoin="miter" stroke-miterlimit="6"/><polyline points="29.9,-5.9 31.7,-0.1 29.9,5.8" fill="none" stroke="#f4834f" stroke-width="1.8" stroke-linejoin="miter" stroke-miterlimit="6"/><polygon points="31.7,0 39.9,-4.9 37.9,0 39.9,4.9" fill="#f4834f"/><line x1="37.7" y1="0" x2="43.9" y2="0" stroke="#f4834f" stroke-width="1.6" stroke-linecap="butt"/><polygon points="49.9,0 41.7,-4.9 43.7,0 41.7,4.9" fill="#f4834f"/><line x1="51.2" y1="-6.1" x2="51.2" y2="6.3" stroke="#f4834f" stroke-width="1.9" stroke-linecap="butt"/><ellipse cx="54.95" cy="-0.2" rx="1.4" ry="3.75" fill="none" stroke="#f4834f" stroke-width="1.95"/><line x1="59.45" y1="1.2" x2="58.55" y2="5.8" stroke="#f4834f" stroke-width="2.0" stroke-linecap="butt"/><line x1="65.1" y1="-5.5" x2="65.1" y2="5.5" stroke="#f4834f" stroke-width="1.9" stroke-linecap="butt"/><polyline points="62.5,-2.3 65.1,-5.4 67.7,-2.3" fill="none" stroke="#f4834f" stroke-width="1.8" stroke-linejoin="miter" stroke-miterlimit="6"/><polyline points="69,-5.9 70.8,-0.1 69,5.8" fill="none" stroke="#f4834f" stroke-width="1.8" stroke-linejoin="miter" stroke-miterlimit="6"/></g><g transform="translate(186.7,682.5)"><line x1="1" y1="-6.1" x2="1" y2="6.3" stroke="#fbb36a" stroke-width="1.9" stroke-linecap="butt"/><ellipse cx="4.75" cy="-0.2" rx="1.4" ry="3.75" fill="none" stroke="#fbb36a" stroke-width="1.95"/><line x1="9.25" y1="1.2" x2="8.35" y2="5.8" stroke="#fbb36a" stroke-width="2.0" stroke-linecap="butt"/><line x1="14.9" y1="-5.5" x2="14.9" y2="5.5" stroke="#fbb36a" stroke-width="1.9" stroke-linecap="butt"/><polyline points="12.3,-2.3 14.9,-5.4 17.5,-2.3" fill="none" stroke="#fbb36a" stroke-width="1.8" stroke-linejoin="miter" stroke-miterlimit="6"/><polyline points="18.8,-5.9 20.6,-0.1 18.8,5.8" fill="none" stroke="#fbb36a" stroke-width="1.8" stroke-linejoin="miter" stroke-miterlimit="6"/><polygon points="21.8,0 30,-4.9 28,0 30,4.9" fill="#fbb36a"/><line x1="27.8" y1="0" x2="34" y2="0" stroke="#fbb36a" stroke-width="1.6" stroke-linecap="butt"/><polygon points="40,0 31.8,-4.9 33.8,0 31.8,4.9" fill="#fbb36a"/><line x1="41.3" y1="-6.1" x2="41.3" y2="6.3" stroke="#fbb36a" stroke-width="1.9" stroke-linecap="butt"/><ellipse cx="45.05" cy="-0.2" rx="1.4" ry="3.75" fill="none" stroke="#fbb36a" stroke-width="1.95"/><line x1="49.55" y1="1.2" x2="48.65" y2="5.8" stroke="#fbb36a" stroke-width="2.0" stroke-linecap="butt"/><line x1="55.2" y1="-5.5" x2="55.2" y2="5.5" stroke="#fbb36a" stroke-width="1.9" stroke-linecap="butt"/><polyline points="52.6,2.3 55.2,5.4 57.8,2.3" fill="none" stroke="#fbb36a" stroke-width="1.8" stroke-linejoin="miter" stroke-miterlimit="6"/><polyline points="59.1,-5.9 60.9,-0.1 59.1,5.8" fill="none" stroke="#fbb36a" stroke-width="1.8" stroke-linejoin="miter" stroke-miterlimit="6"/></g><g transform="translate(67.7,730.7)"><line x1="1" y1="-6.1" x2="1" y2="6.3" stroke="#e47bc0" stroke-width="1.9" stroke-linecap="butt"/><line x1="2.9" y1="0" x2="11.7" y2="0" stroke="#e47bc0" stroke-width="2.1" stroke-linecap="butt"/><line x1="15.4" y1="-4.8" x2="15.4" y2="4" stroke="#e47bc0" stroke-width="2.0" stroke-linecap="butt"/><line x1="15.6" y1="-4.6" x2="13" y2="-2.9" stroke="#e47bc0" stroke-width="1.7" stroke-linecap="butt"/><line x1="12.8" y1="3.3" x2="17.8" y2="3.3" stroke="#e47bc0" stroke-width="1.5" stroke-linecap="butt"/><line x1="20.25" y1="1.2" x2="19.35" y2="5.8" stroke="#e47bc0" stroke-width="2.0" stroke-linecap="butt"/><line x1="26" y1="-5.5" x2="26" y2="5.5" stroke="#e47bc0" stroke-width="1.9" stroke-linecap="butt"/><polyline points="23.4,-2.3 26,-5.4 28.6,-2.3" fill="none" stroke="#e47bc0" stroke-width="1.8" stroke-linejoin="miter" stroke-miterlimit="6"/><polyline points="29.9,-5.9 31.7,-0.1 29.9,5.8" fill="none" stroke="#e47bc0" stroke-width="1.8" stroke-linejoin="miter" stroke-miterlimit="6"/><polygon points="31.7,0 39.9,-4.9 37.9,0 39.9,4.9" fill="#e47bc0"/><line x1="37.7" y1="0" x2="43.9" y2="0" stroke="#e47bc0" stroke-width="1.6" stroke-linecap="butt"/><polygon points="49.9,0 41.7,-4.9 43.7,0 41.7,4.9" fill="#e47bc0"/><line x1="51.2" y1="-6.1" x2="51.2" y2="6.3" stroke="#e47bc0" stroke-width="1.9" stroke-linecap="butt"/><ellipse cx="54.95" cy="-0.2" rx="1.4" ry="3.75" fill="none" stroke="#e47bc0" stroke-width="1.95"/><line x1="59.45" y1="1.2" x2="58.55" y2="5.8" stroke="#e47bc0" stroke-width="2.0" stroke-linecap="butt"/><line x1="65.1" y1="-5.5" x2="65.1" y2="5.5" stroke="#e47bc0" stroke-width="1.9" stroke-linecap="butt"/><polyline points="62.5,-2.3 65.1,-5.4 67.7,-2.3" fill="none" stroke="#e47bc0" stroke-width="1.8" stroke-linejoin="miter" stroke-miterlimit="6"/><polyline points="69,-5.9 70.8,-0.1 69,5.8" fill="none" stroke="#e47bc0" stroke-width="1.8" stroke-linejoin="miter" stroke-miterlimit="6"/></g><rect x="406.4" y="534.8" width="276.9" height="204.1" fill="none" stroke="#222" stroke-width="1.3"/><line x1="406.4" y1="572.1" x2="410.8" y2="572.1" stroke="#222" stroke-width="1.3"/><text x="402.1" y="574.2" font-size="10" text-anchor="end" fill="#000">0.00</text><line x1="406.4" y1="620.1" x2="410.8" y2="620.1" stroke="#222" stroke-width="1.3"/><text x="402.1" y="622.2" font-size="10" text-anchor="end" fill="#000">-0.05</text><line x1="406.4" y1="668.1" x2="410.8" y2="668.1" stroke="#222" stroke-width="1.3"/><text x="402.1" y="670.2" font-size="10" text-anchor="end" fill="#000">-0.10</text><line x1="406.4" y1="716.1" x2="410.8" y2="716.1" stroke="#222" stroke-width="1.3"/><text x="402.1" y="718.2" font-size="10" text-anchor="end" fill="#000">-0.15</text><line x1="406.4" y1="548.1" x2="409" y2="548.1" stroke="#222" stroke-width="1.3"/><line x1="406.4" y1="596.1" x2="409" y2="596.1" stroke="#222" stroke-width="1.3"/><line x1="406.4" y1="644.1" x2="409" y2="644.1" stroke="#222" stroke-width="1.3"/><line x1="406.4" y1="692.1" x2="409" y2="692.1" stroke="#222" stroke-width="1.3"/><line x1="406.6" y1="738.9" x2="406.6" y2="734.5" stroke="#222" stroke-width="1.3"/><text x="408.4" y="749.4" font-size="10" text-anchor="middle" fill="#000">0.0</text><line x1="472.9" y1="738.9" x2="472.9" y2="734.5" stroke="#222" stroke-width="1.3"/><text x="474.7" y="749.4" font-size="10" text-anchor="middle" fill="#000">0.2</text><line x1="539.2" y1="738.9" x2="539.2" y2="734.5" stroke="#222" stroke-width="1.3"/><text x="541" y="749.4" font-size="10" text-anchor="middle" fill="#000">0.4</text><line x1="605.5" y1="738.9" x2="605.5" y2="734.5" stroke="#222" stroke-width="1.3"/><text x="607.3" y="749.4" font-size="10" text-anchor="middle" fill="#000">0.6</text><line x1="671.8" y1="738.9" x2="671.8" y2="734.5" stroke="#222" stroke-width="1.3"/><text x="673.6" y="749.4" font-size="10" text-anchor="middle" fill="#000">0.8</text><line x1="439.75" y1="738.9" x2="439.75" y2="736.3" stroke="#222" stroke-width="1.3"/><line x1="506.05" y1="738.9" x2="506.05" y2="736.3" stroke="#222" stroke-width="1.3"/><line x1="572.35" y1="738.9" x2="572.35" y2="736.3" stroke="#222" stroke-width="1.3"/><line x1="638.65" y1="738.9" x2="638.65" y2="736.3" stroke="#222" stroke-width="1.3"/><rect x="411.9" y="588.1" width="2.2" height="2.2" fill="#df7ccb"/><rect x="414.7" y="599.9" width="2.2" height="2.2" fill="#df7ccb"/><rect x="414.8" y="600.2" width="2.2" height="2.2" fill="#df7ccb"/><rect x="418.5" y="634.4" width="2.2" height="2.2" fill="#df7ccb"/><rect x="424.8" y="663.5" width="2.2" height="2.2" fill="#df7ccb"/><rect x="428.1" y="674.8" width="2.2" height="2.2" fill="#df7ccb"/><rect x="431.6" y="696.6" width="2.2" height="2.2" fill="#df7ccb"/><rect x="435.2" y="692.3" width="2.2" height="2.2" fill="#df7ccb"/><rect x="438.5" y="697.7" width="2.2" height="2.2" fill="#df7ccb"/><rect x="441.8" y="699" width="2.2" height="2.2" fill="#df7ccb"/><rect x="445.4" y="689.9" width="2.2" height="2.2" fill="#df7ccb"/><rect x="451.6" y="679" width="2.2" height="2.2" fill="#df7ccb"/><rect x="458.1" y="659.9" width="2.2" height="2.2" fill="#df7ccb"/><rect x="461.2" y="650.4" width="2.2" height="2.2" fill="#df7ccb"/><rect x="464" y="635.3" width="2.2" height="2.2" fill="#df7ccb"/><rect x="468" y="635.3" width="2.2" height="2.2" fill="#df7ccb"/><rect x="474.5" y="621.3" width="2.2" height="2.2" fill="#df7ccb"/><rect x="478.1" y="619.8" width="2.2" height="2.2" fill="#df7ccb"/><rect x="484.9" y="608" width="2.2" height="2.2" fill="#df7ccb"/><rect x="488" y="617.1" width="2.2" height="2.2" fill="#df7ccb"/><rect x="491.3" y="627.5" width="2.2" height="2.2" fill="#df7ccb"/><rect x="494.5" y="653" width="2.2" height="2.2" fill="#df7ccb"/><rect x="475.3" y="608.9" width="2.2" height="2.2" fill="#df7ccb"/><rect x="497.9" y="672.2" width="2.2" height="2.2" fill="#df7ccb"/><rect x="501.2" y="703.9" width="2.2" height="2.2" fill="#df7ccb"/><rect x="504.5" y="697.7" width="2.2" height="2.2" fill="#df7ccb"/><rect x="507.9" y="705.4" width="2.2" height="2.2" fill="#df7ccb"/><rect x="511.2" y="715.9" width="2.2" height="2.2" fill="#df7ccb"/><rect x="514.3" y="699" width="2.2" height="2.2" fill="#df7ccb"/><rect x="518.1" y="676.3" width="2.2" height="2.2" fill="#df7ccb"/><rect x="521.2" y="667.2" width="2.2" height="2.2" fill="#df7ccb"/><rect x="524.5" y="639.5" width="2.2" height="2.2" fill="#df7ccb"/><rect x="527.9" y="631.7" width="2.2" height="2.2" fill="#df7ccb"/><rect x="531" y="604.9" width="2.2" height="2.2" fill="#df7ccb"/><rect x="534.3" y="595.8" width="2.2" height="2.2" fill="#df7ccb"/><rect x="537.6" y="605.3" width="2.2" height="2.2" fill="#df7ccb"/><rect x="544.3" y="618.4" width="2.2" height="2.2" fill="#df7ccb"/><rect x="547.6" y="622.6" width="2.2" height="2.2" fill="#df7ccb"/><rect x="550.9" y="650.4" width="2.2" height="2.2" fill="#df7ccb"/><rect x="554" y="651.7" width="2.2" height="2.2" fill="#df7ccb"/><rect x="557.2" y="665" width="2.2" height="2.2" fill="#df7ccb"/><rect x="560.9" y="670.4" width="2.2" height="2.2" fill="#df7ccb"/><rect x="567.2" y="674.4" width="2.2" height="2.2" fill="#df7ccb"/><rect x="570.7" y="684.4" width="2.2" height="2.2" fill="#df7ccb"/><rect x="574" y="693.5" width="2.2" height="2.2" fill="#df7ccb"/><rect x="577.6" y="691.7" width="2.2" height="2.2" fill="#df7ccb"/><rect x="580.9" y="683.9" width="2.2" height="2.2" fill="#df7ccb"/><rect x="584" y="688.1" width="2.2" height="2.2" fill="#df7ccb"/><rect x="587.1" y="678.4" width="2.2" height="2.2" fill="#df7ccb"/><rect x="590.8" y="655.3" width="2.2" height="2.2" fill="#df7ccb"/><rect x="593.9" y="663.5" width="2.2" height="2.2" fill="#df7ccb"/><rect x="597" y="644.4" width="2.2" height="2.2" fill="#df7ccb"/><rect x="600.6" y="632.2" width="2.2" height="2.2" fill="#df7ccb"/><rect x="607.2" y="597.1" width="2.2" height="2.2" fill="#df7ccb"/><rect x="610.3" y="601.3" width="2.2" height="2.2" fill="#df7ccb"/><rect x="617" y="612.6" width="2.2" height="2.2" fill="#df7ccb"/><rect x="620.3" y="631.7" width="2.2" height="2.2" fill="#df7ccb"/><rect x="623.6" y="624.9" width="2.2" height="2.2" fill="#df7ccb"/><rect x="627.2" y="659" width="2.2" height="2.2" fill="#df7ccb"/><rect x="630.3" y="687.2" width="2.2" height="2.2" fill="#df7ccb"/><rect x="633.4" y="678.1" width="2.2" height="2.2" fill="#df7ccb"/><rect x="636.7" y="703.2" width="2.2" height="2.2" fill="#df7ccb"/><rect x="640.3" y="692.3" width="2.2" height="2.2" fill="#df7ccb"/><rect x="643.6" y="691.7" width="2.2" height="2.2" fill="#df7ccb"/><rect x="647.2" y="687.2" width="2.2" height="2.2" fill="#df7ccb"/><rect x="650.3" y="676.3" width="2.2" height="2.2" fill="#df7ccb"/><rect x="653.4" y="651.7" width="2.2" height="2.2" fill="#df7ccb"/><rect x="657.1" y="651.1" width="2.2" height="2.2" fill="#df7ccb"/><rect x="663.1" y="637.7" width="2.2" height="2.2" fill="#df7ccb"/><rect x="667.2" y="618.4" width="2.2" height="2.2" fill="#df7ccb"/><rect x="670.3" y="630.8" width="2.2" height="2.2" fill="#df7ccb"/><rect x="673.4" y="631.1" width="2.2" height="2.2" fill="#df7ccb"/><rect x="676.7" y="618.9" width="2.2" height="2.2" fill="#df7ccb"/><line x1="409.8" y1="573.7" x2="416.2" y2="573.7" stroke="#f98a59" stroke-width="1.4"/><line x1="413" y1="570.5" x2="413" y2="576.9" stroke="#f98a59" stroke-width="1.4"/><line x1="413.2" y1="588.5" x2="419.6" y2="588.5" stroke="#f98a59" stroke-width="1.4"/><line x1="416.4" y1="585.3" x2="416.4" y2="591.7" stroke="#f98a59" stroke-width="1.4"/><line x1="416.8" y1="579.5" x2="423.2" y2="579.5" stroke="#f98a59" stroke-width="1.4"/><line x1="420" y1="576.3" x2="420" y2="582.7" stroke="#f98a59" stroke-width="1.4"/><line x1="419.8" y1="580.2" x2="426.2" y2="580.2" stroke="#f98a59" stroke-width="1.4"/><line x1="423" y1="577" x2="423" y2="583.4" stroke="#f98a59" stroke-width="1.4"/><line x1="422.6" y1="596.9" x2="429" y2="596.9" stroke="#f98a59" stroke-width="1.4"/><line x1="425.8" y1="593.7" x2="425.8" y2="600.1" stroke="#f98a59" stroke-width="1.4"/><line x1="426.5" y1="584.4" x2="432.9" y2="584.4" stroke="#f98a59" stroke-width="1.4"/><line x1="429.7" y1="581.2" x2="429.7" y2="587.6" stroke="#f98a59" stroke-width="1.4"/><line x1="429.5" y1="596.9" x2="435.9" y2="596.9" stroke="#f98a59" stroke-width="1.4"/><line x1="432.7" y1="593.7" x2="432.7" y2="600.1" stroke="#f98a59" stroke-width="1.4"/><line x1="433" y1="597.6" x2="439.4" y2="597.6" stroke="#f98a59" stroke-width="1.4"/><line x1="436.2" y1="594.4" x2="436.2" y2="600.8" stroke="#f98a59" stroke-width="1.4"/><line x1="436.2" y1="560.8" x2="442.6" y2="560.8" stroke="#f98a59" stroke-width="1.4"/><line x1="439.4" y1="557.6" x2="439.4" y2="564" stroke="#f98a59" stroke-width="1.4"/><line x1="439.5" y1="570.8" x2="445.9" y2="570.8" stroke="#f98a59" stroke-width="1.4"/><line x1="442.7" y1="567.6" x2="442.7" y2="574" stroke="#f98a59" stroke-width="1.4"/><line x1="442.7" y1="609.3" x2="449.1" y2="609.3" stroke="#f98a59" stroke-width="1.4"/><line x1="445.9" y1="606.1" x2="445.9" y2="612.5" stroke="#f98a59" stroke-width="1.4"/><line x1="446.2" y1="600.3" x2="452.6" y2="600.3" stroke="#f98a59" stroke-width="1.4"/><line x1="449.4" y1="597.1" x2="449.4" y2="603.5" stroke="#f98a59" stroke-width="1.4"/><line x1="449.7" y1="593.8" x2="456.1" y2="593.8" stroke="#f98a59" stroke-width="1.4"/><line x1="452.9" y1="590.6" x2="452.9" y2="597" stroke="#f98a59" stroke-width="1.4"/><line x1="453.8" y1="577.2" x2="460.2" y2="577.2" stroke="#f98a59" stroke-width="1.4"/><line x1="457" y1="574" x2="457" y2="580.4" stroke="#f98a59" stroke-width="1.4"/><line x1="456.2" y1="575.4" x2="462.6" y2="575.4" stroke="#f98a59" stroke-width="1.4"/><line x1="459.4" y1="572.2" x2="459.4" y2="578.6" stroke="#f98a59" stroke-width="1.4"/><line x1="459.4" y1="596.6" x2="465.8" y2="596.6" stroke="#f98a59" stroke-width="1.4"/><line x1="462.6" y1="593.4" x2="462.6" y2="599.8" stroke="#f98a59" stroke-width="1.4"/><line x1="462.5" y1="584.4" x2="468.9" y2="584.4" stroke="#f98a59" stroke-width="1.4"/><line x1="465.7" y1="581.2" x2="465.7" y2="587.6" stroke="#f98a59" stroke-width="1.4"/><line x1="465.9" y1="599.4" x2="472.3" y2="599.4" stroke="#f98a59" stroke-width="1.4"/><line x1="469.1" y1="596.2" x2="469.1" y2="602.6" stroke="#f98a59" stroke-width="1.4"/><line x1="469.1" y1="591" x2="475.5" y2="591" stroke="#f98a59" stroke-width="1.4"/><line x1="472.3" y1="587.8" x2="472.3" y2="594.2" stroke="#f98a59" stroke-width="1.4"/><line x1="472.5" y1="569.4" x2="478.9" y2="569.4" stroke="#f98a59" stroke-width="1.4"/><line x1="475.7" y1="566.2" x2="475.7" y2="572.6" stroke="#f98a59" stroke-width="1.4"/><line x1="476" y1="589.2" x2="482.4" y2="589.2" stroke="#f98a59" stroke-width="1.4"/><line x1="479.2" y1="586" x2="479.2" y2="592.4" stroke="#f98a59" stroke-width="1.4"/><line x1="478.8" y1="572.3" x2="485.2" y2="572.3" stroke="#f98a59" stroke-width="1.4"/><line x1="482" y1="569.1" x2="482" y2="575.5" stroke="#f98a59" stroke-width="1.4"/><line x1="482.9" y1="571.2" x2="489.3" y2="571.2" stroke="#f98a59" stroke-width="1.4"/><line x1="486.1" y1="568" x2="486.1" y2="574.4" stroke="#f98a59" stroke-width="1.4"/><line x1="485.7" y1="564" x2="492.1" y2="564" stroke="#f98a59" stroke-width="1.4"/><line x1="488.9" y1="560.8" x2="488.9" y2="567.2" stroke="#f98a59" stroke-width="1.4"/><line x1="488.9" y1="558.4" x2="495.3" y2="558.4" stroke="#f98a59" stroke-width="1.4"/><line x1="492.1" y1="555.2" x2="492.1" y2="561.6" stroke="#f98a59" stroke-width="1.4"/><line x1="492.6" y1="596.6" x2="499" y2="596.6" stroke="#f98a59" stroke-width="1.4"/><line x1="495.8" y1="593.4" x2="495.8" y2="599.8" stroke="#f98a59" stroke-width="1.4"/><line x1="495" y1="552.2" x2="501.4" y2="552.2" stroke="#f98a59" stroke-width="1.4"/><line x1="498.2" y1="549" x2="498.2" y2="555.4" stroke="#f98a59" stroke-width="1.4"/><line x1="496" y1="552.2" x2="502.4" y2="552.2" stroke="#f98a59" stroke-width="1.4"/><line x1="499.2" y1="549" x2="499.2" y2="555.4" stroke="#f98a59" stroke-width="1.4"/><line x1="499" y1="571.6" x2="505.4" y2="571.6" stroke="#f98a59" stroke-width="1.4"/><line x1="502.2" y1="568.4" x2="502.2" y2="574.8" stroke="#f98a59" stroke-width="1.4"/><line x1="502.2" y1="583" x2="508.6" y2="583" stroke="#f98a59" stroke-width="1.4"/><line x1="505.4" y1="579.8" x2="505.4" y2="586.2" stroke="#f98a59" stroke-width="1.4"/><line x1="505" y1="580.9" x2="511.4" y2="580.9" stroke="#f98a59" stroke-width="1.4"/><line x1="508.2" y1="577.7" x2="508.2" y2="584.1" stroke="#f98a59" stroke-width="1.4"/><line x1="508.2" y1="577.2" x2="514.6" y2="577.2" stroke="#f98a59" stroke-width="1.4"/><line x1="511.4" y1="574" x2="511.4" y2="580.4" stroke="#f98a59" stroke-width="1.4"/><line x1="512.3" y1="585.5" x2="518.7" y2="585.5" stroke="#f98a59" stroke-width="1.4"/><line x1="515.5" y1="582.3" x2="515.5" y2="588.7" stroke="#f98a59" stroke-width="1.4"/><line x1="515.7" y1="580.5" x2="522.1" y2="580.5" stroke="#f98a59" stroke-width="1.4"/><line x1="518.9" y1="577.3" x2="518.9" y2="583.7" stroke="#f98a59" stroke-width="1.4"/><line x1="518.8" y1="574" x2="525.2" y2="574" stroke="#f98a59" stroke-width="1.4"/><line x1="522" y1="570.8" x2="522" y2="577.2" stroke="#f98a59" stroke-width="1.4"/><line x1="522" y1="583.3" x2="528.4" y2="583.3" stroke="#f98a59" stroke-width="1.4"/><line x1="525.2" y1="580.1" x2="525.2" y2="586.5" stroke="#f98a59" stroke-width="1.4"/><line x1="525.1" y1="585.5" x2="531.5" y2="585.5" stroke="#f98a59" stroke-width="1.4"/><line x1="528.3" y1="582.3" x2="528.3" y2="588.7" stroke="#f98a59" stroke-width="1.4"/><line x1="529" y1="544.9" x2="535.4" y2="544.9" stroke="#f98a59" stroke-width="1.4"/><line x1="532.2" y1="541.7" x2="532.2" y2="548.1" stroke="#f98a59" stroke-width="1.4"/><line x1="532.3" y1="576.8" x2="538.7" y2="576.8" stroke="#f98a59" stroke-width="1.4"/><line x1="535.5" y1="573.6" x2="535.5" y2="580" stroke="#f98a59" stroke-width="1.4"/><line x1="535.5" y1="582.7" x2="541.9" y2="582.7" stroke="#f98a59" stroke-width="1.4"/><line x1="538.7" y1="579.5" x2="538.7" y2="585.9" stroke="#f98a59" stroke-width="1.4"/><line x1="539" y1="572.2" x2="545.4" y2="572.2" stroke="#f98a59" stroke-width="1.4"/><line x1="542.2" y1="569" x2="542.2" y2="575.4" stroke="#f98a59" stroke-width="1.4"/><line x1="542" y1="583.3" x2="548.4" y2="583.3" stroke="#f98a59" stroke-width="1.4"/><line x1="545.2" y1="580.1" x2="545.2" y2="586.5" stroke="#f98a59" stroke-width="1.4"/><line x1="545.2" y1="580.9" x2="551.6" y2="580.9" stroke="#f98a59" stroke-width="1.4"/><line x1="548.4" y1="577.7" x2="548.4" y2="584.1" stroke="#f98a59" stroke-width="1.4"/><line x1="548.7" y1="567" x2="555.1" y2="567" stroke="#f98a59" stroke-width="1.4"/><line x1="551.9" y1="563.8" x2="551.9" y2="570.2" stroke="#f98a59" stroke-width="1.4"/><line x1="551.7" y1="576.8" x2="558.1" y2="576.8" stroke="#f98a59" stroke-width="1.4"/><line x1="554.9" y1="573.6" x2="554.9" y2="580" stroke="#f98a59" stroke-width="1.4"/><line x1="555.3" y1="587.4" x2="561.7" y2="587.4" stroke="#f98a59" stroke-width="1.4"/><line x1="558.5" y1="584.2" x2="558.5" y2="590.6" stroke="#f98a59" stroke-width="1.4"/><line x1="558.7" y1="580.9" x2="565.1" y2="580.9" stroke="#f98a59" stroke-width="1.4"/><line x1="561.9" y1="577.7" x2="561.9" y2="584.1" stroke="#f98a59" stroke-width="1.4"/><line x1="561.8" y1="563.9" x2="568.2" y2="563.9" stroke="#f98a59" stroke-width="1.4"/><line x1="565" y1="560.7" x2="565" y2="567.1" stroke="#f98a59" stroke-width="1.4"/><line x1="565" y1="573.3" x2="571.4" y2="573.3" stroke="#f98a59" stroke-width="1.4"/><line x1="568.2" y1="570.1" x2="568.2" y2="576.5" stroke="#f98a59" stroke-width="1.4"/><line x1="568.4" y1="570.5" x2="574.8" y2="570.5" stroke="#f98a59" stroke-width="1.4"/><line x1="571.6" y1="567.3" x2="571.6" y2="573.7" stroke="#f98a59" stroke-width="1.4"/><line x1="572" y1="561.9" x2="578.4" y2="561.9" stroke="#f98a59" stroke-width="1.4"/><line x1="575.2" y1="558.7" x2="575.2" y2="565.1" stroke="#f98a59" stroke-width="1.4"/><line x1="575.4" y1="571.6" x2="581.8" y2="571.6" stroke="#f98a59" stroke-width="1.4"/><line x1="578.6" y1="568.4" x2="578.6" y2="574.8" stroke="#f98a59" stroke-width="1.4"/><line x1="578.5" y1="577.7" x2="584.9" y2="577.7" stroke="#f98a59" stroke-width="1.4"/><line x1="581.7" y1="574.5" x2="581.7" y2="580.9" stroke="#f98a59" stroke-width="1.4"/><line x1="582" y1="590.2" x2="588.4" y2="590.2" stroke="#f98a59" stroke-width="1.4"/><line x1="585.2" y1="587" x2="585.2" y2="593.4" stroke="#f98a59" stroke-width="1.4"/><line x1="584.7" y1="540.7" x2="591.1" y2="540.7" stroke="#f98a59" stroke-width="1.4"/><line x1="587.9" y1="537.5" x2="587.9" y2="543.9" stroke="#f98a59" stroke-width="1.4"/><line x1="588.3" y1="594.6" x2="594.7" y2="594.6" stroke="#f98a59" stroke-width="1.4"/><line x1="591.5" y1="591.4" x2="591.5" y2="597.8" stroke="#f98a59" stroke-width="1.4"/><line x1="591.6" y1="588.4" x2="598" y2="588.4" stroke="#f98a59" stroke-width="1.4"/><line x1="594.8" y1="585.2" x2="594.8" y2="591.6" stroke="#f98a59" stroke-width="1.4"/><line x1="595.5" y1="578.7" x2="601.9" y2="578.7" stroke="#f98a59" stroke-width="1.4"/><line x1="598.7" y1="575.5" x2="598.7" y2="581.9" stroke="#f98a59" stroke-width="1.4"/><line x1="598.4" y1="576.8" x2="604.8" y2="576.8" stroke="#f98a59" stroke-width="1.4"/><line x1="601.6" y1="573.6" x2="601.6" y2="580" stroke="#f98a59" stroke-width="1.4"/><line x1="601.3" y1="579" x2="607.7" y2="579" stroke="#f98a59" stroke-width="1.4"/><line x1="604.5" y1="575.8" x2="604.5" y2="582.2" stroke="#f98a59" stroke-width="1.4"/><line x1="605.2" y1="567.7" x2="611.6" y2="567.7" stroke="#f98a59" stroke-width="1.4"/><line x1="608.4" y1="564.5" x2="608.4" y2="570.9" stroke="#f98a59" stroke-width="1.4"/><line x1="611.9" y1="599.5" x2="618.3" y2="599.5" stroke="#f98a59" stroke-width="1.4"/><line x1="615.1" y1="596.3" x2="615.1" y2="602.7" stroke="#f98a59" stroke-width="1.4"/><line x1="608.2" y1="615.5" x2="614.6" y2="615.5" stroke="#f98a59" stroke-width="1.4"/><line x1="611.4" y1="612.3" x2="611.4" y2="618.7" stroke="#f98a59" stroke-width="1.4"/><line x1="615" y1="586.5" x2="621.4" y2="586.5" stroke="#f98a59" stroke-width="1.4"/><line x1="618.2" y1="583.3" x2="618.2" y2="589.7" stroke="#f98a59" stroke-width="1.4"/><line x1="618.2" y1="568.2" x2="624.6" y2="568.2" stroke="#f98a59" stroke-width="1.4"/><line x1="621.4" y1="565" x2="621.4" y2="571.4" stroke="#f98a59" stroke-width="1.4"/><line x1="622" y1="569.6" x2="628.4" y2="569.6" stroke="#f98a59" stroke-width="1.4"/><line x1="625.2" y1="566.4" x2="625.2" y2="572.8" stroke="#f98a59" stroke-width="1.4"/><line x1="624.9" y1="582.2" x2="631.3" y2="582.2" stroke="#f98a59" stroke-width="1.4"/><line x1="628.1" y1="579" x2="628.1" y2="585.4" stroke="#f98a59" stroke-width="1.4"/><line x1="628.3" y1="579.7" x2="634.7" y2="579.7" stroke="#f98a59" stroke-width="1.4"/><line x1="631.5" y1="576.5" x2="631.5" y2="582.9" stroke="#f98a59" stroke-width="1.4"/><line x1="631.7" y1="563.1" x2="638.1" y2="563.1" stroke="#f98a59" stroke-width="1.4"/><line x1="634.9" y1="559.9" x2="634.9" y2="566.3" stroke="#f98a59" stroke-width="1.4"/><line x1="635" y1="552.7" x2="641.4" y2="552.7" stroke="#f98a59" stroke-width="1.4"/><line x1="638.2" y1="549.5" x2="638.2" y2="555.9" stroke="#f98a59" stroke-width="1.4"/><line x1="638.2" y1="571.1" x2="644.6" y2="571.1" stroke="#f98a59" stroke-width="1.4"/><line x1="641.4" y1="567.9" x2="641.4" y2="574.3" stroke="#f98a59" stroke-width="1.4"/><line x1="641.3" y1="577.3" x2="647.7" y2="577.3" stroke="#f98a59" stroke-width="1.4"/><line x1="644.5" y1="574.1" x2="644.5" y2="580.5" stroke="#f98a59" stroke-width="1.4"/><line x1="644.7" y1="569.6" x2="651.1" y2="569.6" stroke="#f98a59" stroke-width="1.4"/><line x1="647.9" y1="566.4" x2="647.9" y2="572.8" stroke="#f98a59" stroke-width="1.4"/><line x1="648" y1="589.9" x2="654.4" y2="589.9" stroke="#f98a59" stroke-width="1.4"/><line x1="651.2" y1="586.7" x2="651.2" y2="593.1" stroke="#f98a59" stroke-width="1.4"/><line x1="651.5" y1="575.4" x2="657.9" y2="575.4" stroke="#f98a59" stroke-width="1.4"/><line x1="654.7" y1="572.2" x2="654.7" y2="578.6" stroke="#f98a59" stroke-width="1.4"/><line x1="654.8" y1="558.8" x2="661.2" y2="558.8" stroke="#f98a59" stroke-width="1.4"/><line x1="658" y1="555.6" x2="658" y2="562" stroke="#f98a59" stroke-width="1.4"/><line x1="658.1" y1="568.9" x2="664.5" y2="568.9" stroke="#f98a59" stroke-width="1.4"/><line x1="661.3" y1="565.7" x2="661.3" y2="572.1" stroke="#f98a59" stroke-width="1.4"/><line x1="661.3" y1="566.7" x2="667.7" y2="566.7" stroke="#f98a59" stroke-width="1.4"/><line x1="664.5" y1="563.5" x2="664.5" y2="569.9" stroke="#f98a59" stroke-width="1.4"/><line x1="664.9" y1="561.7" x2="671.3" y2="561.7" stroke="#f98a59" stroke-width="1.4"/><line x1="668.1" y1="558.5" x2="668.1" y2="564.9" stroke="#f98a59" stroke-width="1.4"/><line x1="668.2" y1="585.1" x2="674.6" y2="585.1" stroke="#f98a59" stroke-width="1.4"/><line x1="671.4" y1="581.9" x2="671.4" y2="588.3" stroke="#f98a59" stroke-width="1.4"/><line x1="671.4" y1="569.6" x2="677.8" y2="569.6" stroke="#f98a59" stroke-width="1.4"/><line x1="674.6" y1="566.4" x2="674.6" y2="572.8" stroke="#f98a59" stroke-width="1.4"/><line x1="675" y1="563.1" x2="681.4" y2="563.1" stroke="#f98a59" stroke-width="1.4"/><line x1="678.2" y1="559.9" x2="678.2" y2="566.3" stroke="#f98a59" stroke-width="1.4"/><polyline points="409.92,579.45 411.24,579.41 412.57,579.36 413.89,579.29 415.22,579.22 416.55,579.14 417.87,579.04 419.2,578.95 420.52,578.84 421.85,578.74 423.18,578.63 424.5,578.52 425.83,578.41 427.15,578.31 428.48,578.21 429.81,578.12 431.13,578.04 432.46,577.96 433.78,577.9 435.11,577.85 436.44,577.81 437.76,577.78 439.09,577.77 440.41,577.77 441.74,577.78 443.07,577.81 444.39,577.85 445.72,577.9 447.04,577.96 448.37,578.04 449.7,578.12 451.02,578.21 452.35,578.31 453.67,578.41 455,578.52 456.33,578.63 457.65,578.74 458.98,578.84 460.3,578.95 461.63,579.04 462.96,579.14 464.28,579.22 465.61,579.29 466.93,579.36 468.26,579.41 469.59,579.45 470.91,579.48 472.24,579.49 473.56,579.49 474.89,579.48 476.22,579.45 477.54,579.41 478.87,579.36 480.19,579.29 481.52,579.22 482.85,579.14 484.17,579.04 485.5,578.95 486.82,578.84 488.15,578.74 489.48,578.63 490.8,578.52 492.13,578.41 493.45,578.31 494.78,578.21 496.11,578.12 497.43,578.04 498.76,577.96 500.08,577.9 501.41,577.85 502.74,577.81 504.06,577.78 505.39,577.77 506.71,577.77 508.04,577.78 509.37,577.81 510.69,577.85 512.02,577.9 513.34,577.96 514.67,578.04 516,578.12 517.32,578.21 518.65,578.31 519.97,578.41 521.3,578.52 522.62,578.63 523.95,578.74 525.28,578.84 526.6,578.95 527.93,579.04 529.25,579.14 530.58,579.22 531.91,579.29 533.23,579.36 534.56,579.41 535.88,579.45 537.21,579.48 538.54,579.49 539.86,579.49 541.19,579.48 542.52,579.45 543.84,579.41 545.17,579.36 546.49,579.29 547.82,579.22 549.14,579.14 550.47,579.04 551.8,578.95 553.12,578.84 554.45,578.74 555.78,578.63 557.1,578.52 558.43,578.41 559.75,578.31 561.08,578.21 562.4,578.12 563.73,578.04 565.06,577.96 566.38,577.9 567.71,577.85 569.04,577.81 570.36,577.78 571.69,577.77 573.01,577.77 574.34,577.78 575.66,577.81 576.99,577.85 578.32,577.9 579.64,577.96 580.97,578.04 582.3,578.12 583.62,578.21 584.95,578.31 586.27,578.41 587.6,578.52 588.93,578.63 590.25,578.74 591.58,578.84 592.9,578.95 594.23,579.04 595.56,579.14 596.88,579.22 598.21,579.29 599.53,579.36 600.86,579.41 602.18,579.45 603.51,579.48 604.84,579.49 606.16,579.49 607.49,579.48 608.82,579.45 610.14,579.41 611.47,579.36 612.79,579.29 614.12,579.22 615.45,579.14 616.77,579.04 618.1,578.95 619.42,578.84 620.75,578.74 622.08,578.63 623.4,578.52 624.73,578.41 626.05,578.31 627.38,578.21 628.71,578.12 630.03,578.04 631.36,577.96 632.68,577.9 634.01,577.85 635.34,577.81 636.66,577.78 637.99,577.77 639.31,577.77 640.64,577.78 641.97,577.81 643.29,577.85 644.62,577.9 645.94,577.96 647.27,578.04 648.6,578.12 649.92,578.21 651.25,578.31 652.57,578.41 653.9,578.52 655.23,578.63 656.55,578.74 657.88,578.84 659.2,578.95 660.53,579.04 661.86,579.14 663.18,579.22 664.51,579.29 665.83,579.36 667.16,579.41 668.49,579.45 669.81,579.48 671.14,579.49 672.46,579.49 673.79,579.48 675.12,579.45 676.44,579.41 677.77,579.36" fill="none" stroke="#f98a59" stroke-width="2.6" stroke-linejoin="round" stroke-linecap="round"/><polyline points="412.5,612.84 413.5,614.4 414.49,616.31 415.48,618.55 416.48,621.1 417.47,623.93 418.47,627.02 419.46,630.34 420.46,633.87 421.45,637.57 422.45,641.42 423.44,645.37 424.43,649.39 425.43,653.46 426.42,657.52 427.42,661.56 428.41,665.52 429.41,669.39 430.4,673.12 431.4,676.68 432.39,680.04 433.39,683.17 434.38,686.04 435.37,688.64 436.37,690.93 437.36,692.89 438.36,694.52 439.35,695.79 440.35,696.7 441.34,697.23 442.34,697.38 443.33,697.15 444.32,696.54 445.32,695.57 446.31,694.22 447.31,692.53 448.3,690.49 449.3,688.14 450.29,685.49 451.29,682.56 452.28,679.38 453.28,675.98 454.27,672.38 455.26,668.62 456.26,664.74 457.25,660.75 458.25,656.71 459.24,652.64 460.24,648.58 461.23,644.57 462.23,640.64 463.22,636.82 464.21,633.15 465.21,629.66 466.2,626.38 467.2,623.34 468.19,620.56 469.19,618.08 470.18,615.9 471.18,614.06 472.17,612.56 473.17,611.43 474.16,610.66 475.15,610.27 476.15,610.25 477.14,610.62 478.14,611.36 479.13,612.48 480.13,613.95 481.12,615.77 482.12,617.92 483.11,620.39 484.1,623.15 485.1,626.17 486.09,629.43 487.09,632.91 488.08,636.57 489.08,640.38 490.07,644.31 491.07,648.31 492.06,652.37 493.06,656.44 494.05,660.49 495.04,664.47 496.04,668.37 497.03,672.14 498.03,675.74 499.02,679.16 500.02,682.36 501.01,685.3 502.01,687.97 503,690.35 503.99,692.4 504.99,694.12 505.98,695.49 506.98,696.49 507.97,697.12 508.97,697.37 509.96,697.25 510.96,696.74 511.95,695.86 512.95,694.62 513.94,693.01 514.93,691.07 515.93,688.8 516.92,686.22 517.92,683.37 518.91,680.25 519.91,676.91 520.9,673.36 521.9,669.64 522.89,665.78 523.88,661.82 524.88,657.79 525.87,653.73 526.87,649.66 527.86,645.63 528.86,641.68 529.85,637.82 530.85,634.11 531.84,630.57 532.84,627.23 533.83,624.13 534.82,621.28 535.82,618.71 536.81,616.45 537.81,614.52 538.8,612.93 539.8,611.69 540.79,610.83 541.79,610.33 542.78,610.22 543.77,610.49 544.77,611.13 545.76,612.14 546.76,613.52 547.75,615.25 548.75,617.32 549.74,619.7 550.74,622.38 551.73,625.34 552.73,628.54 553.72,631.96 554.71,635.58 555.71,639.35 556.7,643.25 557.7,647.24 558.69,651.29 559.69,655.36 560.68,659.41 561.68,663.42 562.67,667.34 563.66,671.15 564.66,674.8 565.65,678.27 566.65,681.53 567.64,684.54 568.64,687.29 569.63,689.74 570.63,691.89 571.62,693.7 572.62,695.16 573.61,696.26 574.6,696.99 575.6,697.34 576.59,697.32 577.59,696.91 578.58,696.13 579.58,694.98 580.57,693.47 581.57,691.62 582.56,689.44 583.55,686.94 584.55,684.16 585.54,681.11 586.54,677.82 587.53,674.32 588.53,670.65 589.52,666.82 590.52,662.89 591.51,658.87 592.51,654.81 593.5,650.75 594.49,646.7 595.49,642.72 596.48,638.84 597.48,635.09 598.47,631.5 599.47,628.1 600.46,624.93 601.46,622.01 602.45,619.37 603.44,617.02 604.44,615 605.43,613.32 606.43,611.99 607.42,611.02 608.42,610.43 609.41,610.21 610.41,610.38 611.4,610.92 612.4,611.84 613.39,613.12 614.38,614.76 615.38,616.74 616.37,619.04 617.37,621.64 618.36,624.53 619.36,627.66 620.35,631.03 621.35,634.6 622.34,638.33 623.33,642.2 624.33,646.17 625.32,650.2 626.32,654.27 627.31,658.33 628.31,662.36 629.3,666.31 630.3,670.15 631.29,673.84 632.29,677.36 633.28,680.68 634.27,683.76 635.27,686.58 636.26,689.12 637.26,691.35 638.25,693.25 639.25,694.8 640.24,696 641.24,696.83 642.23,697.29 643.22,697.36 644.22,697.06 645.21,696.38 646.21,695.33 647.2,693.91 648.2,692.15 649.19,690.05 650.19,687.63 651.18,684.92 652.18,681.94 653.17,678.72 654.16,675.27 655.16,671.64 656.15,667.86 657.15,663.95 658.14,659.95 659.14,655.9 660.13,651.83 661.13,647.78 662.12,643.78 663.11,639.86 664.11,636.07 665.1,632.44 666.1,628.99 667.09,625.75 668.09,622.76 669.08,620.04 670.08,617.62 671.07,615.51 672.07,613.73 673.06,612.31 674.05,611.24 675.05,610.55 676.04,610.23 677.04,610.3" fill="none" stroke="#df7ccb" stroke-width="2.4" stroke-linejoin="round" stroke-linecap="round"/><text x="416.6" y="551" font-size="14" text-anchor="start" fill="#000">B = 478 G</text><text x="555.7" y="767" font-size="14" text-anchor="middle" fill="#000">Pulse duration (μs)</text><text x="373.3" y="639.2" font-size="14" text-anchor="middle" fill="#000" transform="rotate(-90 373.3 639.2)">ΔPL/PL</text><text x="349.7" y="527.6" font-size="18" text-anchor="start" fill="#000" letter-spacing="1.4">(f)</text></svg></body></html>
